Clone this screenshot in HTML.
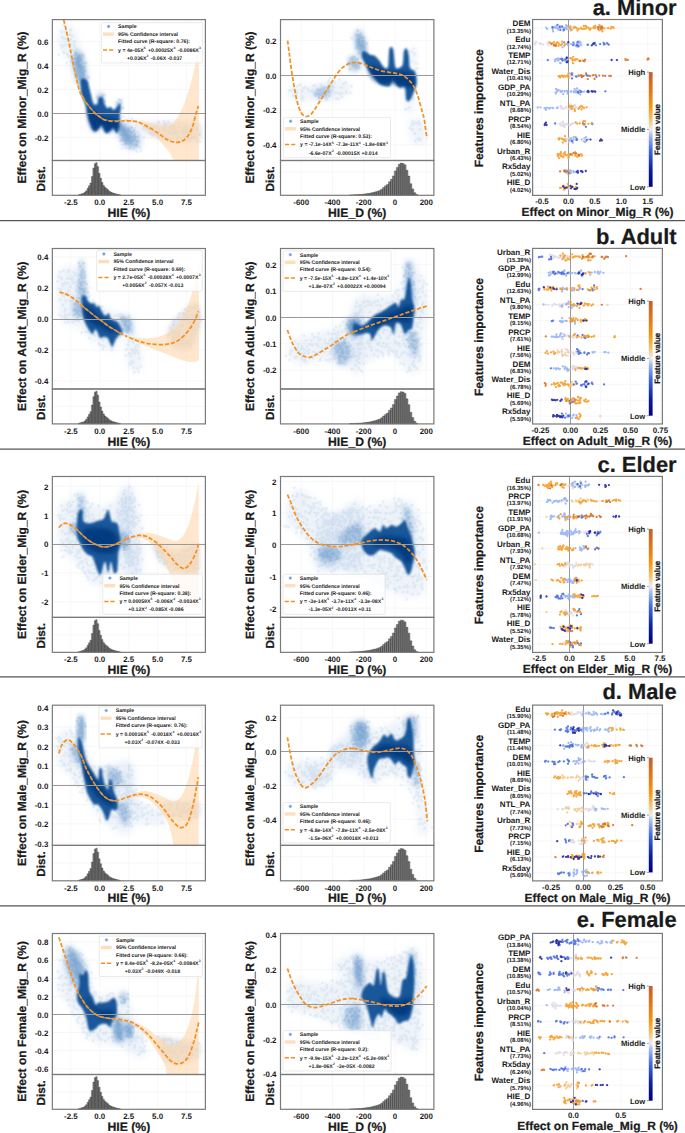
<!DOCTYPE html>
<html><head><meta charset="utf-8"><style>
html,body{margin:0;padding:0;background:#fff;}
svg{display:block;text-rendering:geometricPrecision;}
.k{stroke:#1a1a1a;stroke-width:0.22px;}
</style></head><body>
<svg width="685" height="1133" viewBox="0 0 685 1133" font-family="Liberation Sans, sans-serif" font-weight="bold">
<defs>
<filter id="b10" x="-30%" y="-30%" width="160%" height="160%"><feGaussianBlur stdDeviation="1.0"/></filter><filter id="b20" x="-30%" y="-30%" width="160%" height="160%"><feGaussianBlur stdDeviation="2.0"/></filter><filter id="b25" x="-30%" y="-30%" width="160%" height="160%"><feGaussianBlur stdDeviation="2.5"/></filter><filter id="b35" x="-30%" y="-30%" width="160%" height="160%"><feGaussianBlur stdDeviation="3.5"/></filter>
<linearGradient id="cbar" x1="0" y1="1" x2="0" y2="0">
<stop offset="0" stop-color="#00007a"/>
<stop offset="0.15" stop-color="#0a1fa0"/>
<stop offset="0.32" stop-color="#3f6ae0"/>
<stop offset="0.45" stop-color="#a9bdf0"/>
<stop offset="0.5" stop-color="#ecebf0"/>
<stop offset="0.58" stop-color="#f3c77a"/>
<stop offset="0.7" stop-color="#f7960c"/>
<stop offset="0.85" stop-color="#e0761a"/>
<stop offset="1" stop-color="#c0602a"/>
</linearGradient>
</defs>
<rect width="685" height="1133" fill="#fff"/>
<line x1="70.85" y1="19.6" x2="70.85" y2="195.3" stroke="#f3f3f3" stroke-width="0.7"/>
<line x1="99.75" y1="19.6" x2="99.75" y2="195.3" stroke="#f3f3f3" stroke-width="0.7"/>
<line x1="128.65" y1="19.6" x2="128.65" y2="195.3" stroke="#f3f3f3" stroke-width="0.7"/>
<line x1="157.55" y1="19.6" x2="157.55" y2="195.3" stroke="#f3f3f3" stroke-width="0.7"/>
<line x1="186.45" y1="19.6" x2="186.45" y2="195.3" stroke="#f3f3f3" stroke-width="0.7"/>
<line x1="52.35" y1="41.50" x2="205.4" y2="41.50" stroke="#f3f3f3" stroke-width="0.7"/>
<line x1="52.35" y1="65.50" x2="205.4" y2="65.50" stroke="#f3f3f3" stroke-width="0.7"/>
<line x1="52.35" y1="89.50" x2="205.4" y2="89.50" stroke="#f3f3f3" stroke-width="0.7"/>
<line x1="52.35" y1="113.50" x2="205.4" y2="113.50" stroke="#f3f3f3" stroke-width="0.7"/>
<line x1="52.35" y1="137.50" x2="205.4" y2="137.50" stroke="#f3f3f3" stroke-width="0.7"/>
<line x1="52.35" y1="177.90" x2="205.4" y2="177.90" stroke="#f3f3f3" stroke-width="0.7"/>
<clipPath id="clip_aL"><rect x="52.35" y="19.6" width="153.05" height="140.90"/></clipPath>
<g clip-path="url(#clip_aL)">
<path d="M140.00,124.00 C142.00,122.00 152.50,122.33 160.00,122.00 C167.50,121.67 178.33,121.67 185.00,122.00 C191.67,122.33 197.50,121.00 200.00,124.00 C202.50,127.00 202.50,137.00 200.00,140.00 C197.50,143.00 190.83,142.00 185.00,142.00 C179.17,142.00 171.17,141.33 165.00,140.00 C158.83,138.67 152.17,136.67 148.00,134.00 C143.83,131.33 138.00,126.00 140.00,124.00Z" fill="#d0d3da" fill-opacity="0.6" filter="url(#b25)"/>
<path d="M186.4 129.3h0M168.8 131.4h0M180.9 139.1h0M189.6 132.3h0M165.3 139.1h0M196.6 129.5h0M153.4 131.7h0M168.9 131.7h0M153.4 127.5h0M151.8 128.6h0M158.6 121.9h0M191.9 131.6h0M174.2 126.1h0M199.8 141.6h0M148.0 129.1h0M184.2 135.7h0M196.3 128.4h0M190.6 134.2h0M157.5 134.8h0M194.3 137.4h0M173.3 132.9h0M189.1 131.7h0M150.7 133.2h0M184.9 136.8h0M163.2 128.0h0M169.4 139.3h0M171.5 128.4h0M168.4 122.1h0M200.0 134.4h0M165.1 124.2h0M187.7 132.0h0M191.2 129.2h0M174.8 131.0h0M155.8 132.4h0M189.4 140.5h0M194.2 137.1h0M190.1 132.3h0M174.4 131.1h0M174.3 128.5h0M172.9 133.7h0M158.5 131.7h0M173.4 133.8h0M176.7 132.9h0M152.4 135.0h0M191.9 138.0h0M189.1 138.2h0M179.0 122.7h0M185.1 127.5h0M164.1 121.3h0M150.3 132.4h0M150.5 129.5h0M184.6 130.9h0M158.5 129.4h0M165.1 127.6h0M170.2 127.2h0M177.4 138.9h0M182.3 132.7h0M186.6 130.6h0M154.8 134.4h0M163.2 134.8h0M158.1 137.3h0M144.5 127.2h0M197.1 141.1h0M182.9 129.4h0M189.2 141.5h0M174.2 126.0h0M181.7 132.0h0M164.6 129.9h0" stroke="#9aa0ac" stroke-opacity="0.15" stroke-width="3.0" stroke-linecap="round" fill="none"/>
<path d="M58.00,38.00 C58.00,33.67 60.00,30.00 62.00,28.00 C64.00,26.00 67.67,25.00 70.00,26.00 C72.33,27.00 74.33,30.67 76.00,34.00 C77.67,37.33 78.67,41.67 80.00,46.00 C81.33,50.33 83.00,55.33 84.00,60.00 C85.00,64.67 86.33,70.67 86.00,74.00 C85.67,77.33 83.67,80.33 82.00,80.00 C80.33,79.67 78.00,75.00 76.00,72.00 C74.00,69.00 72.33,65.00 70.00,62.00 C67.67,59.00 64.00,58.00 62.00,54.00 C60.00,50.00 58.00,42.33 58.00,38.00Z" fill="#bcd2ea" fill-opacity="0.26" filter="url(#b35)"/>
<path d="M115.00,122.00 C115.67,119.00 119.17,118.33 122.00,118.00 C124.83,117.67 128.67,118.67 132.00,120.00 C135.33,121.33 140.00,123.33 142.00,126.00 C144.00,128.67 144.33,132.33 144.00,136.00 C143.67,139.67 142.00,145.33 140.00,148.00 C138.00,150.67 134.67,152.33 132.00,152.00 C129.33,151.67 126.33,148.67 124.00,146.00 C121.67,143.33 119.50,140.00 118.00,136.00 C116.50,132.00 114.33,125.00 115.00,122.00Z" fill="#bcd2ea" fill-opacity="0.26" filter="url(#b35)"/>
<path d="M62.1 47.2h0M80.1 76.1h0M79.7 64.6h0M70.0 34.7h0M76.4 63.4h0M61.8 31.7h0M82.2 68.0h0M76.0 53.2h0M65.8 44.4h0M63.4 25.1h0M74.7 47.0h0M66.0 31.4h0M64.7 38.6h0M71.2 56.3h0M73.9 50.5h0M75.3 50.9h0M76.2 61.6h0M63.6 52.4h0M72.6 36.2h0M68.9 56.4h0M80.1 75.3h0M75.7 72.7h0M78.4 57.8h0M77.1 74.2h0M62.2 37.6h0M76.1 62.2h0M68.1 55.1h0M81.8 58.9h0M83.1 73.2h0M74.6 63.5h0M77.2 49.1h0M64.0 46.1h0M74.0 44.5h0M61.0 44.7h0M70.6 29.7h0M77.2 61.8h0M67.2 54.0h0M66.5 62.7h0M79.1 66.0h0M83.7 57.6h0M67.5 40.1h0M58.7 54.4h0M74.3 41.5h0M71.2 44.4h0M72.5 49.9h0M69.3 45.9h0M78.7 61.9h0M70.7 60.8h0M70.6 39.4h0M79.1 56.1h0M122.0 145.0h0M135.0 130.0h0M119.1 126.6h0M128.5 120.9h0M119.2 118.1h0M135.5 148.0h0M122.9 116.5h0M131.3 144.8h0M143.8 137.4h0M126.0 148.1h0M116.9 131.5h0M127.9 133.0h0M123.4 126.9h0M137.8 132.3h0M131.3 127.0h0M134.2 132.2h0M129.8 148.9h0M140.8 150.7h0M123.5 132.6h0M136.9 151.6h0M122.2 148.5h0M141.8 120.9h0M120.6 129.6h0M126.1 120.3h0M135.1 145.1h0M129.4 143.9h0M134.9 128.2h0M133.3 149.1h0M136.3 125.2h0M130.3 131.2h0M135.0 136.7h0M130.7 121.1h0M124.3 129.7h0M128.4 139.8h0M133.0 145.0h0M136.8 143.9h0M138.3 146.5h0M139.8 134.9h0M126.2 120.6h0M127.1 142.4h0M131.9 118.8h0M138.1 132.2h0M140.3 147.4h0M125.6 129.9h0" stroke="#5b8fc8" stroke-opacity="0.1" stroke-width="3.0" stroke-linecap="round" fill="none"/>
<path d="M73.36,57.22 C74.29,54.22 78.42,53.10 80.10,54.97 C81.79,56.84 82.91,63.96 83.47,68.46 C84.04,72.96 84.41,79.33 83.47,81.95 C82.54,84.57 79.35,85.70 77.85,84.20 C76.36,82.70 75.23,77.45 74.48,72.96 C73.73,68.46 72.42,60.22 73.36,57.22Z" fill="#5a8fc6" fill-opacity="0.42" filter="url(#b25)"/>
<path d="M119.45,124.67 C120.57,123.17 125.44,125.04 128.44,126.91 C131.44,128.79 135.56,132.91 137.43,135.91 C139.31,138.90 140.80,143.03 139.68,144.90 C138.56,146.77 133.68,148.65 130.69,147.15 C127.69,145.65 123.57,139.65 121.69,135.91 C119.82,132.16 118.32,126.16 119.45,124.67Z" fill="#5a8fc6" fill-opacity="0.42" filter="url(#b25)"/>
<path d="M74.00,56.00 C74.33,53.00 76.50,50.00 78.00,50.00 C79.50,50.00 81.67,52.67 83.00,56.00 C84.33,59.33 85.17,66.00 86.00,70.00 C86.83,74.00 88.33,77.33 88.00,80.00 C87.67,82.67 85.33,86.00 84.00,86.00 C82.67,86.00 81.33,83.00 80.00,80.00 C78.67,77.00 77.00,72.00 76.00,68.00 C75.00,64.00 73.67,59.00 74.00,56.00Z" fill="#5a8fc6" fill-opacity="0.42" filter="url(#b25)"/>
<path d="M118.00,126.00 C118.83,124.33 122.33,123.33 124.00,124.00 C125.67,124.67 126.67,127.33 128.00,130.00 C129.33,132.67 132.00,137.33 132.00,140.00 C132.00,142.67 129.67,145.67 128.00,146.00 C126.33,146.33 123.50,144.00 122.00,142.00 C120.50,140.00 119.67,136.67 119.00,134.00 C118.33,131.33 117.17,127.67 118.00,126.00Z" fill="#5a8fc6" fill-opacity="0.42" filter="url(#b25)"/>
<path d="M97.00,96.00 C97.17,94.17 98.83,92.17 100.00,92.00 C101.17,91.83 103.33,93.33 104.00,95.00 C104.67,96.67 104.83,100.67 104.00,102.00 C103.17,103.33 100.17,104.00 99.00,103.00 C97.83,102.00 96.83,97.83 97.00,96.00Z" fill="#5a8fc6" fill-opacity="0.42" filter="url(#b25)"/>
<path d="M116.00,104.00 C116.33,102.17 118.00,99.17 119.00,99.00 C120.00,98.83 121.67,101.17 122.00,103.00 C122.33,104.83 121.83,108.83 121.00,110.00 C120.17,111.17 117.83,111.00 117.00,110.00 C116.17,109.00 115.67,105.83 116.00,104.00Z" fill="#5a8fc6" fill-opacity="0.42" filter="url(#b25)"/>
<path d="M79.0 78.6h0M84.7 67.0h0M80.9 71.3h0M84.0 78.1h0M81.8 79.0h0M77.5 70.5h0M76.3 68.2h0M82.6 77.7h0M75.5 52.9h0M80.2 67.8h0M73.2 66.7h0M75.3 63.7h0M80.9 76.3h0M82.8 70.2h0M79.0 72.3h0M76.0 71.2h0M79.1 71.3h0M76.2 63.2h0M76.8 73.5h0M78.4 85.2h0M75.6 73.2h0M83.9 75.9h0M76.6 67.9h0M78.0 84.1h0M79.7 76.1h0M83.7 81.9h0M78.7 66.3h0M77.1 77.9h0M77.2 75.5h0M78.0 64.8h0M80.2 58.2h0M80.5 65.3h0M79.1 65.2h0M76.2 77.5h0M80.9 66.7h0M80.9 71.5h0M131.5 127.8h0M125.3 136.2h0M130.2 147.6h0M131.5 137.2h0M122.8 132.0h0M121.8 131.1h0M125.2 136.4h0M127.9 138.8h0M135.8 137.2h0M133.8 139.2h0M136.5 145.2h0M124.4 135.7h0M125.6 131.8h0M124.1 129.2h0M134.6 134.7h0M123.6 140.2h0M125.7 140.4h0M120.6 130.4h0M126.9 134.9h0M124.9 130.6h0M120.3 133.6h0M122.7 127.7h0M131.4 132.4h0M134.8 140.0h0M137.2 136.8h0M132.5 136.6h0M129.6 137.3h0M128.8 130.7h0M138.6 140.8h0M128.4 128.7h0M122.8 130.5h0M133.7 130.7h0M122.8 138.5h0M130.1 135.9h0M122.6 133.9h0M134.8 136.5h0M130.8 142.0h0M132.4 140.4h0M136.8 141.4h0M127.7 136.1h0M123.0 139.1h0M138.2 137.0h0M76.8 64.2h0M75.2 55.1h0M82.7 74.3h0M82.6 78.6h0M85.1 70.9h0M75.8 58.6h0M87.4 83.2h0M81.1 69.0h0M82.3 80.2h0M88.4 77.5h0M83.4 75.0h0M83.8 72.0h0M76.1 69.3h0M83.5 66.9h0M78.2 59.6h0M78.4 72.2h0M80.4 68.7h0M80.9 69.7h0M78.9 55.9h0M77.6 66.4h0M81.6 55.2h0M84.9 81.7h0M82.2 73.1h0M84.6 62.9h0M77.0 58.5h0M80.6 60.5h0M83.4 55.2h0M72.1 62.0h0M82.4 54.4h0M81.2 68.7h0M80.9 56.1h0M86.2 63.0h0M85.0 70.4h0M73.2 59.6h0M79.0 61.1h0M76.4 67.7h0M76.4 69.6h0M82.9 69.6h0M78.1 61.6h0M77.4 66.4h0M85.4 80.8h0M124.5 132.5h0M126.0 139.2h0M124.7 134.8h0M125.2 144.0h0M124.6 135.9h0M119.7 130.0h0M121.5 125.7h0M122.1 135.2h0M130.6 137.5h0M125.3 140.5h0M127.2 136.2h0M121.4 124.5h0M123.4 140.7h0M120.9 126.0h0M124.6 133.7h0M122.4 131.3h0M120.7 140.5h0M125.4 136.8h0M120.6 125.6h0M118.9 128.8h0M120.7 134.5h0M100.9 99.6h0M102.6 95.0h0M96.9 97.2h0M98.0 96.3h0M103.9 94.9h0M102.3 99.5h0M105.1 101.3h0M103.4 95.7h0M100.5 102.9h0M99.2 99.7h0M123.2 108.2h0M119.3 99.9h0M120.1 103.6h0M118.5 105.7h0M117.0 109.0h0M118.3 107.2h0M121.0 100.4h0M117.5 103.2h0" stroke="#3a75b5" stroke-opacity="0.14" stroke-width="2.8" stroke-linecap="round" fill="none"/>
<path d="M81.20,79.00 C82.28,78.27 85.42,77.97 87.00,80.40 C88.58,82.83 89.60,89.70 90.70,93.60 C91.80,97.50 92.50,102.10 93.60,103.80 C94.70,105.50 96.45,104.77 97.30,103.80 C98.15,102.83 97.85,99.10 98.70,98.00 C99.55,96.90 101.42,96.23 102.40,97.20 C103.38,98.17 103.75,101.97 104.60,103.80 C105.45,105.63 106.53,107.72 107.50,108.20 C108.47,108.68 109.43,106.47 110.40,106.70 C111.37,106.93 112.33,109.35 113.30,109.60 C114.27,109.85 115.22,109.17 116.20,108.20 C117.18,107.23 118.47,104.05 119.20,103.80 C119.93,103.55 120.48,104.75 120.60,106.70 C120.72,108.65 120.27,111.60 119.90,115.50 C119.53,119.40 119.02,127.18 118.40,130.10 C117.78,133.02 117.05,133.48 116.20,133.00 C115.35,132.52 114.27,127.68 113.30,127.20 C112.33,126.72 111.37,129.13 110.40,130.10 C109.43,131.07 108.47,132.77 107.50,133.00 C106.53,133.23 105.58,132.97 104.60,131.50 C103.62,130.03 102.58,124.68 101.60,124.20 C100.62,123.72 99.67,127.38 98.70,128.60 C97.73,129.82 96.77,131.25 95.80,131.50 C94.83,131.75 93.75,131.32 92.90,130.10 C92.05,128.88 91.43,126.15 90.70,124.20 C89.97,122.25 89.23,121.07 88.50,118.40 C87.77,115.73 87.15,111.37 86.30,108.20 C85.45,105.03 84.25,101.83 83.40,99.40 C82.55,96.97 81.68,96.03 81.20,93.60 C80.72,91.17 80.50,87.23 80.50,84.80 C80.50,82.37 80.12,79.73 81.20,79.00Z" fill="#0c4f96" fill-opacity="0.95" filter="url(#b10)"/>
<path d="M87.77,108.18 C88.86,106.72 93.00,111.09 95.80,112.55 C98.59,114.01 101.15,115.96 104.55,116.93 C107.96,117.91 113.80,117.66 116.23,118.39 C118.67,119.12 118.79,119.37 119.15,121.31 C119.52,123.26 119.40,128.86 118.42,130.07 C117.45,131.29 115.14,128.25 113.31,128.61 C111.49,128.98 109.42,132.75 107.47,132.26 C105.53,131.78 103.58,125.94 101.64,125.69 C99.69,125.45 97.38,130.32 95.80,130.80 C94.21,131.29 93.24,130.19 92.15,128.61 C91.05,127.03 89.96,124.72 89.23,121.31 C88.50,117.91 86.67,109.64 87.77,108.18Z" fill="#05397d" fill-opacity="0.9" filter="url(#b20)"/>
<path d="M63.70,19.10 C64.42,22.13 66.55,30.60 68.00,37.30 C69.45,44.00 70.57,50.77 72.40,59.30 C74.23,67.83 77.23,82.25 79.00,88.50 C80.77,94.75 81.67,94.37 83.00,96.80 C84.33,99.23 85.67,101.22 87.00,103.10 C88.33,104.98 89.53,106.40 91.00,108.10 C92.47,109.80 94.30,111.93 95.80,113.30 C97.30,114.67 98.53,115.32 100.00,116.30 C101.47,117.28 102.10,118.50 104.60,119.20 C107.10,119.90 111.43,120.35 115.00,120.50 C118.57,120.65 122.22,120.02 126.00,120.10 C129.78,120.18 133.80,120.50 137.70,121.00 C141.60,121.50 145.90,122.37 149.40,123.10 C152.90,123.83 155.78,124.92 158.70,125.40 C161.62,125.88 164.37,126.58 166.90,126.00 C169.43,125.42 171.77,123.95 173.90,121.90 C176.03,119.85 177.95,116.82 179.70,113.70 C181.45,110.58 182.83,107.28 184.40,103.20 C185.97,99.12 187.55,94.45 189.10,89.20 C190.65,83.95 192.55,76.57 193.70,71.70 C194.85,66.83 195.28,64.28 196.00,60.00 C196.72,55.72 197.50,49.67 198.00,46.00 C198.50,42.33 198.83,39.33 199.00,38.00 L199.00,160.30 C195.08,160.30 180.27,161.43 175.50,160.30 C170.73,159.17 172.42,156.00 170.40,153.50 C168.38,151.00 165.73,148.03 163.40,145.30 C161.07,142.57 158.73,139.63 156.40,137.10 C154.07,134.57 152.52,132.33 149.40,130.10 C146.28,127.87 141.60,125.17 137.70,123.70 C133.80,122.23 129.78,121.75 126.00,121.30 C122.22,120.85 118.57,121.12 115.00,121.00 C111.43,120.88 107.10,121.15 104.60,120.60 C102.10,120.05 101.47,118.68 100.00,117.70 C98.53,116.72 97.30,116.07 95.80,114.70 C94.30,113.33 92.47,111.20 91.00,109.50 C89.53,107.80 88.33,106.38 87.00,104.50 C85.67,102.62 84.33,100.63 83.00,98.20 C81.67,95.77 80.77,96.15 79.00,89.90 C77.23,83.65 74.23,69.23 72.40,60.70 C70.57,52.17 69.45,45.40 68.00,38.70 C66.55,32.00 64.42,23.53 63.70,20.50Z" fill="#fdd7ac" fill-opacity="0.6"/>
<line x1="52.35" y1="113.50" x2="205.4" y2="113.50" stroke="#9a9a9a" stroke-width="1"/>
<path d="M63.70,19.80 C64.42,22.83 66.55,31.30 68.00,38.00 C69.45,44.70 70.57,51.47 72.40,60.00 C74.23,68.53 77.23,82.95 79.00,89.20 C80.77,95.45 81.67,95.07 83.00,97.50 C84.33,99.93 85.67,101.92 87.00,103.80 C88.33,105.68 89.53,107.10 91.00,108.80 C92.47,110.50 94.30,112.63 95.80,114.00 C97.30,115.37 98.53,116.02 100.00,117.00 C101.47,117.98 102.38,119.18 104.60,119.90 C106.82,120.62 110.40,121.12 113.30,121.30 C116.20,121.48 119.88,121.10 122.00,121.00 C124.12,120.90 123.38,120.55 126.00,120.70 C128.62,120.85 133.80,120.73 137.70,121.90 C141.60,123.07 145.90,125.75 149.40,127.70 C152.90,129.65 155.78,131.65 158.70,133.60 C161.62,135.55 164.18,137.95 166.90,139.40 C169.62,140.85 172.48,142.00 175.00,142.30 C177.52,142.60 179.85,142.27 182.00,141.20 C184.15,140.13 186.13,138.33 187.90,135.90 C189.67,133.47 191.25,130.30 192.60,126.60 C193.95,122.90 195.03,117.12 196.00,113.70 C196.97,110.28 198.00,107.37 198.40,106.10" fill="none" stroke="#f7901e" stroke-width="1.75" stroke-dasharray="4.2 1.9"/>
</g>
<rect x="101.40" y="22.70" width="101.00" height="40.30" rx="1" fill="#fff" fill-opacity="0.8" stroke="#dcdcdc" stroke-width="0.6"/>
<circle cx="108.60" cy="26.50" r="1.4" fill="#7593d2" stroke="#b5c5ea" stroke-width="0.5"/>
<rect x="103.00" y="32.40" width="10.8" height="3.4" fill="#fdd7ac" fill-opacity="0.8"/>
<line x1="103.00" y1="49.90" x2="113.80" y2="49.90" stroke="#f7901e" stroke-width="1.5" stroke-dasharray="4.2 1.9"/>
<text x="118.10" y="28.30" font-size="5.2" text-anchor="start" fill="#1a1a1a" >Sample</text>
<text x="118.10" y="35.90" font-size="5.2" text-anchor="start" fill="#1a1a1a" >95% Confidence interval</text>
<text x="118.10" y="43.20" font-size="5.2" text-anchor="start" fill="#1a1a1a" >Fitted curve (R-square: 0.76):</text>
<text x="118.10" y="51.70" font-size="5.2" text-anchor="start" fill="#1a1a1a" ><tspan dy="0" dx="0">y&#160;=&#160;4e-05X</tspan><tspan font-size="3.4" dy="-2.9" dx="0.2">5</tspan><tspan dy="2.9" dx="0.9">&#160;+0.00025X</tspan><tspan font-size="3.4" dy="-2.9" dx="0.2">4</tspan><tspan dy="2.9" dx="0.9">&#160;-0.0086X</tspan><tspan font-size="3.4" dy="-2.9" dx="0.2">3</tspan></text>
<text x="126.90" y="59.80" font-size="5.2" text-anchor="start" fill="#1a1a1a" ><tspan dy="0" dx="0">+0.036X</tspan><tspan font-size="3.4" dy="-2.9" dx="0.2">2</tspan><tspan dy="2.9" dx="0.9">&#160;-0.06X&#160;-0.037</tspan></text>
<path d="M78.35,195.30V194.66h1.45V195.30ZM79.80,195.30V194.21h1.45V195.30ZM81.25,195.30V193.76h1.45V195.30ZM82.70,195.30V193.32h1.45V195.30ZM84.15,195.30V192.28h1.45V195.30ZM85.60,195.30V190.76h1.45V195.30ZM87.05,195.30V188.28h1.45V195.30ZM88.50,195.30V185.75h1.45V195.30ZM89.95,195.30V183.11h1.45V195.30ZM91.40,195.30V176.47h1.45V195.30ZM92.85,195.30V168.12h1.45V195.30ZM94.30,195.30V163.63h1.45V195.30ZM95.75,195.30V162.63h1.45V195.30ZM97.20,195.30V166.60h1.45V195.30ZM98.65,195.30V173.37h1.45V195.30ZM100.10,195.30V178.28h1.45V195.30ZM101.55,195.30V182.57h1.45V195.30ZM103.00,195.30V185.42h1.45V195.30ZM104.45,195.30V187.36h1.45V195.30ZM105.90,195.30V188.62h1.45V195.30ZM107.35,195.30V189.81h1.45V195.30ZM108.80,195.30V191.20h1.45V195.30ZM110.25,195.30V192.11h1.45V195.30ZM111.70,195.30V192.79h1.45V195.30ZM113.15,195.30V193.29h1.45V195.30ZM114.60,195.30V193.67h1.45V195.30ZM116.05,195.30V194.04h1.45V195.30ZM117.50,195.30V194.38h1.45V195.30ZM118.95,195.30V194.71h1.45V195.30Z" fill="#808080" stroke="#2e2e2e" stroke-width="0.35"/>
<text x="48.35" y="44.90" font-size="7.9" text-anchor="end" fill="#1a1a1a" >0.6</text>
<text x="48.35" y="68.90" font-size="7.9" text-anchor="end" fill="#1a1a1a" >0.4</text>
<text x="48.35" y="92.90" font-size="7.9" text-anchor="end" fill="#1a1a1a" >0.2</text>
<text x="48.35" y="116.90" font-size="7.9" text-anchor="end" fill="#1a1a1a" >0.0</text>
<text x="48.35" y="140.90" font-size="7.9" text-anchor="end" fill="#1a1a1a" >-0.2</text>
<text x="70.85" y="205.30" font-size="7.9" text-anchor="middle" fill="#1a1a1a" >-2.5</text>
<text x="99.75" y="205.30" font-size="7.9" text-anchor="middle" fill="#1a1a1a" >0.0</text>
<text x="128.65" y="205.30" font-size="7.9" text-anchor="middle" fill="#1a1a1a" >2.5</text>
<text x="157.55" y="205.30" font-size="7.9" text-anchor="middle" fill="#1a1a1a" >5.0</text>
<text x="186.45" y="205.30" font-size="7.9" text-anchor="middle" fill="#1a1a1a" >7.5</text>
<text class="k" x="128.88" y="217.10" font-size="12.2" text-anchor="middle" fill="#1a1a1a" >HIE (%)</text>
<text class="k" transform="translate(25.75,107.45) rotate(-90)" font-size="12" text-anchor="middle" fill="#1a1a1a">Effect on Minor_Mig_R (%)</text>
<text class="k" transform="translate(45.45,178.80) rotate(-90)" font-size="11.7" text-anchor="middle" fill="#1a1a1a">Dist.</text>
<rect x="52.35" y="19.6" width="153.05" height="140.90" fill="none" stroke="#7a7a7a" stroke-width="1.2"/>
<rect x="52.35" y="160.5" width="153.05" height="34.80" fill="none" stroke="#7a7a7a" stroke-width="1.2"/>
<line x1="301.25" y1="19.6" x2="301.25" y2="195.3" stroke="#f3f3f3" stroke-width="0.7"/>
<line x1="332.50" y1="19.6" x2="332.50" y2="195.3" stroke="#f3f3f3" stroke-width="0.7"/>
<line x1="363.75" y1="19.6" x2="363.75" y2="195.3" stroke="#f3f3f3" stroke-width="0.7"/>
<line x1="395.00" y1="19.6" x2="395.00" y2="195.3" stroke="#f3f3f3" stroke-width="0.7"/>
<line x1="426.25" y1="19.6" x2="426.25" y2="195.3" stroke="#f3f3f3" stroke-width="0.7"/>
<line x1="280.5" y1="40.40" x2="433.9" y2="40.40" stroke="#f3f3f3" stroke-width="0.7"/>
<line x1="280.5" y1="75.20" x2="433.9" y2="75.20" stroke="#f3f3f3" stroke-width="0.7"/>
<line x1="280.5" y1="110.00" x2="433.9" y2="110.00" stroke="#f3f3f3" stroke-width="0.7"/>
<line x1="280.5" y1="144.80" x2="433.9" y2="144.80" stroke="#f3f3f3" stroke-width="0.7"/>
<line x1="280.5" y1="171.70" x2="433.9" y2="171.70" stroke="#f3f3f3" stroke-width="0.7"/>
<clipPath id="clip_aM"><rect x="280.5" y="19.6" width="153.40" height="140.90"/></clipPath>
<g clip-path="url(#clip_aM)">
<path d="M288.18,87.91 C289.73,86.35 293.04,86.15 297.52,85.57 C302.00,84.99 309.20,85.37 315.04,84.40 C320.88,83.43 327.49,80.31 332.55,79.73 C337.62,79.15 342.29,80.12 345.40,80.90 C348.52,81.68 350.46,82.65 351.24,84.40 C352.02,86.15 351.82,89.07 350.07,91.41 C348.32,93.74 344.62,96.86 340.73,98.42 C336.84,99.97 331.00,100.36 326.72,100.75 C322.43,101.14 319.90,100.95 315.04,100.75 C310.17,100.56 302.00,100.56 297.52,99.58 C293.04,98.61 289.73,96.86 288.18,94.91 C286.62,92.97 286.62,89.46 288.18,87.91Z" fill="#bcd2ea" fill-opacity="0.26" filter="url(#b35)"/>
<path d="M353.68,34.94 C354.50,32.08 356.95,29.63 358.58,30.04 C360.22,30.44 362.26,34.12 363.49,37.39 C364.71,40.66 365.94,46.59 365.94,49.66 C365.94,52.72 364.92,54.77 363.49,55.79 C362.06,56.81 358.99,57.22 357.36,55.79 C355.72,54.36 354.29,50.68 353.68,47.20 C353.07,43.73 352.86,37.80 353.68,34.94Z" fill="#bcd2ea" fill-opacity="0.26" filter="url(#b35)"/>
<path d="M411.31,48.43 C411.93,43.93 415.20,46.39 416.22,49.66 C417.24,52.93 417.44,63.35 417.44,68.05 C417.44,72.75 417.03,76.43 416.22,77.86 C415.40,79.29 413.36,81.54 412.54,76.63 C411.72,71.73 410.70,52.93 411.31,48.43Z" fill="#bcd2ea" fill-opacity="0.26" filter="url(#b35)"/>
<path d="M403.95,90.12 C404.98,88.08 409.68,90.12 411.31,92.57 C412.95,95.03 414.17,100.95 413.76,104.84 C413.36,108.72 410.29,115.87 408.86,115.87 C407.43,115.87 406.00,109.13 405.18,104.84 C404.36,100.55 402.93,92.17 403.95,90.12Z" fill="#bcd2ea" fill-opacity="0.26" filter="url(#b35)"/>
<path d="M410.00,121.00 C411.33,118.00 415.50,117.50 418.00,118.00 C420.50,118.50 423.83,120.00 425.00,124.00 C426.17,128.00 426.50,138.50 425.00,142.00 C423.50,145.50 418.50,146.00 416.00,145.00 C413.50,144.00 411.00,140.00 410.00,136.00 C409.00,132.00 408.67,124.00 410.00,121.00Z" fill="#bcd2ea" fill-opacity="0.26" filter="url(#b35)"/>
<path d="M350.00,59.47 C351.23,57.63 356.13,58.85 357.36,60.69 C358.58,62.53 358.58,68.66 357.36,70.50 C356.13,72.34 351.23,73.57 350.00,71.73 C348.77,69.89 348.77,61.31 350.00,59.47Z" fill="#bcd2ea" fill-opacity="0.26" filter="url(#b35)"/>
<path d="M321.3 87.6h0M320.8 84.4h0M291.8 89.9h0M319.1 98.3h0M336.3 98.7h0M351.5 86.3h0M295.6 92.2h0M293.9 95.7h0M339.6 79.2h0M289.3 90.4h0M300.0 84.9h0M321.5 87.2h0M345.7 82.2h0M323.6 89.2h0M308.2 90.4h0M329.2 95.9h0M343.6 83.7h0M338.8 98.8h0M296.0 100.2h0M300.0 84.2h0M322.0 86.5h0M336.2 92.7h0M334.6 82.6h0M304.7 86.9h0M304.3 88.3h0M311.0 90.9h0M341.9 97.1h0M327.0 99.6h0M307.7 89.1h0M302.8 99.9h0M328.4 82.8h0M294.0 95.9h0M342.2 93.2h0M333.4 86.5h0M314.6 85.2h0M312.3 91.3h0M296.8 93.1h0M339.4 93.0h0M295.9 90.7h0M330.4 77.9h0M293.3 95.8h0M303.1 96.6h0M301.3 98.3h0M304.9 87.4h0M325.9 96.6h0M329.2 80.3h0M302.5 91.2h0M297.2 86.0h0M350.2 92.7h0M340.5 93.9h0M331.1 85.0h0M325.8 97.3h0M341.4 87.4h0M313.7 85.4h0M333.3 81.7h0M313.9 94.1h0M303.0 88.3h0M346.1 93.1h0M346.6 91.2h0M360.5 43.6h0M351.5 38.0h0M362.5 38.3h0M362.6 40.7h0M355.9 47.1h0M356.0 44.7h0M362.3 36.6h0M358.7 44.4h0M362.9 45.3h0M360.4 50.4h0M360.4 49.8h0M355.1 48.0h0M357.0 40.8h0M415.8 63.4h0M414.4 53.6h0M412.5 61.2h0M416.7 68.5h0M412.7 52.0h0M415.1 53.8h0M414.1 54.9h0M411.7 74.9h0M410.2 51.1h0M413.8 48.5h0M406.1 109.3h0M413.7 97.7h0M410.5 98.3h0M408.8 101.0h0M407.7 94.5h0M405.9 93.7h0M406.5 97.9h0M413.1 99.7h0M408.9 107.5h0M409.8 94.8h0M406.8 94.8h0M405.5 109.1h0M408.5 92.3h0M412.6 121.3h0M417.5 122.8h0M412.0 125.0h0M420.2 138.8h0M415.0 122.4h0M415.4 123.1h0M412.5 129.5h0M415.4 141.2h0M414.8 133.6h0M418.6 121.6h0M412.2 123.2h0M420.0 129.4h0M410.0 128.1h0M420.8 140.0h0M420.3 123.2h0M419.4 124.0h0M419.3 139.6h0M413.8 123.9h0M417.9 138.5h0M351.2 62.2h0M349.4 60.5h0M349.2 64.5h0M352.9 59.3h0" stroke="#5b8fc8" stroke-opacity="0.1" stroke-width="3.0" stroke-linecap="round" fill="none"/>
<path d="M348.91,57.54 C350.07,55.98 354.06,55.79 355.91,56.37 C357.76,56.96 359.32,58.90 360.00,61.04 C360.68,63.18 361.27,67.66 360.00,69.22 C358.73,70.78 354.26,70.97 352.41,70.39 C350.56,69.80 349.49,67.86 348.91,65.72 C348.32,63.57 347.74,59.10 348.91,57.54Z" fill="#5a8fc6" fill-opacity="0.42" filter="url(#b25)"/>
<path d="M313.87,90.24 C314.84,88.68 321.46,88.49 324.38,87.91 C327.30,87.32 330.61,85.37 331.39,86.74 C332.17,88.10 331.19,94.33 329.05,96.08 C326.91,97.83 321.07,98.22 318.54,97.25 C316.01,96.27 312.90,91.80 313.87,90.24Z" fill="#5a8fc6" fill-opacity="0.42" filter="url(#b25)"/>
<path d="M357.36,39.85 C357.77,37.19 360.83,36.78 362.26,38.62 C363.69,40.46 365.53,47.61 365.94,50.88 C366.35,54.15 365.74,57.63 364.71,58.24 C363.69,58.85 361.04,57.63 359.81,54.56 C358.58,51.50 356.95,42.50 357.36,39.85Z" fill="#5a8fc6" fill-opacity="0.42" filter="url(#b25)"/>
<path d="M354.90,33.71 C355.52,31.06 358.17,29.01 359.81,30.04 C361.44,31.06 363.69,36.17 364.71,39.85 C365.74,43.52 366.55,49.86 365.94,52.11 C365.33,54.36 362.67,54.36 361.04,53.33 C359.40,52.31 357.15,49.25 356.13,45.98 C355.11,42.71 354.29,36.37 354.90,33.71Z" fill="#5a8fc6" fill-opacity="0.42" filter="url(#b25)"/>
<path d="M353.0 63.3h0M357.6 62.7h0M353.3 65.7h0M354.5 57.6h0M358.6 68.0h0M353.5 56.7h0M351.5 63.3h0M348.6 63.2h0M356.4 68.2h0M358.2 64.2h0M351.0 57.8h0M357.1 59.3h0M358.7 65.4h0M350.0 69.4h0M353.8 63.5h0M351.7 58.9h0M356.4 66.6h0M354.7 57.1h0M356.3 67.1h0M355.6 64.4h0M323.5 92.9h0M324.9 94.4h0M327.9 87.2h0M320.5 95.0h0M329.4 85.4h0M323.3 93.9h0M324.4 87.4h0M315.9 93.1h0M318.4 94.1h0M319.0 95.9h0M320.2 90.0h0M323.3 93.7h0M315.5 95.5h0M329.2 91.9h0M327.9 90.0h0M318.7 98.0h0M317.6 94.1h0M317.8 89.8h0M316.2 95.2h0M357.9 42.9h0M357.7 48.7h0M363.4 41.9h0M357.6 48.1h0M364.1 59.2h0M365.2 56.3h0M363.6 46.3h0M366.6 44.1h0M363.7 47.7h0M364.1 41.2h0M363.4 53.2h0M364.9 47.6h0M363.2 46.4h0M358.0 40.9h0M358.5 53.3h0M364.4 44.8h0M363.9 37.7h0M357.6 46.4h0M362.3 46.9h0M357.5 30.4h0M356.1 35.0h0M360.4 46.0h0M359.6 35.3h0M357.5 35.5h0M362.4 53.4h0M361.0 37.3h0M357.7 40.8h0M358.9 37.5h0M360.9 45.8h0M358.9 42.0h0M366.9 53.1h0M361.1 34.4h0M358.7 40.0h0M366.5 42.9h0M359.9 36.7h0M357.7 39.4h0" stroke="#3a75b5" stroke-opacity="0.14" stroke-width="2.8" stroke-linecap="round" fill="none"/>
<path d="M363.49,50.88 C364.82,50.68 367.78,53.74 369.62,54.56 C371.46,55.38 372.89,54.77 374.52,55.79 C376.16,56.81 377.79,58.65 379.43,60.69 C381.06,62.74 382.90,67.03 384.33,68.05 C385.77,69.07 387.20,69.89 388.01,66.82 C388.83,63.76 388.63,52.93 389.24,49.66 C389.85,46.39 390.98,47.00 391.69,47.20 C392.41,47.41 392.92,47.61 393.53,50.88 C394.14,54.15 394.45,63.96 395.37,66.82 C396.29,69.68 397.82,68.46 399.05,68.05 C400.28,67.64 401.91,67.23 402.73,64.37 C403.55,61.51 403.24,53.44 403.95,50.88 C404.67,48.33 406.20,48.23 407.02,49.04 C407.84,49.86 408.35,52.62 408.86,55.79 C409.37,58.96 409.06,65.39 410.09,68.05 C411.11,70.71 413.97,69.28 414.99,71.73 C416.01,74.18 416.42,79.29 416.22,82.76 C416.01,86.24 414.79,89.71 413.76,92.57 C412.74,95.44 411.31,98.71 410.09,99.93 C408.86,101.16 407.22,101.98 406.41,99.93 C405.59,97.89 405.79,89.92 405.18,87.67 C404.57,85.42 403.55,86.44 402.73,86.44 C401.91,86.44 401.30,87.87 400.28,87.67 C399.25,87.47 397.82,86.85 396.60,85.22 C395.37,83.58 393.94,77.86 392.92,77.86 C391.90,77.86 391.49,83.79 390.47,85.22 C389.44,86.65 388.22,86.44 386.79,86.44 C385.36,86.44 383.31,85.83 381.88,85.22 C380.45,84.60 379.43,84.20 378.20,82.76 C376.98,81.33 375.75,78.27 374.52,76.63 C373.30,75.00 372.07,74.39 370.85,72.95 C369.62,71.52 368.39,70.09 367.17,68.05 C365.94,66.01 364.41,62.74 363.49,60.69 C362.57,58.65 361.65,57.42 361.65,55.79 C361.65,54.15 362.16,51.09 363.49,50.88Z" fill="#0c4f96" fill-opacity="0.95" filter="url(#b10)"/>
<path d="M368.39,65.60 C369.82,63.96 376.98,67.03 380.66,68.05 C384.33,69.07 386.38,71.12 390.47,71.73 C394.55,72.34 401.30,71.12 405.18,71.73 C409.06,72.34 412.13,73.16 413.76,75.41 C415.40,77.66 415.81,83.17 414.99,85.22 C414.17,87.26 411.52,87.67 408.86,87.67 C406.20,87.67 402.12,86.03 399.05,85.22 C395.98,84.40 393.53,83.17 390.47,82.76 C387.40,82.36 383.72,83.58 380.66,82.76 C377.59,81.95 374.12,80.72 372.07,77.86 C370.03,75.00 366.96,67.23 368.39,65.60Z" fill="#05397d" fill-opacity="0.9" filter="url(#b20)"/>
<line x1="280.5" y1="75.50" x2="433.9" y2="75.50" stroke="#9a9a9a" stroke-width="1"/>
<path d="M287.59,40.61 C287.88,42.84 288.66,48.88 289.34,54.04 C290.02,59.19 290.80,65.72 291.68,71.55 C292.55,77.39 293.63,83.82 294.60,89.07 C295.57,94.33 296.45,99.19 297.52,103.09 C298.59,106.98 299.66,110.19 301.02,112.43 C302.38,114.67 304.14,116.13 305.69,116.52 C307.25,116.91 308.81,116.03 310.36,114.77 C311.92,113.50 313.28,111.46 315.04,108.93 C316.79,106.40 318.93,102.70 320.88,99.58 C322.82,96.47 324.77,93.36 326.72,90.24 C328.66,87.13 330.61,83.91 332.55,80.90 C334.50,77.88 336.45,74.57 338.39,72.14 C340.34,69.71 342.29,67.80 344.23,66.30 C346.18,64.80 348.13,63.79 350.07,63.15 C352.02,62.50 353.88,62.34 355.91,62.45 C357.94,62.55 360.18,63.13 362.26,63.76 C364.34,64.39 366.35,65.39 368.39,66.21 C370.44,67.03 372.28,67.85 374.52,68.66 C376.77,69.48 379.43,70.50 381.88,71.12 C384.33,71.73 386.79,71.93 389.24,72.34 C391.69,72.75 394.55,73.16 396.60,73.57 C398.64,73.98 399.87,74.08 401.50,74.79 C403.14,75.51 404.77,76.53 406.41,77.86 C408.04,79.19 409.88,80.93 411.31,82.76 C412.74,84.60 413.76,86.24 414.99,88.90 C416.22,91.55 417.44,94.82 418.67,98.71 C419.90,102.59 421.43,108.82 422.35,112.19 C423.27,115.57 423.70,116.47 424.19,118.94 C424.68,121.41 424.95,124.52 425.30,127.00 C425.65,129.48 426.00,131.93 426.30,133.80 C426.60,135.67 426.97,137.47 427.10,138.20" fill="none" stroke="#f7901e" stroke-width="1.75" stroke-dasharray="4.2 1.9"/>
</g>
<rect x="283.40" y="117.40" width="107.10" height="40.30" rx="1" fill="#fff" fill-opacity="0.8" stroke="#dcdcdc" stroke-width="0.6"/>
<circle cx="290.60" cy="121.20" r="1.4" fill="#7593d2" stroke="#b5c5ea" stroke-width="0.5"/>
<rect x="285.00" y="127.10" width="10.8" height="3.4" fill="#fdd7ac" fill-opacity="0.8"/>
<line x1="285.00" y1="144.60" x2="295.80" y2="144.60" stroke="#f7901e" stroke-width="1.5" stroke-dasharray="4.2 1.9"/>
<text x="300.10" y="123.00" font-size="5.2" text-anchor="start" fill="#1a1a1a" >Sample</text>
<text x="300.10" y="130.60" font-size="5.2" text-anchor="start" fill="#1a1a1a" >95% Confidence interval</text>
<text x="300.10" y="137.90" font-size="5.2" text-anchor="start" fill="#1a1a1a" >Fitted curve (R-square: 0.53):</text>
<text x="300.10" y="146.40" font-size="5.2" text-anchor="start" fill="#1a1a1a" ><tspan dy="0" dx="0">y&#160;=&#160;-7.1e-14X</tspan><tspan font-size="3.4" dy="-2.9" dx="0.2">5</tspan><tspan dy="2.9" dx="0.9">&#160;-7.3e-11X</tspan><tspan font-size="3.4" dy="-2.9" dx="0.2">4</tspan><tspan dy="2.9" dx="0.9">&#160;-1.8e-08X</tspan><tspan font-size="3.4" dy="-2.9" dx="0.2">3</tspan></text>
<text x="308.90" y="154.50" font-size="5.2" text-anchor="start" fill="#1a1a1a" ><tspan dy="0" dx="0">-6.6e-07X</tspan><tspan font-size="3.4" dy="-2.9" dx="0.2">2</tspan><tspan dy="2.9" dx="0.9">&#160;-0.00015X&#160;+0.014</tspan></text>
<path d="M349.50,195.30V194.96h1.95V195.30ZM351.45,195.30V194.88h1.95V195.30ZM353.40,195.30V194.79h1.95V195.30ZM355.35,195.30V194.70h1.95V195.30ZM357.30,195.30V194.61h1.95V195.30ZM359.25,195.30V194.52h1.95V195.30ZM361.20,195.30V194.31h1.95V195.30ZM363.15,195.30V194.05h1.95V195.30ZM365.10,195.30V193.80h1.95V195.30ZM367.05,195.30V193.54h1.95V195.30ZM369.00,195.30V193.28h1.95V195.30ZM370.95,195.30V192.80h1.95V195.30ZM372.90,195.30V192.32h1.95V195.30ZM374.85,195.30V191.84h1.95V195.30ZM376.80,195.30V191.18h1.95V195.30ZM378.75,195.30V190.50h1.95V195.30ZM380.70,195.30V189.21h1.95V195.30ZM382.65,195.30V187.41h1.95V195.30ZM384.60,195.30V185.78h1.95V195.30ZM386.55,195.30V184.51h1.95V195.30ZM388.50,195.30V181.69h1.95V195.30ZM390.45,195.30V179.34h1.95V195.30ZM392.40,195.30V175.98h1.95V195.30ZM394.35,195.30V170.99h1.95V195.30ZM396.30,195.30V167.45h1.95V195.30ZM398.25,195.30V164.30h1.95V195.30ZM400.20,195.30V163.10h1.95V195.30ZM402.15,195.30V163.39h1.95V195.30ZM404.10,195.30V164.86h1.95V195.30ZM406.05,195.30V170.25h1.95V195.30ZM408.00,195.30V176.10h1.95V195.30ZM409.95,195.30V183.76h1.95V195.30ZM411.90,195.30V188.95h1.95V195.30ZM413.85,195.30V192.66h1.95V195.30ZM415.80,195.30V194.56h1.95V195.30Z" fill="#808080" stroke="#2e2e2e" stroke-width="0.35"/>
<text x="276.50" y="43.80" font-size="7.9" text-anchor="end" fill="#1a1a1a" >0.2</text>
<text x="276.50" y="78.60" font-size="7.9" text-anchor="end" fill="#1a1a1a" >0.0</text>
<text x="276.50" y="113.40" font-size="7.9" text-anchor="end" fill="#1a1a1a" >-0.2</text>
<text x="276.50" y="148.20" font-size="7.9" text-anchor="end" fill="#1a1a1a" >-0.4</text>
<text x="301.25" y="205.30" font-size="7.9" text-anchor="middle" fill="#1a1a1a" >-600</text>
<text x="332.50" y="205.30" font-size="7.9" text-anchor="middle" fill="#1a1a1a" >-400</text>
<text x="363.75" y="205.30" font-size="7.9" text-anchor="middle" fill="#1a1a1a" >-200</text>
<text x="395.00" y="205.30" font-size="7.9" text-anchor="middle" fill="#1a1a1a" >0</text>
<text x="426.25" y="205.30" font-size="7.9" text-anchor="middle" fill="#1a1a1a" >200</text>
<text class="k" x="357.20" y="217.10" font-size="12.2" text-anchor="middle" fill="#1a1a1a" >HIE_D (%)</text>
<text class="k" transform="translate(253.90,107.45) rotate(-90)" font-size="12" text-anchor="middle" fill="#1a1a1a">Effect on Minor_Mig_R (%)</text>
<text class="k" transform="translate(273.60,178.80) rotate(-90)" font-size="11.7" text-anchor="middle" fill="#1a1a1a">Dist.</text>
<rect x="280.5" y="19.6" width="153.40" height="140.90" fill="none" stroke="#7a7a7a" stroke-width="1.2"/>
<rect x="280.5" y="160.5" width="153.40" height="34.80" fill="none" stroke="#7a7a7a" stroke-width="1.2"/>
<line x1="541.95" y1="19.5" x2="541.95" y2="195.4" stroke="#f3f3f3" stroke-width="0.7"/>
<line x1="568.40" y1="19.5" x2="568.40" y2="195.4" stroke="#f3f3f3" stroke-width="0.7"/>
<line x1="594.85" y1="19.5" x2="594.85" y2="195.4" stroke="#f3f3f3" stroke-width="0.7"/>
<line x1="621.30" y1="19.5" x2="621.30" y2="195.4" stroke="#f3f3f3" stroke-width="0.7"/>
<line x1="647.75" y1="19.5" x2="647.75" y2="195.4" stroke="#f3f3f3" stroke-width="0.7"/>
<line x1="532.6" y1="28.10" x2="662.4" y2="28.10" stroke="#f3f3f3" stroke-width="0.7"/>
<text x="530.40" y="26.30" font-size="8.0" text-anchor="end" fill="#1a1a1a" >DEM</text>
<text x="531.00" y="32.60" font-size="6.0" text-anchor="end" fill="#1a1a1a" >(13.35%)</text>
<line x1="532.6" y1="44.01" x2="662.4" y2="44.01" stroke="#f3f3f3" stroke-width="0.7"/>
<text x="530.40" y="42.21" font-size="8.0" text-anchor="end" fill="#1a1a1a" >Edu</text>
<text x="531.00" y="48.51" font-size="6.0" text-anchor="end" fill="#1a1a1a" >(12.74%)</text>
<line x1="532.6" y1="59.92" x2="662.4" y2="59.92" stroke="#f3f3f3" stroke-width="0.7"/>
<text x="530.40" y="58.12" font-size="8.0" text-anchor="end" fill="#1a1a1a" >TEMP</text>
<text x="531.00" y="64.42" font-size="6.0" text-anchor="end" fill="#1a1a1a" >(12.71%)</text>
<line x1="532.6" y1="75.83" x2="662.4" y2="75.83" stroke="#f3f3f3" stroke-width="0.7"/>
<text x="530.40" y="74.03" font-size="8.0" text-anchor="end" fill="#1a1a1a" >Water_Dis</text>
<text x="531.00" y="80.33" font-size="6.0" text-anchor="end" fill="#1a1a1a" >(10.41%)</text>
<line x1="532.6" y1="91.74" x2="662.4" y2="91.74" stroke="#f3f3f3" stroke-width="0.7"/>
<text x="530.40" y="89.94" font-size="8.0" text-anchor="end" fill="#1a1a1a" >GDP_PA</text>
<text x="531.00" y="96.24" font-size="6.0" text-anchor="end" fill="#1a1a1a" >(10.29%)</text>
<line x1="532.6" y1="107.65" x2="662.4" y2="107.65" stroke="#f3f3f3" stroke-width="0.7"/>
<text x="530.40" y="105.85" font-size="8.0" text-anchor="end" fill="#1a1a1a" >NTL_PA</text>
<text x="531.00" y="112.15" font-size="6.0" text-anchor="end" fill="#1a1a1a" >(9.68%)</text>
<line x1="532.6" y1="123.56" x2="662.4" y2="123.56" stroke="#f3f3f3" stroke-width="0.7"/>
<text x="530.40" y="121.76" font-size="8.0" text-anchor="end" fill="#1a1a1a" >PRCP</text>
<text x="531.00" y="128.06" font-size="6.0" text-anchor="end" fill="#1a1a1a" >(8.54%)</text>
<line x1="532.6" y1="139.47" x2="662.4" y2="139.47" stroke="#f3f3f3" stroke-width="0.7"/>
<text x="530.40" y="137.67" font-size="8.0" text-anchor="end" fill="#1a1a1a" >HIE</text>
<text x="531.00" y="143.97" font-size="6.0" text-anchor="end" fill="#1a1a1a" >(6.80%)</text>
<line x1="532.6" y1="155.38" x2="662.4" y2="155.38" stroke="#f3f3f3" stroke-width="0.7"/>
<text x="530.40" y="153.58" font-size="8.0" text-anchor="end" fill="#1a1a1a" >Urban_R</text>
<text x="531.00" y="159.88" font-size="6.0" text-anchor="end" fill="#1a1a1a" >(6.43%)</text>
<line x1="532.6" y1="171.29" x2="662.4" y2="171.29" stroke="#f3f3f3" stroke-width="0.7"/>
<text x="530.40" y="169.49" font-size="8.0" text-anchor="end" fill="#1a1a1a" >Rx5day</text>
<text x="531.00" y="175.79" font-size="6.0" text-anchor="end" fill="#1a1a1a" >(5.02%)</text>
<line x1="532.6" y1="187.20" x2="662.4" y2="187.20" stroke="#f3f3f3" stroke-width="0.7"/>
<text x="530.40" y="185.40" font-size="8.0" text-anchor="end" fill="#1a1a1a" >HIE_D</text>
<text x="531.00" y="191.70" font-size="6.0" text-anchor="end" fill="#1a1a1a" >(4.02%)</text>
<line x1="568.50" y1="19.5" x2="568.50" y2="195.4" stroke="#9a9a9a" stroke-width="1"/>
<path d="M574.7 28.1h0M568.9 28.4h0M569.6 27.4h0M574.0 27.0h0M571.5 28.8h0M566.8 27.4h0M570.5 31.2h0M572.6 28.0h0M573.5 28.1h0M565.0 28.4h0M565.5 28.5h0M571.6 27.4h0M572.0 29.1h0M572.1 29.5h0M569.3 28.5h0M568.0 28.8h0M535.1 42.9h0M539.7 43.5h0M536.4 42.2h0M548.3 42.0h0M540.9 44.0h0M543.2 44.4h0M540.7 44.1h0M547.5 43.0h0M548.5 45.4h0M548.1 43.4h0M535.2 44.3h0M572.9 73.1h0M567.8 75.0h0M570.4 75.0h0M575.2 76.0h0M569.9 74.5h0M573.8 76.0h0M570.4 76.2h0M568.8 72.6h0M572.1 107.7h0M561.7 108.6h0M575.1 104.8h0M560.5 106.0h0M570.3 104.4h0M561.6 106.7h0M563.6 108.9h0M571.8 107.5h0M566.4 107.0h0M571.7 106.9h0M563.5 108.7h0M561.3 108.2h0M565.7 108.1h0M568.5 109.1h0M573.9 105.7h0M574.9 108.4h0M566.3 106.8h0M576.3 106.9h0M569.6 109.4h0M562.8 124.6h0M569.2 124.9h0M564.0 126.8h0M572.7 123.9h0M561.0 125.7h0M563.1 126.0h0M566.3 123.9h0M562.9 124.4h0M572.8 123.6h0M567.3 124.4h0M560.5 123.2h0M562.8 121.7h0M570.6 125.2h0M564.4 125.3h0M564.3 124.4h0M562.9 122.2h0M559.8 124.3h0M571.5 123.8h0M564.7 126.9h0M566.0 139.0h0M569.2 142.0h0M569.1 138.2h0M566.9 139.5h0M569.3 138.9h0M566.2 141.1h0M567.1 139.5h0M568.1 188.5h0M565.6 186.2h0M569.0 188.5h0M564.6 186.5h0" stroke="#dcd6e2" stroke-width="2.3" stroke-linecap="round" stroke-opacity="0.85" fill="none"/>
<path d="M563.2 29.9h0M566.0 27.8h0M566.8 29.3h0M559.8 26.1h0M564.6 27.7h0M546.2 27.6h0M552.4 26.9h0M555.5 28.0h0M556.4 26.1h0M553.1 31.4h0M563.3 30.9h0M558.0 29.6h0M564.0 28.1h0M554.8 27.2h0M566.1 25.2h0M552.8 29.5h0M567.3 26.1h0M557.6 28.0h0M553.3 27.1h0M558.8 28.1h0M547.2 28.9h0M560.3 27.9h0M558.4 27.8h0M563.0 29.6h0M566.8 44.0h0M577.3 44.2h0M568.3 45.4h0M576.4 45.7h0M562.1 44.1h0M576.9 43.2h0M575.4 45.8h0M567.8 43.5h0M578.2 44.1h0M580.3 43.6h0M581.2 45.2h0M576.6 45.5h0M571.1 44.1h0M574.2 44.2h0M578.1 43.7h0M568.4 43.7h0M580.7 42.4h0M578.6 45.6h0M576.6 46.5h0M578.0 46.2h0M562.6 47.3h0M579.2 41.5h0M557.5 60.6h0M557.9 58.3h0M566.5 60.2h0M566.7 59.0h0M564.5 59.5h0M560.0 62.8h0M555.3 59.3h0M566.9 62.4h0M556.7 59.1h0M562.5 59.5h0M564.4 60.6h0M560.7 63.2h0M565.9 61.8h0M566.6 58.6h0M558.7 60.2h0M563.4 60.0h0M555.0 61.2h0M559.6 58.9h0M562.9 59.5h0M573.9 92.3h0M578.0 91.6h0M576.1 90.7h0M564.7 91.2h0M564.4 91.6h0M557.2 89.8h0M560.8 92.1h0M563.1 94.2h0M561.8 91.5h0M556.9 91.7h0M567.4 91.9h0M555.9 92.8h0M570.5 91.6h0M555.7 92.7h0M566.9 90.9h0M558.5 90.1h0M560.4 91.0h0M576.2 92.6h0M557.8 90.7h0M578.7 90.5h0M575.7 92.1h0M574.6 88.8h0M571.3 91.5h0M577.0 88.4h0M562.1 91.0h0M567.6 93.6h0M556.1 89.0h0M555.7 93.6h0M567.9 91.1h0M573.9 91.2h0M584.2 91.6h0M580.4 94.6h0M557.2 90.8h0M582.7 91.8h0M557.4 107.5h0M545.9 109.9h0M544.6 108.2h0M550.3 107.8h0M547.4 107.8h0M540.5 107.3h0M546.1 107.9h0M545.2 108.6h0M556.9 107.9h0M537.8 107.5h0M553.1 108.2h0M552.6 107.9h0M557.5 108.0h0M549.4 108.7h0M586.0 141.3h0M571.1 138.2h0M577.2 139.9h0M569.6 140.3h0M573.6 139.5h0M576.4 139.9h0M585.9 137.2h0M581.7 139.6h0M571.3 139.0h0M585.1 142.3h0M584.4 138.3h0M575.5 137.0h0M572.8 142.8h0M583.9 141.4h0M587.9 139.3h0M573.7 137.1h0M565.3 170.5h0M577.2 172.2h0M570.5 170.4h0M569.4 170.9h0M564.4 171.0h0M573.5 172.3h0M575.2 172.0h0M570.8 173.0h0M566.1 171.9h0M573.2 171.1h0M566.1 172.6h0M568.3 174.2h0M566.8 170.4h0M570.8 170.9h0" stroke="#93aef0" stroke-width="2.3" stroke-linecap="round" stroke-opacity="0.85" fill="none"/>
<path d="M561.8 156.3h0M568.0 157.9h0M565.6 154.7h0M561.4 154.7h0M561.7 154.9h0M560.5 155.1h0M568.5 154.7h0M562.8 154.2h0" stroke="#f5c887" stroke-width="2.3" stroke-linecap="round" stroke-opacity="0.85" fill="none"/>
<path d="M552.7 27.3h0M557.5 24.8h0M559.8 26.8h0M552.5 27.7h0M562.2 26.8h0M564.1 29.8h0M560.3 30.1h0M562.2 26.4h0M573.4 42.6h0M577.7 41.9h0M577.0 45.2h0M573.0 45.1h0M578.5 46.4h0M608.7 44.7h0M587.5 44.8h0M607.0 43.3h0M604.0 44.5h0M600.1 44.1h0M603.7 42.9h0M594.7 42.9h0M595.9 45.3h0M588.0 44.8h0M607.3 43.4h0M604.7 44.1h0M547.8 60.2h0M561.7 58.7h0M562.5 60.5h0M565.5 59.6h0M561.2 58.9h0M566.8 57.5h0M572.0 78.5h0M571.9 74.8h0M571.6 73.5h0M571.9 74.5h0M576.7 76.6h0M576.2 76.7h0M588.0 75.7h0M596.4 76.8h0M582.2 76.6h0M586.7 75.4h0M580.4 91.0h0M580.6 91.4h0M578.6 93.0h0M578.0 92.2h0M580.9 91.9h0M605.4 91.3h0M555.2 123.5h0M591.8 123.8h0M585.9 126.8h0M583.1 123.7h0M592.4 124.1h0M584.5 124.2h0M576.6 138.6h0M576.6 139.8h0M586.6 140.0h0M572.2 141.2h0M571.7 141.2h0" stroke="#3f65e2" stroke-width="2.3" stroke-linecap="round" stroke-opacity="0.85" fill="none"/>
<path d="M594.0 26.4h0M575.9 27.4h0M576.8 28.2h0M570.1 27.5h0M571.6 29.9h0M585.4 28.7h0M586.4 28.0h0M575.0 26.9h0M588.4 27.6h0M573.8 27.6h0M578.9 28.9h0M585.7 26.0h0M589.3 29.0h0M581.0 27.9h0M590.1 29.7h0M581.5 28.8h0M586.4 26.8h0M590.8 28.4h0M583.8 26.0h0M583.8 29.1h0M593.3 28.0h0M570.3 26.3h0M569.9 28.0h0M570.3 29.1h0M577.4 30.5h0M583.2 28.9h0M585.2 28.7h0M607.8 28.1h0M595.4 25.9h0M611.4 27.0h0M599.5 24.8h0M613.2 27.2h0M601.5 29.8h0M610.9 28.7h0M608.4 28.2h0M595.5 27.7h0M604.6 28.3h0M602.4 31.4h0M613.6 28.2h0M599.4 30.4h0M602.4 30.4h0M598.3 26.9h0M595.1 28.3h0M559.3 44.5h0M562.0 41.7h0M564.2 45.8h0M558.5 45.9h0M557.1 42.4h0M552.5 43.2h0M549.8 42.5h0M550.1 42.7h0M554.1 42.2h0M561.1 45.2h0M556.1 43.7h0M558.3 42.8h0M554.0 45.5h0M565.1 44.6h0M573.0 63.2h0M582.7 60.8h0M575.1 59.5h0M571.4 58.5h0M580.0 61.1h0M576.2 59.2h0M579.3 61.0h0M571.2 58.6h0M570.3 58.2h0M574.1 60.0h0M577.5 59.3h0M572.6 59.5h0M572.7 60.5h0M582.6 60.6h0M573.2 56.8h0M574.9 60.2h0M558.4 76.3h0M559.4 75.9h0M564.5 75.9h0M567.6 75.9h0M563.2 77.0h0M568.6 73.4h0M563.4 76.6h0M562.4 75.6h0M566.9 75.8h0M568.5 77.7h0M568.2 76.0h0M565.4 76.7h0M560.1 77.4h0M561.2 75.8h0M572.7 106.7h0M578.4 108.8h0M581.5 109.4h0M583.0 107.6h0M571.5 106.0h0M586.7 107.3h0M579.3 108.0h0M569.5 106.2h0M574.5 109.2h0M584.2 107.8h0M570.4 107.6h0M574.9 111.0h0M581.5 105.8h0M571.7 108.9h0M582.2 106.8h0M579.9 106.9h0M579.7 123.4h0M577.2 123.7h0M584.3 124.5h0M588.4 123.8h0M592.1 123.4h0M591.9 122.8h0M575.6 122.5h0M584.1 125.0h0M583.9 120.8h0M585.1 121.5h0M582.9 121.8h0M565.1 136.2h0M563.7 140.1h0M558.5 138.6h0M562.8 142.5h0M559.4 138.2h0M562.9 139.2h0M561.6 138.7h0M559.0 139.6h0M563.0 139.3h0M565.4 141.2h0M564.6 139.3h0M579.2 155.9h0M560.7 153.4h0M558.4 156.0h0M564.4 152.8h0M564.3 153.9h0M557.8 156.0h0M561.2 156.2h0M578.2 154.7h0M559.2 158.1h0M568.8 157.4h0M575.2 153.9h0M575.2 152.1h0M565.2 152.1h0M560.9 152.1h0M568.1 154.8h0M566.5 155.6h0M568.6 154.7h0M564.8 154.3h0M569.3 154.1h0M581.6 155.8h0M557.8 154.5h0M563.3 157.2h0M578.5 154.9h0M569.9 155.0h0M576.9 156.6h0M559.5 154.4h0M582.0 155.3h0M557.7 154.0h0M577.0 156.5h0M563.6 156.4h0M575.1 155.6h0M577.4 156.8h0M575.7 154.1h0M581.1 154.1h0M563.9 189.5h0M575.8 187.0h0M576.3 189.2h0M576.7 188.7h0M563.4 186.6h0M564.8 189.3h0M574.9 188.9h0M567.8 186.8h0M569.5 186.4h0M572.2 186.8h0M563.3 185.6h0M567.8 184.1h0M561.0 187.8h0M560.1 187.9h0" stroke="#f6981c" stroke-width="2.3" stroke-linecap="round" stroke-opacity="0.85" fill="none"/>
<path d="M600.2 26.7h0M600.7 28.6h0M598.0 27.5h0M602.0 26.5h0M598.3 29.1h0M602.6 28.0h0M601.0 27.7h0M564.2 42.5h0M553.9 45.0h0M555.8 46.0h0M551.4 43.9h0M555.9 45.2h0M584.4 61.3h0M585.2 59.6h0M583.8 60.8h0M580.1 60.9h0M627.8 59.9h0M625.7 59.9h0M625.5 59.1h0M648.1 58.5h0M647.5 59.6h0M648.6 59.0h0M587.8 79.1h0M586.1 73.3h0M581.1 75.2h0M581.6 77.0h0M592.7 75.3h0M582.6 75.9h0M578.6 75.5h0M583.7 75.8h0M589.9 76.0h0M595.7 75.1h0M593.4 75.1h0M586.1 74.0h0M579.0 75.9h0M594.5 78.9h0M603.0 75.7h0M605.2 75.9h0M599.2 75.6h0M609.2 75.8h0M610.8 76.0h0M573.5 152.9h0M570.9 154.1h0M578.9 154.9h0M576.0 153.3h0M571.8 154.7h0M564.2 170.7h0M560.1 171.4h0M564.4 170.7h0M569.1 173.4h0M564.5 171.6h0M566.9 171.5h0M568.5 172.6h0M565.1 171.2h0" stroke="#d2691e" stroke-width="2.3" stroke-linecap="round" stroke-opacity="0.85" fill="none"/>
<path d="M568.3 42.2h0M593.1 44.1h0M593.5 43.5h0M594.3 43.7h0M591.8 45.3h0M566.7 57.8h0M566.9 62.2h0M567.7 61.5h0M611.6 60.0h0M616.9 60.1h0M591.6 91.2h0M595.3 91.8h0M593.0 91.5h0M587.5 91.7h0M592.2 91.8h0M594.9 91.3h0M588.1 90.8h0M588.6 92.0h0M546.0 122.6h0M544.7 125.0h0M545.0 123.6h0M546.6 125.0h0M590.5 139.6h0M600.9 139.3h0M601.9 140.5h0M600.0 140.7h0M582.4 172.2h0M581.4 171.2h0M577.1 171.9h0M577.9 172.7h0M577.7 170.9h0M580.9 171.1h0M585.8 171.0h0M582.4 171.7h0M576.7 183.9h0M572.4 186.9h0M570.6 185.8h0M563.2 186.5h0M564.8 187.9h0M575.9 189.1h0M577.2 188.0h0M571.0 188.3h0M575.9 189.1h0M566.6 187.7h0M574.5 188.9h0" stroke="#1c1c9c" stroke-width="2.3" stroke-linecap="round" stroke-opacity="0.85" fill="none"/>
<text x="541.95" y="204.40" font-size="7.9" text-anchor="middle" fill="#1a1a1a" >-0.5</text>
<text x="568.40" y="204.40" font-size="7.9" text-anchor="middle" fill="#1a1a1a" >0.0</text>
<text x="594.85" y="204.40" font-size="7.9" text-anchor="middle" fill="#1a1a1a" >0.5</text>
<text x="621.30" y="204.40" font-size="7.9" text-anchor="middle" fill="#1a1a1a" >1.0</text>
<text x="647.75" y="204.40" font-size="7.9" text-anchor="middle" fill="#1a1a1a" >1.5</text>
<text class="k" x="597.50" y="216.20" font-size="12.0" text-anchor="middle" fill="#1a1a1a" >Effect on Minor_Mig_R (%)</text>
<text class="k" transform="translate(483.10,108.25) rotate(-90)" font-size="12" text-anchor="middle" fill="#1a1a1a">Features importance</text>
<rect x="648.8" y="72.10" width="3.8" height="114.70" fill="url(#cbar)"/>
<line x1="647" y1="72.10" x2="648.8" y2="72.10" stroke="#555" stroke-width="0.6"/>
<text x="645.30" y="74.90" font-size="7.7" text-anchor="end" fill="#1a1a1a" >High</text>
<line x1="647" y1="129.45" x2="648.8" y2="129.45" stroke="#555" stroke-width="0.6"/>
<text x="645.30" y="132.25" font-size="7.7" text-anchor="end" fill="#1a1a1a" >Middle</text>
<line x1="647" y1="186.80" x2="648.8" y2="186.80" stroke="#555" stroke-width="0.6"/>
<text x="645.30" y="189.60" font-size="7.7" text-anchor="end" fill="#1a1a1a" >Low</text>
<text class="k" transform="translate(660.0,129.45) rotate(-90)" font-size="7.9" text-anchor="middle" fill="#1a1a1a">Feature value</text>
<rect x="532.6" y="19.5" width="129.80" height="175.90" fill="none" stroke="#7a7a7a" stroke-width="1.2"/>
<text class="k" x="676.60" y="15.00" font-size="21.9" text-anchor="end" fill="#1a1a1a" >a. Minor</text>
<line x1="70.85" y1="248.5" x2="70.85" y2="423.9" stroke="#f3f3f3" stroke-width="0.7"/>
<line x1="99.75" y1="248.5" x2="99.75" y2="423.9" stroke="#f3f3f3" stroke-width="0.7"/>
<line x1="128.65" y1="248.5" x2="128.65" y2="423.9" stroke="#f3f3f3" stroke-width="0.7"/>
<line x1="157.55" y1="248.5" x2="157.55" y2="423.9" stroke="#f3f3f3" stroke-width="0.7"/>
<line x1="186.45" y1="248.5" x2="186.45" y2="423.9" stroke="#f3f3f3" stroke-width="0.7"/>
<line x1="52.35" y1="257.00" x2="205.4" y2="257.00" stroke="#f3f3f3" stroke-width="0.7"/>
<line x1="52.35" y1="288.00" x2="205.4" y2="288.00" stroke="#f3f3f3" stroke-width="0.7"/>
<line x1="52.35" y1="319.00" x2="205.4" y2="319.00" stroke="#f3f3f3" stroke-width="0.7"/>
<line x1="52.35" y1="350.00" x2="205.4" y2="350.00" stroke="#f3f3f3" stroke-width="0.7"/>
<line x1="52.35" y1="381.00" x2="205.4" y2="381.00" stroke="#f3f3f3" stroke-width="0.7"/>
<line x1="52.35" y1="406.45" x2="205.4" y2="406.45" stroke="#f3f3f3" stroke-width="0.7"/>
<clipPath id="clip_bL"><rect x="52.35" y="248.5" width="153.05" height="140.50"/></clipPath>
<g clip-path="url(#clip_bL)">
<path d="M169.26,325.64 C170.91,322.34 174.83,318.84 177.92,315.75 C181.01,312.66 184.30,308.95 187.80,307.10 C191.31,305.24 196.87,301.53 198.93,304.62 C200.99,307.71 200.78,319.25 200.17,325.64 C199.55,332.02 197.69,338.82 195.22,342.94 C192.75,347.06 189.04,349.54 185.33,350.36 C181.62,351.18 175.86,350.36 172.97,347.89 C170.09,345.42 168.65,339.23 168.03,335.53 C167.41,331.82 167.62,328.93 169.26,325.64Z" fill="#d0d3da" fill-opacity="0.6" filter="url(#b25)"/>
<path d="M174.1 336.1h0M178.6 335.2h0M188.8 326.9h0M179.0 313.7h0M183.0 344.5h0M186.7 316.7h0M198.7 309.8h0M198.8 326.4h0M189.2 344.6h0M185.8 342.9h0M193.0 329.8h0M194.1 315.0h0M174.9 339.2h0M198.8 323.1h0M173.1 332.8h0M180.4 339.5h0M174.7 331.7h0M178.1 317.3h0M173.0 338.5h0M176.6 336.9h0M189.5 330.7h0M191.2 335.6h0M172.8 339.3h0M185.2 339.8h0M190.3 320.4h0M199.6 316.2h0M182.1 320.4h0M187.9 310.9h0M199.3 317.3h0M176.7 343.0h0M194.2 307.1h0M200.7 320.8h0M177.3 339.9h0M187.8 331.4h0M182.5 341.8h0M195.1 304.1h0M187.7 341.3h0M182.5 325.5h0M173.6 333.9h0M196.1 324.6h0M186.8 317.4h0M176.5 332.1h0M170.4 327.9h0M183.8 339.2h0M176.8 344.1h0M196.5 305.9h0M178.6 331.0h0M179.4 332.6h0M197.0 313.0h0M180.4 343.6h0M192.0 315.2h0M183.4 342.6h0M185.4 318.8h0M192.3 328.3h0M183.3 313.6h0M190.8 343.7h0M185.1 309.1h0M198.9 312.6h0M173.3 324.8h0M173.1 344.8h0M183.6 320.1h0M186.0 341.8h0M185.7 334.0h0M190.8 323.4h0M189.8 321.8h0M199.7 315.7h0M192.9 326.5h0M173.8 321.1h0M185.2 336.3h0M179.8 314.1h0M171.5 331.6h0M190.2 346.8h0M184.5 320.3h0M192.7 334.2h0M191.2 306.9h0M194.7 326.4h0M188.7 307.6h0M195.8 329.5h0M181.6 336.6h0M187.9 321.8h0M182.7 319.9h0M184.7 340.4h0M169.0 335.1h0M173.3 338.5h0M185.2 314.8h0M167.5 336.6h0M185.7 319.8h0M194.9 333.3h0M189.6 340.7h0M175.3 334.3h0" stroke="#9aa0ac" stroke-opacity="0.15" stroke-width="3.0" stroke-linecap="round" fill="none"/>
<path d="M58.18,273.72 C59.21,266.51 61.27,268.57 64.36,267.54 C67.45,266.51 73.63,264.45 76.72,267.54 C79.81,270.63 80.84,280.52 82.90,286.08 C84.96,291.65 85.58,297.21 89.08,300.92 C92.59,304.62 98.56,306.27 103.92,308.33 C109.27,310.39 116.54,312.04 121.22,313.28 C125.90,314.51 130.18,313.28 131.98,315.75 C133.77,318.22 133.77,324.81 131.98,328.11 C130.18,331.41 124.25,331.82 121.22,335.53 C118.19,339.23 116.69,348.30 113.80,350.36 C110.92,352.42 108.04,349.95 103.92,347.89 C99.80,345.83 93.62,341.71 89.08,338.00 C84.55,334.29 80.84,328.11 76.72,325.64 C72.60,323.17 67.45,325.64 64.36,323.17 C61.27,320.69 59.21,319.05 58.18,310.80 C57.15,302.56 57.15,280.93 58.18,273.72Z" fill="#bcd2ea" fill-opacity="0.26" filter="url(#b35)"/>
<path d="M126.00,316.99 C127.24,313.89 130.94,324.20 133.42,329.35 C135.89,334.50 139.39,341.71 140.83,347.89 C142.28,354.07 142.89,362.31 142.07,366.43 C141.25,370.55 138.15,372.61 135.89,372.61 C133.62,372.61 130.12,370.55 128.47,366.43 C126.82,362.31 126.41,356.13 126.00,347.89 C125.59,339.65 124.76,320.08 126.00,316.99Z" fill="#bcd2ea" fill-opacity="0.26" filter="url(#b35)"/>
<path d="M98.8 343.4h0M80.5 292.2h0M68.6 321.5h0M103.2 339.9h0M82.9 313.7h0M63.3 295.2h0M111.6 331.3h0M106.8 326.4h0M84.6 291.5h0M87.0 305.2h0M65.4 309.1h0M108.6 325.8h0M90.6 312.5h0M67.3 278.6h0M107.9 315.0h0M87.0 301.5h0M73.5 322.0h0M60.7 291.3h0M61.0 289.7h0M71.9 300.4h0M81.0 306.3h0M93.2 300.8h0M85.6 331.2h0M63.4 270.4h0M80.4 287.2h0M76.7 285.4h0M80.9 276.4h0M60.2 299.4h0M123.3 321.3h0M72.4 277.2h0M81.1 285.0h0M115.0 320.9h0M103.5 332.2h0M94.1 303.4h0M65.6 300.5h0M59.9 289.8h0M97.9 327.1h0M100.5 335.4h0M85.3 305.5h0M69.2 314.3h0M102.7 349.1h0M65.4 322.2h0M66.6 318.1h0M88.1 299.0h0M120.3 336.3h0M91.8 330.4h0M92.9 304.9h0M103.2 319.6h0M91.5 307.5h0M88.4 319.5h0M61.9 316.5h0M82.6 294.2h0M66.7 314.9h0M70.9 278.8h0M70.2 286.5h0M102.4 345.2h0M115.1 337.5h0M66.5 314.9h0M116.7 331.4h0M64.9 315.4h0M102.4 330.3h0M121.8 329.6h0M112.0 350.1h0M63.1 295.8h0M92.9 300.4h0M62.7 305.0h0M82.1 289.0h0M58.5 275.8h0M74.9 308.8h0M79.9 304.6h0M104.9 330.8h0M68.1 271.8h0M103.8 310.7h0M125.5 317.0h0M73.7 272.6h0M114.8 332.2h0M125.3 324.8h0M85.9 298.1h0M104.2 346.6h0M80.4 289.6h0M61.2 277.6h0M77.7 317.8h0M105.3 337.8h0M78.5 312.5h0M58.9 276.9h0M74.5 282.6h0M57.4 281.2h0M91.9 307.9h0M115.0 315.6h0M77.7 306.3h0M94.4 311.2h0M126.8 320.8h0M59.1 289.4h0M114.8 341.2h0M98.7 317.4h0M73.7 297.9h0M110.6 333.0h0M67.9 283.3h0M95.6 304.2h0M99.4 335.8h0M79.1 275.4h0M62.1 294.5h0M76.6 290.5h0M122.7 317.5h0M69.7 300.6h0M75.1 274.8h0M62.4 283.7h0M78.7 292.0h0M101.9 306.5h0M72.8 296.6h0M68.9 290.2h0M100.2 345.3h0M68.0 278.2h0M94.9 335.2h0M117.4 337.9h0M77.1 282.1h0M67.2 292.2h0M69.9 300.5h0M89.5 296.6h0M86.1 316.6h0M97.4 316.7h0M90.9 330.4h0M81.0 316.2h0M97.3 328.3h0M132.0 331.4h0M73.9 297.5h0M60.0 272.0h0M100.5 320.0h0M108.2 325.5h0M91.0 327.6h0M72.8 280.0h0M83.6 307.8h0M111.8 347.0h0M86.1 331.7h0M92.1 326.9h0M77.1 297.9h0M119.2 328.2h0M79.8 284.2h0M88.3 297.8h0M105.5 335.8h0M98.3 305.4h0M59.6 314.8h0M111.7 345.0h0M73.3 315.6h0M80.6 301.6h0M109.5 336.0h0M75.7 319.6h0M92.3 331.6h0M64.7 311.9h0M78.6 321.0h0M129.1 321.5h0M68.8 270.0h0M68.0 322.0h0M98.8 335.5h0M108.2 322.1h0M118.4 315.1h0M64.8 317.3h0M105.7 316.2h0M69.5 294.8h0M89.6 337.9h0M129.5 315.3h0M128.6 317.3h0M64.0 285.0h0M76.5 320.3h0M82.4 303.3h0M62.5 285.3h0M96.3 309.4h0M104.2 324.7h0M89.1 328.2h0M72.2 321.3h0M120.2 314.1h0M61.5 279.4h0M86.1 300.7h0M127.4 332.2h0M96.5 324.0h0M110.3 323.9h0M72.6 282.8h0M127.9 331.4h0M81.7 332.6h0M74.0 309.4h0M78.1 311.6h0M91.0 314.0h0M112.0 340.2h0M97.0 314.6h0M65.4 282.8h0M88.0 312.0h0M73.2 310.6h0M113.7 326.2h0M122.7 314.8h0M112.0 320.3h0M64.8 318.0h0M88.2 332.1h0M77.8 285.2h0M108.1 327.7h0M138.5 353.6h0M123.6 321.6h0M138.7 371.7h0M135.0 349.5h0M132.4 349.5h0M128.8 328.1h0M137.8 351.3h0M130.6 354.2h0M129.9 364.5h0M133.5 367.4h0M135.2 347.0h0M132.5 350.0h0M133.2 342.2h0M138.0 344.7h0M139.2 344.1h0M131.3 364.0h0M136.8 344.9h0M140.7 366.5h0M139.3 357.9h0M134.4 372.0h0M138.3 339.9h0M128.2 344.8h0M125.9 355.4h0M129.2 353.2h0M134.2 339.9h0M126.5 349.2h0M131.5 349.3h0M139.0 346.9h0M129.0 340.9h0M129.9 363.7h0M132.9 361.9h0M137.6 368.2h0M134.6 353.3h0M130.0 329.3h0M131.1 361.2h0M133.1 352.2h0M136.3 350.2h0M130.6 355.9h0M134.3 350.0h0" stroke="#5b8fc8" stroke-opacity="0.1" stroke-width="3.0" stroke-linecap="round" fill="none"/>
<path d="M79.81,261.36 C80.64,258.06 82.59,258.27 83.52,261.36 C84.45,264.45 84.76,274.13 85.37,279.90 C85.99,285.67 87.64,292.47 87.23,295.97 C86.82,299.47 84.45,300.92 82.90,300.92 C81.36,300.92 78.68,299.27 77.96,295.97 C77.24,292.68 78.27,286.91 78.58,281.14 C78.89,275.37 78.99,264.66 79.81,261.36Z" fill="#5a8fc6" fill-opacity="0.42" filter="url(#b25)"/>
<path d="M73.01,302.15 C74.25,299.89 79.81,300.30 81.67,302.15 C83.52,304.01 84.34,310.60 84.14,313.28 C83.93,315.96 82.08,317.81 80.43,318.22 C78.78,318.63 75.49,318.43 74.25,315.75 C73.01,313.07 71.78,304.42 73.01,302.15Z" fill="#5a8fc6" fill-opacity="0.42" filter="url(#b25)"/>
<path d="M118.75,318.22 C119.57,316.16 126.43,317.40 128.64,318.22 C130.84,319.05 131.42,320.69 131.98,323.17 C132.53,325.64 133.36,331.82 131.98,333.05 C130.59,334.29 125.90,333.05 123.69,330.58 C121.49,328.11 117.93,320.28 118.75,318.22Z" fill="#5a8fc6" fill-opacity="0.42" filter="url(#b25)"/>
<path d="M83.7 263.3h0M81.6 274.3h0M81.2 299.4h0M83.4 291.0h0M84.7 278.2h0M85.4 282.9h0M87.7 292.2h0M85.0 274.7h0M81.7 272.0h0M86.0 297.3h0M81.3 284.5h0M81.4 282.8h0M80.1 281.9h0M84.4 296.8h0M82.3 278.0h0M84.0 275.0h0M84.8 295.8h0M86.8 284.3h0M79.1 280.0h0M79.4 282.9h0M83.0 273.1h0M85.5 281.8h0M86.6 297.4h0M84.6 271.7h0M78.8 298.2h0M79.8 288.7h0M82.7 269.6h0M81.9 295.8h0M81.2 275.0h0M80.2 281.9h0M85.5 288.8h0M83.9 292.3h0M80.0 266.3h0M83.0 282.1h0M84.7 290.6h0M85.4 276.5h0M81.0 299.5h0M79.9 289.2h0M79.0 287.3h0M82.5 289.5h0M78.9 263.2h0M80.4 307.9h0M74.8 304.2h0M77.3 310.8h0M80.9 311.4h0M79.3 315.2h0M76.3 311.9h0M74.5 314.4h0M77.8 314.1h0M79.8 315.3h0M79.6 306.6h0M83.3 309.8h0M74.5 310.2h0M82.3 309.3h0M78.2 309.7h0M76.5 302.3h0M75.7 311.1h0M81.3 308.5h0M77.7 303.5h0M82.4 306.1h0M83.0 306.6h0M82.8 311.4h0M121.2 318.1h0M125.0 325.0h0M128.4 320.9h0M130.2 320.2h0M126.9 329.5h0M128.0 326.7h0M122.7 318.2h0M125.4 331.2h0M130.8 323.5h0M126.9 326.8h0M122.7 319.9h0M128.8 325.9h0M121.7 317.4h0M123.8 318.4h0M128.8 328.9h0M128.8 326.6h0M123.5 329.3h0M127.2 331.5h0M130.2 325.2h0M126.2 331.3h0M125.6 321.4h0M125.5 322.4h0" stroke="#3a75b5" stroke-opacity="0.14" stroke-width="2.8" stroke-linecap="round" fill="none"/>
<path d="M81.67,297.21 C82.18,295.35 84.34,295.35 85.37,295.97 C86.40,296.59 86.82,299.68 87.85,300.92 C88.88,302.15 90.42,302.98 91.56,303.39 C92.69,303.80 93.82,302.77 94.65,303.39 C95.47,304.01 95.78,306.68 96.50,307.10 C97.22,307.51 98.15,305.24 98.97,305.86 C99.80,306.48 100.41,309.16 101.44,310.80 C102.47,312.45 103.92,315.34 105.15,315.75 C106.39,316.16 107.93,312.86 108.86,313.28 C109.79,313.69 109.68,316.99 110.71,318.22 C111.74,319.46 113.91,320.08 115.04,320.69 C116.17,321.31 116.48,320.69 117.51,321.93 C118.54,323.17 120.40,326.26 121.22,328.11 C122.05,329.96 122.87,331.82 122.46,333.05 C122.05,334.29 119.99,334.29 118.75,335.53 C117.51,336.76 116.07,338.62 115.04,340.47 C114.01,342.33 113.39,346.24 112.57,346.65 C111.74,347.06 110.92,344.39 110.10,342.94 C109.27,341.50 108.65,339.03 107.62,338.00 C106.59,336.97 105.15,336.76 103.92,336.76 C102.68,336.76 101.24,338.62 100.21,338.00 C99.18,337.38 98.56,334.50 97.74,333.05 C96.91,331.61 96.09,329.14 95.26,329.35 C94.44,329.55 93.62,333.88 92.79,334.29 C91.97,334.70 91.14,332.85 90.32,331.82 C89.49,330.79 88.77,329.76 87.85,328.11 C86.92,326.46 85.58,323.99 84.76,321.93 C83.93,319.87 83.31,318.22 82.90,315.75 C82.49,313.28 82.49,310.19 82.28,307.10 C82.08,304.01 81.15,299.06 81.67,297.21Z" fill="#0c4f96" fill-opacity="0.95" filter="url(#b10)"/>
<path d="M84.14,304.62 C84.76,303.18 87.02,305.65 89.08,307.10 C91.14,308.54 94.03,311.22 96.50,313.28 C98.97,315.34 101.44,317.60 103.92,319.46 C106.39,321.31 109.27,322.96 111.33,324.40 C113.39,325.84 115.86,326.67 116.28,328.11 C116.69,329.55 115.45,332.64 113.80,333.05 C112.16,333.47 108.86,331.61 106.39,330.58 C103.92,329.55 101.44,328.11 98.97,326.87 C96.50,325.64 93.82,325.02 91.56,323.17 C89.29,321.31 86.61,318.84 85.37,315.75 C84.14,312.66 83.52,306.07 84.14,304.62Z" fill="#05397d" fill-opacity="0.9" filter="url(#b20)"/>
<path d="M59.42,291.56 C60.24,291.77 62.51,292.08 64.36,292.80 C66.22,293.52 68.48,294.65 70.54,295.89 C72.60,297.13 74.66,298.57 76.72,300.22 C78.78,301.86 80.84,304.03 82.90,305.78 C84.96,307.53 87.02,309.07 89.08,310.72 C91.14,312.37 93.20,314.12 95.26,315.67 C97.32,317.21 99.38,318.45 101.44,319.99 C103.50,321.54 105.56,323.50 107.62,324.94 C109.68,326.38 111.74,327.41 113.80,328.65 C115.86,329.88 117.95,331.21 119.99,332.35 C122.02,333.50 122.94,334.59 126.00,335.53 C129.06,336.47 134.24,337.59 138.36,338.00 C142.48,338.41 147.01,338.31 150.72,338.00 C154.43,337.69 157.52,337.17 160.61,336.14 C163.70,335.11 166.59,333.57 169.26,331.82 C171.94,330.07 174.62,327.90 176.68,325.64 C178.74,323.37 179.98,321.11 181.62,318.22 C183.27,315.34 185.13,311.63 186.57,308.33 C188.01,305.04 189.04,302.15 190.28,298.44 C191.51,294.74 192.85,290.20 193.99,286.08 C195.12,281.96 196.25,277.84 197.08,273.72 C197.90,269.60 198.62,263.42 198.93,261.36 L198.93,360.87 C197.69,361.07 193.99,362.10 191.51,362.10 C189.04,362.10 186.77,361.59 184.10,360.87 C181.42,360.15 178.95,359.12 175.44,357.78 C171.94,356.44 167.20,354.48 163.08,352.83 C158.96,351.18 154.84,349.54 150.72,347.89 C146.60,346.24 142.48,344.80 138.36,342.94 C134.24,341.09 129.06,338.29 126.00,336.76 C122.94,335.23 122.02,334.87 119.99,333.75 C117.95,332.63 115.86,331.28 113.80,330.05 C111.74,328.81 109.68,327.78 107.62,326.34 C105.56,324.90 103.50,322.94 101.44,321.39 C99.38,319.85 97.32,318.61 95.26,317.07 C93.20,315.52 91.14,313.77 89.08,312.12 C87.02,310.47 84.96,308.93 82.90,307.18 C80.84,305.43 78.78,303.26 76.72,301.62 C74.66,299.97 72.60,298.53 70.54,297.29 C68.48,296.05 66.22,294.92 64.36,294.20 C62.51,293.48 60.24,293.17 59.42,292.96Z" fill="#fdd7ac" fill-opacity="0.6"/>
<line x1="52.35" y1="319.50" x2="205.4" y2="319.50" stroke="#9a9a9a" stroke-width="1"/>
<path d="M59.42,292.26 C60.24,292.47 62.51,292.78 64.36,293.50 C66.22,294.22 68.48,295.35 70.54,296.59 C72.60,297.83 74.66,299.27 76.72,300.92 C78.78,302.56 80.84,304.73 82.90,306.48 C84.96,308.23 87.02,309.77 89.08,311.42 C91.14,313.07 93.20,314.82 95.26,316.37 C97.32,317.91 99.38,319.15 101.44,320.69 C103.50,322.24 105.56,324.20 107.62,325.64 C109.68,327.08 111.74,328.11 113.80,329.35 C115.86,330.58 117.93,331.92 119.99,333.05 C122.05,334.19 125.16,335.63 126.17,336.14 C127.17,336.66 124.79,335.63 126.00,336.14 C127.21,336.66 130.94,338.27 133.42,339.23 C135.89,340.20 138.36,341.23 140.83,341.95 C143.31,342.68 145.57,343.15 148.25,343.56 C150.93,343.97 154.02,344.28 156.90,344.43 C159.79,344.57 162.88,344.67 165.56,344.43 C168.23,344.18 170.71,343.71 172.97,342.94 C175.24,342.18 177.09,341.30 179.15,339.85 C181.21,338.41 183.48,336.25 185.33,334.29 C187.19,332.33 188.63,330.58 190.28,328.11 C191.93,325.64 193.88,322.24 195.22,319.46 C196.56,316.68 197.80,312.76 198.31,311.42" fill="none" stroke="#f7901e" stroke-width="1.75" stroke-dasharray="4.2 1.9"/>
</g>
<rect x="96.70" y="250.20" width="105.50" height="41.00" rx="1" fill="#fff" fill-opacity="0.8" stroke="#dcdcdc" stroke-width="0.6"/>
<circle cx="103.90" cy="254.00" r="1.4" fill="#7593d2" stroke="#b5c5ea" stroke-width="0.5"/>
<rect x="98.30" y="259.90" width="10.8" height="3.4" fill="#fdd7ac" fill-opacity="0.8"/>
<line x1="98.30" y1="277.40" x2="109.10" y2="277.40" stroke="#f7901e" stroke-width="1.5" stroke-dasharray="4.2 1.9"/>
<text x="113.40" y="255.80" font-size="5.2" text-anchor="start" fill="#1a1a1a" >Sample</text>
<text x="113.40" y="263.40" font-size="5.2" text-anchor="start" fill="#1a1a1a" >95% Confidence interval</text>
<text x="113.40" y="270.70" font-size="5.2" text-anchor="start" fill="#1a1a1a" >Fitted curve (R-square: 0.69):</text>
<text x="113.40" y="279.20" font-size="5.2" text-anchor="start" fill="#1a1a1a" ><tspan dy="0" dx="0">y&#160;=&#160;2.7e-05X</tspan><tspan font-size="3.4" dy="-2.9" dx="0.2">5</tspan><tspan dy="2.9" dx="0.9">&#160;-0.00028X</tspan><tspan font-size="3.4" dy="-2.9" dx="0.2">4</tspan><tspan dy="2.9" dx="0.9">&#160;+0.0007X</tspan><tspan font-size="3.4" dy="-2.9" dx="0.2">3</tspan></text>
<text x="122.20" y="287.30" font-size="5.2" text-anchor="start" fill="#1a1a1a" ><tspan dy="0" dx="0">+0.0056X</tspan><tspan font-size="3.4" dy="-2.9" dx="0.2">2</tspan><tspan dy="2.9" dx="0.9">&#160;-0.057X&#160;-0.013</tspan></text>
<path d="M78.35,423.90V423.26h1.45V423.90ZM79.80,423.90V422.81h1.45V423.90ZM81.25,423.90V422.36h1.45V423.90ZM82.70,423.90V421.92h1.45V423.90ZM84.15,423.90V420.88h1.45V423.90ZM85.60,423.90V419.36h1.45V423.90ZM87.05,423.90V416.88h1.45V423.90ZM88.50,423.90V414.35h1.45V423.90ZM89.95,423.90V411.71h1.45V423.90ZM91.40,423.90V405.07h1.45V423.90ZM92.85,423.90V396.72h1.45V423.90ZM94.30,423.90V392.23h1.45V423.90ZM95.75,423.90V391.23h1.45V423.90ZM97.20,423.90V395.20h1.45V423.90ZM98.65,423.90V401.97h1.45V423.90ZM100.10,423.90V406.88h1.45V423.90ZM101.55,423.90V411.17h1.45V423.90ZM103.00,423.90V414.02h1.45V423.90ZM104.45,423.90V415.96h1.45V423.90ZM105.90,423.90V417.22h1.45V423.90ZM107.35,423.90V418.41h1.45V423.90ZM108.80,423.90V419.80h1.45V423.90ZM110.25,423.90V420.71h1.45V423.90ZM111.70,423.90V421.39h1.45V423.90ZM113.15,423.90V421.89h1.45V423.90ZM114.60,423.90V422.27h1.45V423.90ZM116.05,423.90V422.64h1.45V423.90ZM117.50,423.90V422.98h1.45V423.90ZM118.95,423.90V423.31h1.45V423.90Z" fill="#808080" stroke="#2e2e2e" stroke-width="0.35"/>
<text x="48.35" y="260.40" font-size="7.9" text-anchor="end" fill="#1a1a1a" >0.4</text>
<text x="48.35" y="291.40" font-size="7.9" text-anchor="end" fill="#1a1a1a" >0.2</text>
<text x="48.35" y="322.40" font-size="7.9" text-anchor="end" fill="#1a1a1a" >0.0</text>
<text x="48.35" y="353.40" font-size="7.9" text-anchor="end" fill="#1a1a1a" >-0.2</text>
<text x="48.35" y="384.40" font-size="7.9" text-anchor="end" fill="#1a1a1a" >-0.4</text>
<text x="70.85" y="433.90" font-size="7.9" text-anchor="middle" fill="#1a1a1a" >-2.5</text>
<text x="99.75" y="433.90" font-size="7.9" text-anchor="middle" fill="#1a1a1a" >0.0</text>
<text x="128.65" y="433.90" font-size="7.9" text-anchor="middle" fill="#1a1a1a" >2.5</text>
<text x="157.55" y="433.90" font-size="7.9" text-anchor="middle" fill="#1a1a1a" >5.0</text>
<text x="186.45" y="433.90" font-size="7.9" text-anchor="middle" fill="#1a1a1a" >7.5</text>
<text class="k" x="128.88" y="445.60" font-size="12.2" text-anchor="middle" fill="#1a1a1a" >HIE (%)</text>
<text class="k" transform="translate(25.75,336.20) rotate(-90)" font-size="12" text-anchor="middle" fill="#1a1a1a">Effect on Adult_Mig_R (%)</text>
<text class="k" transform="translate(45.45,407.35) rotate(-90)" font-size="11.7" text-anchor="middle" fill="#1a1a1a">Dist.</text>
<rect x="52.35" y="248.5" width="153.05" height="140.50" fill="none" stroke="#7a7a7a" stroke-width="1.2"/>
<rect x="52.35" y="389.0" width="153.05" height="34.90" fill="none" stroke="#7a7a7a" stroke-width="1.2"/>
<line x1="301.25" y1="248.5" x2="301.25" y2="423.9" stroke="#f3f3f3" stroke-width="0.7"/>
<line x1="332.50" y1="248.5" x2="332.50" y2="423.9" stroke="#f3f3f3" stroke-width="0.7"/>
<line x1="363.75" y1="248.5" x2="363.75" y2="423.9" stroke="#f3f3f3" stroke-width="0.7"/>
<line x1="395.00" y1="248.5" x2="395.00" y2="423.9" stroke="#f3f3f3" stroke-width="0.7"/>
<line x1="426.25" y1="248.5" x2="426.25" y2="423.9" stroke="#f3f3f3" stroke-width="0.7"/>
<line x1="280.5" y1="264.60" x2="433.9" y2="264.60" stroke="#f3f3f3" stroke-width="0.7"/>
<line x1="280.5" y1="290.95" x2="433.9" y2="290.95" stroke="#f3f3f3" stroke-width="0.7"/>
<line x1="280.5" y1="317.30" x2="433.9" y2="317.30" stroke="#f3f3f3" stroke-width="0.7"/>
<line x1="280.5" y1="343.65" x2="433.9" y2="343.65" stroke="#f3f3f3" stroke-width="0.7"/>
<line x1="280.5" y1="370.00" x2="433.9" y2="370.00" stroke="#f3f3f3" stroke-width="0.7"/>
<line x1="280.5" y1="400.20" x2="433.9" y2="400.20" stroke="#f3f3f3" stroke-width="0.7"/>
<clipPath id="clip_bM"><rect x="280.5" y="248.5" width="153.40" height="140.50"/></clipPath>
<g clip-path="url(#clip_bM)">
<path d="M287.42,350.36 C288.45,346.65 293.60,340.88 298.54,338.00 C303.49,335.11 310.90,334.70 317.08,333.05 C323.26,331.41 330.47,330.58 335.62,328.11 C340.77,325.64 343.93,321.52 347.99,318.22 C352.04,314.93 357.98,299.27 359.98,308.33 C361.97,317.40 361.97,362.72 359.98,372.61 C357.98,382.50 352.04,369.11 347.99,367.67 C343.93,366.22 340.77,365.19 335.62,363.96 C330.47,362.72 322.23,360.04 317.08,360.25 C311.93,360.45 308.84,365.19 304.72,365.19 C300.60,365.19 295.25,362.72 292.36,360.25 C289.48,357.78 286.39,354.07 287.42,350.36Z" fill="#bcd2ea" fill-opacity="0.26" filter="url(#b35)"/>
<path d="M354.00,300.92 C358.12,290.20 371.51,297.41 378.72,295.97 C385.93,294.53 392.73,298.03 397.26,292.26 C401.80,286.49 403.24,266.51 405.92,261.36 C408.59,256.21 410.45,258.27 413.33,261.36 C416.22,264.45 420.75,271.66 423.22,279.90 C425.69,288.14 428.17,301.53 428.17,310.80 C428.17,320.08 424.46,326.26 423.22,335.53 C421.99,344.80 423.02,360.25 420.75,366.43 C418.48,372.61 414.57,374.67 409.62,372.61 C404.68,370.55 397.26,356.13 391.08,354.07 C384.90,352.01 378.72,359.22 372.54,360.25 C366.36,361.28 357.09,370.14 354.00,360.25 C350.91,350.36 349.88,311.63 354.00,300.92Z" fill="#bcd2ea" fill-opacity="0.26" filter="url(#b35)"/>
<path d="M291.0 351.1h0M312.5 345.1h0M304.5 360.6h0M331.4 338.5h0M316.6 344.6h0M291.2 350.6h0M289.9 353.5h0M341.8 350.5h0M350.0 329.5h0M309.8 344.6h0M357.9 355.9h0M334.6 347.8h0M326.2 347.1h0M338.4 346.4h0M320.2 360.0h0M357.9 314.2h0M319.1 340.2h0M324.8 339.9h0M342.7 353.2h0M346.0 345.9h0M337.6 363.5h0M302.0 346.3h0M330.2 351.9h0M345.3 340.0h0M339.9 338.7h0M301.8 358.2h0M318.5 333.3h0M348.2 327.7h0M326.0 347.8h0M305.6 361.3h0M297.8 347.7h0M354.7 331.7h0M340.9 356.4h0M304.7 349.4h0M338.0 334.8h0M340.0 346.7h0M343.8 338.5h0M347.3 349.8h0M331.2 358.9h0M361.7 344.2h0M306.3 340.6h0M308.4 352.9h0M320.5 358.7h0M317.8 337.1h0M320.1 339.2h0M312.5 356.5h0M359.8 363.2h0M350.6 325.0h0M360.7 309.2h0M336.1 334.1h0M342.6 321.8h0M357.3 361.6h0M347.4 333.0h0M333.5 358.3h0M304.8 358.9h0M303.8 352.3h0M362.4 372.0h0M348.4 319.2h0M315.1 353.1h0M298.4 350.7h0M359.0 358.3h0M356.9 317.1h0M358.1 329.6h0M332.3 349.4h0M352.3 339.9h0M311.3 340.7h0M307.6 350.4h0M356.6 326.5h0M323.9 351.9h0M294.9 357.8h0M334.8 354.1h0M344.7 342.4h0M361.2 341.4h0M290.4 354.6h0M304.9 353.4h0M328.9 333.4h0M329.9 353.4h0M297.1 352.3h0M334.9 333.5h0M285.7 355.7h0M347.1 332.9h0M334.7 358.3h0M300.7 349.6h0M332.2 339.0h0M345.4 328.7h0M348.6 342.3h0M347.3 349.8h0M312.3 333.9h0M312.9 357.7h0M354.3 355.0h0M329.1 360.5h0M329.8 340.4h0M354.0 354.1h0M328.5 343.7h0M318.0 354.4h0M346.8 323.9h0M338.0 344.5h0M360.6 321.2h0M342.1 331.8h0M345.3 363.2h0M353.7 356.9h0M331.2 353.4h0M314.2 337.3h0M336.5 337.7h0M349.9 350.3h0M333.7 356.1h0M303.9 360.6h0M355.4 365.5h0M338.2 331.8h0M354.3 352.1h0M325.9 343.1h0M359.8 334.0h0M313.5 351.7h0M347.0 338.1h0M338.7 355.8h0M296.9 356.8h0M345.1 364.2h0M317.2 352.8h0M356.7 360.2h0M304.1 335.7h0M298.3 343.9h0M354.2 333.2h0M331.7 350.0h0M332.1 334.0h0M328.1 332.7h0M360.4 370.2h0M302.3 353.9h0M318.2 346.1h0M334.1 329.7h0M340.2 325.6h0M356.0 324.1h0M334.6 341.0h0M322.0 347.8h0M308.9 350.0h0M358.5 367.7h0M308.9 352.8h0M335.8 326.9h0M338.8 343.4h0M355.6 365.0h0M302.6 348.6h0M295.3 340.7h0M289.6 360.1h0M307.0 346.6h0M338.8 364.3h0M352.0 368.7h0M352.6 327.9h0M326.5 360.1h0M397.0 289.7h0M392.3 301.2h0M406.7 339.6h0M401.2 311.5h0M418.7 318.6h0M387.7 338.1h0M359.9 342.6h0M420.7 307.9h0M388.8 309.6h0M384.0 329.7h0M396.9 343.1h0M408.8 323.2h0M368.9 344.0h0M379.2 342.1h0M394.2 334.2h0M355.7 334.6h0M363.3 316.4h0M366.3 355.7h0M377.7 300.9h0M365.1 328.1h0M367.6 330.9h0M354.5 337.9h0M391.8 331.1h0M396.0 355.2h0M403.7 364.3h0M403.7 343.8h0M386.9 330.3h0M414.4 357.3h0M407.1 277.6h0M383.1 355.8h0M417.0 333.1h0M418.9 361.1h0M414.7 366.3h0M365.4 326.8h0M401.2 318.2h0M376.3 334.1h0M390.9 325.3h0M409.0 316.4h0M391.0 349.8h0M416.4 345.0h0M414.5 340.5h0M406.7 271.9h0M391.6 314.3h0M353.8 320.6h0M376.3 341.0h0M378.9 333.7h0M417.0 368.3h0M407.7 295.3h0M414.6 272.5h0M410.6 277.0h0M407.5 371.7h0M382.2 299.3h0M400.0 345.9h0M407.8 312.5h0M405.6 300.4h0M410.5 263.1h0M356.5 356.2h0M371.4 347.1h0M377.1 344.3h0M409.0 354.4h0M375.3 301.4h0M378.0 356.3h0M369.0 340.4h0M378.0 294.4h0M370.1 311.9h0M409.5 367.5h0M423.1 302.5h0M414.9 357.9h0M380.1 310.0h0M403.3 339.7h0M404.8 315.2h0M402.5 267.6h0M367.3 326.9h0M355.1 332.7h0M408.7 291.5h0M421.9 305.6h0M392.2 315.6h0M405.1 291.9h0M371.7 303.7h0M419.5 356.9h0M415.1 288.9h0M383.9 313.0h0M409.3 305.0h0M357.6 313.7h0M368.4 331.6h0M378.3 334.8h0M413.5 361.4h0M393.0 323.7h0M409.9 348.2h0M365.2 306.6h0M398.8 357.2h0M414.1 366.5h0M414.1 285.1h0M359.4 344.1h0M382.7 354.8h0M398.3 326.4h0M396.9 353.3h0M404.8 281.3h0M414.0 365.1h0M413.1 321.8h0M368.3 317.2h0M381.9 326.7h0M409.3 370.8h0M376.6 313.8h0M380.7 338.3h0M381.0 306.0h0M418.2 292.5h0M406.4 277.7h0M396.0 327.9h0M392.2 306.7h0M408.5 266.6h0M398.4 295.5h0M360.5 311.8h0M366.9 342.1h0M382.1 322.2h0M405.4 346.0h0M407.5 303.6h0M392.5 325.1h0M360.3 317.5h0M392.8 324.5h0M424.4 282.7h0M411.2 304.3h0M411.5 328.2h0M421.1 319.3h0M402.2 321.3h0M421.7 310.5h0M427.0 284.3h0M370.5 304.4h0M379.9 318.9h0M419.9 360.0h0M363.2 318.4h0M406.4 314.0h0M356.3 302.0h0M368.0 305.0h0M412.1 281.1h0M385.6 346.9h0M375.8 340.7h0M367.6 341.5h0M380.1 337.4h0M380.5 312.9h0M397.7 299.5h0M395.7 326.3h0M422.8 292.2h0M397.1 310.8h0M422.6 303.8h0M419.0 281.2h0M369.0 301.6h0M405.3 314.8h0M402.8 338.3h0M416.1 344.3h0M389.4 306.3h0M412.2 364.3h0M374.8 328.1h0M402.8 288.7h0M409.4 332.1h0M408.8 278.4h0M376.4 350.1h0M412.4 267.3h0M378.3 310.8h0M368.3 327.8h0M396.7 330.2h0M423.5 280.3h0M394.0 330.1h0M373.8 302.8h0M410.0 268.9h0M417.6 339.1h0M359.2 305.7h0M357.0 328.8h0M367.0 301.6h0M419.4 288.9h0M390.4 332.1h0M393.9 308.9h0M389.4 324.0h0M378.9 333.6h0M391.8 350.8h0M421.0 276.1h0M391.1 322.4h0M392.8 322.2h0M419.1 322.6h0M403.2 340.6h0M415.6 315.5h0M369.2 320.8h0M416.4 302.8h0M407.9 353.9h0M355.6 315.9h0M417.8 326.3h0M416.6 300.3h0M417.8 341.4h0M401.6 282.7h0M355.7 306.5h0M420.6 356.3h0M399.3 336.4h0M412.3 353.5h0M413.5 305.7h0M401.1 355.1h0M386.2 303.2h0M396.3 356.1h0M410.5 356.2h0M399.1 343.3h0M420.2 338.6h0M365.2 348.0h0M406.3 347.1h0M405.7 297.2h0M354.0 355.7h0M422.8 288.0h0M382.6 353.6h0M416.6 326.1h0M416.9 303.7h0M406.6 284.9h0M359.6 325.7h0M382.9 332.4h0M359.1 352.5h0M400.6 331.9h0M421.2 328.3h0M425.6 295.6h0M402.7 298.4h0M382.3 322.6h0M384.8 320.3h0M388.8 354.8h0M377.0 318.7h0M360.1 324.7h0M404.7 276.7h0M405.3 303.9h0M397.7 343.9h0M378.3 314.6h0M418.8 298.4h0M393.7 350.9h0M356.5 302.6h0M403.6 308.9h0M414.3 311.9h0M417.2 310.6h0M370.1 340.1h0M408.8 346.5h0M369.1 304.5h0M406.4 299.2h0M403.3 364.2h0M413.0 289.9h0M371.6 349.9h0M383.2 343.0h0M420.1 297.3h0M422.5 312.6h0M381.0 352.1h0M413.5 281.3h0M389.2 347.7h0M410.1 370.0h0M423.5 283.7h0M353.5 348.9h0M415.4 314.8h0M390.0 335.3h0M389.4 302.6h0M416.7 334.0h0M417.8 345.4h0M379.4 304.5h0M402.3 352.8h0M408.7 262.6h0M416.2 313.6h0M407.6 333.0h0M397.1 351.5h0M371.2 341.0h0M360.6 349.0h0M422.8 309.1h0M416.2 323.4h0M361.5 308.8h0M396.8 342.3h0M364.5 321.8h0M378.9 345.0h0M406.3 263.6h0M422.6 302.9h0M355.2 313.5h0M410.1 313.4h0M390.9 323.5h0M386.7 346.1h0M379.8 336.1h0M357.7 329.8h0M370.0 302.9h0M376.5 305.2h0M393.2 323.6h0M411.1 263.2h0M387.0 344.5h0M368.0 301.1h0M404.6 352.6h0M395.4 332.5h0M410.5 303.9h0M362.1 337.8h0M361.5 335.8h0M364.0 302.0h0M376.3 316.8h0M410.6 293.1h0M361.6 338.0h0M374.2 354.8h0M419.9 316.1h0M393.1 329.3h0M369.3 341.0h0M370.0 322.2h0M360.4 353.0h0M422.7 286.8h0M382.0 346.4h0M381.4 325.3h0M362.4 344.3h0M363.6 334.4h0M367.9 324.9h0M357.7 344.5h0M361.2 316.6h0M361.3 305.2h0M382.0 346.2h0M392.4 295.8h0M395.1 341.4h0M407.7 328.7h0M358.4 349.0h0M400.6 363.0h0M369.5 346.2h0M420.9 311.3h0M414.4 347.9h0M359.1 334.0h0M393.9 351.9h0M395.7 292.7h0M363.1 302.1h0M405.9 335.5h0M374.8 325.3h0M371.9 305.2h0M358.1 312.7h0M364.0 363.4h0M388.3 351.0h0M403.9 325.6h0M402.9 336.1h0M388.5 353.1h0M421.1 344.8h0M381.9 313.3h0M359.7 353.9h0M419.6 280.5h0M398.4 290.2h0M407.3 273.6h0M359.0 326.2h0M380.0 314.1h0M404.0 336.0h0M378.7 315.3h0M416.1 299.7h0M376.4 325.1h0M383.3 322.2h0M398.1 324.9h0M377.8 350.3h0" stroke="#5b8fc8" stroke-opacity="0.1" stroke-width="3.0" stroke-linecap="round" fill="none"/>
<path d="M349.22,323.17 C350.05,320.90 352.37,319.46 354.17,319.46 C355.96,319.46 359.01,320.69 359.98,323.17 C360.94,325.64 360.94,332.23 359.98,334.29 C359.01,336.35 355.96,335.73 354.17,335.53 C352.37,335.32 350.05,335.11 349.22,333.05 C348.40,330.99 348.40,325.43 349.22,323.17Z" fill="#5a8fc6" fill-opacity="0.42" filter="url(#b25)"/>
<path d="M349.22,323.17 C350.05,320.90 352.37,319.46 354.17,319.46 C355.96,319.46 359.01,320.69 359.98,323.17 C360.94,325.64 360.94,332.23 359.98,334.29 C359.01,336.35 355.96,335.73 354.17,335.53 C352.37,335.32 350.05,335.11 349.22,333.05 C348.40,330.99 348.40,325.43 349.22,323.17Z" fill="#5a8fc6" fill-opacity="0.42" filter="url(#b25)"/>
<path d="M346.75,320.69 C346.96,317.81 351.96,318.22 354.17,318.22 C356.37,318.22 359.01,318.22 359.98,320.69 C360.94,323.17 361.15,330.58 359.98,333.05 C358.80,335.53 355.13,337.59 352.93,335.53 C350.73,333.47 346.54,323.58 346.75,320.69Z" fill="#5a8fc6" fill-opacity="0.42" filter="url(#b25)"/>
<path d="M333.15,345.42 C333.98,341.50 341.39,340.06 344.28,340.47 C347.16,340.88 349.63,344.59 350.46,347.89 C351.28,351.18 351.08,357.57 349.22,360.25 C347.37,362.93 342.01,366.43 339.33,363.96 C336.65,361.48 332.33,349.33 333.15,345.42Z" fill="#5a8fc6" fill-opacity="0.42" filter="url(#b25)"/>
<path d="M405.92,263.83 C406.74,259.92 409.62,259.71 410.86,262.60 C412.10,265.48 412.71,274.75 413.33,281.14 C413.95,287.52 415.39,297.41 414.57,300.92 C413.74,304.42 409.83,304.62 408.39,302.15 C406.95,299.68 406.33,292.47 405.92,286.08 C405.50,279.70 405.09,267.75 405.92,263.83Z" fill="#5a8fc6" fill-opacity="0.42" filter="url(#b25)"/>
<path d="M408.39,333.05 C409.42,330.99 414.16,329.55 415.80,333.05 C417.45,336.56 418.69,350.36 418.28,354.07 C417.86,357.78 414.77,356.75 413.33,355.30 C411.89,353.86 410.45,349.12 409.62,345.42 C408.80,341.71 407.36,335.11 408.39,333.05Z" fill="#5a8fc6" fill-opacity="0.42" filter="url(#b25)"/>
<path d="M353.9 328.1h0M354.7 333.3h0M356.0 323.5h0M353.7 332.3h0M355.2 335.3h0M353.0 322.3h0M355.5 329.6h0M353.8 327.7h0M355.7 333.7h0M353.2 324.9h0M354.0 329.4h0M358.1 331.3h0M359.3 326.0h0M355.6 322.5h0M351.3 329.5h0M354.5 324.1h0M349.8 328.0h0M353.9 320.5h0M354.7 325.4h0M354.8 332.5h0M350.1 326.5h0M349.8 325.3h0M350.3 325.5h0M358.0 319.1h0M355.1 329.3h0M355.4 332.5h0M352.5 322.9h0M360.0 328.7h0M354.7 334.9h0M351.8 331.1h0M352.1 330.1h0M353.4 334.2h0M355.1 324.4h0M359.2 321.6h0M352.7 332.8h0M354.1 320.3h0M354.7 331.1h0M356.3 333.5h0M353.5 323.8h0M356.0 324.7h0M347.5 325.0h0M356.8 328.5h0M351.1 325.0h0M358.0 324.1h0M354.9 329.5h0M350.7 329.8h0M355.9 328.7h0M360.5 331.9h0M347.5 326.0h0M356.6 324.3h0M357.4 331.7h0M354.5 329.3h0M356.1 324.6h0M356.5 322.2h0M354.7 330.3h0M350.7 329.7h0M356.5 330.2h0M356.2 328.5h0M350.8 332.9h0M356.0 332.9h0M349.8 320.9h0M357.9 332.3h0M350.4 345.9h0M344.5 356.9h0M348.7 352.2h0M343.2 343.7h0M339.3 362.6h0M343.4 343.9h0M344.2 341.4h0M348.2 357.1h0M339.0 345.0h0M346.9 357.9h0M339.8 348.6h0M336.1 351.8h0M345.0 359.3h0M348.9 346.9h0M343.6 356.9h0M351.1 356.7h0M337.9 350.7h0M342.9 351.9h0M339.0 358.6h0M336.4 346.1h0M346.4 347.6h0M342.3 363.6h0M342.1 348.9h0M347.2 353.2h0M339.1 349.1h0M342.2 343.2h0M335.9 349.1h0M341.3 353.2h0M342.3 350.9h0M339.8 360.4h0M338.0 352.2h0M343.0 353.0h0M344.6 339.3h0M341.3 345.8h0M344.9 343.1h0M340.2 356.1h0M341.4 363.1h0M348.8 353.5h0M342.2 352.0h0M347.1 347.1h0M346.6 352.0h0M410.1 286.1h0M411.5 275.6h0M408.0 296.2h0M409.5 265.3h0M414.4 297.1h0M412.5 273.2h0M408.1 277.8h0M412.9 292.9h0M407.2 264.8h0M405.6 270.3h0M413.4 284.1h0M407.6 291.1h0M411.7 293.9h0M410.2 296.9h0M409.1 274.4h0M409.5 292.7h0M410.0 298.6h0M410.7 279.3h0M408.8 294.8h0M410.1 291.7h0M410.5 291.2h0M408.8 265.9h0M412.0 295.2h0M412.0 284.9h0M407.3 299.1h0M403.9 275.7h0M406.7 266.7h0M413.8 282.5h0M407.9 290.4h0M404.9 288.5h0M409.8 268.7h0M407.2 291.8h0M409.6 279.5h0M413.2 294.4h0M409.3 272.7h0M405.5 274.0h0M409.2 283.0h0M410.0 332.7h0M413.2 333.6h0M413.0 335.8h0M416.2 347.6h0M414.9 332.9h0M409.4 346.5h0M414.4 352.8h0M412.7 346.4h0M411.0 345.8h0M408.4 341.5h0M412.0 333.2h0M410.9 336.0h0M416.5 342.1h0M410.3 344.1h0M412.5 344.8h0M412.3 340.4h0M409.1 337.8h0M414.2 334.7h0M412.6 347.0h0M417.4 340.7h0M411.3 339.2h0M408.3 339.4h0M415.0 340.9h0M415.3 348.5h0M406.5 339.6h0M411.6 344.5h0" stroke="#3a75b5" stroke-opacity="0.14" stroke-width="2.8" stroke-linecap="round" fill="none"/>
<path d="M354.00,323.17 C355.24,321.93 358.94,326.05 361.42,325.64 C363.89,325.23 366.77,322.34 368.83,320.69 C370.89,319.05 371.72,317.19 373.78,315.75 C375.84,314.31 378.72,313.48 381.19,312.04 C383.67,310.60 386.55,308.54 388.61,307.10 C390.67,305.65 392.22,304.01 393.56,303.39 C394.89,302.77 395.82,302.77 396.65,303.39 C397.47,304.01 397.78,307.71 398.50,307.10 C399.22,306.48 399.94,301.12 400.97,299.68 C402.00,298.24 403.65,301.12 404.68,298.44 C405.71,295.77 406.43,287.11 407.15,283.61 C407.87,280.11 408.39,277.43 409.01,277.43 C409.62,277.43 410.35,280.11 410.86,283.61 C411.38,287.11 411.48,294.32 412.10,298.44 C412.71,302.56 414.36,305.04 414.57,308.33 C414.77,311.63 413.74,314.93 413.33,318.22 C412.92,321.52 412.92,326.05 412.10,328.11 C411.27,330.17 409.62,329.55 408.39,330.58 C407.15,331.61 405.71,334.70 404.68,334.29 C403.65,333.88 403.03,329.96 402.21,328.11 C401.38,326.26 400.77,323.99 399.74,323.17 C398.71,322.34 397.06,321.31 396.03,323.17 C395.00,325.02 394.38,333.47 393.56,334.29 C392.73,335.11 392.11,329.55 391.08,328.11 C390.05,326.67 388.82,326.05 387.37,325.64 C385.93,325.23 383.87,325.02 382.43,325.64 C380.99,326.26 379.96,327.70 378.72,329.35 C377.49,330.99 376.15,333.67 375.01,335.53 C373.88,337.38 372.75,340.68 371.92,340.47 C371.10,340.26 371.00,335.53 370.07,334.29 C369.14,333.05 367.80,333.05 366.36,333.05 C364.92,333.05 363.48,334.29 361.42,334.29 C359.36,334.29 355.24,334.91 354.00,333.05 C352.76,331.20 352.76,324.40 354.00,323.17Z" fill="#0c4f96" fill-opacity="0.95" filter="url(#b10)"/>
<path d="M372.54,320.69 C374.19,318.43 380.78,316.16 384.90,314.51 C389.02,312.86 393.14,312.45 397.26,310.80 C401.38,309.16 407.15,304.21 409.62,304.62 C412.10,305.04 412.30,310.19 412.10,313.28 C411.89,316.37 410.86,321.93 408.39,323.17 C405.92,324.40 401.18,320.69 397.26,320.69 C393.35,320.69 388.61,321.93 384.90,323.17 C381.19,324.40 377.07,328.52 375.01,328.11 C372.95,327.70 370.89,322.96 372.54,320.69Z" fill="#05397d" fill-opacity="0.9" filter="url(#b20)"/>
<line x1="280.5" y1="317.50" x2="433.9" y2="317.50" stroke="#9a9a9a" stroke-width="1"/>
<path d="M287.42,329.96 C288.24,332.13 290.51,339.13 292.36,342.94 C294.22,346.75 296.48,350.57 298.54,352.83 C300.60,355.10 302.66,355.82 304.72,356.54 C306.78,357.26 308.84,357.57 310.90,357.16 C312.96,356.75 315.02,355.20 317.08,354.07 C319.14,352.93 321.20,351.60 323.26,350.36 C325.32,349.12 327.38,347.99 329.44,346.65 C331.50,345.31 333.56,343.77 335.62,342.33 C337.68,340.88 339.74,339.34 341.80,338.00 C343.86,336.66 345.93,335.42 347.99,334.29 C350.05,333.16 353.16,331.61 354.17,331.20 C355.17,330.79 351.97,332.54 354.00,331.82 C356.03,331.10 362.24,328.42 366.36,326.87 C370.48,325.33 374.60,323.99 378.72,322.55 C382.84,321.11 386.96,319.66 391.08,318.22 C395.20,316.78 399.32,315.34 403.44,313.89 C407.56,312.45 411.89,310.87 415.80,309.57 C419.72,308.27 425.08,306.68 426.93,306.11" fill="none" stroke="#f7901e" stroke-width="1.75" stroke-dasharray="4.2 1.9"/>
</g>
<rect x="283.10" y="250.90" width="108.00" height="40.50" rx="1" fill="#fff" fill-opacity="0.8" stroke="#dcdcdc" stroke-width="0.6"/>
<circle cx="290.30" cy="254.70" r="1.4" fill="#7593d2" stroke="#b5c5ea" stroke-width="0.5"/>
<rect x="284.70" y="260.60" width="10.8" height="3.4" fill="#fdd7ac" fill-opacity="0.8"/>
<line x1="284.70" y1="278.10" x2="295.50" y2="278.10" stroke="#f7901e" stroke-width="1.5" stroke-dasharray="4.2 1.9"/>
<text x="299.80" y="256.50" font-size="5.2" text-anchor="start" fill="#1a1a1a" >Sample</text>
<text x="299.80" y="264.10" font-size="5.2" text-anchor="start" fill="#1a1a1a" >95% Confidence interval</text>
<text x="299.80" y="271.40" font-size="5.2" text-anchor="start" fill="#1a1a1a" >Fitted curve (R-square: 0.54):</text>
<text x="299.80" y="279.90" font-size="5.2" text-anchor="start" fill="#1a1a1a" ><tspan dy="0" dx="0">y&#160;=&#160;-7.5e-15X</tspan><tspan font-size="3.4" dy="-2.9" dx="0.2">5</tspan><tspan dy="2.9" dx="0.9">&#160;-4.8e-12X</tspan><tspan font-size="3.4" dy="-2.9" dx="0.2">4</tspan><tspan dy="2.9" dx="0.9">&#160;+1.4e-10X</tspan><tspan font-size="3.4" dy="-2.9" dx="0.2">3</tspan></text>
<text x="308.60" y="288.00" font-size="5.2" text-anchor="start" fill="#1a1a1a" ><tspan dy="0" dx="0">+1.8e-07X</tspan><tspan font-size="3.4" dy="-2.9" dx="0.2">2</tspan><tspan dy="2.9" dx="0.9">&#160;+0.00022X&#160;+0.00094</tspan></text>
<path d="M349.50,423.90V423.56h1.95V423.90ZM351.45,423.90V423.48h1.95V423.90ZM353.40,423.90V423.39h1.95V423.90ZM355.35,423.90V423.30h1.95V423.90ZM357.30,423.90V423.21h1.95V423.90ZM359.25,423.90V423.12h1.95V423.90ZM361.20,423.90V422.91h1.95V423.90ZM363.15,423.90V422.65h1.95V423.90ZM365.10,423.90V422.40h1.95V423.90ZM367.05,423.90V422.14h1.95V423.90ZM369.00,423.90V421.88h1.95V423.90ZM370.95,423.90V421.40h1.95V423.90ZM372.90,423.90V420.92h1.95V423.90ZM374.85,423.90V420.44h1.95V423.90ZM376.80,423.90V419.78h1.95V423.90ZM378.75,423.90V419.10h1.95V423.90ZM380.70,423.90V417.81h1.95V423.90ZM382.65,423.90V416.01h1.95V423.90ZM384.60,423.90V414.38h1.95V423.90ZM386.55,423.90V413.11h1.95V423.90ZM388.50,423.90V410.29h1.95V423.90ZM390.45,423.90V407.94h1.95V423.90ZM392.40,423.90V404.58h1.95V423.90ZM394.35,423.90V399.59h1.95V423.90ZM396.30,423.90V396.05h1.95V423.90ZM398.25,423.90V392.90h1.95V423.90ZM400.20,423.90V391.70h1.95V423.90ZM402.15,423.90V391.99h1.95V423.90ZM404.10,423.90V393.46h1.95V423.90ZM406.05,423.90V398.85h1.95V423.90ZM408.00,423.90V404.70h1.95V423.90ZM409.95,423.90V412.36h1.95V423.90ZM411.90,423.90V417.55h1.95V423.90ZM413.85,423.90V421.26h1.95V423.90ZM415.80,423.90V423.16h1.95V423.90Z" fill="#808080" stroke="#2e2e2e" stroke-width="0.35"/>
<text x="276.50" y="268.00" font-size="7.9" text-anchor="end" fill="#1a1a1a" >0.2</text>
<text x="276.50" y="294.35" font-size="7.9" text-anchor="end" fill="#1a1a1a" >0.1</text>
<text x="276.50" y="320.70" font-size="7.9" text-anchor="end" fill="#1a1a1a" >0.0</text>
<text x="276.50" y="347.05" font-size="7.9" text-anchor="end" fill="#1a1a1a" >-0.1</text>
<text x="276.50" y="373.40" font-size="7.9" text-anchor="end" fill="#1a1a1a" >-0.2</text>
<text x="301.25" y="433.90" font-size="7.9" text-anchor="middle" fill="#1a1a1a" >-600</text>
<text x="332.50" y="433.90" font-size="7.9" text-anchor="middle" fill="#1a1a1a" >-400</text>
<text x="363.75" y="433.90" font-size="7.9" text-anchor="middle" fill="#1a1a1a" >-200</text>
<text x="395.00" y="433.90" font-size="7.9" text-anchor="middle" fill="#1a1a1a" >0</text>
<text x="426.25" y="433.90" font-size="7.9" text-anchor="middle" fill="#1a1a1a" >200</text>
<text class="k" x="357.20" y="445.60" font-size="12.2" text-anchor="middle" fill="#1a1a1a" >HIE_D (%)</text>
<text class="k" transform="translate(253.90,336.20) rotate(-90)" font-size="12" text-anchor="middle" fill="#1a1a1a">Effect on Adult_Mig_R (%)</text>
<text class="k" transform="translate(273.60,407.35) rotate(-90)" font-size="11.7" text-anchor="middle" fill="#1a1a1a">Dist.</text>
<rect x="280.5" y="248.5" width="153.40" height="140.50" fill="none" stroke="#7a7a7a" stroke-width="1.2"/>
<rect x="280.5" y="389.0" width="153.40" height="34.90" fill="none" stroke="#7a7a7a" stroke-width="1.2"/>
<line x1="540.38" y1="248.4" x2="540.38" y2="424.0" stroke="#f3f3f3" stroke-width="0.7"/>
<line x1="570.40" y1="248.4" x2="570.40" y2="424.0" stroke="#f3f3f3" stroke-width="0.7"/>
<line x1="600.42" y1="248.4" x2="600.42" y2="424.0" stroke="#f3f3f3" stroke-width="0.7"/>
<line x1="630.45" y1="248.4" x2="630.45" y2="424.0" stroke="#f3f3f3" stroke-width="0.7"/>
<line x1="660.47" y1="248.4" x2="660.47" y2="424.0" stroke="#f3f3f3" stroke-width="0.7"/>
<line x1="532.6" y1="257.00" x2="662.4" y2="257.00" stroke="#f3f3f3" stroke-width="0.7"/>
<text x="530.40" y="255.20" font-size="8.0" text-anchor="end" fill="#1a1a1a" >Urban_R</text>
<text x="531.00" y="261.50" font-size="6.0" text-anchor="end" fill="#1a1a1a" >(15.39%)</text>
<line x1="532.6" y1="272.91" x2="662.4" y2="272.91" stroke="#f3f3f3" stroke-width="0.7"/>
<text x="530.40" y="271.11" font-size="8.0" text-anchor="end" fill="#1a1a1a" >GDP_PA</text>
<text x="531.00" y="277.41" font-size="6.0" text-anchor="end" fill="#1a1a1a" >(12.99%)</text>
<line x1="532.6" y1="288.82" x2="662.4" y2="288.82" stroke="#f3f3f3" stroke-width="0.7"/>
<text x="530.40" y="287.02" font-size="8.0" text-anchor="end" fill="#1a1a1a" >Edu</text>
<text x="531.00" y="293.32" font-size="6.0" text-anchor="end" fill="#1a1a1a" >(12.63%)</text>
<line x1="532.6" y1="304.73" x2="662.4" y2="304.73" stroke="#f3f3f3" stroke-width="0.7"/>
<text x="530.40" y="302.93" font-size="8.0" text-anchor="end" fill="#1a1a1a" >NTL_PA</text>
<text x="531.00" y="309.23" font-size="6.0" text-anchor="end" fill="#1a1a1a" >(9.80%)</text>
<line x1="532.6" y1="320.64" x2="662.4" y2="320.64" stroke="#f3f3f3" stroke-width="0.7"/>
<text x="530.40" y="318.84" font-size="8.0" text-anchor="end" fill="#1a1a1a" >TEMP</text>
<text x="531.00" y="325.14" font-size="6.0" text-anchor="end" fill="#1a1a1a" >(9.15%)</text>
<line x1="532.6" y1="336.55" x2="662.4" y2="336.55" stroke="#f3f3f3" stroke-width="0.7"/>
<text x="530.40" y="334.75" font-size="8.0" text-anchor="end" fill="#1a1a1a" >PRCP</text>
<text x="531.00" y="341.05" font-size="6.0" text-anchor="end" fill="#1a1a1a" >(7.61%)</text>
<line x1="532.6" y1="352.46" x2="662.4" y2="352.46" stroke="#f3f3f3" stroke-width="0.7"/>
<text x="530.40" y="350.66" font-size="8.0" text-anchor="end" fill="#1a1a1a" >HIE</text>
<text x="531.00" y="356.96" font-size="6.0" text-anchor="end" fill="#1a1a1a" >(7.56%)</text>
<line x1="532.6" y1="368.37" x2="662.4" y2="368.37" stroke="#f3f3f3" stroke-width="0.7"/>
<text x="530.40" y="366.57" font-size="8.0" text-anchor="end" fill="#1a1a1a" >DEM</text>
<text x="531.00" y="372.87" font-size="6.0" text-anchor="end" fill="#1a1a1a" >(6.83%)</text>
<line x1="532.6" y1="384.28" x2="662.4" y2="384.28" stroke="#f3f3f3" stroke-width="0.7"/>
<text x="530.40" y="382.48" font-size="8.0" text-anchor="end" fill="#1a1a1a" >Water_Dis</text>
<text x="531.00" y="388.78" font-size="6.0" text-anchor="end" fill="#1a1a1a" >(6.78%)</text>
<line x1="532.6" y1="400.19" x2="662.4" y2="400.19" stroke="#f3f3f3" stroke-width="0.7"/>
<text x="530.40" y="398.39" font-size="8.0" text-anchor="end" fill="#1a1a1a" >HIE_D</text>
<text x="531.00" y="404.69" font-size="6.0" text-anchor="end" fill="#1a1a1a" >(5.69%)</text>
<line x1="532.6" y1="416.10" x2="662.4" y2="416.10" stroke="#f3f3f3" stroke-width="0.7"/>
<text x="530.40" y="414.30" font-size="8.0" text-anchor="end" fill="#1a1a1a" >Rx5day</text>
<text x="531.00" y="420.60" font-size="6.0" text-anchor="end" fill="#1a1a1a" >(5.59%)</text>
<line x1="570.50" y1="248.4" x2="570.50" y2="424.0" stroke="#9a9a9a" stroke-width="1"/>
<path d="M552.6 255.6h0M567.3 255.9h0M549.7 254.6h0M553.7 258.0h0M564.2 257.6h0M550.9 258.7h0M565.7 257.6h0M551.6 255.5h0M556.3 256.8h0M555.2 256.6h0M562.3 259.5h0M564.9 257.7h0M568.0 257.8h0M560.4 256.0h0M553.5 255.9h0M558.7 257.9h0M560.5 257.2h0M564.5 257.6h0M562.8 255.6h0M548.4 304.8h0M567.5 303.1h0M561.8 304.8h0M562.7 305.4h0M566.2 304.6h0M559.8 306.7h0M554.7 304.3h0M560.0 304.4h0M568.9 302.9h0M566.6 304.6h0M559.6 304.3h0M559.6 305.5h0M563.0 306.0h0M560.0 305.7h0M563.1 303.7h0M563.1 304.7h0M556.8 304.8h0M554.0 303.9h0M562.5 306.9h0M552.3 305.5h0M545.6 304.9h0M554.3 304.0h0M563.0 339.0h0M572.7 335.6h0M575.2 335.3h0M562.0 333.5h0M562.1 339.0h0M561.8 337.7h0M576.1 336.1h0M561.4 337.7h0M572.2 337.0h0M568.0 335.5h0M563.6 333.8h0M573.8 337.7h0M567.6 335.6h0M569.3 336.6h0M562.1 355.8h0M572.5 352.7h0M562.5 355.8h0M573.6 353.1h0M574.0 354.9h0M571.2 352.2h0M575.9 351.6h0M568.5 351.5h0M561.9 349.6h0M580.3 350.8h0M562.1 351.4h0M576.6 353.4h0M573.1 352.7h0M565.6 349.2h0M565.5 352.4h0M561.7 353.4h0M567.8 355.8h0M579.4 350.4h0M578.5 352.6h0M575.6 370.6h0M567.3 370.5h0M569.5 369.2h0M568.1 369.0h0M576.6 367.8h0M564.4 369.8h0M572.4 366.7h0M567.8 369.3h0M573.7 368.3h0M576.3 367.0h0M572.7 369.2h0M573.5 366.0h0M578.1 368.6h0M572.9 367.4h0M575.0 367.2h0M567.8 371.5h0" stroke="#dcd6e2" stroke-width="2.3" stroke-linecap="round" stroke-opacity="0.85" fill="none"/>
<path d="M563.0 274.5h0M572.4 273.0h0M580.1 273.8h0M549.8 275.3h0M553.0 273.1h0M564.2 270.3h0M564.5 271.3h0M569.2 273.3h0M569.7 273.1h0M566.6 273.8h0M549.9 275.1h0M563.4 274.1h0M555.1 272.4h0M581.0 270.9h0M562.7 272.0h0M575.7 273.5h0M548.9 275.4h0M550.6 272.1h0M557.5 273.5h0M550.9 274.1h0M548.8 272.8h0M553.1 271.6h0M575.1 272.9h0M581.0 270.3h0M579.2 272.0h0M555.2 273.3h0M564.4 271.3h0M575.5 273.3h0M570.3 273.3h0M569.0 272.4h0M580.2 271.6h0M566.1 275.7h0M554.0 271.6h0M561.5 273.2h0M597.9 271.7h0M598.1 273.4h0M581.8 276.2h0M591.6 272.6h0M594.9 271.9h0M598.0 272.2h0M585.6 273.5h0M590.3 274.8h0M600.4 272.0h0M594.9 272.2h0M582.4 276.2h0M603.4 272.8h0M599.0 273.7h0M581.9 274.4h0M582.9 274.0h0M597.8 272.9h0M567.2 289.8h0M579.6 289.1h0M560.2 288.4h0M562.4 289.6h0M562.0 291.4h0M566.6 289.2h0M574.1 290.2h0M564.8 288.9h0M572.4 290.4h0M578.0 290.2h0M562.6 287.6h0M572.6 287.8h0M578.5 289.8h0M580.0 288.4h0M543.5 304.5h0M571.7 308.0h0M568.6 301.6h0M566.3 303.8h0M571.6 305.5h0M562.0 305.6h0M574.9 305.3h0M568.0 303.8h0M561.7 306.6h0M568.7 307.1h0M566.0 304.4h0M577.7 304.1h0M572.2 321.4h0M560.5 321.5h0M561.4 322.0h0M562.6 321.9h0M561.9 321.6h0M566.7 321.0h0M562.5 322.4h0M575.1 321.8h0M562.9 321.4h0M562.1 318.2h0M571.1 318.6h0M565.3 320.8h0M571.5 321.0h0M559.9 321.2h0M560.3 320.8h0M575.0 323.7h0M561.8 321.4h0M572.1 319.4h0M572.5 321.4h0M558.4 336.9h0M560.8 333.3h0M560.1 335.8h0M562.4 336.8h0M556.7 337.0h0M564.6 335.1h0M551.7 336.7h0M564.6 335.9h0M569.2 336.1h0M556.1 336.3h0M560.3 334.9h0M555.2 337.0h0M553.2 336.7h0M556.5 334.4h0M592.5 352.1h0M592.8 352.7h0M594.6 351.9h0M604.4 352.2h0M605.6 352.1h0M608.3 352.7h0M556.0 368.3h0M559.9 369.1h0M556.0 369.3h0M564.8 368.3h0M567.0 368.3h0M562.8 366.4h0M556.9 368.6h0M567.3 370.1h0M559.6 369.3h0M553.7 368.3h0M568.5 370.2h0M566.8 369.0h0M558.2 368.3h0M565.3 366.9h0M565.9 413.6h0M567.7 416.7h0M572.8 415.7h0M567.6 415.4h0M572.1 418.1h0M567.4 416.3h0M567.3 416.9h0M575.5 417.9h0M573.7 414.7h0M567.2 416.3h0M576.5 415.2h0" stroke="#93aef0" stroke-width="2.3" stroke-linecap="round" stroke-opacity="0.85" fill="none"/>
<path d="M607.6 304.8h0M557.9 352.5h0M561.5 351.3h0M562.9 354.8h0M565.9 355.3h0M565.0 354.4h0M567.4 349.8h0M558.8 352.3h0M559.2 352.2h0M557.6 353.1h0M565.5 354.7h0M568.6 352.7h0M562.8 355.8h0M557.6 350.5h0M568.2 352.3h0M571.3 386.4h0M575.0 384.6h0M572.2 382.0h0M571.4 384.2h0M569.9 384.4h0M564.2 385.4h0M573.9 384.9h0M573.0 385.1h0M576.0 384.0h0M565.9 384.1h0M569.6 387.6h0M600.2 416.2h0" stroke="#f5c887" stroke-width="2.3" stroke-linecap="round" stroke-opacity="0.85" fill="none"/>
<path d="M539.1 256.9h0M549.1 259.4h0M541.2 256.8h0M551.2 259.3h0M542.2 256.7h0M539.0 257.3h0M551.2 258.5h0M551.0 257.0h0M561.3 272.6h0M555.6 273.6h0M561.5 274.1h0M562.7 272.6h0M567.7 273.0h0M554.7 274.2h0M558.3 271.9h0M553.3 271.8h0M553.2 272.6h0M559.5 272.8h0M564.4 273.9h0M539.2 289.1h0M539.4 288.9h0M538.8 290.2h0M538.7 288.8h0M592.7 290.4h0M594.1 285.5h0M592.5 289.2h0M582.6 289.2h0M589.3 290.3h0M551.8 321.2h0M553.1 320.6h0M552.5 321.1h0M585.3 338.2h0M582.5 334.9h0M588.5 336.7h0M584.3 337.3h0M577.6 335.4h0M577.1 349.2h0M580.7 353.1h0M584.5 352.4h0M588.9 353.2h0M587.9 353.3h0M578.9 353.9h0M587.1 354.5h0M584.3 353.0h0M579.2 352.1h0M578.4 350.6h0M577.6 351.6h0M550.9 368.3h0M581.2 385.5h0M581.1 385.1h0M573.8 384.3h0M585.5 386.0h0M582.6 384.6h0M585.7 386.5h0M575.7 381.7h0M585.7 381.7h0M587.7 384.4h0M585.1 382.0h0M584.3 384.1h0M591.9 382.6h0M592.6 384.1h0M581.8 385.6h0M591.8 383.3h0M576.9 383.7h0M604.1 384.4h0M574.8 399.4h0M569.9 403.4h0M569.5 400.9h0M574.8 400.8h0M566.5 400.6h0M570.8 400.3h0M571.8 402.3h0M573.1 401.7h0M561.1 416.7h0M561.9 413.6h0M569.3 415.4h0M565.0 417.7h0M556.6 415.8h0M557.4 416.1h0M568.3 416.0h0M569.0 416.3h0" stroke="#3f65e2" stroke-width="2.3" stroke-linecap="round" stroke-opacity="0.85" fill="none"/>
<path d="M573.0 257.3h0M579.1 256.7h0M562.9 253.7h0M582.4 255.1h0M563.8 258.1h0M594.6 256.3h0M591.0 253.7h0M564.9 255.5h0M593.1 256.1h0M579.5 256.6h0M584.9 257.5h0M574.0 257.1h0M584.0 257.3h0M567.9 258.7h0M566.6 260.3h0M575.7 256.4h0M588.5 260.3h0M588.8 256.7h0M574.6 256.7h0M570.2 256.7h0M560.4 255.6h0M562.6 258.8h0M588.0 260.3h0M579.9 257.2h0M590.6 260.3h0M589.7 257.1h0M570.3 256.3h0M583.2 257.4h0M588.2 255.7h0M572.6 257.6h0M565.3 260.3h0M569.0 259.3h0M564.1 256.2h0M583.2 257.5h0M589.0 254.9h0M572.3 254.3h0M577.7 256.3h0M582.8 256.9h0M588.5 258.1h0M563.5 257.2h0M589.7 272.9h0M585.2 273.1h0M589.4 272.5h0M588.6 272.1h0M589.9 272.6h0M548.0 286.7h0M552.8 288.8h0M551.4 290.5h0M544.3 287.9h0M548.0 289.7h0M562.4 289.2h0M544.4 289.5h0M549.5 288.4h0M557.0 288.9h0M546.9 289.5h0M560.8 289.2h0M550.7 288.7h0M552.2 288.2h0M556.9 288.5h0M552.9 286.8h0M566.8 288.2h0M574.4 288.4h0M576.8 289.9h0M597.0 288.6h0M596.9 288.6h0M594.8 289.6h0M596.8 287.2h0M590.5 290.3h0M571.2 290.3h0M587.8 289.4h0M578.3 285.8h0M579.4 285.5h0M594.3 287.2h0M579.6 287.4h0M591.5 287.7h0M591.3 289.9h0M570.7 288.4h0M583.7 305.7h0M591.3 305.6h0M571.8 304.6h0M592.7 304.6h0M593.0 304.4h0M587.2 304.1h0M582.0 303.6h0M579.2 304.8h0M576.9 306.2h0M584.4 305.3h0M574.0 304.3h0M586.9 304.2h0M588.1 305.3h0M570.6 301.9h0M579.7 303.9h0M573.5 306.1h0M584.9 303.4h0M570.4 304.5h0M580.2 304.2h0M579.6 308.0h0M573.9 304.2h0M589.1 304.1h0M573.6 317.8h0M584.7 320.1h0M572.0 321.1h0M580.9 321.7h0M570.3 318.3h0M587.0 320.5h0M576.1 318.5h0M574.8 320.4h0M573.2 320.9h0M577.8 320.0h0M570.9 319.0h0M570.2 321.4h0M571.0 321.5h0M573.2 319.3h0M580.6 320.6h0M569.7 318.1h0M585.2 318.9h0M580.8 319.8h0M583.1 320.1h0M591.4 336.8h0M587.1 336.9h0M581.6 337.5h0M584.2 336.0h0M588.0 335.4h0M574.8 333.9h0M578.8 336.5h0M576.8 337.4h0M570.1 337.1h0M585.3 335.8h0M594.1 336.0h0M593.6 336.5h0M588.5 337.0h0M573.8 335.1h0M589.0 336.2h0M584.0 336.0h0M586.5 336.2h0M587.2 336.6h0M593.8 336.5h0M614.2 337.3h0M614.8 336.2h0M614.8 337.0h0M545.6 352.9h0M551.0 352.3h0M554.3 354.0h0M553.4 351.6h0M554.7 352.9h0M548.0 353.7h0M555.1 353.1h0M546.9 351.1h0M584.3 368.3h0M583.0 368.3h0M581.1 368.2h0M587.6 367.8h0M575.4 369.5h0M585.3 367.2h0M586.1 369.1h0M581.3 368.7h0M588.2 369.0h0M578.2 367.8h0M579.3 368.0h0M557.7 383.0h0M565.7 384.7h0M558.3 385.7h0M564.6 383.1h0M568.6 385.5h0M555.7 383.9h0M559.0 386.3h0M559.9 385.8h0M555.9 387.1h0M568.0 384.6h0M567.9 384.3h0M554.3 384.6h0M554.4 384.3h0M562.0 382.7h0M553.9 383.1h0M559.0 385.0h0M562.8 383.7h0M560.0 385.9h0M563.4 384.7h0M551.7 384.6h0M565.3 381.1h0M560.5 382.6h0M571.6 399.7h0M578.4 400.6h0M567.8 400.5h0M578.9 397.6h0M574.5 402.4h0M581.0 397.9h0M571.1 400.7h0M575.4 403.4h0M579.3 403.3h0M580.2 399.3h0M571.2 401.6h0M568.0 398.9h0M574.4 401.6h0M568.9 401.7h0M579.9 400.9h0M577.7 403.1h0M576.3 399.9h0M573.8 398.5h0M565.4 398.1h0M580.3 402.8h0M565.3 399.3h0M566.2 401.2h0M578.0 397.0h0M575.3 400.3h0M572.8 398.3h0M576.2 403.5h0M566.7 399.4h0M586.7 401.8h0M584.8 401.4h0M584.2 400.3h0M585.9 399.4h0M588.5 400.9h0M577.2 417.3h0M577.6 418.6h0M580.6 415.6h0M580.1 416.9h0M576.7 417.4h0M578.8 419.1h0M580.5 415.2h0M579.4 413.8h0" stroke="#f6981c" stroke-width="2.3" stroke-linecap="round" stroke-opacity="0.85" fill="none"/>
<path d="M589.7 253.7h0M592.6 257.0h0M583.1 256.7h0M587.9 256.4h0M592.1 257.4h0M582.2 258.6h0M590.5 253.9h0M586.4 256.8h0M601.7 257.0h0M604.2 258.7h0M605.8 256.9h0M605.3 257.6h0M606.2 256.6h0M602.3 256.9h0M607.9 257.0h0M626.1 256.2h0M640.6 288.9h0M601.8 304.8h0M545.8 336.4h0M545.6 385.8h0M544.8 383.1h0M545.7 384.0h0" stroke="#d2691e" stroke-width="2.3" stroke-linecap="round" stroke-opacity="0.85" fill="none"/>
<path d="M578.3 273.5h0M581.9 274.9h0M578.9 272.7h0M583.2 273.5h0M583.1 274.1h0M553.4 288.1h0M543.8 287.2h0M556.5 289.3h0M554.1 289.0h0M550.3 287.4h0M577.5 303.6h0M581.2 302.8h0M580.5 304.0h0M586.2 320.6h0M583.7 320.7h0M583.3 320.8h0M586.7 368.9h0M586.3 369.2h0M585.3 368.9h0M586.2 387.0h0M586.5 381.5h0M588.6 383.7h0M554.2 399.9h0M561.4 399.6h0M555.5 400.3h0M552.8 400.2h0M551.9 399.7h0M560.4 400.9h0M561.7 399.7h0M557.2 399.8h0M561.2 416.3h0M557.1 414.8h0M554.4 415.8h0M562.4 417.4h0M560.1 417.2h0M556.6 416.7h0M553.1 416.5h0M560.1 416.4h0M558.8 416.0h0M553.3 415.2h0M563.3 415.7h0" stroke="#1c1c9c" stroke-width="2.3" stroke-linecap="round" stroke-opacity="0.85" fill="none"/>
<text x="540.38" y="433.00" font-size="7.9" text-anchor="middle" fill="#1a1a1a" >-0.25</text>
<text x="570.40" y="433.00" font-size="7.9" text-anchor="middle" fill="#1a1a1a" >0.00</text>
<text x="600.42" y="433.00" font-size="7.9" text-anchor="middle" fill="#1a1a1a" >0.25</text>
<text x="630.45" y="433.00" font-size="7.9" text-anchor="middle" fill="#1a1a1a" >0.50</text>
<text x="660.47" y="433.00" font-size="7.9" text-anchor="middle" fill="#1a1a1a" >0.75</text>
<text class="k" x="597.50" y="444.80" font-size="12.0" text-anchor="middle" fill="#1a1a1a" >Effect on Adult_Mig_R (%)</text>
<text class="k" transform="translate(483.10,337.00) rotate(-90)" font-size="12" text-anchor="middle" fill="#1a1a1a">Features importance</text>
<rect x="648.8" y="301.00" width="3.8" height="114.70" fill="url(#cbar)"/>
<line x1="647" y1="301.00" x2="648.8" y2="301.00" stroke="#555" stroke-width="0.6"/>
<text x="645.30" y="303.80" font-size="7.7" text-anchor="end" fill="#1a1a1a" >High</text>
<line x1="647" y1="358.35" x2="648.8" y2="358.35" stroke="#555" stroke-width="0.6"/>
<text x="645.30" y="361.15" font-size="7.7" text-anchor="end" fill="#1a1a1a" >Middle</text>
<line x1="647" y1="415.70" x2="648.8" y2="415.70" stroke="#555" stroke-width="0.6"/>
<text x="645.30" y="418.50" font-size="7.7" text-anchor="end" fill="#1a1a1a" >Low</text>
<text class="k" transform="translate(660.0,358.35) rotate(-90)" font-size="7.9" text-anchor="middle" fill="#1a1a1a">Feature value</text>
<rect x="532.6" y="248.4" width="129.80" height="175.60" fill="none" stroke="#7a7a7a" stroke-width="1.2"/>
<text class="k" x="676.60" y="243.60" font-size="21.9" text-anchor="end" fill="#1a1a1a" >b. Adult</text>
<line x1="70.85" y1="476.5" x2="70.85" y2="652.35" stroke="#f3f3f3" stroke-width="0.7"/>
<line x1="99.75" y1="476.5" x2="99.75" y2="652.35" stroke="#f3f3f3" stroke-width="0.7"/>
<line x1="128.65" y1="476.5" x2="128.65" y2="652.35" stroke="#f3f3f3" stroke-width="0.7"/>
<line x1="157.55" y1="476.5" x2="157.55" y2="652.35" stroke="#f3f3f3" stroke-width="0.7"/>
<line x1="186.45" y1="476.5" x2="186.45" y2="652.35" stroke="#f3f3f3" stroke-width="0.7"/>
<line x1="52.35" y1="486.30" x2="205.4" y2="486.30" stroke="#f3f3f3" stroke-width="0.7"/>
<line x1="52.35" y1="515.15" x2="205.4" y2="515.15" stroke="#f3f3f3" stroke-width="0.7"/>
<line x1="52.35" y1="544.00" x2="205.4" y2="544.00" stroke="#f3f3f3" stroke-width="0.7"/>
<line x1="52.35" y1="572.85" x2="205.4" y2="572.85" stroke="#f3f3f3" stroke-width="0.7"/>
<line x1="52.35" y1="601.70" x2="205.4" y2="601.70" stroke="#f3f3f3" stroke-width="0.7"/>
<line x1="52.35" y1="634.88" x2="205.4" y2="634.88" stroke="#f3f3f3" stroke-width="0.7"/>
<clipPath id="clip_cL"><rect x="52.35" y="476.5" width="153.05" height="140.90"/></clipPath>
<g clip-path="url(#clip_cL)">
<path d="M150.88,543.16 C151.29,540.26 159.17,544.41 163.31,545.65 C167.46,546.90 171.61,550.63 175.75,550.63 C179.90,550.63 184.35,546.48 188.19,545.65 C192.02,544.82 197.00,541.51 198.76,545.65 C200.52,549.80 200.94,565.97 198.76,570.53 C196.58,575.09 189.95,573.01 185.70,573.01 C181.45,573.01 177.41,572.19 173.26,570.53 C169.12,568.87 164.56,567.63 160.83,563.06 C157.09,558.50 150.46,546.07 150.88,543.16Z" fill="#d0d3da" fill-opacity="0.6" filter="url(#b25)"/>
<path d="M162.7 554.9h0M172.0 554.0h0M174.2 569.9h0M183.5 557.4h0M170.7 571.4h0M197.2 561.7h0M178.3 568.3h0M198.1 568.1h0M197.6 553.5h0M180.2 555.2h0M197.6 546.0h0M175.0 568.8h0M185.3 561.1h0M163.6 553.7h0M196.9 560.4h0M185.3 551.6h0M181.1 563.0h0M159.6 560.9h0M191.7 547.6h0M173.3 556.5h0M188.9 557.7h0M178.8 554.6h0M194.9 546.7h0M175.5 556.1h0M161.1 551.0h0M159.5 551.7h0M189.2 566.7h0M196.2 561.0h0M188.3 566.5h0M174.9 563.4h0M157.6 552.4h0M191.2 566.7h0M160.6 544.5h0M195.6 563.8h0M164.8 560.2h0M194.2 553.3h0M173.7 558.0h0M188.3 550.4h0M197.4 554.9h0M196.1 556.8h0M188.2 565.6h0M157.3 554.4h0M191.0 563.8h0M156.7 550.9h0M196.9 563.2h0M193.4 566.3h0M196.0 569.3h0M158.0 557.3h0M190.7 555.0h0M189.1 569.8h0M190.1 566.6h0M166.4 549.8h0M162.7 554.0h0M183.0 549.9h0M160.3 557.1h0M184.2 555.8h0M172.5 564.3h0M161.5 547.5h0M175.4 561.3h0M179.4 558.9h0M187.2 551.0h0M162.3 553.1h0M183.5 568.7h0M190.5 548.2h0M158.8 546.7h0M166.7 547.3h0M193.7 569.5h0M186.9 571.9h0M192.8 552.2h0M165.8 561.0h0M193.2 550.9h0M168.5 567.7h0M168.7 555.2h0M198.6 549.5h0M163.7 559.3h0M166.0 563.1h0M164.1 563.6h0" stroke="#9aa0ac" stroke-opacity="0.15" stroke-width="3.0" stroke-linecap="round" fill="none"/>
<path d="M119.45,493.99 C120.76,486.12 126.57,489.86 128.44,496.23 C130.31,502.60 131.06,523.21 130.69,532.21 C130.31,541.20 127.88,548.32 126.19,550.19 C124.50,552.06 121.69,552.81 120.57,543.45 C119.45,534.08 118.13,501.85 119.45,493.99Z" fill="#bcd2ea" fill-opacity="0.26" filter="url(#b35)"/>
<path d="M129.56,547.94 C130.69,544.20 135.93,544.20 137.43,547.94 C138.93,551.69 139.68,566.68 138.56,570.42 C137.43,574.17 132.19,574.17 130.69,570.42 C129.19,566.68 128.44,551.69 129.56,547.94Z" fill="#bcd2ea" fill-opacity="0.26" filter="url(#b35)"/>
<path d="M58.22,507.09 C60.29,500.05 66.93,501.08 70.66,498.39 C74.39,495.69 76.46,489.47 80.61,490.93 C84.75,492.38 89.94,505.44 95.53,507.09 C101.13,508.75 108.12,503.99 114.19,500.88 C120.26,497.77 129.01,478.07 131.98,488.44 C134.94,498.80 133.70,549.38 131.98,563.06 C130.25,576.75 124.62,568.04 121.65,570.53 C118.69,573.01 117.51,575.50 114.19,577.99 C110.87,580.48 105.90,584.83 101.75,585.45 C97.61,586.07 93.46,585.45 89.31,581.72 C85.17,577.99 81.02,567.83 76.88,563.06 C72.73,558.30 67.55,556.85 64.44,553.11 C61.33,549.38 59.26,548.35 58.22,540.68 C57.18,533.01 56.15,514.14 58.22,507.09Z" fill="#bcd2ea" fill-opacity="0.26" filter="url(#b35)"/>
<path d="M126.00,488.44 C127.24,474.96 130.77,488.44 133.46,494.66 C136.16,500.88 140.72,512.28 142.17,525.75 C143.62,539.23 143.62,566.80 142.17,575.50 C140.72,584.21 136.16,577.99 133.46,577.99 C130.77,577.99 127.24,590.43 126.00,575.50 C124.76,560.58 124.76,501.91 126.00,488.44Z" fill="#bcd2ea" fill-opacity="0.26" filter="url(#b35)"/>
<path d="M123.6 534.0h0M118.6 526.7h0M125.9 502.3h0M117.6 512.2h0M117.6 509.7h0M122.2 514.1h0M121.8 534.6h0M123.1 510.4h0M122.9 537.4h0M130.8 521.9h0M129.4 508.8h0M129.6 509.4h0M122.9 529.1h0M125.5 538.0h0M123.1 535.6h0M128.9 532.4h0M119.2 520.2h0M121.2 530.2h0M127.8 536.7h0M120.9 540.8h0M125.5 499.6h0M124.7 546.9h0M125.4 543.6h0M129.6 531.0h0M127.1 510.4h0M120.4 519.9h0M123.7 522.0h0M132.3 524.9h0M124.3 503.0h0M124.0 520.2h0M128.1 526.6h0M124.6 542.6h0M136.3 569.0h0M138.3 559.8h0M138.1 560.5h0M137.0 556.9h0M136.5 556.9h0M131.2 560.0h0M133.6 552.4h0M133.6 563.1h0M133.4 564.3h0M138.3 553.9h0M78.1 528.7h0M121.2 539.6h0M118.7 544.5h0M97.9 525.4h0M90.1 507.2h0M87.3 576.2h0M106.4 533.7h0M109.6 519.2h0M109.1 525.9h0M131.4 499.6h0M126.7 559.4h0M130.1 561.2h0M117.9 550.2h0M103.3 531.2h0M84.4 517.5h0M112.5 534.8h0M77.4 531.0h0M63.0 510.4h0M77.5 553.2h0M125.5 502.7h0M123.2 568.4h0M69.8 550.6h0M117.5 569.2h0M70.6 529.3h0M100.1 531.3h0M98.0 560.5h0M119.0 515.3h0M90.9 572.9h0M108.0 577.1h0M113.7 564.6h0M62.5 544.3h0M88.4 529.2h0M102.4 549.2h0M97.9 551.3h0M77.4 494.1h0M82.8 512.7h0M79.2 510.4h0M71.0 531.2h0M88.6 528.5h0M103.1 540.9h0M103.6 525.1h0M93.4 580.5h0M91.9 521.5h0M114.4 520.1h0M117.4 558.3h0M98.2 505.6h0M131.0 556.1h0M66.2 539.8h0M125.8 506.9h0M92.1 564.7h0M83.7 537.0h0M82.3 540.6h0M107.5 516.8h0M80.8 518.6h0M75.2 495.5h0M62.2 531.2h0M86.5 516.1h0M58.9 515.6h0M89.1 517.3h0M98.5 535.5h0M67.9 511.4h0M61.3 540.4h0M116.7 512.8h0M121.8 498.8h0M79.0 549.4h0M109.1 562.9h0M94.2 573.5h0M117.0 525.4h0M128.6 521.9h0M110.0 505.8h0M83.3 519.1h0M109.4 525.5h0M107.7 532.8h0M95.7 522.9h0M127.5 551.8h0M117.4 562.8h0M95.4 543.7h0M71.8 511.0h0M61.5 505.7h0M82.2 502.3h0M79.7 549.5h0M121.8 501.4h0M127.3 554.5h0M76.5 544.7h0M65.6 550.6h0M127.0 557.9h0M73.2 501.7h0M116.6 561.4h0M103.9 530.5h0M103.2 550.2h0M72.9 546.3h0M77.2 537.9h0M83.3 538.6h0M92.5 504.0h0M100.0 525.5h0M121.4 525.2h0M96.0 578.4h0M114.9 546.0h0M72.2 540.9h0M92.5 518.9h0M59.6 517.5h0M87.9 511.1h0M74.1 519.0h0M69.9 543.1h0M103.0 573.3h0M93.9 534.6h0M106.5 528.1h0M96.9 577.6h0M83.1 567.1h0M109.4 529.5h0M100.2 536.4h0M76.3 540.1h0M128.6 541.6h0M114.5 548.1h0M105.1 537.4h0M116.7 562.6h0M97.0 563.6h0M106.6 518.1h0M106.4 541.0h0M127.3 549.3h0M121.9 506.2h0M103.2 555.6h0M88.0 546.3h0M85.5 518.4h0M67.4 505.1h0M85.1 573.7h0M87.8 515.4h0M85.2 512.4h0M125.1 512.5h0M69.7 506.9h0M104.7 533.9h0M116.6 538.1h0M88.3 570.7h0M61.6 557.2h0M103.6 526.6h0M87.8 502.6h0M100.2 546.2h0M68.5 547.7h0M71.4 510.7h0M97.6 528.7h0M88.2 553.8h0M89.2 543.7h0M130.1 553.7h0M130.9 503.3h0M124.9 549.1h0M128.0 525.7h0M114.2 563.0h0M75.7 509.9h0M109.8 534.5h0M123.1 507.4h0M72.8 546.3h0M76.7 534.8h0M79.1 567.7h0M63.5 545.0h0M104.6 571.2h0M127.5 516.5h0M117.7 518.1h0M111.5 536.1h0M84.3 529.5h0M72.6 516.2h0M69.5 526.9h0M95.1 560.7h0M128.8 555.3h0M96.7 532.0h0M129.4 554.1h0M73.0 547.4h0M117.8 560.3h0M80.3 497.8h0M120.7 564.8h0M91.2 551.1h0M109.9 531.9h0M86.2 559.2h0M125.7 512.2h0M119.5 554.4h0M89.1 520.0h0M78.0 505.9h0M69.8 531.4h0M84.0 539.8h0M88.4 565.6h0M129.4 499.8h0M78.3 524.8h0M124.2 518.4h0M113.0 543.6h0M65.7 509.1h0M120.7 535.9h0M65.5 533.7h0M101.5 563.0h0M105.9 558.2h0M127.8 556.8h0M100.8 571.8h0M87.6 508.5h0M96.8 569.9h0M96.9 526.3h0M112.9 550.9h0M111.9 579.1h0M78.7 565.0h0M86.4 545.0h0M96.7 563.5h0M82.2 569.0h0M61.3 550.2h0M105.7 528.9h0M79.0 563.6h0M100.1 556.3h0M84.5 571.7h0M118.7 502.9h0M68.1 539.9h0M63.6 518.8h0M120.3 556.2h0M88.2 542.8h0M93.9 519.1h0M103.6 509.9h0M92.9 524.1h0M105.8 514.3h0M96.4 544.5h0M88.7 512.8h0M81.8 562.9h0M68.4 551.8h0M101.6 582.9h0M118.3 559.5h0M98.9 548.6h0M81.2 536.7h0M108.3 568.6h0M91.1 528.7h0M80.6 561.9h0M126.1 519.2h0M96.5 555.0h0M122.3 535.8h0M91.7 521.7h0M68.9 533.5h0M124.3 556.2h0M101.4 548.0h0M63.1 542.4h0M73.7 511.5h0M113.9 551.2h0M105.0 522.7h0M67.8 512.6h0M87.2 533.4h0M60.4 516.8h0M71.2 504.9h0M111.4 545.2h0M66.1 546.5h0M88.5 526.3h0M119.5 558.0h0M120.6 526.3h0M125.5 512.3h0M122.3 544.7h0M68.9 553.0h0M110.1 533.1h0M69.4 512.1h0M90.3 506.8h0M125.6 502.4h0M103.2 576.8h0M74.4 494.8h0M80.7 544.2h0M103.2 573.0h0M98.7 576.0h0M119.7 527.1h0M115.2 543.3h0M97.5 545.2h0M88.8 533.6h0M69.5 542.5h0M121.8 523.2h0M104.9 560.1h0M82.2 561.2h0M89.3 572.3h0M118.2 540.4h0M93.2 559.1h0M119.1 512.9h0M74.3 531.5h0M76.7 566.0h0M129.1 557.7h0M107.9 547.0h0M98.7 506.1h0M92.3 514.4h0M79.4 552.3h0M111.9 524.1h0M77.9 558.1h0M74.8 513.0h0M78.4 564.5h0M106.4 509.9h0M129.2 565.6h0M80.2 535.6h0M127.2 528.4h0M76.4 541.7h0M74.5 542.0h0M71.8 552.0h0M120.9 511.0h0M67.2 509.8h0M75.2 556.0h0M61.7 525.1h0M97.4 539.6h0M124.4 567.1h0M77.2 550.5h0M69.0 502.6h0M111.0 529.8h0M63.3 518.8h0M60.2 519.4h0M112.0 542.6h0M122.7 504.6h0M84.8 508.0h0M86.3 501.3h0M97.6 534.4h0M105.4 559.2h0M86.6 562.7h0M120.2 515.6h0M86.8 521.9h0M109.1 560.2h0M88.0 546.6h0M70.0 553.1h0M66.7 540.8h0M63.5 556.5h0M115.1 571.6h0M124.5 553.5h0M67.9 538.5h0M88.6 579.6h0M111.3 575.4h0M85.6 501.3h0M94.1 542.3h0M104.2 538.6h0M114.2 520.9h0M103.3 525.9h0M96.1 568.9h0M111.1 542.6h0M116.4 541.6h0M126.6 520.9h0M82.6 525.3h0M103.7 570.0h0M104.0 526.2h0M80.3 557.6h0M100.5 530.9h0M124.2 532.4h0M81.0 540.6h0M77.7 539.2h0M75.7 532.9h0M89.4 529.7h0M79.8 497.7h0M76.3 518.2h0M87.6 521.1h0M91.5 539.0h0M104.1 561.9h0M80.2 549.9h0M81.6 497.6h0M83.9 497.4h0M126.5 544.6h0M103.5 581.5h0M106.6 580.7h0M102.2 568.3h0M142.2 528.2h0M135.0 523.1h0M136.0 539.7h0M132.9 502.3h0M131.7 509.9h0M126.7 513.5h0M139.0 520.9h0M142.3 559.2h0M126.2 535.5h0M135.3 553.2h0M139.2 533.8h0M140.6 569.9h0M138.2 517.9h0M136.0 516.8h0M134.9 542.4h0M127.0 562.5h0M136.0 523.8h0M130.9 508.5h0M138.0 544.2h0M128.8 562.3h0M133.9 557.8h0M132.4 562.8h0M133.1 518.1h0M124.6 490.4h0M132.0 522.9h0M137.6 564.1h0M126.7 555.2h0M131.9 573.5h0M129.7 556.4h0M125.8 562.0h0M134.1 516.9h0M136.5 537.4h0M134.2 512.8h0M139.3 504.4h0M137.3 547.0h0M140.2 549.3h0M126.0 497.8h0M129.2 557.2h0M133.1 510.5h0M126.1 500.9h0M134.5 506.7h0M141.0 515.4h0M128.7 538.9h0M131.3 508.8h0M132.1 493.8h0M130.2 549.3h0M130.2 497.3h0M129.4 540.4h0M132.6 551.6h0M134.3 499.5h0M138.0 548.7h0M130.3 551.0h0M136.4 551.0h0M131.4 564.3h0M134.3 526.3h0M136.2 568.8h0M123.7 494.1h0M135.1 501.1h0M139.5 552.3h0M128.5 548.0h0M139.9 570.2h0M135.4 543.6h0M134.4 518.4h0M131.4 532.8h0M136.2 571.3h0M139.1 541.3h0M131.2 499.4h0M124.9 575.6h0M133.4 520.9h0M122.8 532.4h0M139.1 542.0h0M129.2 507.1h0M132.7 563.2h0M126.0 534.3h0M131.7 515.9h0M129.6 486.9h0M136.3 538.6h0M134.5 497.8h0M133.1 557.3h0M128.1 526.6h0M133.1 573.9h0M140.5 548.1h0M132.4 559.2h0" stroke="#5b8fc8" stroke-opacity="0.1" stroke-width="3.0" stroke-linecap="round" fill="none"/>
<path d="M79.36,495.90 C79.99,492.38 81.64,492.58 82.47,495.90 C83.30,499.22 84.96,512.28 84.34,515.80 C83.72,519.33 79.57,520.36 78.74,517.04 C77.91,513.73 78.74,499.42 79.36,495.90Z" fill="#5a8fc6" fill-opacity="0.42" filter="url(#b25)"/>
<path d="M70.66,524.51 C71.90,523.06 77.29,521.61 79.36,523.26 C81.44,524.92 83.51,532.38 83.09,534.46 C82.68,536.53 78.74,536.12 76.88,535.70 C75.01,535.29 72.94,533.84 71.90,531.97 C70.86,530.10 69.41,525.96 70.66,524.51Z" fill="#5a8fc6" fill-opacity="0.42" filter="url(#b25)"/>
<path d="M119.16,534.46 C119.99,531.35 124.97,530.10 126.63,531.97 C128.29,533.84 129.94,542.54 129.11,545.65 C128.29,548.76 123.31,552.49 121.65,550.63 C119.99,548.76 118.33,537.57 119.16,534.46Z" fill="#5a8fc6" fill-opacity="0.42" filter="url(#b25)"/>
<path d="M81.8 512.3h0M76.8 513.5h0M80.3 512.2h0M79.6 514.9h0M80.3 501.1h0M82.1 508.1h0M79.7 505.5h0M82.3 500.4h0M81.3 513.9h0M81.6 510.3h0M80.7 510.9h0M78.1 498.5h0M77.1 532.1h0M73.9 532.4h0M71.6 524.9h0M72.9 531.6h0M77.2 524.6h0M73.5 524.0h0M73.7 527.0h0M74.9 534.4h0M72.4 524.6h0M76.3 527.1h0M74.9 523.8h0M71.4 528.7h0M76.0 527.8h0M124.2 543.5h0M126.8 538.3h0M119.3 543.5h0M123.7 545.0h0M127.7 536.1h0M129.6 539.0h0M122.0 542.5h0M129.1 541.2h0M123.5 543.1h0M126.8 545.5h0M125.3 537.5h0M124.0 546.8h0M125.1 539.6h0M120.9 537.6h0M118.1 536.6h0M125.9 545.1h0M124.3 549.7h0M122.0 534.4h0" stroke="#3a75b5" stroke-opacity="0.14" stroke-width="2.8" stroke-linecap="round" fill="none"/>
<path d="M77.85,514.22 C78.79,510.10 81.41,508.60 82.35,509.72 C83.29,510.85 82.16,518.72 83.47,520.96 C84.79,523.21 87.97,523.21 90.22,523.21 C92.47,523.21 94.72,521.71 96.96,520.96 C99.21,520.21 101.84,520.59 103.71,518.72 C105.58,516.84 106.89,509.35 108.21,509.72 C109.52,510.10 110.08,518.72 111.58,520.96 C113.08,523.21 115.89,521.34 117.20,523.21 C118.51,525.09 118.88,528.83 119.45,532.21 C120.01,535.58 120.76,540.07 120.57,543.45 C120.38,546.82 118.88,547.94 118.32,552.44 C117.76,556.94 117.95,567.05 117.20,570.42 C116.45,573.80 114.87,574.17 113.83,572.67 C112.78,571.17 111.84,561.43 110.90,561.43 C109.97,561.43 109.22,572.67 108.21,572.67 C107.19,572.67 106.14,561.06 104.83,561.43 C103.52,561.81 101.84,574.17 100.34,574.92 C98.84,575.67 97.15,568.93 95.84,565.93 C94.53,562.93 93.78,558.81 92.47,556.94 C91.16,555.06 89.47,555.81 87.97,554.69 C86.47,553.56 84.79,552.06 83.47,550.19 C82.16,548.32 81.23,546.07 80.10,543.45 C78.98,540.82 77.10,539.32 76.73,534.45 C76.36,529.58 76.92,518.34 77.85,514.22Z" fill="#0c4f96" fill-opacity="0.95" filter="url(#b10)"/>
<path d="M83.47,529.96 C85.72,527.71 92.47,527.71 96.96,527.71 C101.46,527.71 107.08,528.46 110.45,529.96 C113.83,531.46 116.26,533.33 117.20,536.70 C118.13,540.07 117.57,547.38 116.07,550.19 C114.57,553.00 111.39,553.19 108.21,553.56 C105.02,553.94 100.34,553.38 96.96,552.44 C93.59,551.50 90.22,549.82 87.97,547.94 C85.72,546.07 84.22,544.20 83.47,541.20 C82.73,538.20 81.23,532.21 83.47,529.96Z" fill="#05397d" fill-opacity="0.9" filter="url(#b20)"/>
<path d="M58.84,526.92 C59.36,526.40 60.81,524.53 61.95,523.81 C63.09,523.08 64.23,522.46 65.68,522.56 C67.13,522.67 68.79,523.39 70.66,524.43 C72.52,525.47 74.80,527.02 76.88,528.78 C78.95,530.54 81.02,533.14 83.09,535.00 C85.17,536.87 87.24,538.53 89.31,539.98 C91.39,541.43 93.46,542.71 95.53,543.71 C97.61,544.70 99.68,545.57 101.75,545.95 C103.82,546.32 105.90,546.28 107.97,545.95 C110.04,545.62 112.12,544.74 114.19,543.96 C116.26,543.17 118.44,542.08 120.41,541.22 C122.38,540.36 123.00,539.94 126.00,538.81 C129.00,537.68 134.29,535.39 138.44,534.46 C142.58,533.52 146.73,532.80 150.88,533.21 C155.02,533.63 159.58,535.70 163.31,536.95 C167.04,538.19 170.78,540.16 173.26,540.68 C175.75,541.19 176.58,540.88 178.24,540.05 C179.90,539.23 181.56,538.09 183.21,535.70 C184.87,533.32 186.74,529.48 188.19,525.75 C189.64,522.02 190.78,517.46 191.92,513.31 C193.06,509.17 194.10,505.02 195.03,500.88 C195.96,496.73 196.90,491.44 197.52,488.44 C198.14,485.43 198.55,483.77 198.76,482.84 L198.76,607.84 C198.24,607.84 197.21,608.26 195.65,607.84 C194.10,607.43 191.51,607.01 189.43,605.35 C187.36,603.69 185.49,601.21 183.21,597.89 C180.93,594.57 178.24,590.01 175.75,585.45 C173.26,580.89 170.78,575.50 168.29,570.53 C165.80,565.55 163.73,560.16 160.83,555.60 C157.92,551.04 154.61,546.17 150.88,543.16 C147.14,540.16 142.58,538.09 138.44,537.57 C134.29,537.05 129.00,539.21 126.00,540.05 C123.00,540.90 122.38,541.74 120.41,542.62 C118.44,543.50 116.26,544.57 114.19,545.36 C112.12,546.14 110.04,547.02 107.97,547.35 C105.90,547.68 103.82,547.72 101.75,547.35 C99.68,546.97 97.61,546.10 95.53,545.11 C93.46,544.11 91.39,542.83 89.31,541.38 C87.24,539.93 85.17,538.27 83.09,536.40 C81.02,534.54 78.95,531.94 76.88,530.18 C74.80,528.42 72.52,526.87 70.66,525.83 C68.79,524.79 67.13,524.07 65.68,523.96 C64.23,523.86 63.09,524.48 61.95,525.21 C60.81,525.93 59.36,527.80 58.84,528.32Z" fill="#fdd7ac" fill-opacity="0.6"/>
<line x1="52.35" y1="544.50" x2="205.4" y2="544.50" stroke="#9a9a9a" stroke-width="1"/>
<path d="M58.84,527.62 C59.36,527.10 60.81,525.23 61.95,524.51 C63.09,523.78 64.23,523.16 65.68,523.26 C67.13,523.37 68.79,524.09 70.66,525.13 C72.52,526.17 74.80,527.72 76.88,529.48 C78.95,531.24 81.02,533.84 83.09,535.70 C85.17,537.57 87.24,539.23 89.31,540.68 C91.39,542.13 93.46,543.41 95.53,544.41 C97.61,545.40 99.68,546.27 101.75,546.65 C103.82,547.02 105.90,546.98 107.97,546.65 C110.04,546.32 112.12,545.44 114.19,544.66 C116.26,543.87 118.33,542.89 120.41,541.92 C122.48,540.95 125.69,539.23 126.63,538.81 C127.56,538.40 125.07,539.74 126.00,539.43 C126.93,539.12 130.15,537.61 132.22,536.95 C134.29,536.28 136.36,535.62 138.44,535.45 C140.51,535.29 142.58,535.39 144.66,535.95 C146.73,536.51 148.80,537.61 150.88,538.81 C152.95,540.01 155.02,541.40 157.09,543.16 C159.17,544.93 161.24,547.31 163.31,549.38 C165.39,551.46 167.46,553.32 169.53,555.60 C171.61,557.88 173.68,560.99 175.75,563.06 C177.82,565.14 180.31,567.21 181.97,568.04 C183.63,568.87 184.25,568.87 185.70,568.04 C187.15,567.21 189.02,565.55 190.68,563.06 C192.33,560.58 194.30,556.33 195.65,553.11 C197.00,549.90 198.24,545.34 198.76,543.79" fill="none" stroke="#f7901e" stroke-width="1.75" stroke-dasharray="4.2 1.9"/>
</g>
<rect x="102.70" y="574.30" width="99.80" height="40.00" rx="1" fill="#fff" fill-opacity="0.8" stroke="#dcdcdc" stroke-width="0.6"/>
<circle cx="109.90" cy="578.10" r="1.4" fill="#7593d2" stroke="#b5c5ea" stroke-width="0.5"/>
<rect x="104.30" y="584.00" width="10.8" height="3.4" fill="#fdd7ac" fill-opacity="0.8"/>
<line x1="104.30" y1="601.50" x2="115.10" y2="601.50" stroke="#f7901e" stroke-width="1.5" stroke-dasharray="4.2 1.9"/>
<text x="119.40" y="579.90" font-size="5.2" text-anchor="start" fill="#1a1a1a" >Sample</text>
<text x="119.40" y="587.50" font-size="5.2" text-anchor="start" fill="#1a1a1a" >95% Confidence interval</text>
<text x="119.40" y="594.80" font-size="5.2" text-anchor="start" fill="#1a1a1a" >Fitted curve (R-square: 0.38):</text>
<text x="119.40" y="603.30" font-size="5.2" text-anchor="start" fill="#1a1a1a" ><tspan dy="0" dx="0">y&#160;=&#160;0.00059X</tspan><tspan font-size="3.4" dy="-2.9" dx="0.2">5</tspan><tspan dy="2.9" dx="0.9">&#160;-0.006X</tspan><tspan font-size="3.4" dy="-2.9" dx="0.2">4</tspan><tspan dy="2.9" dx="0.9">&#160;-0.0034X</tspan><tspan font-size="3.4" dy="-2.9" dx="0.2">3</tspan></text>
<text x="128.20" y="611.40" font-size="5.2" text-anchor="start" fill="#1a1a1a" ><tspan dy="0" dx="0">+0.12X</tspan><tspan font-size="3.4" dy="-2.9" dx="0.2">2</tspan><tspan dy="2.9" dx="0.9">&#160;-0.085X&#160;-0.086</tspan></text>
<path d="M78.35,652.35V651.71h1.45V652.35ZM79.80,652.35V651.26h1.45V652.35ZM81.25,652.35V650.81h1.45V652.35ZM82.70,652.35V650.37h1.45V652.35ZM84.15,652.35V649.33h1.45V652.35ZM85.60,652.35V647.81h1.45V652.35ZM87.05,652.35V645.33h1.45V652.35ZM88.50,652.35V642.80h1.45V652.35ZM89.95,652.35V640.16h1.45V652.35ZM91.40,652.35V633.52h1.45V652.35ZM92.85,652.35V625.17h1.45V652.35ZM94.30,652.35V620.68h1.45V652.35ZM95.75,652.35V619.68h1.45V652.35ZM97.20,652.35V623.65h1.45V652.35ZM98.65,652.35V630.42h1.45V652.35ZM100.10,652.35V635.33h1.45V652.35ZM101.55,652.35V639.62h1.45V652.35ZM103.00,652.35V642.47h1.45V652.35ZM104.45,652.35V644.41h1.45V652.35ZM105.90,652.35V645.67h1.45V652.35ZM107.35,652.35V646.86h1.45V652.35ZM108.80,652.35V648.25h1.45V652.35ZM110.25,652.35V649.16h1.45V652.35ZM111.70,652.35V649.84h1.45V652.35ZM113.15,652.35V650.34h1.45V652.35ZM114.60,652.35V650.72h1.45V652.35ZM116.05,652.35V651.09h1.45V652.35ZM117.50,652.35V651.43h1.45V652.35ZM118.95,652.35V651.76h1.45V652.35Z" fill="#808080" stroke="#2e2e2e" stroke-width="0.35"/>
<text x="48.35" y="489.70" font-size="7.9" text-anchor="end" fill="#1a1a1a" >2</text>
<text x="48.35" y="518.55" font-size="7.9" text-anchor="end" fill="#1a1a1a" >1</text>
<text x="48.35" y="547.40" font-size="7.9" text-anchor="end" fill="#1a1a1a" >0</text>
<text x="48.35" y="576.25" font-size="7.9" text-anchor="end" fill="#1a1a1a" >-1</text>
<text x="48.35" y="605.10" font-size="7.9" text-anchor="end" fill="#1a1a1a" >-2</text>
<text x="70.85" y="662.35" font-size="7.9" text-anchor="middle" fill="#1a1a1a" >-2.5</text>
<text x="99.75" y="662.35" font-size="7.9" text-anchor="middle" fill="#1a1a1a" >0.0</text>
<text x="128.65" y="662.35" font-size="7.9" text-anchor="middle" fill="#1a1a1a" >2.5</text>
<text x="157.55" y="662.35" font-size="7.9" text-anchor="middle" fill="#1a1a1a" >5.0</text>
<text x="186.45" y="662.35" font-size="7.9" text-anchor="middle" fill="#1a1a1a" >7.5</text>
<text class="k" x="128.88" y="673.90" font-size="12.2" text-anchor="middle" fill="#1a1a1a" >HIE (%)</text>
<text class="k" transform="translate(25.75,564.42) rotate(-90)" font-size="12" text-anchor="middle" fill="#1a1a1a">Effect on Elder_Mig_R (%)</text>
<text class="k" transform="translate(45.45,635.77) rotate(-90)" font-size="11.7" text-anchor="middle" fill="#1a1a1a">Dist.</text>
<rect x="52.35" y="476.5" width="153.05" height="140.90" fill="none" stroke="#7a7a7a" stroke-width="1.2"/>
<rect x="52.35" y="617.4" width="153.05" height="34.95" fill="none" stroke="#7a7a7a" stroke-width="1.2"/>
<line x1="301.25" y1="476.5" x2="301.25" y2="652.35" stroke="#f3f3f3" stroke-width="0.7"/>
<line x1="332.50" y1="476.5" x2="332.50" y2="652.35" stroke="#f3f3f3" stroke-width="0.7"/>
<line x1="363.75" y1="476.5" x2="363.75" y2="652.35" stroke="#f3f3f3" stroke-width="0.7"/>
<line x1="395.00" y1="476.5" x2="395.00" y2="652.35" stroke="#f3f3f3" stroke-width="0.7"/>
<line x1="426.25" y1="476.5" x2="426.25" y2="652.35" stroke="#f3f3f3" stroke-width="0.7"/>
<line x1="280.5" y1="481.30" x2="433.9" y2="481.30" stroke="#f3f3f3" stroke-width="0.7"/>
<line x1="280.5" y1="513.00" x2="433.9" y2="513.00" stroke="#f3f3f3" stroke-width="0.7"/>
<line x1="280.5" y1="544.70" x2="433.9" y2="544.70" stroke="#f3f3f3" stroke-width="0.7"/>
<line x1="280.5" y1="576.40" x2="433.9" y2="576.40" stroke="#f3f3f3" stroke-width="0.7"/>
<line x1="280.5" y1="608.10" x2="433.9" y2="608.10" stroke="#f3f3f3" stroke-width="0.7"/>
<line x1="280.5" y1="628.60" x2="433.9" y2="628.60" stroke="#f3f3f3" stroke-width="0.7"/>
<clipPath id="clip_cM"><rect x="280.5" y="476.5" width="153.40" height="140.90"/></clipPath>
<g clip-path="url(#clip_cM)">
<path d="M312.34,550.63 C313.79,548.14 325.19,547.93 329.75,548.14 C334.31,548.35 338.67,549.38 339.70,551.87 C340.74,554.36 339.08,561.20 335.97,563.06 C332.86,564.93 324.98,565.14 321.04,563.06 C317.11,560.99 310.89,553.11 312.34,550.63Z" fill="#bcd2ea" fill-opacity="0.26" filter="url(#b35)"/>
<path d="M287.46,500.88 C289.33,494.66 293.68,488.44 298.66,488.44 C303.63,488.44 311.09,496.73 317.31,500.88 C323.53,505.02 328.86,513.31 335.97,513.31 C343.08,513.31 355.97,490.93 359.98,500.88 C363.98,510.83 362.94,561.41 359.98,573.01 C357.01,584.62 349.30,570.94 342.19,570.53 C335.08,570.11 322.50,573.84 317.31,570.53 C312.13,567.21 314.20,557.05 311.09,550.63 C307.99,544.20 302.60,536.12 298.66,531.97 C294.72,527.82 289.33,530.93 287.46,525.75 C285.60,520.57 285.60,507.09 287.46,500.88Z" fill="#bcd2ea" fill-opacity="0.26" filter="url(#b35)"/>
<path d="M320.00,523.28 C324.16,513.85 336.64,512.74 344.96,509.97 C353.28,507.20 361.60,508.31 369.93,506.64 C378.25,504.98 387.68,500.54 394.89,499.99 C402.10,499.43 408.48,498.04 413.19,503.31 C417.91,508.58 420.96,521.34 423.18,531.60 C425.40,541.87 426.51,554.63 426.51,564.89 C426.51,575.15 427.06,587.91 423.18,593.18 C419.30,598.45 410.70,598.17 403.21,596.51 C395.72,594.84 386.57,587.63 378.25,583.19 C369.93,578.76 362.99,572.65 353.28,569.88 C343.58,567.11 325.55,574.32 320.00,566.55 C314.45,558.79 315.84,532.71 320.00,523.28Z" fill="#bcd2ea" fill-opacity="0.26" filter="url(#b35)"/>
<path d="M334.6 560.4h0M327.9 552.5h0M327.5 556.3h0M332.9 551.8h0M323.9 556.2h0M326.9 552.9h0M320.8 554.4h0M327.5 556.0h0M336.1 553.1h0M329.3 556.7h0M330.5 561.4h0M334.1 559.8h0M329.9 551.8h0M322.5 552.4h0M331.4 550.9h0M327.3 556.4h0M322.1 565.1h0M327.8 547.7h0M319.6 549.9h0M313.0 507.5h0M334.8 564.0h0M316.8 502.8h0M351.7 554.7h0M314.7 512.8h0M318.3 508.8h0M310.4 507.1h0M347.7 567.1h0M318.2 571.3h0M321.2 517.1h0M331.2 528.2h0M336.0 515.7h0M324.2 561.4h0M341.6 551.5h0M334.9 536.5h0M348.4 564.2h0M301.3 522.6h0M354.2 524.7h0M345.8 512.9h0M354.1 561.1h0M314.5 508.1h0M301.8 529.2h0M350.8 544.9h0M300.3 515.7h0M360.0 532.0h0M314.4 506.4h0M310.8 554.9h0M325.4 541.6h0M297.3 494.2h0M336.4 530.4h0M320.9 540.4h0M330.8 520.7h0M336.8 517.2h0M325.0 545.3h0M351.5 511.3h0M323.1 542.4h0M347.8 513.8h0M316.8 559.5h0M356.6 554.3h0M322.6 516.4h0M304.1 503.4h0M302.2 522.1h0M338.3 554.3h0M334.7 568.5h0M307.2 528.9h0M316.0 521.5h0M317.7 527.4h0M295.0 508.1h0M325.9 522.3h0M334.3 555.9h0M353.5 526.0h0M350.4 556.7h0M324.9 509.0h0M313.5 507.3h0M329.1 522.0h0M303.7 504.1h0M345.7 513.5h0M352.4 508.3h0M301.7 533.2h0M309.3 528.9h0M354.5 565.6h0M336.5 549.7h0M330.2 544.5h0M320.9 533.4h0M308.5 497.6h0M354.5 503.8h0M310.6 497.4h0M334.4 537.8h0M332.7 563.3h0M319.0 528.4h0M319.5 552.2h0M325.6 541.4h0M317.9 512.9h0M308.2 538.9h0M361.2 564.8h0M332.6 524.5h0M306.7 524.6h0M328.4 531.0h0M361.3 552.3h0M323.5 522.5h0M325.9 513.6h0M343.6 512.3h0M351.0 545.7h0M357.6 543.1h0M326.0 510.9h0M328.3 514.9h0M307.6 520.0h0M362.9 518.5h0M288.9 516.4h0M327.5 566.2h0M307.9 505.4h0M294.3 487.5h0M322.1 509.1h0M338.8 542.7h0M294.0 499.9h0M291.9 515.9h0M347.3 568.5h0M296.7 528.0h0M315.0 498.2h0M325.2 564.4h0M316.8 538.5h0M347.7 566.6h0M318.7 566.3h0M298.1 516.3h0M324.9 563.9h0M307.1 519.5h0M359.4 562.2h0M343.2 510.8h0M339.1 559.2h0M330.0 533.8h0M332.9 532.5h0M345.0 528.5h0M358.9 530.9h0M342.0 543.3h0M306.3 538.0h0M314.5 551.3h0M329.9 523.4h0M312.5 531.1h0M326.3 533.5h0M330.5 536.3h0M336.9 558.6h0M324.0 531.2h0M344.7 564.7h0M325.7 508.4h0M324.0 519.5h0M328.1 530.0h0M291.8 507.8h0M351.0 509.2h0M354.1 558.0h0M326.0 521.2h0M312.3 547.6h0M355.1 521.5h0M357.3 530.2h0M332.5 522.9h0M334.0 524.1h0M353.7 509.7h0M298.8 526.8h0M301.9 532.4h0M331.8 545.6h0M344.2 564.0h0M317.0 524.6h0M329.7 533.0h0M339.5 520.6h0M336.9 515.3h0M342.5 565.4h0M332.7 521.6h0M339.2 541.9h0M295.1 520.2h0M358.7 539.8h0M303.6 495.4h0M303.1 528.9h0M296.7 496.6h0M301.3 515.9h0M356.4 545.6h0M324.0 514.4h0M325.1 551.9h0M320.4 565.4h0M333.3 513.3h0M293.6 500.3h0M324.3 562.6h0M347.6 528.8h0M329.6 532.1h0M303.6 522.4h0M355.5 557.3h0M313.2 503.4h0M336.9 535.7h0M316.3 515.6h0M355.3 555.9h0M326.7 508.2h0M348.8 534.3h0M284.4 526.6h0M305.1 496.8h0M343.8 531.3h0M349.7 511.4h0M336.4 533.8h0M341.8 557.8h0M322.4 526.9h0M326.1 523.2h0M348.1 558.7h0M356.1 569.9h0M286.1 526.2h0M290.4 504.9h0M348.3 550.5h0M348.4 547.5h0M320.3 504.4h0M337.2 535.7h0M322.4 539.9h0M322.7 532.1h0M340.5 532.3h0M329.1 564.4h0M336.8 528.8h0M330.7 520.2h0M325.8 540.3h0M351.1 518.2h0M348.6 556.7h0M356.8 530.8h0M331.1 571.5h0M310.7 544.2h0M339.5 542.5h0M306.9 519.2h0M351.4 534.3h0M351.3 534.9h0M331.3 537.4h0M323.0 546.5h0M333.9 524.1h0M353.8 509.9h0M345.5 519.6h0M339.5 524.3h0M350.8 563.6h0M299.1 514.2h0M317.2 535.2h0M312.3 541.4h0M334.8 552.6h0M324.1 524.3h0M324.1 514.3h0M305.6 511.2h0M336.4 553.3h0M352.1 512.1h0M330.0 522.1h0M296.4 532.7h0M329.2 551.1h0M311.2 508.0h0M340.8 553.1h0M320.3 501.8h0M348.3 510.1h0M346.8 553.1h0M344.2 568.8h0M300.5 526.5h0M302.0 494.4h0M314.4 558.8h0M310.8 510.8h0M344.6 557.8h0M327.5 559.7h0M328.3 535.0h0M345.6 520.1h0M324.6 522.8h0M338.1 567.7h0M334.4 544.8h0M288.3 526.9h0M314.0 540.0h0M317.8 532.4h0M328.1 522.2h0M335.0 552.7h0M319.7 539.2h0M347.0 549.2h0M315.8 540.8h0M309.6 513.2h0M350.1 521.0h0M330.4 541.2h0M334.8 555.3h0M303.7 501.1h0M333.7 516.9h0M308.1 535.0h0M344.3 529.7h0M348.2 563.6h0M317.8 519.7h0M360.4 555.5h0M296.5 509.2h0M353.5 534.6h0M325.8 510.4h0M335.0 519.8h0M334.8 569.4h0M321.6 510.5h0M311.2 510.8h0M350.6 542.9h0M334.1 569.9h0M332.8 519.7h0M293.1 495.8h0M329.0 523.2h0M328.8 565.4h0M302.2 495.0h0M325.3 541.4h0M291.6 516.3h0M306.9 496.7h0M350.2 514.2h0M297.7 513.2h0M319.4 502.0h0M316.2 502.6h0M309.3 512.9h0M346.7 539.0h0M355.7 537.8h0M327.1 514.5h0M303.8 516.9h0M356.6 555.4h0M349.3 532.6h0M346.9 530.9h0M331.2 523.5h0M411.4 561.9h0M403.6 564.8h0M369.0 565.6h0M344.9 565.1h0M369.7 523.2h0M410.1 543.4h0M379.2 566.4h0M417.9 580.1h0M359.2 544.8h0M320.1 544.9h0M385.1 539.1h0M330.8 536.8h0M385.7 530.4h0M405.5 552.0h0M400.4 524.5h0M369.3 529.1h0M393.2 555.4h0M373.4 518.0h0M399.7 537.6h0M349.0 558.7h0M409.0 507.8h0M379.0 535.0h0M351.8 542.0h0M413.3 583.0h0M402.4 503.8h0M361.9 518.9h0M389.3 522.0h0M402.8 519.3h0M398.8 498.5h0M377.8 511.8h0M405.5 558.9h0M359.8 555.7h0M350.7 548.6h0M402.7 552.7h0M415.7 540.0h0M418.4 564.1h0M329.7 548.3h0M348.1 514.2h0M331.7 562.3h0M384.2 531.8h0M327.3 530.2h0M420.7 537.5h0M348.3 516.4h0M416.5 546.4h0M413.8 538.8h0M395.1 556.2h0M389.7 561.0h0M358.7 558.1h0M354.6 555.4h0M400.7 526.0h0M384.4 546.0h0M378.3 559.1h0M387.0 585.9h0M412.9 561.6h0M407.2 570.7h0M322.9 538.7h0M354.4 567.3h0M385.9 539.7h0M340.1 531.4h0M342.6 517.5h0M358.4 515.9h0M336.0 543.1h0M350.2 544.2h0M346.3 536.4h0M359.3 560.5h0M397.1 566.5h0M353.6 547.5h0M386.8 572.5h0M344.5 522.5h0M332.6 549.8h0M362.4 527.8h0M375.1 517.0h0M397.6 571.1h0M328.0 539.2h0M379.7 564.8h0M344.9 534.9h0M392.9 534.4h0M365.6 528.2h0M349.6 525.4h0M400.4 530.3h0M333.5 539.3h0M414.1 587.1h0M405.7 527.7h0M422.9 539.6h0M415.3 531.2h0M333.7 550.2h0M386.0 513.6h0M379.3 517.2h0M347.7 569.3h0M397.5 580.2h0M402.4 525.0h0M400.1 560.0h0M412.0 533.8h0M328.0 547.5h0M360.4 552.8h0M413.4 549.5h0M374.5 557.2h0M364.0 554.5h0M411.2 530.9h0M363.4 515.7h0M370.9 550.8h0M319.3 556.2h0M334.9 521.9h0M410.0 548.5h0M357.2 510.8h0M336.5 550.3h0M381.8 526.2h0M420.7 578.9h0M421.5 586.2h0M398.5 500.2h0M338.9 522.1h0M418.7 574.8h0M389.2 559.5h0M413.4 546.4h0M329.3 561.8h0M411.3 510.8h0M322.4 548.1h0M341.1 549.1h0M417.0 559.6h0M365.6 573.3h0M408.9 550.8h0M331.3 523.1h0M411.8 539.7h0M372.8 565.3h0M332.9 518.5h0M394.0 531.8h0M355.9 566.0h0M407.6 592.0h0M410.4 523.9h0M336.2 515.3h0M341.5 516.0h0M351.6 561.2h0M393.6 555.4h0M396.0 556.5h0M352.1 534.2h0M407.3 557.7h0M385.8 527.3h0M398.8 570.9h0M398.0 568.1h0M384.8 540.0h0M412.5 555.2h0M340.8 551.0h0M411.7 553.6h0M394.0 554.9h0M344.1 556.4h0M358.8 553.5h0M420.1 568.7h0M372.0 567.2h0M402.8 566.4h0M357.7 532.5h0M321.6 555.6h0M399.9 588.1h0M422.6 588.8h0M390.1 514.1h0M350.6 509.3h0M361.6 531.3h0M340.9 557.2h0M380.0 505.0h0M399.1 534.6h0M396.7 574.0h0M401.0 529.4h0M349.5 545.2h0M407.5 587.2h0M379.2 575.3h0M417.9 530.7h0M404.1 546.5h0M399.5 518.0h0M407.2 536.3h0M419.8 521.6h0M391.9 564.1h0M404.1 586.7h0M415.2 559.6h0M382.2 568.4h0M405.5 532.5h0M391.0 565.6h0M391.7 521.3h0M377.2 510.5h0M380.4 505.5h0M375.3 510.2h0M353.5 542.4h0M351.8 510.2h0M422.0 584.0h0M418.4 594.0h0M378.3 519.9h0M375.5 580.5h0M386.3 541.3h0M370.2 512.2h0M374.2 545.6h0M373.5 555.5h0M389.2 531.2h0M333.5 545.3h0M398.8 586.9h0M324.7 548.2h0M367.6 524.1h0M363.1 525.8h0M389.8 582.3h0M375.1 578.8h0M331.1 565.0h0M369.7 546.1h0M345.4 535.7h0M360.2 563.4h0M411.3 552.4h0M386.4 507.0h0M377.1 542.8h0M350.3 523.1h0M360.9 568.4h0M406.7 585.0h0M345.5 545.8h0M409.9 556.9h0M396.4 505.6h0M368.5 566.2h0M371.1 521.8h0M408.5 541.9h0M401.0 500.5h0M332.7 545.1h0M322.8 543.2h0M371.6 565.6h0M340.4 555.1h0M414.0 560.9h0M375.6 553.4h0M365.1 550.8h0M341.5 526.2h0M402.7 591.9h0M392.1 562.3h0M368.1 560.4h0M407.3 540.6h0M336.9 519.9h0M339.6 531.2h0M342.0 539.8h0M406.2 571.4h0M401.4 541.2h0M406.3 520.6h0M407.3 507.8h0M374.8 564.5h0M352.0 516.4h0M408.5 539.8h0M401.3 524.7h0M389.0 522.3h0M401.2 578.6h0M391.3 536.7h0M357.6 523.6h0M349.6 538.8h0M423.0 562.4h0M371.7 544.2h0M365.5 543.1h0M402.9 505.8h0M373.7 517.0h0M391.7 566.6h0M410.5 531.3h0M398.0 541.0h0M344.4 522.5h0M400.9 513.4h0M359.2 542.5h0M321.3 560.4h0M414.8 542.9h0M323.7 537.7h0M346.7 568.4h0M379.2 571.0h0M387.2 578.9h0M411.7 516.3h0M422.2 531.2h0M385.0 574.3h0M371.0 551.5h0M328.5 523.0h0M338.4 552.0h0M381.2 542.0h0M340.6 521.9h0M376.6 517.8h0M348.3 567.4h0M392.1 542.4h0M322.1 536.8h0M414.7 523.1h0M377.8 580.4h0M407.3 517.3h0M414.8 575.2h0M358.7 520.8h0M383.2 579.6h0M417.3 580.7h0M348.8 510.5h0M422.7 549.2h0M330.8 559.8h0M380.2 561.7h0M358.9 554.4h0M417.1 551.9h0M327.9 524.6h0M375.2 538.8h0M375.8 517.3h0M387.3 529.8h0M395.9 589.5h0M396.4 509.9h0M374.5 511.3h0M369.4 517.4h0M321.8 539.0h0M414.9 563.3h0M389.3 567.0h0M370.8 549.3h0M329.2 521.9h0M413.0 594.0h0M388.7 520.9h0M330.2 548.0h0M397.5 567.8h0M384.2 557.8h0M355.4 549.2h0M343.8 569.0h0M357.0 512.7h0M329.8 540.8h0M328.2 567.0h0M345.6 542.9h0M417.9 578.0h0M398.1 579.8h0M414.3 548.4h0M395.9 502.7h0M408.1 586.7h0M372.2 530.4h0M418.4 509.8h0M383.0 536.8h0M420.4 524.1h0M381.4 522.2h0M407.5 567.9h0M402.5 563.3h0M375.1 528.3h0M375.5 524.5h0M369.0 527.5h0M406.7 599.2h0M407.1 558.0h0M346.1 553.1h0M343.2 549.6h0M391.7 524.9h0M342.8 550.2h0M392.9 542.2h0M394.1 538.7h0M381.1 583.1h0M349.1 565.6h0M343.7 520.0h0M387.8 588.0h0M423.1 545.9h0M364.1 537.0h0M415.7 544.0h0M409.5 562.6h0M335.4 554.9h0M409.5 571.6h0M359.5 518.0h0M396.7 506.6h0M354.4 559.3h0M419.3 538.0h0M426.7 567.5h0M375.7 535.8h0M414.5 519.6h0M362.6 507.5h0M375.7 550.5h0M412.0 505.3h0M340.0 516.1h0M400.2 566.5h0M346.0 568.6h0M340.9 563.4h0M379.8 538.9h0M383.4 501.8h0M336.7 543.8h0M409.2 543.4h0M383.0 571.7h0M394.4 576.1h0M335.2 540.5h0M377.2 555.9h0M344.7 548.1h0M348.0 537.6h0M398.4 506.7h0M334.6 539.7h0M424.3 561.7h0M370.0 506.3h0M401.8 504.5h0M396.2 556.9h0M413.3 516.9h0M361.5 568.1h0M371.6 533.7h0M380.2 557.2h0M416.7 526.3h0M359.6 554.8h0M366.3 532.9h0M379.2 517.0h0M397.6 536.9h0M418.0 521.2h0M418.7 552.6h0M395.2 557.0h0M345.0 521.1h0M360.2 510.1h0M423.9 559.7h0M371.2 579.7h0M396.7 542.9h0M334.4 524.2h0M411.9 576.6h0M342.0 536.1h0M358.9 556.8h0M360.1 553.6h0M349.5 539.7h0M374.5 552.9h0M383.3 525.1h0M384.5 557.0h0M399.5 552.8h0M418.3 516.1h0M328.0 522.2h0M384.9 549.3h0M401.2 520.0h0M394.7 541.0h0M413.6 555.1h0M326.2 544.6h0M375.9 512.7h0M389.1 537.8h0M399.9 506.9h0M382.7 519.4h0M351.8 564.9h0M371.7 575.2h0M386.1 586.3h0M404.0 573.0h0M394.0 498.5h0M385.5 574.8h0M321.9 541.0h0M410.9 556.1h0M389.3 558.8h0M379.7 528.9h0M384.9 582.2h0M388.7 568.6h0M390.7 527.1h0M373.8 568.0h0M378.5 532.3h0M399.9 500.2h0M422.2 570.0h0M329.9 544.8h0M378.1 570.5h0M410.5 535.2h0M382.2 573.6h0M370.7 529.5h0M409.7 573.8h0M423.4 528.8h0M397.1 575.1h0M360.3 522.2h0M389.0 527.3h0M327.1 521.1h0M398.7 518.0h0M406.0 503.9h0M343.3 542.3h0M365.1 571.2h0M390.1 533.3h0M364.6 533.3h0M363.3 537.6h0M331.8 565.4h0M336.7 531.8h0M410.0 522.9h0M343.2 548.4h0M359.8 540.9h0M407.8 518.7h0M367.2 576.1h0M412.9 577.3h0M321.9 548.4h0M344.5 520.4h0M394.4 588.7h0M396.8 591.3h0M381.9 559.2h0M412.2 527.7h0M352.9 527.4h0M421.9 578.7h0M415.1 559.2h0M366.9 509.6h0M395.7 510.8h0M418.2 555.2h0M327.7 556.8h0M399.2 506.7h0M382.4 584.5h0M389.9 563.5h0M332.1 550.8h0M385.0 518.7h0M332.6 534.5h0M362.7 553.1h0M363.0 526.0h0M399.3 506.4h0M366.3 509.4h0M334.3 561.8h0M323.3 549.6h0M342.6 546.6h0M380.3 512.4h0M384.5 561.7h0M329.7 546.6h0M392.9 549.8h0M416.6 566.3h0M391.3 570.0h0M326.9 535.9h0M401.8 539.4h0M393.1 512.3h0M415.1 585.6h0M421.0 524.3h0M419.6 551.9h0M375.8 575.3h0M383.3 538.4h0M407.5 562.2h0M348.6 566.3h0M336.2 537.9h0M338.1 525.2h0M396.7 591.4h0M337.3 519.7h0M342.0 532.8h0M352.3 532.3h0M382.9 550.8h0M419.6 567.1h0M388.3 527.1h0M387.6 584.9h0M385.2 534.0h0M332.2 554.5h0M325.0 524.0h0M391.4 548.7h0M405.6 531.1h0M385.1 573.5h0M402.6 526.7h0M416.4 519.5h0M393.5 559.8h0M367.2 551.7h0" stroke="#5b8fc8" stroke-opacity="0.1" stroke-width="3.0" stroke-linecap="round" fill="none"/>
<path d="M338.31,536.60 C339.14,534.38 343.58,532.16 346.63,529.94 C349.68,527.72 354.12,523.84 356.61,523.28 C359.11,522.73 360.49,523.84 361.60,526.61 C362.71,529.39 364.66,537.15 363.27,539.93 C361.88,542.70 356.89,542.70 353.28,543.25 C349.68,543.81 344.13,544.36 341.63,543.25 C339.14,542.14 337.47,538.82 338.31,536.60Z" fill="#5a8fc6" fill-opacity="0.42" filter="url(#b25)"/>
<path d="M320.00,548.25 C321.66,546.03 326.66,546.03 329.99,546.58 C333.31,547.14 338.58,549.36 339.97,551.57 C341.36,553.79 340.52,558.23 338.31,559.90 C336.09,561.56 329.71,561.56 326.66,561.56 C323.61,561.56 321.11,562.11 320.00,559.90 C318.89,557.68 318.34,550.46 320.00,548.25Z" fill="#5a8fc6" fill-opacity="0.42" filter="url(#b25)"/>
<path d="M403.21,508.31 C403.49,504.42 408.06,507.47 409.87,511.63 C411.67,515.79 414.30,529.39 414.03,533.27 C413.75,537.15 410.00,539.09 408.20,534.93 C406.40,530.77 402.93,512.19 403.21,508.31Z" fill="#5a8fc6" fill-opacity="0.42" filter="url(#b25)"/>
<path d="M354.9 541.9h0M346.6 532.1h0M345.0 542.7h0M351.3 531.2h0M357.4 525.7h0M345.7 541.2h0M353.1 527.8h0M359.3 537.5h0M357.1 531.9h0M347.7 532.4h0M339.2 540.6h0M343.5 541.9h0M344.7 541.8h0M348.2 533.3h0M339.4 537.7h0M348.0 527.7h0M346.2 536.3h0M351.1 541.4h0M350.4 539.7h0M360.2 536.2h0M349.7 529.3h0M356.2 529.3h0M349.2 531.9h0M345.4 540.3h0M354.9 538.4h0M359.6 535.3h0M360.3 529.0h0M358.8 540.4h0M353.2 536.3h0M358.5 532.8h0M352.3 526.8h0M347.0 539.3h0M356.0 531.4h0M345.2 540.7h0M357.4 529.4h0M347.4 530.6h0M359.7 533.3h0M359.2 541.4h0M353.5 528.5h0M353.2 530.0h0M358.1 525.6h0M358.0 531.3h0M349.6 529.3h0M354.7 531.3h0M352.3 527.6h0M352.0 528.0h0M355.7 540.0h0M359.8 535.2h0M326.9 552.4h0M320.1 554.9h0M323.4 553.8h0M319.6 550.4h0M318.5 549.5h0M330.9 560.6h0M329.7 558.9h0M338.9 557.8h0M337.4 558.6h0M338.4 551.6h0M323.3 555.6h0M324.6 554.4h0M325.2 551.3h0M331.1 549.7h0M325.7 562.3h0M326.0 555.3h0M328.6 556.1h0M331.6 549.0h0M331.1 553.9h0M323.1 558.0h0M328.5 550.3h0M337.1 556.6h0M328.2 555.2h0M321.3 555.0h0M329.9 546.8h0M339.5 553.1h0M326.1 549.3h0M323.5 555.6h0M333.3 553.6h0M330.3 560.6h0M320.6 553.9h0M326.8 557.1h0M327.2 551.3h0M331.0 557.4h0M330.4 546.6h0M336.6 549.0h0M334.6 548.8h0M328.9 550.8h0M408.1 529.6h0M404.5 528.9h0M408.7 517.4h0M410.4 524.0h0M406.1 513.8h0M412.7 536.7h0M405.2 523.5h0M408.9 512.7h0M406.3 512.7h0M410.1 532.2h0M412.0 532.0h0M411.1 526.5h0M408.2 511.1h0M410.0 523.3h0M409.7 526.9h0M402.1 518.1h0M409.9 524.1h0M405.8 514.9h0M404.8 509.0h0" stroke="#3a75b5" stroke-opacity="0.14" stroke-width="2.8" stroke-linecap="round" fill="none"/>
<path d="M361.60,539.93 C362.99,537.71 367.71,533.55 369.93,531.60 C372.14,529.66 373.25,528.28 374.92,528.28 C376.58,528.28 378.52,532.16 379.91,531.60 C381.30,531.05 382.13,525.50 383.24,524.95 C384.35,524.39 385.18,528.28 386.57,528.28 C387.95,528.28 389.90,525.22 391.56,524.95 C393.22,524.67 394.89,526.89 396.55,526.61 C398.22,526.33 400.16,524.39 401.54,523.28 C402.93,522.17 403.76,519.12 404.87,519.96 C405.98,520.79 407.09,525.50 408.20,528.28 C409.31,531.05 410.70,533.82 411.53,536.60 C412.36,539.37 412.64,542.14 413.19,544.92 C413.75,547.69 414.86,550.46 414.86,553.24 C414.86,556.01 413.75,558.79 413.19,561.56 C412.64,564.33 412.36,567.66 411.53,569.88 C410.70,572.10 409.31,575.15 408.20,574.87 C407.09,574.60 405.98,570.43 404.87,568.22 C403.76,566.00 402.93,563.22 401.54,561.56 C400.16,559.90 398.22,559.62 396.55,558.23 C394.89,556.84 393.22,554.35 391.56,553.24 C389.90,552.13 388.51,552.13 386.57,551.57 C384.63,551.02 382.13,549.36 379.91,549.91 C377.69,550.46 375.19,554.07 373.25,554.90 C371.31,555.73 369.93,555.73 368.26,554.90 C366.60,554.07 364.38,551.57 363.27,549.91 C362.16,548.25 361.88,546.58 361.60,544.92 C361.33,543.25 360.22,542.14 361.60,539.93Z" fill="#0c4f96" fill-opacity="0.95" filter="url(#b10)"/>
<path d="M373.25,539.93 C374.64,538.26 379.63,537.15 383.24,536.60 C386.84,536.04 391.00,536.32 394.89,536.60 C398.77,536.87 403.76,536.60 406.54,538.26 C409.31,539.93 410.70,542.98 411.53,546.58 C412.36,550.19 412.36,557.12 411.53,559.90 C410.70,562.67 408.48,564.33 406.54,563.22 C404.60,562.11 403.21,556.01 399.88,553.24 C396.55,550.46 390.73,547.69 386.57,546.58 C382.41,545.47 377.14,547.69 374.92,546.58 C372.70,545.47 371.87,541.59 373.25,539.93Z" fill="#05397d" fill-opacity="0.9" filter="url(#b20)"/>
<line x1="280.5" y1="544.50" x2="433.9" y2="544.50" stroke="#9a9a9a" stroke-width="1"/>
<path d="M287.46,494.66 C288.08,496.11 289.95,500.25 291.19,503.36 C292.44,506.47 293.47,510.00 294.93,513.31 C296.38,516.63 298.24,520.36 299.90,523.26 C301.56,526.17 303.01,528.24 304.88,530.73 C306.74,533.21 309.02,536.22 311.09,538.19 C313.17,540.16 315.24,541.40 317.31,542.54 C319.39,543.68 321.46,544.41 323.53,545.03 C325.61,545.65 327.68,546.00 329.75,546.27 C331.82,546.54 333.90,546.65 335.97,546.65 C338.04,546.65 340.12,546.48 342.19,546.27 C344.26,546.07 346.33,545.71 348.41,545.40 C350.48,545.09 353.69,544.62 354.63,544.41 C355.56,544.20 353.07,544.37 354.00,544.16 C354.93,543.95 358.15,543.58 360.22,543.16 C362.29,542.75 364.36,542.09 366.44,541.67 C368.51,541.26 370.58,540.95 372.66,540.68 C374.73,540.41 376.80,540.16 378.88,540.05 C380.95,539.95 383.02,539.95 385.09,540.05 C387.17,540.16 389.24,540.26 391.31,540.68 C393.39,541.09 395.46,541.71 397.53,542.54 C399.61,543.37 401.89,544.41 403.75,545.65 C405.62,546.90 407.07,548.35 408.73,550.00 C410.38,551.66 412.04,553.43 413.70,555.60 C415.36,557.78 417.02,560.16 418.68,563.06 C420.33,565.97 422.30,570.22 423.65,573.01 C425.00,575.81 426.24,578.72 426.76,579.86" fill="none" stroke="#f7901e" stroke-width="1.75" stroke-dasharray="4.2 1.9"/>
</g>
<rect x="283.10" y="574.30" width="102.00" height="40.00" rx="1" fill="#fff" fill-opacity="0.8" stroke="#dcdcdc" stroke-width="0.6"/>
<circle cx="290.30" cy="578.10" r="1.4" fill="#7593d2" stroke="#b5c5ea" stroke-width="0.5"/>
<rect x="284.70" y="584.00" width="10.8" height="3.4" fill="#fdd7ac" fill-opacity="0.8"/>
<line x1="284.70" y1="601.50" x2="295.50" y2="601.50" stroke="#f7901e" stroke-width="1.5" stroke-dasharray="4.2 1.9"/>
<text x="299.80" y="579.90" font-size="5.2" text-anchor="start" fill="#1a1a1a" >Sample</text>
<text x="299.80" y="587.50" font-size="5.2" text-anchor="start" fill="#1a1a1a" >95% Confidence interval</text>
<text x="299.80" y="594.80" font-size="5.2" text-anchor="start" fill="#1a1a1a" >Fitted curve (R-square: 0.46):</text>
<text x="299.80" y="603.30" font-size="5.2" text-anchor="start" fill="#1a1a1a" ><tspan dy="0" dx="0">y&#160;=&#160;-3e-14X</tspan><tspan font-size="3.4" dy="-2.9" dx="0.2">5</tspan><tspan dy="2.9" dx="0.9">&#160;-3.7e-11X</tspan><tspan font-size="3.4" dy="-2.9" dx="0.2">4</tspan><tspan dy="2.9" dx="0.9">&#160;-3.3e-08X</tspan><tspan font-size="3.4" dy="-2.9" dx="0.2">3</tspan></text>
<text x="308.60" y="611.40" font-size="5.2" text-anchor="start" fill="#1a1a1a" ><tspan dy="0" dx="0">-1.3e-05X</tspan><tspan font-size="3.4" dy="-2.9" dx="0.2">2</tspan><tspan dy="2.9" dx="0.9">&#160;-0.0013X&#160;+0.11</tspan></text>
<path d="M349.50,652.35V652.01h1.95V652.35ZM351.45,652.35V651.93h1.95V652.35ZM353.40,652.35V651.84h1.95V652.35ZM355.35,652.35V651.75h1.95V652.35ZM357.30,652.35V651.66h1.95V652.35ZM359.25,652.35V651.57h1.95V652.35ZM361.20,652.35V651.36h1.95V652.35ZM363.15,652.35V651.10h1.95V652.35ZM365.10,652.35V650.85h1.95V652.35ZM367.05,652.35V650.59h1.95V652.35ZM369.00,652.35V650.33h1.95V652.35ZM370.95,652.35V649.85h1.95V652.35ZM372.90,652.35V649.37h1.95V652.35ZM374.85,652.35V648.89h1.95V652.35ZM376.80,652.35V648.23h1.95V652.35ZM378.75,652.35V647.55h1.95V652.35ZM380.70,652.35V646.26h1.95V652.35ZM382.65,652.35V644.46h1.95V652.35ZM384.60,652.35V642.83h1.95V652.35ZM386.55,652.35V641.56h1.95V652.35ZM388.50,652.35V638.74h1.95V652.35ZM390.45,652.35V636.39h1.95V652.35ZM392.40,652.35V633.03h1.95V652.35ZM394.35,652.35V628.04h1.95V652.35ZM396.30,652.35V624.50h1.95V652.35ZM398.25,652.35V621.35h1.95V652.35ZM400.20,652.35V620.15h1.95V652.35ZM402.15,652.35V620.44h1.95V652.35ZM404.10,652.35V621.91h1.95V652.35ZM406.05,652.35V627.30h1.95V652.35ZM408.00,652.35V633.15h1.95V652.35ZM409.95,652.35V640.81h1.95V652.35ZM411.90,652.35V646.00h1.95V652.35ZM413.85,652.35V649.71h1.95V652.35ZM415.80,652.35V651.61h1.95V652.35Z" fill="#808080" stroke="#2e2e2e" stroke-width="0.35"/>
<text x="276.50" y="484.70" font-size="7.9" text-anchor="end" fill="#1a1a1a" >2</text>
<text x="276.50" y="516.40" font-size="7.9" text-anchor="end" fill="#1a1a1a" >1</text>
<text x="276.50" y="548.10" font-size="7.9" text-anchor="end" fill="#1a1a1a" >0</text>
<text x="276.50" y="579.80" font-size="7.9" text-anchor="end" fill="#1a1a1a" >-1</text>
<text x="276.50" y="611.50" font-size="7.9" text-anchor="end" fill="#1a1a1a" >-2</text>
<text x="301.25" y="662.35" font-size="7.9" text-anchor="middle" fill="#1a1a1a" >-600</text>
<text x="332.50" y="662.35" font-size="7.9" text-anchor="middle" fill="#1a1a1a" >-400</text>
<text x="363.75" y="662.35" font-size="7.9" text-anchor="middle" fill="#1a1a1a" >-200</text>
<text x="395.00" y="662.35" font-size="7.9" text-anchor="middle" fill="#1a1a1a" >0</text>
<text x="426.25" y="662.35" font-size="7.9" text-anchor="middle" fill="#1a1a1a" >200</text>
<text class="k" x="357.20" y="673.90" font-size="12.2" text-anchor="middle" fill="#1a1a1a" >HIE_D (%)</text>
<text class="k" transform="translate(253.90,564.42) rotate(-90)" font-size="12" text-anchor="middle" fill="#1a1a1a">Effect on Elder_Mig_R (%)</text>
<text class="k" transform="translate(273.60,635.77) rotate(-90)" font-size="11.7" text-anchor="middle" fill="#1a1a1a">Dist.</text>
<rect x="280.5" y="476.5" width="153.40" height="140.90" fill="none" stroke="#7a7a7a" stroke-width="1.2"/>
<rect x="280.5" y="617.4" width="153.40" height="34.95" fill="none" stroke="#7a7a7a" stroke-width="1.2"/>
<line x1="539.33" y1="476.4" x2="539.33" y2="652.45" stroke="#f3f3f3" stroke-width="0.7"/>
<line x1="569.50" y1="476.4" x2="569.50" y2="652.45" stroke="#f3f3f3" stroke-width="0.7"/>
<line x1="599.67" y1="476.4" x2="599.67" y2="652.45" stroke="#f3f3f3" stroke-width="0.7"/>
<line x1="629.85" y1="476.4" x2="629.85" y2="652.45" stroke="#f3f3f3" stroke-width="0.7"/>
<line x1="660.02" y1="476.4" x2="660.02" y2="652.45" stroke="#f3f3f3" stroke-width="0.7"/>
<line x1="532.6" y1="485.00" x2="662.4" y2="485.00" stroke="#f3f3f3" stroke-width="0.7"/>
<text x="530.40" y="483.20" font-size="8.0" text-anchor="end" fill="#1a1a1a" >Edu</text>
<text x="531.00" y="489.50" font-size="6.0" text-anchor="end" fill="#1a1a1a" >(16.35%)</text>
<line x1="532.6" y1="500.91" x2="662.4" y2="500.91" stroke="#f3f3f3" stroke-width="0.7"/>
<text x="530.40" y="499.11" font-size="8.0" text-anchor="end" fill="#1a1a1a" >PRCP</text>
<text x="531.00" y="505.41" font-size="6.0" text-anchor="end" fill="#1a1a1a" >(13.97%)</text>
<line x1="532.6" y1="516.82" x2="662.4" y2="516.82" stroke="#f3f3f3" stroke-width="0.7"/>
<text x="530.40" y="515.02" font-size="8.0" text-anchor="end" fill="#1a1a1a" >TEMP</text>
<text x="531.00" y="521.32" font-size="6.0" text-anchor="end" fill="#1a1a1a" >(11.91%)</text>
<line x1="532.6" y1="532.73" x2="662.4" y2="532.73" stroke="#f3f3f3" stroke-width="0.7"/>
<text x="530.40" y="530.93" font-size="8.0" text-anchor="end" fill="#1a1a1a" >GDP_PA</text>
<text x="531.00" y="537.23" font-size="6.0" text-anchor="end" fill="#1a1a1a" >(10.68%)</text>
<line x1="532.6" y1="548.64" x2="662.4" y2="548.64" stroke="#f3f3f3" stroke-width="0.7"/>
<text x="530.40" y="546.84" font-size="8.0" text-anchor="end" fill="#1a1a1a" >Urban_R</text>
<text x="531.00" y="553.14" font-size="6.0" text-anchor="end" fill="#1a1a1a" >(7.93%)</text>
<line x1="532.6" y1="564.55" x2="662.4" y2="564.55" stroke="#f3f3f3" stroke-width="0.7"/>
<text x="530.40" y="562.75" font-size="8.0" text-anchor="end" fill="#1a1a1a" >NTL_PA</text>
<text x="531.00" y="569.05" font-size="6.0" text-anchor="end" fill="#1a1a1a" >(7.92%)</text>
<line x1="532.6" y1="580.46" x2="662.4" y2="580.46" stroke="#f3f3f3" stroke-width="0.7"/>
<text x="530.40" y="578.66" font-size="8.0" text-anchor="end" fill="#1a1a1a" >DEM</text>
<text x="531.00" y="584.96" font-size="6.0" text-anchor="end" fill="#1a1a1a" >(7.47%)</text>
<line x1="532.6" y1="596.37" x2="662.4" y2="596.37" stroke="#f3f3f3" stroke-width="0.7"/>
<text x="530.40" y="594.57" font-size="8.0" text-anchor="end" fill="#1a1a1a" >Rx5day</text>
<text x="531.00" y="600.87" font-size="6.0" text-anchor="end" fill="#1a1a1a" >(7.12%)</text>
<line x1="532.6" y1="612.28" x2="662.4" y2="612.28" stroke="#f3f3f3" stroke-width="0.7"/>
<text x="530.40" y="610.48" font-size="8.0" text-anchor="end" fill="#1a1a1a" >HIE</text>
<text x="531.00" y="616.78" font-size="6.0" text-anchor="end" fill="#1a1a1a" >(5.78%)</text>
<line x1="532.6" y1="628.19" x2="662.4" y2="628.19" stroke="#f3f3f3" stroke-width="0.7"/>
<text x="530.40" y="626.39" font-size="8.0" text-anchor="end" fill="#1a1a1a" >HIE_D</text>
<text x="531.00" y="632.69" font-size="6.0" text-anchor="end" fill="#1a1a1a" >(5.52%)</text>
<line x1="532.6" y1="644.10" x2="662.4" y2="644.10" stroke="#f3f3f3" stroke-width="0.7"/>
<text x="530.40" y="642.30" font-size="8.0" text-anchor="end" fill="#1a1a1a" >Water_Dis</text>
<text x="531.00" y="648.60" font-size="6.0" text-anchor="end" fill="#1a1a1a" >(5.35%)</text>
<line x1="569.50" y1="476.4" x2="569.50" y2="652.45" stroke="#9a9a9a" stroke-width="1"/>
<path d="M573.5 484.2h0M568.5 486.0h0M575.2 484.2h0M573.0 488.3h0M570.5 485.4h0M570.5 484.8h0M570.8 484.1h0M573.1 486.7h0M574.8 486.9h0M573.6 484.7h0M572.0 484.6h0M565.3 498.6h0M567.5 500.4h0M561.5 501.5h0M564.2 499.5h0M565.9 501.1h0M564.0 499.5h0M563.7 500.4h0M563.8 500.2h0M584.2 532.4h0M579.3 531.5h0M586.3 532.0h0M588.7 533.5h0M580.4 531.3h0M587.7 532.0h0M588.9 531.8h0M581.0 532.2h0M569.7 564.5h0M571.6 565.2h0M567.1 565.2h0M561.7 564.1h0M566.6 563.2h0M574.9 566.4h0M576.3 562.8h0M567.7 563.4h0M568.6 562.8h0M573.0 567.8h0M566.5 562.3h0M576.2 564.8h0M567.2 562.8h0M564.7 566.7h0M574.7 565.7h0M569.3 566.1h0M564.5 565.2h0M572.1 565.0h0M573.3 566.7h0M586.1 565.3h0M589.8 564.5h0M588.0 564.1h0M580.5 565.7h0M592.7 564.6h0M570.8 613.8h0M569.6 613.2h0M570.8 612.8h0M571.5 613.0h0M565.8 611.6h0M571.2 611.9h0M575.2 610.8h0M567.3 612.5h0M573.0 615.6h0M568.5 614.9h0M572.5 609.0h0M574.9 612.3h0M565.9 610.5h0M568.2 614.2h0M571.6 644.8h0M569.2 642.0h0M565.3 643.1h0M575.3 644.2h0M566.8 643.1h0M570.3 643.1h0M575.2 642.8h0M563.8 642.6h0" stroke="#dcd6e2" stroke-width="2.3" stroke-linecap="round" stroke-opacity="0.85" fill="none"/>
<path d="M577.1 484.9h0M572.2 483.6h0M585.6 486.2h0M578.6 487.1h0M584.9 486.1h0M585.6 485.2h0M585.3 487.0h0M589.0 484.4h0M577.1 484.0h0M573.0 482.7h0M580.8 482.8h0M580.5 481.7h0M582.2 484.8h0M575.0 481.7h0M574.9 486.9h0M580.8 488.3h0M572.5 485.7h0M579.4 485.8h0M585.6 481.7h0M589.0 484.6h0M587.5 485.4h0M587.9 485.4h0M552.6 502.7h0M547.9 499.9h0M561.8 500.3h0M565.8 499.2h0M554.3 501.0h0M549.5 500.0h0M547.9 501.4h0M558.4 502.1h0M564.0 498.8h0M564.9 497.8h0M565.6 503.7h0M550.4 500.7h0M567.0 501.0h0M546.9 501.9h0M558.5 501.8h0M550.3 500.3h0M559.3 500.9h0M547.0 501.8h0M561.6 500.4h0M556.4 500.7h0M557.2 501.3h0M554.5 501.5h0M550.6 519.2h0M565.3 518.5h0M564.3 513.5h0M564.4 514.5h0M554.1 516.3h0M558.8 515.7h0M564.9 517.7h0M567.8 519.1h0M551.0 515.7h0M550.6 516.6h0M566.1 517.5h0M552.2 516.5h0M551.4 517.7h0M558.5 517.5h0M565.0 514.7h0M563.3 515.9h0M562.2 516.7h0M569.4 515.4h0M565.1 517.4h0M538.8 532.7h0M579.2 533.3h0M574.5 531.4h0M566.4 532.0h0M570.8 531.5h0M573.1 534.3h0M561.7 534.0h0M563.9 534.4h0M565.7 534.5h0M561.8 532.1h0M566.0 534.5h0M561.2 532.5h0M562.3 530.0h0M567.2 531.5h0M570.2 530.8h0M567.0 535.2h0M575.6 529.4h0M574.8 531.0h0M567.3 533.8h0M575.6 532.5h0M569.7 533.8h0M561.9 532.4h0M567.5 536.0h0M567.0 531.2h0M563.8 532.8h0M562.2 533.6h0M564.0 533.4h0M574.1 532.6h0M579.1 531.3h0M567.2 531.2h0M564.0 532.9h0M560.8 533.8h0M568.7 533.4h0M572.2 532.7h0M571.9 534.3h0M577.0 531.8h0M572.5 533.9h0M570.5 534.6h0M569.5 531.3h0M565.0 533.3h0M569.1 533.7h0M584.3 546.5h0M581.5 550.5h0M584.1 548.4h0M580.1 549.9h0M583.5 546.1h0M575.5 548.2h0M588.4 548.2h0M585.4 547.1h0M582.2 549.3h0M580.0 547.5h0M581.3 548.4h0M570.7 581.7h0M573.5 583.1h0M570.9 580.3h0M576.7 577.8h0M567.7 582.2h0M564.6 579.4h0M565.4 579.4h0M574.2 579.4h0M569.5 578.7h0M573.8 580.8h0M572.9 581.8h0M575.4 579.5h0M571.7 582.5h0M574.9 579.2h0M566.7 580.2h0M568.2 579.8h0M569.1 599.5h0M568.2 595.6h0M573.3 597.5h0M568.1 598.3h0M571.2 596.3h0M565.6 597.2h0M564.2 595.5h0M569.4 598.0h0M574.9 597.3h0M568.5 598.2h0M567.4 596.0h0M572.0 596.3h0M566.1 595.9h0M569.0 594.6h0M569.5 596.1h0M569.0 598.2h0" stroke="#93aef0" stroke-width="2.3" stroke-linecap="round" stroke-opacity="0.85" fill="none"/>
<path d="M582.4 502.3h0M577.2 501.1h0M587.6 499.7h0M571.6 500.6h0M586.3 500.8h0M588.2 500.5h0M579.0 502.1h0M583.4 500.2h0M579.1 500.4h0M582.3 500.5h0M576.2 501.5h0M572.8 501.6h0M576.0 500.4h0M580.6 498.3h0M546.5 516.8h0M542.4 548.5h0M534.9 564.3h0M585.2 565.4h0M586.5 563.7h0M589.6 567.5h0M589.4 566.2h0M583.7 564.9h0M589.2 565.3h0M577.7 565.6h0M579.0 564.7h0M590.4 563.9h0M581.2 564.6h0M584.1 564.3h0M535.8 580.2h0M546.5 612.1h0" stroke="#f5c887" stroke-width="2.3" stroke-linecap="round" stroke-opacity="0.85" fill="none"/>
<path d="M580.8 483.3h0M577.7 484.2h0M580.2 486.6h0M579.9 486.2h0M581.6 517.5h0M582.7 516.7h0M578.3 516.9h0M582.6 517.3h0M579.3 516.3h0M599.4 533.3h0M590.2 531.9h0M594.8 532.5h0M586.8 533.8h0M596.7 535.4h0M598.4 532.9h0M594.7 532.9h0M600.4 531.8h0M587.8 536.0h0M589.2 531.3h0M598.0 531.9h0M598.7 548.6h0M597.1 547.8h0M596.5 547.8h0M595.0 549.4h0M556.5 597.3h0M557.1 595.6h0M557.9 597.5h0M562.4 598.3h0M563.3 593.9h0M558.5 598.0h0M558.7 598.6h0M557.7 596.0h0M555.5 597.1h0M561.3 596.2h0M562.3 593.9h0M556.6 596.3h0M560.3 598.6h0M560.8 598.3h0M576.9 615.4h0M578.4 610.9h0M579.4 609.1h0M581.0 614.2h0M551.8 627.9h0M553.9 628.1h0M549.9 627.7h0M550.5 627.5h0M565.5 631.0h0M570.2 627.4h0M572.0 627.5h0M570.3 630.8h0M572.1 631.2h0M574.2 642.6h0M569.5 642.3h0M572.9 647.4h0M579.2 644.8h0M572.8 645.9h0M570.5 645.0h0M572.2 645.3h0M581.0 643.4h0M569.8 641.9h0M570.9 643.1h0M577.8 643.0h0" stroke="#3f65e2" stroke-width="2.3" stroke-linecap="round" stroke-opacity="0.85" fill="none"/>
<path d="M555.9 484.4h0M548.1 488.2h0M556.1 483.5h0M546.0 485.5h0M564.5 485.0h0M550.7 485.2h0M546.1 485.7h0M550.8 485.4h0M548.8 485.4h0M548.2 486.2h0M562.8 484.3h0M547.0 486.8h0M563.8 484.9h0M555.5 485.3h0M549.0 486.0h0M552.8 485.8h0M557.4 483.4h0M556.8 484.1h0M552.2 487.2h0M555.2 485.2h0M563.7 487.8h0M551.0 481.7h0M551.1 481.9h0M544.7 485.9h0M551.0 483.9h0M562.4 487.0h0M549.1 483.3h0M560.8 485.1h0M547.5 485.0h0M565.4 484.5h0M543.1 484.8h0M550.2 483.9h0M586.1 501.6h0M581.0 502.1h0M585.0 500.6h0M579.4 501.9h0M583.0 500.7h0M591.5 500.7h0M580.5 503.5h0M596.6 501.4h0M594.5 501.3h0M590.9 499.8h0M592.8 500.6h0M614.2 500.1h0M603.0 500.8h0M605.9 502.1h0M616.2 501.1h0M606.3 500.5h0M618.6 500.0h0M602.2 501.1h0M620.2 500.8h0M606.7 501.3h0M612.6 500.6h0M616.0 499.6h0M557.6 517.1h0M559.4 518.6h0M560.7 514.2h0M573.5 518.6h0M565.5 516.8h0M567.9 516.6h0M576.6 516.3h0M574.7 517.5h0M570.4 517.0h0M576.5 518.1h0M576.5 517.3h0M575.2 516.9h0M567.7 517.3h0M565.5 520.1h0M573.6 548.6h0M567.6 549.4h0M560.5 548.6h0M566.8 546.9h0M567.0 549.0h0M563.5 545.4h0M560.1 546.1h0M562.4 548.3h0M560.2 549.3h0M573.2 550.0h0M561.7 548.7h0M558.5 549.5h0M562.4 546.8h0M559.4 548.7h0M565.4 548.9h0M568.8 548.0h0M563.1 546.5h0M563.0 546.2h0M572.3 550.3h0M561.8 549.9h0M561.6 547.5h0M558.5 546.8h0M570.3 548.3h0M558.2 548.6h0M566.5 547.9h0M568.2 550.5h0M572.0 550.0h0M557.6 564.4h0M564.9 563.5h0M559.9 565.8h0M559.4 564.0h0M562.0 564.5h0M565.2 564.3h0M562.2 565.0h0M563.0 565.5h0M558.1 580.1h0M556.8 580.6h0M560.6 582.0h0M564.6 578.9h0M563.5 579.1h0M553.0 580.6h0M563.8 582.6h0M551.5 579.6h0M564.5 582.2h0M561.2 577.9h0M557.6 580.2h0M552.1 580.0h0M559.8 581.5h0M563.1 580.4h0M578.8 581.6h0M578.7 579.7h0M575.7 577.8h0M576.8 582.8h0M581.6 580.6h0M575.1 578.6h0M574.9 580.9h0M576.1 580.0h0M573.4 594.4h0M580.5 597.1h0M574.7 594.4h0M577.6 596.9h0M582.7 597.7h0M580.2 595.4h0M583.5 596.5h0M576.0 596.1h0M573.8 595.7h0M577.5 596.0h0M580.3 596.9h0M580.5 594.5h0M579.7 597.6h0M578.3 595.4h0M594.3 596.0h0M597.7 595.9h0M592.2 596.3h0M596.2 596.4h0M561.6 611.3h0M566.2 612.8h0M565.2 613.4h0M565.2 614.9h0M563.8 613.5h0M564.4 612.5h0M563.9 613.4h0M566.8 613.8h0M566.1 613.5h0M559.9 614.6h0M560.5 612.1h0M580.6 612.7h0M574.0 610.4h0M579.6 611.4h0M573.8 609.0h0M574.9 610.0h0M580.0 612.2h0M577.2 612.0h0M580.1 611.7h0M569.3 630.5h0M572.3 627.7h0M572.1 625.7h0M569.0 630.4h0M569.8 624.9h0M560.6 626.8h0M580.6 630.5h0M563.1 625.9h0M577.4 629.1h0M574.9 628.4h0M568.9 628.6h0M563.0 627.7h0M564.7 629.7h0M572.0 627.5h0M561.9 629.9h0M572.2 631.1h0M566.1 627.3h0M580.7 629.1h0M580.1 628.9h0M567.3 628.8h0M565.9 628.2h0M563.0 626.0h0M567.7 628.1h0M567.8 631.3h0M567.4 628.2h0M579.6 628.3h0M580.9 627.2h0M552.5 644.2h0M572.2 643.0h0M577.0 641.0h0M579.4 644.2h0M568.1 640.8h0M560.1 643.9h0M570.4 646.7h0M568.6 642.7h0M576.0 642.3h0M574.3 642.6h0M565.6 644.3h0M566.3 641.2h0M571.3 644.4h0M562.4 644.2h0M580.8 645.4h0M567.1 642.7h0M575.7 643.8h0" stroke="#f6981c" stroke-width="2.3" stroke-linecap="round" stroke-opacity="0.85" fill="none"/>
<path d="M538.5 485.0h0M551.6 485.5h0M561.1 484.6h0M550.1 488.3h0M561.5 484.1h0M560.4 485.3h0M607.0 501.7h0M608.6 500.7h0M608.9 500.3h0M610.1 502.1h0M584.8 516.1h0M573.4 516.9h0M585.8 515.6h0M573.7 514.8h0M581.8 515.5h0M585.7 518.3h0M590.5 515.7h0M586.4 515.4h0M589.2 516.7h0M578.0 516.7h0M587.2 516.6h0M593.3 516.2h0M592.3 515.3h0M600.8 517.0h0M596.6 516.9h0M592.5 516.1h0M599.4 515.8h0M591.0 514.0h0M600.3 516.8h0M587.7 549.1h0M586.0 547.5h0M586.0 546.5h0M598.1 548.6h0" stroke="#d2691e" stroke-width="2.3" stroke-linecap="round" stroke-opacity="0.85" fill="none"/>
<path d="M599.1 484.8h0M605.4 486.9h0M608.9 485.1h0M605.9 486.4h0M605.2 485.1h0M605.5 485.5h0M619.1 516.5h0M615.7 517.1h0M616.1 516.0h0M613.5 516.6h0M597.7 533.7h0M590.2 531.1h0M589.4 532.1h0M595.2 532.7h0M589.3 533.2h0M577.1 580.3h0M576.8 580.1h0M576.9 580.8h0M540.8 595.7h0M540.7 597.8h0M540.7 596.5h0M546.5 596.5h0M582.2 597.9h0M583.2 595.2h0M581.5 594.6h0M561.6 628.9h0M562.8 629.9h0M568.2 627.6h0M570.1 628.8h0M564.5 630.7h0M571.1 626.1h0M577.3 627.9h0M563.8 626.7h0" stroke="#1c1c9c" stroke-width="2.3" stroke-linecap="round" stroke-opacity="0.85" fill="none"/>
<text x="539.33" y="661.45" font-size="7.9" text-anchor="middle" fill="#1a1a1a" >-2.5</text>
<text x="569.50" y="661.45" font-size="7.9" text-anchor="middle" fill="#1a1a1a" >0.0</text>
<text x="599.67" y="661.45" font-size="7.9" text-anchor="middle" fill="#1a1a1a" >2.5</text>
<text x="629.85" y="661.45" font-size="7.9" text-anchor="middle" fill="#1a1a1a" >5.0</text>
<text x="660.02" y="661.45" font-size="7.9" text-anchor="middle" fill="#1a1a1a" >7.5</text>
<text class="k" x="597.50" y="673.25" font-size="12.0" text-anchor="middle" fill="#1a1a1a" >Effect on Elder_Mig_R (%)</text>
<text class="k" transform="translate(483.10,565.22) rotate(-90)" font-size="12" text-anchor="middle" fill="#1a1a1a">Features importance</text>
<rect x="648.8" y="529.00" width="3.8" height="114.70" fill="url(#cbar)"/>
<line x1="647" y1="529.00" x2="648.8" y2="529.00" stroke="#555" stroke-width="0.6"/>
<text x="645.30" y="531.80" font-size="7.7" text-anchor="end" fill="#1a1a1a" >High</text>
<line x1="647" y1="586.35" x2="648.8" y2="586.35" stroke="#555" stroke-width="0.6"/>
<text x="645.30" y="589.15" font-size="7.7" text-anchor="end" fill="#1a1a1a" >Middle</text>
<line x1="647" y1="643.70" x2="648.8" y2="643.70" stroke="#555" stroke-width="0.6"/>
<text x="645.30" y="646.50" font-size="7.7" text-anchor="end" fill="#1a1a1a" >Low</text>
<text class="k" transform="translate(660.0,586.35) rotate(-90)" font-size="7.9" text-anchor="middle" fill="#1a1a1a">Feature value</text>
<rect x="532.6" y="476.4" width="129.80" height="176.05" fill="none" stroke="#7a7a7a" stroke-width="1.2"/>
<text class="k" x="676.60" y="471.50" font-size="21.9" text-anchor="end" fill="#1a1a1a" >c. Elder</text>
<line x1="70.85" y1="705.2" x2="70.85" y2="880.8" stroke="#f3f3f3" stroke-width="0.7"/>
<line x1="99.75" y1="705.2" x2="99.75" y2="880.8" stroke="#f3f3f3" stroke-width="0.7"/>
<line x1="128.65" y1="705.2" x2="128.65" y2="880.8" stroke="#f3f3f3" stroke-width="0.7"/>
<line x1="157.55" y1="705.2" x2="157.55" y2="880.8" stroke="#f3f3f3" stroke-width="0.7"/>
<line x1="186.45" y1="705.2" x2="186.45" y2="880.8" stroke="#f3f3f3" stroke-width="0.7"/>
<line x1="52.35" y1="707.42" x2="205.4" y2="707.42" stroke="#f3f3f3" stroke-width="0.7"/>
<line x1="52.35" y1="726.84" x2="205.4" y2="726.84" stroke="#f3f3f3" stroke-width="0.7"/>
<line x1="52.35" y1="746.26" x2="205.4" y2="746.26" stroke="#f3f3f3" stroke-width="0.7"/>
<line x1="52.35" y1="765.68" x2="205.4" y2="765.68" stroke="#f3f3f3" stroke-width="0.7"/>
<line x1="52.35" y1="785.10" x2="205.4" y2="785.10" stroke="#f3f3f3" stroke-width="0.7"/>
<line x1="52.35" y1="804.52" x2="205.4" y2="804.52" stroke="#f3f3f3" stroke-width="0.7"/>
<line x1="52.35" y1="823.94" x2="205.4" y2="823.94" stroke="#f3f3f3" stroke-width="0.7"/>
<line x1="52.35" y1="843.36" x2="205.4" y2="843.36" stroke="#f3f3f3" stroke-width="0.7"/>
<line x1="52.35" y1="863.10" x2="205.4" y2="863.10" stroke="#f3f3f3" stroke-width="0.7"/>
<clipPath id="clip_dL"><rect x="52.35" y="705.2" width="153.05" height="140.20"/></clipPath>
<g clip-path="url(#clip_dL)">
<path d="M163.31,802.01 C166.01,799.94 176.06,802.01 181.97,802.01 C187.88,802.01 195.96,799.53 198.76,802.01 C201.56,804.50 201.56,814.04 198.76,816.94 C195.96,819.84 187.46,819.84 181.97,819.43 C176.48,819.01 168.91,817.35 165.80,814.45 C162.69,811.55 160.62,804.09 163.31,802.01Z" fill="#d0d3da" fill-opacity="0.6" filter="url(#b25)"/>
<path d="M177.2 806.8h0M179.9 815.5h0M184.1 807.9h0M183.5 807.1h0M177.3 808.4h0M183.5 803.3h0M168.0 813.8h0M190.6 812.9h0M188.5 811.1h0M194.4 808.5h0M174.0 814.9h0M186.5 803.6h0M190.4 809.0h0M167.3 811.6h0M164.5 808.9h0M195.2 813.0h0M194.8 811.8h0M188.0 804.2h0M196.5 817.3h0M194.0 810.8h0M169.2 809.4h0M181.5 809.5h0M182.9 812.6h0M185.8 811.7h0M190.7 813.9h0M178.6 801.8h0M181.5 816.9h0M190.7 814.4h0M170.8 804.6h0M177.4 803.9h0M194.7 807.1h0M192.8 804.1h0M193.7 813.2h0M188.6 809.3h0M184.0 807.3h0M165.1 812.7h0M171.9 814.9h0M178.6 820.3h0M185.2 819.5h0M191.2 817.0h0M179.3 811.9h0M175.2 814.3h0M164.9 806.2h0M187.3 811.1h0" stroke="#9aa0ac" stroke-opacity="0.15" stroke-width="3.0" stroke-linecap="round" fill="none"/>
<path d="M58.22,736.09 C60.29,730.29 66.51,728.84 70.66,729.88 C74.80,730.91 79.99,737.13 83.09,742.31 C86.20,747.50 87.24,756.82 89.31,760.97 C91.39,765.12 92.42,766.57 95.53,767.19 C98.64,767.81 101.90,765.12 107.97,764.70 C114.04,764.29 127.97,753.92 131.98,764.70 C135.98,775.48 134.94,818.60 131.98,829.38 C129.01,840.16 120.26,832.28 114.19,829.38 C108.12,826.48 100.71,818.18 95.53,811.97 C90.35,805.75 87.24,798.28 83.09,792.06 C78.95,785.85 74.80,779.21 70.66,774.65 C66.51,770.09 60.29,771.13 58.22,764.70 C56.15,758.28 56.15,741.90 58.22,736.09Z" fill="#bcd2ea" fill-opacity="0.26" filter="url(#b35)"/>
<path d="M126.00,767.19 C127.24,759.31 132.22,766.57 133.46,769.68 C134.71,772.79 132.22,780.46 133.46,785.85 C134.71,791.24 135.95,797.87 140.93,802.01 C145.90,806.16 159.58,807.20 163.31,810.72 C167.04,814.25 167.46,821.09 163.31,823.16 C159.17,825.23 144.66,824.20 138.44,823.16 C132.22,822.12 128.07,826.27 126.00,816.94 C123.93,807.61 124.76,775.07 126.00,767.19Z" fill="#bcd2ea" fill-opacity="0.26" filter="url(#b35)"/>
<path d="M121.4 796.3h0M115.3 791.2h0M58.6 739.9h0M104.4 791.5h0M117.5 767.2h0M104.2 771.5h0M107.4 807.1h0M132.0 826.4h0M65.9 742.6h0M121.0 772.2h0M123.7 782.6h0M127.5 796.8h0M121.7 799.5h0M58.4 749.4h0M112.4 768.2h0M64.0 755.7h0M81.7 752.2h0M68.0 769.7h0M82.7 792.7h0M122.0 796.5h0M82.4 781.6h0M77.5 740.7h0M125.3 786.7h0M125.1 826.6h0M106.0 802.9h0M83.9 764.7h0M104.2 778.4h0M82.0 773.9h0M112.6 817.3h0M68.1 763.8h0M118.1 792.1h0M73.7 736.7h0M119.6 806.2h0M118.8 772.2h0M57.4 746.5h0M94.5 793.9h0M94.6 779.4h0M98.8 795.6h0M129.4 767.6h0M87.3 799.8h0M108.7 785.7h0M126.3 825.4h0M98.7 786.4h0M74.5 761.7h0M86.1 751.1h0M117.6 812.3h0M70.5 771.0h0M73.8 773.6h0M123.4 819.4h0M100.3 821.2h0M86.1 776.0h0M99.7 770.1h0M109.0 795.1h0M97.7 785.0h0M61.3 744.9h0M110.6 783.7h0M94.4 766.9h0M131.3 796.3h0M122.0 817.1h0M82.1 773.0h0M126.9 787.4h0M86.6 785.2h0M118.4 782.8h0M100.9 771.8h0M119.6 771.6h0M107.5 767.1h0M100.9 781.0h0M91.2 799.7h0M123.6 785.9h0M112.1 781.7h0M105.7 804.3h0M125.9 800.5h0M87.9 787.3h0M105.3 812.8h0M101.9 779.1h0M122.2 794.9h0M80.0 772.4h0M91.3 785.9h0M112.3 815.1h0M108.5 764.8h0M95.5 787.9h0M70.8 749.0h0M129.3 777.5h0M127.3 792.1h0M77.6 767.8h0M99.8 784.6h0M79.1 777.6h0M66.3 733.9h0M87.1 783.8h0M113.0 785.9h0M88.9 791.8h0M103.2 787.4h0M77.9 767.9h0M124.4 783.4h0M93.3 805.8h0M100.6 778.4h0M120.7 798.8h0M119.3 794.4h0M78.1 766.7h0M77.2 782.2h0M112.2 807.5h0M113.0 808.6h0M128.5 775.9h0M56.7 738.4h0M129.3 774.9h0M97.9 809.9h0M118.2 809.2h0M75.5 741.4h0M131.0 813.4h0M93.5 807.1h0M105.7 811.6h0M77.1 741.8h0M93.2 800.5h0M128.2 811.2h0M65.9 752.7h0M89.4 788.3h0M108.7 800.7h0M125.6 796.6h0M89.5 774.9h0M97.5 810.4h0M129.6 825.5h0M87.5 785.2h0M81.1 746.1h0M108.5 768.5h0M111.2 789.5h0M105.3 818.4h0M111.9 809.7h0M130.8 790.7h0M78.2 785.7h0M105.9 789.4h0M79.4 750.8h0M115.3 817.1h0M92.7 778.1h0M60.6 739.0h0M85.4 786.8h0M66.8 770.2h0M72.2 733.2h0M98.1 783.1h0M97.7 785.4h0M80.1 758.9h0M69.5 749.8h0M90.0 775.9h0M64.6 765.1h0M107.2 818.7h0M74.8 784.1h0M84.2 786.8h0M116.2 775.0h0M124.4 782.7h0M99.3 819.7h0M92.5 780.2h0M98.3 789.5h0M120.5 805.9h0M129.9 786.7h0M78.1 755.5h0M81.3 755.6h0M82.9 788.9h0M61.6 749.0h0M112.9 828.6h0M76.1 755.0h0M87.0 756.5h0M117.6 798.9h0M115.2 787.4h0M91.5 784.6h0M76.6 783.1h0M118.1 795.4h0M82.6 741.7h0M85.2 751.3h0M129.6 774.8h0M61.2 760.7h0M75.7 780.8h0M75.3 775.1h0M117.5 805.2h0M103.7 797.0h0M130.4 823.6h0M94.8 794.6h0M68.7 755.7h0M117.9 803.3h0M81.0 766.4h0M105.3 766.3h0M100.7 800.7h0M106.9 797.3h0M59.3 741.7h0M102.3 803.8h0M109.3 784.8h0M71.3 748.7h0M90.0 785.9h0M125.0 824.4h0M110.0 802.8h0M119.7 802.5h0M129.9 795.7h0M97.8 794.8h0M127.3 791.3h0M101.9 787.9h0M79.8 737.5h0M90.5 771.4h0M70.6 768.8h0M107.8 779.3h0M106.9 808.5h0M68.1 743.0h0M72.1 744.0h0M63.9 763.6h0M128.9 799.3h0M107.3 786.9h0M62.0 741.7h0M109.9 766.3h0M126.4 788.8h0M64.2 745.7h0M122.4 799.0h0M78.2 762.2h0M77.3 742.7h0M79.8 743.1h0M86.1 770.2h0M125.7 781.3h0M111.3 775.6h0M99.3 766.8h0M70.7 761.0h0M114.2 775.3h0M99.8 786.3h0M108.8 790.5h0M127.2 774.7h0M95.4 799.2h0M126.6 823.7h0M85.0 761.4h0M70.3 730.5h0M93.2 772.5h0M106.5 819.0h0M111.1 802.9h0M95.4 796.9h0M126.2 813.1h0M119.0 791.0h0M59.3 737.0h0M73.7 778.0h0M126.1 794.6h0M104.3 816.6h0M105.4 805.5h0M88.6 791.7h0M85.8 770.3h0M98.6 777.2h0M79.9 792.1h0M100.5 800.3h0M72.1 749.5h0M115.9 827.4h0M115.2 789.6h0M123.6 817.4h0M107.4 784.7h0M69.9 744.7h0M129.5 769.8h0M69.8 755.8h0M93.6 803.2h0M128.0 777.0h0M84.5 766.1h0M80.7 776.6h0M142.8 814.7h0M125.8 784.7h0M142.3 808.3h0M146.8 819.5h0M158.1 814.3h0M130.6 784.9h0M152.1 811.1h0M161.4 822.5h0M141.5 802.2h0M145.6 807.8h0M132.2 770.4h0M132.3 785.1h0M128.1 816.4h0M129.6 811.9h0M131.5 801.2h0M133.7 795.1h0M163.3 822.0h0M126.4 786.9h0M139.3 804.7h0M135.4 794.1h0M129.1 776.8h0M135.5 812.5h0M141.7 811.6h0M134.9 817.8h0M148.3 805.5h0M137.5 816.3h0M138.1 808.0h0M127.3 798.5h0M131.8 785.1h0M160.7 814.8h0M137.6 819.7h0M136.4 804.4h0M134.2 803.8h0M136.4 789.4h0M124.2 793.5h0M146.5 824.7h0M128.2 792.0h0M128.2 777.0h0M126.1 787.0h0M126.3 795.7h0M131.8 774.8h0M129.4 765.1h0M127.3 802.6h0M137.4 795.7h0M131.6 791.0h0M148.1 813.1h0M138.2 815.9h0M142.4 816.4h0M130.3 802.9h0M132.3 811.1h0M127.5 804.1h0M161.7 822.9h0M134.1 792.1h0M147.7 823.8h0M144.6 814.2h0M152.6 815.1h0M138.7 816.4h0M133.7 818.9h0M158.7 813.6h0M133.7 813.1h0M127.9 784.9h0M131.0 803.7h0" stroke="#5b8fc8" stroke-opacity="0.1" stroke-width="3.0" stroke-linecap="round" fill="none"/>
<path d="M78.74,717.44 C79.67,714.33 82.12,714.12 83.09,717.44 C84.07,720.75 85.00,733.19 84.59,737.34 C84.17,741.48 81.79,742.52 80.61,742.31 C79.43,742.11 77.81,740.24 77.50,736.09 C77.19,731.95 77.81,720.55 78.74,717.44Z" fill="#5a8fc6" fill-opacity="0.42" filter="url(#b25)"/>
<path d="M78.74,717.44 C79.67,714.33 82.12,714.12 83.09,717.44 C84.07,720.75 85.00,733.19 84.59,737.34 C84.17,741.48 81.79,742.52 80.61,742.31 C79.43,742.11 77.81,740.24 77.50,736.09 C77.19,731.95 77.81,720.55 78.74,717.44Z" fill="#5a8fc6" fill-opacity="0.42" filter="url(#b25)"/>
<path d="M71.90,744.80 C73.35,743.35 78.74,743.14 80.61,746.04 C82.47,748.95 83.72,759.31 83.09,762.21 C82.47,765.12 78.74,764.70 76.88,763.46 C75.01,762.21 72.73,757.86 71.90,754.75 C71.07,751.64 70.45,746.25 71.90,744.80Z" fill="#5a8fc6" fill-opacity="0.42" filter="url(#b25)"/>
<path d="M106.73,769.68 C107.14,766.77 111.70,767.60 114.19,768.43 C116.68,769.26 120.41,771.96 121.65,774.65 C122.90,777.35 123.31,782.74 121.65,784.60 C119.99,786.47 114.19,788.33 111.70,785.85 C109.21,783.36 106.31,772.58 106.73,769.68Z" fill="#5a8fc6" fill-opacity="0.42" filter="url(#b25)"/>
<path d="M117.92,804.50 C118.75,801.39 124.76,802.01 126.63,804.50 C128.49,806.99 129.94,816.32 129.11,819.43 C128.29,822.54 123.52,825.65 121.65,823.16 C119.79,820.67 117.09,807.61 117.92,804.50Z" fill="#5a8fc6" fill-opacity="0.42" filter="url(#b25)"/>
<path d="M82.4 728.7h0M84.4 724.5h0M80.2 732.7h0M82.5 720.0h0M80.4 724.4h0M81.3 724.0h0M77.9 733.9h0M79.2 733.6h0M81.1 726.3h0M79.3 724.0h0M85.7 726.4h0M80.4 729.2h0M82.4 734.2h0M82.8 726.2h0M82.2 737.5h0M82.0 730.3h0M80.7 725.2h0M82.3 727.6h0M81.7 725.2h0M83.8 722.9h0M81.6 728.2h0M82.2 733.0h0M77.8 731.0h0M80.5 726.3h0M78.9 731.5h0M82.9 733.1h0M77.0 721.1h0M79.3 732.8h0M82.4 725.3h0M81.3 721.4h0M78.5 724.7h0M81.5 727.4h0M79.6 732.6h0M81.6 719.4h0M80.3 725.3h0M78.3 718.2h0M79.0 717.7h0M81.7 717.6h0M78.0 761.7h0M76.1 751.9h0M75.2 751.3h0M74.3 751.2h0M73.7 754.0h0M79.4 748.3h0M79.1 760.1h0M81.2 755.1h0M74.1 751.9h0M77.7 747.5h0M71.7 749.5h0M79.4 760.1h0M75.8 746.7h0M80.0 758.2h0M73.1 747.9h0M78.8 751.3h0M77.1 746.9h0M75.3 753.5h0M78.9 757.1h0M81.9 759.5h0M75.3 750.1h0M77.5 752.3h0M72.8 753.0h0M82.7 759.2h0M76.6 759.4h0M117.6 778.7h0M116.3 770.2h0M115.7 777.4h0M112.9 777.0h0M118.7 773.8h0M113.8 775.7h0M118.2 782.9h0M113.4 780.1h0M109.5 773.8h0M113.8 769.3h0M112.2 783.2h0M117.0 773.5h0M122.0 781.5h0M121.0 779.8h0M120.4 772.5h0M111.4 772.7h0M108.2 776.2h0M115.1 779.7h0M112.6 777.5h0M116.5 785.0h0M120.2 776.4h0M116.1 784.3h0M118.6 774.9h0M114.4 786.1h0M121.9 809.9h0M127.6 806.7h0M122.6 803.9h0M120.1 810.2h0M120.9 805.1h0M125.4 818.2h0M123.8 812.6h0M121.6 814.2h0M125.7 812.1h0M124.3 804.2h0M122.4 805.4h0M125.3 811.4h0M125.8 809.1h0M123.6 804.5h0M125.6 818.5h0M130.2 816.7h0M124.9 820.8h0M119.6 814.3h0M124.6 807.8h0M119.7 807.4h0M122.4 813.1h0" stroke="#3a75b5" stroke-opacity="0.14" stroke-width="2.8" stroke-linecap="round" fill="none"/>
<path d="M78.12,737.34 C78.74,736.09 80.81,739.62 81.85,742.31 C82.89,745.01 83.51,750.19 84.34,753.51 C85.17,756.82 85.79,759.73 86.83,762.21 C87.86,764.70 89.31,766.36 90.56,768.43 C91.80,770.51 93.04,772.79 94.29,774.65 C95.53,776.52 97.19,780.46 98.02,779.63 C98.85,778.80 98.64,771.54 99.26,769.68 C99.89,767.81 101.13,767.19 101.75,768.43 C102.37,769.68 102.37,774.24 103.00,777.14 C103.62,780.04 104.65,783.77 105.48,785.85 C106.31,787.92 107.35,790.61 107.97,789.58 C108.59,788.54 108.59,781.08 109.21,779.63 C109.84,778.18 110.87,778.80 111.70,780.87 C112.53,782.94 113.36,789.16 114.19,792.06 C115.02,794.97 116.05,795.80 116.68,798.28 C117.30,800.77 118.13,804.92 117.92,806.99 C117.71,809.06 116.47,810.31 115.43,810.72 C114.40,811.14 112.74,808.44 111.70,809.48 C110.67,810.51 110.04,815.07 109.21,816.94 C108.38,818.81 107.56,821.09 106.73,820.67 C105.90,820.26 105.07,816.32 104.24,814.45 C103.41,812.59 102.79,811.14 101.75,809.48 C100.71,807.82 99.26,805.33 98.02,804.50 C96.78,803.67 95.53,805.33 94.29,804.50 C93.04,803.67 91.80,801.60 90.56,799.53 C89.31,797.45 87.76,794.97 86.83,792.06 C85.89,789.16 85.58,785.43 84.96,782.11 C84.34,778.80 83.82,775.90 83.09,772.16 C82.37,768.43 81.44,763.46 80.61,759.73 C79.78,756.00 78.53,753.51 78.12,749.78 C77.70,746.04 77.50,738.58 78.12,737.34Z" fill="#0c4f96" fill-opacity="0.95" filter="url(#b10)"/>
<path d="M83.09,759.73 C83.51,758.07 86.20,764.29 88.07,767.19 C89.94,770.09 92.01,773.82 94.29,777.14 C96.57,780.46 99.47,784.19 101.75,787.09 C104.03,789.99 105.90,792.48 107.97,794.55 C110.04,796.63 113.36,797.66 114.19,799.53 C115.02,801.39 114.40,805.12 112.95,805.75 C111.49,806.37 107.97,804.71 105.48,803.26 C103.00,801.81 100.30,799.32 98.02,797.04 C95.74,794.76 93.87,792.89 91.80,789.58 C89.73,786.26 87.03,782.11 85.58,777.14 C84.13,772.16 82.68,761.38 83.09,759.73Z" fill="#05397d" fill-opacity="0.9" filter="url(#b20)"/>
<path d="M58.84,752.81 C59.36,751.36 60.60,746.38 61.95,744.10 C63.30,741.82 65.27,739.54 66.93,739.13 C68.58,738.71 70.24,740.16 71.90,741.61 C73.56,743.06 75.22,745.34 76.88,747.83 C78.53,750.32 80.40,753.43 81.85,756.54 C83.30,759.65 84.34,763.59 85.58,766.49 C86.83,769.39 87.86,771.26 89.31,773.95 C90.76,776.65 92.63,779.96 94.29,782.66 C95.95,785.35 97.61,787.94 99.26,790.12 C100.92,792.30 102.58,794.23 104.24,795.72 C105.90,797.21 107.56,798.35 109.21,799.08 C110.87,799.80 112.53,800.01 114.19,800.07 C115.85,800.13 117.20,799.95 119.16,799.45 C121.13,798.94 122.79,798.27 126.00,797.04 C129.21,795.81 135.33,793.06 138.44,792.06 C141.55,791.07 142.58,791.07 144.66,791.07 C146.73,791.07 148.18,791.28 150.88,792.06 C153.57,792.85 157.72,794.45 160.83,795.80 C163.94,797.14 167.04,799.32 169.53,800.15 C172.02,800.98 173.89,801.29 175.75,800.77 C177.62,800.25 179.07,799.32 180.73,797.04 C182.38,794.76 184.25,790.82 185.70,787.09 C187.15,783.36 188.19,779.42 189.43,774.65 C190.68,769.88 192.13,763.87 193.16,758.48 C194.20,753.09 194.93,748.12 195.65,742.31 C196.38,736.51 197.00,729.05 197.52,723.66 C198.04,718.27 198.55,712.26 198.76,709.98 L198.76,845.92 C194.76,845.92 179.01,846.40 174.76,845.92 C170.51,845.44 173.93,845.40 173.26,843.06 C172.60,840.72 171.81,835.60 170.78,831.87 C169.74,828.13 168.70,823.99 167.04,820.67 C165.39,817.35 162.90,814.66 160.83,811.97 C158.75,809.27 156.89,806.68 154.61,804.50 C152.33,802.33 149.84,800.19 147.14,798.91 C144.45,797.62 141.96,796.89 138.44,796.79 C134.91,796.69 129.21,797.61 126.00,798.28 C122.79,798.96 121.13,800.32 119.16,800.85 C117.20,801.38 115.85,801.53 114.19,801.47 C112.53,801.41 110.87,801.20 109.21,800.48 C107.56,799.75 105.90,798.61 104.24,797.12 C102.58,795.63 100.92,793.70 99.26,791.52 C97.61,789.34 95.95,786.75 94.29,784.06 C92.63,781.36 90.76,778.05 89.31,775.35 C87.86,772.66 86.83,770.79 85.58,767.89 C84.34,764.99 83.30,761.05 81.85,757.94 C80.40,754.83 78.53,751.72 76.88,749.23 C75.22,746.74 73.56,744.46 71.90,743.01 C70.24,741.56 68.58,740.11 66.93,740.53 C65.27,740.94 63.30,743.22 61.95,745.50 C60.60,747.78 59.36,752.76 58.84,754.21Z" fill="#fdd7ac" fill-opacity="0.6"/>
<line x1="52.35" y1="785.50" x2="205.4" y2="785.50" stroke="#9a9a9a" stroke-width="1"/>
<path d="M58.84,753.51 C59.36,752.06 60.60,747.08 61.95,744.80 C63.30,742.52 65.27,740.24 66.93,739.83 C68.58,739.41 70.24,740.86 71.90,742.31 C73.56,743.76 75.22,746.04 76.88,748.53 C78.53,751.02 80.40,754.13 81.85,757.24 C83.30,760.35 84.34,764.29 85.58,767.19 C86.83,770.09 87.86,771.96 89.31,774.65 C90.76,777.35 92.63,780.66 94.29,783.36 C95.95,786.05 97.61,788.64 99.26,790.82 C100.92,793.00 102.58,794.93 104.24,796.42 C105.90,797.91 107.56,799.05 109.21,799.78 C110.87,800.50 112.53,800.71 114.19,800.77 C115.85,800.83 117.51,800.56 119.16,800.15 C120.82,799.73 123.00,798.70 124.14,798.28 C125.28,797.87 124.65,798.12 126.00,797.66 C127.35,797.21 130.15,796.11 132.22,795.55 C134.29,794.99 136.36,794.47 138.44,794.30 C140.51,794.14 142.58,794.10 144.66,794.55 C146.73,795.01 148.80,795.80 150.88,797.04 C152.95,798.28 155.02,800.15 157.09,802.01 C159.17,803.88 161.24,805.75 163.31,808.23 C165.39,810.72 167.46,814.25 169.53,816.94 C171.61,819.64 173.89,822.64 175.75,824.40 C177.62,826.17 179.07,827.31 180.73,827.51 C182.38,827.72 184.25,827.20 185.70,825.65 C187.15,824.09 188.19,821.71 189.43,818.18 C190.68,814.66 192.13,808.86 193.16,804.50 C194.20,800.15 194.93,795.80 195.65,792.06 C196.38,788.33 197.10,784.60 197.52,782.11 C197.93,779.63 198.04,777.97 198.14,777.14" fill="none" stroke="#f7901e" stroke-width="1.75" stroke-dasharray="4.2 1.9"/>
</g>
<rect x="99.00" y="706.80" width="103.10" height="41.10" rx="1" fill="#fff" fill-opacity="0.8" stroke="#dcdcdc" stroke-width="0.6"/>
<circle cx="106.20" cy="710.60" r="1.4" fill="#7593d2" stroke="#b5c5ea" stroke-width="0.5"/>
<rect x="100.60" y="716.50" width="10.8" height="3.4" fill="#fdd7ac" fill-opacity="0.8"/>
<line x1="100.60" y1="734.00" x2="111.40" y2="734.00" stroke="#f7901e" stroke-width="1.5" stroke-dasharray="4.2 1.9"/>
<text x="115.70" y="712.40" font-size="5.2" text-anchor="start" fill="#1a1a1a" >Sample</text>
<text x="115.70" y="720.00" font-size="5.2" text-anchor="start" fill="#1a1a1a" >95% Confidence interval</text>
<text x="115.70" y="727.30" font-size="5.2" text-anchor="start" fill="#1a1a1a" >Fitted curve (R-square: 0.76):</text>
<text x="115.70" y="735.80" font-size="5.2" text-anchor="start" fill="#1a1a1a" ><tspan dy="0" dx="0">y&#160;=&#160;0.00016X</tspan><tspan font-size="3.4" dy="-2.9" dx="0.2">5</tspan><tspan dy="2.9" dx="0.9">&#160;-0.0018X</tspan><tspan font-size="3.4" dy="-2.9" dx="0.2">4</tspan><tspan dy="2.9" dx="0.9">&#160;+0.0016X</tspan><tspan font-size="3.4" dy="-2.9" dx="0.2">3</tspan></text>
<text x="124.50" y="743.90" font-size="5.2" text-anchor="start" fill="#1a1a1a" ><tspan dy="0" dx="0">+0.03X</tspan><tspan font-size="3.4" dy="-2.9" dx="0.2">2</tspan><tspan dy="2.9" dx="0.9">&#160;-0.074X&#160;-0.033</tspan></text>
<path d="M78.35,880.80V880.16h1.45V880.80ZM79.80,880.80V879.71h1.45V880.80ZM81.25,880.80V879.26h1.45V880.80ZM82.70,880.80V878.82h1.45V880.80ZM84.15,880.80V877.78h1.45V880.80ZM85.60,880.80V876.26h1.45V880.80ZM87.05,880.80V873.78h1.45V880.80ZM88.50,880.80V871.25h1.45V880.80ZM89.95,880.80V868.61h1.45V880.80ZM91.40,880.80V861.97h1.45V880.80ZM92.85,880.80V853.62h1.45V880.80ZM94.30,880.80V849.13h1.45V880.80ZM95.75,880.80V848.13h1.45V880.80ZM97.20,880.80V852.10h1.45V880.80ZM98.65,880.80V858.87h1.45V880.80ZM100.10,880.80V863.78h1.45V880.80ZM101.55,880.80V868.07h1.45V880.80ZM103.00,880.80V870.92h1.45V880.80ZM104.45,880.80V872.86h1.45V880.80ZM105.90,880.80V874.12h1.45V880.80ZM107.35,880.80V875.31h1.45V880.80ZM108.80,880.80V876.70h1.45V880.80ZM110.25,880.80V877.61h1.45V880.80ZM111.70,880.80V878.29h1.45V880.80ZM113.15,880.80V878.79h1.45V880.80ZM114.60,880.80V879.17h1.45V880.80ZM116.05,880.80V879.54h1.45V880.80ZM117.50,880.80V879.88h1.45V880.80ZM118.95,880.80V880.21h1.45V880.80Z" fill="#808080" stroke="#2e2e2e" stroke-width="0.35"/>
<text x="48.35" y="710.82" font-size="7.9" text-anchor="end" fill="#1a1a1a" >0.4</text>
<text x="48.35" y="730.24" font-size="7.9" text-anchor="end" fill="#1a1a1a" >0.3</text>
<text x="48.35" y="749.66" font-size="7.9" text-anchor="end" fill="#1a1a1a" >0.2</text>
<text x="48.35" y="769.08" font-size="7.9" text-anchor="end" fill="#1a1a1a" >0.1</text>
<text x="48.35" y="788.50" font-size="7.9" text-anchor="end" fill="#1a1a1a" >0.0</text>
<text x="48.35" y="807.92" font-size="7.9" text-anchor="end" fill="#1a1a1a" >-0.1</text>
<text x="48.35" y="827.34" font-size="7.9" text-anchor="end" fill="#1a1a1a" >-0.2</text>
<text x="48.35" y="846.76" font-size="7.9" text-anchor="end" fill="#1a1a1a" >-0.3</text>
<text x="70.85" y="890.80" font-size="7.9" text-anchor="middle" fill="#1a1a1a" >-2.5</text>
<text x="99.75" y="890.80" font-size="7.9" text-anchor="middle" fill="#1a1a1a" >0.0</text>
<text x="128.65" y="890.80" font-size="7.9" text-anchor="middle" fill="#1a1a1a" >2.5</text>
<text x="157.55" y="890.80" font-size="7.9" text-anchor="middle" fill="#1a1a1a" >5.0</text>
<text x="186.45" y="890.80" font-size="7.9" text-anchor="middle" fill="#1a1a1a" >7.5</text>
<text class="k" x="128.88" y="902.10" font-size="12.2" text-anchor="middle" fill="#1a1a1a" >HIE (%)</text>
<text class="k" transform="translate(25.75,793.00) rotate(-90)" font-size="12" text-anchor="middle" fill="#1a1a1a">Effect on Male_Mig_R (%)</text>
<text class="k" transform="translate(45.45,864.00) rotate(-90)" font-size="11.7" text-anchor="middle" fill="#1a1a1a">Dist.</text>
<rect x="52.35" y="705.2" width="153.05" height="140.20" fill="none" stroke="#7a7a7a" stroke-width="1.2"/>
<rect x="52.35" y="845.4" width="153.05" height="35.40" fill="none" stroke="#7a7a7a" stroke-width="1.2"/>
<line x1="301.25" y1="705.2" x2="301.25" y2="880.8" stroke="#f3f3f3" stroke-width="0.7"/>
<line x1="332.50" y1="705.2" x2="332.50" y2="880.8" stroke="#f3f3f3" stroke-width="0.7"/>
<line x1="363.75" y1="705.2" x2="363.75" y2="880.8" stroke="#f3f3f3" stroke-width="0.7"/>
<line x1="395.00" y1="705.2" x2="395.00" y2="880.8" stroke="#f3f3f3" stroke-width="0.7"/>
<line x1="426.25" y1="705.2" x2="426.25" y2="880.8" stroke="#f3f3f3" stroke-width="0.7"/>
<line x1="280.5" y1="717.60" x2="433.9" y2="717.60" stroke="#f3f3f3" stroke-width="0.7"/>
<line x1="280.5" y1="751.50" x2="433.9" y2="751.50" stroke="#f3f3f3" stroke-width="0.7"/>
<line x1="280.5" y1="785.40" x2="433.9" y2="785.40" stroke="#f3f3f3" stroke-width="0.7"/>
<line x1="280.5" y1="819.30" x2="433.9" y2="819.30" stroke="#f3f3f3" stroke-width="0.7"/>
<line x1="280.5" y1="856.60" x2="433.9" y2="856.60" stroke="#f3f3f3" stroke-width="0.7"/>
<clipPath id="clip_dM"><rect x="280.5" y="705.2" width="153.40" height="140.20"/></clipPath>
<g clip-path="url(#clip_dM)">
<path d="M304.88,769.68 C306.95,767.60 318.97,768.85 323.53,769.68 C328.09,770.51 331.62,772.58 332.24,774.65 C332.86,776.72 330.79,780.87 327.26,782.11 C323.74,783.36 314.83,784.19 311.09,782.11 C307.36,780.04 302.80,771.75 304.88,769.68Z" fill="#bcd2ea" fill-opacity="0.26" filter="url(#b35)"/>
<path d="M330.74,745.44 C333.54,742.37 346.41,740.97 350.89,742.09 C355.36,743.20 357.60,748.52 357.60,752.16 C357.60,755.80 354.80,762.51 350.89,763.91 C346.97,765.31 337.45,763.63 334.10,760.55 C330.74,757.48 327.94,748.52 330.74,745.44Z" fill="#bcd2ea" fill-opacity="0.26" filter="url(#b35)"/>
<path d="M287.46,764.70 C290.36,761.38 298.24,760.97 304.88,759.73 C311.51,758.48 322.08,760.14 327.26,757.24 C332.45,754.34 330.52,747.91 335.97,742.31 C341.42,736.72 355.97,719.51 359.98,723.66 C363.98,727.80 363.98,759.52 359.98,767.19 C355.97,774.86 341.01,767.19 335.97,769.68 C330.93,772.16 332.86,779.21 329.75,782.11 C326.64,785.02 322.50,786.26 317.31,787.09 C312.13,787.92 303.63,788.33 298.66,787.09 C293.68,785.85 289.33,783.36 287.46,779.63 C285.60,775.90 284.56,768.02 287.46,764.70Z" fill="#bcd2ea" fill-opacity="0.26" filter="url(#b35)"/>
<path d="M354.00,723.66 C356.07,716.82 362.29,722.62 366.44,723.66 C370.58,724.69 372.66,730.91 378.88,729.88 C385.09,728.84 397.53,719.51 403.75,717.44 C409.97,715.36 413.29,711.22 416.19,717.44 C419.09,723.66 419.92,742.31 421.16,754.75 C422.41,767.19 422.62,779.63 423.65,792.06 C424.69,804.50 428.21,822.74 427.38,829.38 C426.55,836.01 420.96,838.08 418.68,831.87 C416.40,825.65 418.26,801.60 413.70,792.06 C409.14,782.53 398.15,775.90 391.31,774.65 C384.47,773.41 378.88,786.26 372.66,784.60 C366.44,782.94 357.11,774.86 354.00,764.70 C350.89,754.54 351.93,730.50 354.00,723.66Z" fill="#bcd2ea" fill-opacity="0.26" filter="url(#b35)"/>
<path d="M319.6 779.3h0M327.9 776.3h0M306.7 776.4h0M322.0 777.7h0M312.9 767.7h0M317.4 781.9h0M313.6 775.3h0M304.4 772.3h0M327.1 776.5h0M311.8 772.2h0M329.6 775.1h0M314.6 779.5h0M326.4 782.3h0M319.5 771.0h0M313.9 774.7h0M316.2 775.4h0M339.6 756.4h0M339.0 758.9h0M337.9 754.1h0M357.2 753.7h0M357.0 752.1h0M332.5 755.0h0M337.3 759.2h0M343.5 761.6h0M335.1 751.7h0M347.9 744.0h0M333.0 748.5h0M334.1 757.2h0M339.8 755.5h0M351.3 749.8h0M333.8 753.3h0M353.5 756.8h0M352.0 761.0h0M341.3 752.3h0M351.3 754.3h0M352.3 763.4h0M332.2 761.5h0M341.9 754.7h0M339.8 743.9h0M341.4 756.2h0M347.0 746.2h0M329.9 750.2h0M340.9 760.9h0M349.5 747.4h0M352.9 751.4h0M355.0 754.5h0M324.0 786.1h0M311.7 783.5h0M353.2 745.1h0M309.0 770.3h0M327.4 760.3h0M315.3 788.6h0M292.2 776.0h0M299.6 783.4h0M310.8 768.9h0M311.0 773.9h0M351.8 755.6h0M315.1 762.1h0M351.4 733.1h0M323.2 763.1h0M320.4 779.6h0M314.2 778.3h0M342.4 745.0h0M334.3 751.7h0M335.3 753.1h0M347.8 766.5h0M329.8 761.3h0M332.1 748.2h0M343.7 759.4h0M295.9 775.3h0M330.7 778.2h0M360.8 727.7h0M302.3 772.1h0M317.7 765.2h0M316.3 769.7h0M330.3 757.5h0M315.8 787.0h0M327.4 776.8h0M356.4 748.2h0M331.1 763.2h0M340.8 757.4h0M315.5 764.4h0M320.2 785.4h0M361.7 752.9h0M358.0 757.4h0M359.0 743.2h0M327.9 767.1h0M354.4 729.4h0M295.0 769.8h0M295.1 781.9h0M343.3 746.2h0M363.0 743.4h0M330.2 766.4h0M313.2 776.4h0M299.0 766.1h0M357.4 731.1h0M305.0 774.1h0M352.3 733.1h0M350.9 741.9h0M298.2 768.4h0M315.7 765.8h0M308.0 767.5h0M348.3 760.6h0M331.3 771.2h0M305.8 766.1h0M322.1 783.9h0M312.6 776.8h0M306.4 762.8h0M358.7 740.3h0M341.7 746.0h0M350.6 755.6h0M345.3 762.7h0M353.1 755.3h0M316.3 784.9h0M351.4 767.1h0M342.1 764.3h0M353.7 750.2h0M303.5 782.2h0M314.5 766.8h0M343.4 760.8h0M338.8 746.0h0M291.7 777.1h0M314.4 773.2h0M299.5 766.6h0M331.6 762.3h0M351.7 760.4h0M328.1 768.4h0M311.6 770.1h0M345.9 750.6h0M285.3 772.2h0M351.1 740.8h0M348.1 764.6h0M336.1 750.1h0M307.6 758.4h0M340.5 767.5h0M332.1 751.4h0M310.7 768.0h0M312.2 767.3h0M335.0 746.1h0M313.3 771.3h0M354.8 752.0h0M345.3 753.4h0M292.6 776.5h0M315.2 782.9h0M313.1 787.3h0M355.1 726.5h0M358.9 736.7h0M301.0 785.9h0M341.9 753.1h0M302.1 782.5h0M310.2 780.0h0M321.8 763.9h0M318.8 774.6h0M350.4 765.4h0M345.1 757.3h0M361.6 727.0h0M292.7 763.7h0M289.1 775.4h0M336.9 752.0h0M327.7 774.2h0M331.1 779.0h0M311.8 771.1h0M339.4 746.9h0M327.5 762.7h0M303.2 775.0h0M316.5 780.4h0M310.4 765.2h0M308.7 768.4h0M333.5 766.7h0M298.5 777.7h0M327.9 780.4h0M336.8 747.5h0M332.1 766.8h0M325.8 777.1h0M347.3 748.4h0M329.9 774.2h0M321.6 757.7h0M353.3 760.6h0M313.1 786.2h0M349.3 759.3h0M414.1 773.7h0M419.4 741.1h0M416.7 792.6h0M422.4 800.9h0M365.0 727.5h0M397.1 775.4h0M368.0 735.2h0M382.2 761.1h0M368.2 752.6h0M415.4 782.6h0M355.3 754.7h0M419.3 807.2h0M419.7 749.3h0M415.1 737.9h0M420.6 752.8h0M384.8 736.2h0M393.9 755.8h0M373.6 743.9h0M377.6 757.0h0M396.6 743.6h0M408.9 722.2h0M421.3 776.0h0M358.4 740.0h0M416.5 719.7h0M368.5 777.2h0M365.4 724.5h0M418.6 796.0h0M418.0 762.8h0M378.4 743.8h0M388.0 745.7h0M419.0 823.7h0M417.8 776.5h0M357.5 732.8h0M404.0 720.7h0M404.0 738.5h0M363.1 765.7h0M418.0 750.6h0M371.3 734.3h0M375.3 779.3h0M385.7 762.8h0M408.5 775.4h0M357.4 743.2h0M388.7 744.5h0M378.0 737.9h0M410.6 783.6h0M361.2 765.4h0M406.5 739.1h0M389.3 750.9h0M385.6 774.2h0M397.6 760.5h0M417.1 788.4h0M361.2 750.9h0M417.1 800.7h0M362.9 731.8h0M358.6 724.3h0M424.9 806.2h0M408.1 727.8h0M402.1 721.5h0M427.8 813.4h0M359.6 773.2h0M362.2 738.3h0M410.3 719.0h0M402.5 748.7h0M413.2 785.5h0M365.6 748.0h0M409.8 775.4h0M382.2 729.0h0M369.0 756.8h0M383.2 750.9h0M405.3 770.4h0M365.0 776.7h0M415.2 771.3h0M382.8 774.5h0M406.7 758.9h0M410.6 773.4h0M431.7 826.9h0M382.1 766.2h0M395.5 767.6h0M366.0 774.5h0M373.5 749.7h0M412.7 803.1h0M373.9 763.9h0M376.1 737.5h0M386.4 756.4h0M420.2 768.3h0M419.5 768.8h0M366.4 727.5h0M382.9 755.6h0M379.0 779.0h0M376.9 731.9h0M425.8 816.6h0M368.5 756.1h0M395.9 753.0h0M417.7 772.8h0M370.6 740.1h0M396.0 739.7h0M418.7 740.4h0M407.9 781.6h0M403.4 728.5h0M366.8 736.9h0M354.7 761.1h0M396.1 773.2h0M375.3 766.8h0M424.5 828.2h0M372.5 765.8h0M369.8 721.5h0M362.9 770.8h0M392.8 771.1h0M375.3 782.0h0M401.7 745.7h0M378.7 767.8h0M420.0 783.3h0M421.6 779.9h0M410.3 732.3h0M380.5 749.1h0M393.6 735.7h0M386.5 734.4h0M402.4 738.5h0M417.0 737.7h0M406.4 754.2h0M388.0 753.2h0M404.8 743.7h0M365.7 769.6h0M414.6 740.1h0M402.7 743.4h0M362.5 771.8h0M415.6 729.5h0M399.2 728.9h0M397.7 754.5h0M378.2 743.4h0M371.1 739.1h0M398.4 768.9h0M415.6 778.6h0M388.2 775.1h0M370.8 752.7h0M386.9 747.0h0M365.4 738.8h0M384.8 738.2h0M385.3 736.9h0M392.1 768.8h0M422.2 782.8h0M384.6 773.3h0M397.9 757.3h0M417.1 718.2h0M379.2 741.4h0M406.9 765.7h0M401.9 733.6h0M420.1 819.6h0M410.6 754.0h0M396.6 750.2h0M413.9 725.8h0M373.3 737.4h0M361.6 745.2h0M361.5 754.1h0M387.5 760.5h0M424.3 789.3h0M391.6 739.9h0M363.6 772.3h0M357.8 742.7h0M385.5 740.6h0M356.6 740.3h0M403.4 770.2h0M414.9 796.1h0M381.0 727.9h0M398.8 737.9h0M360.9 758.7h0M376.1 770.7h0M366.6 737.3h0M376.0 733.1h0M383.8 751.7h0M424.7 822.5h0M422.0 823.7h0M389.7 770.9h0M421.8 745.9h0M382.1 730.9h0M400.3 763.3h0M397.2 735.0h0M397.1 746.2h0M375.3 764.0h0M394.2 747.6h0M409.2 788.8h0M417.4 794.5h0M401.1 752.4h0M381.9 738.7h0M416.0 750.6h0M371.3 751.0h0M421.8 796.2h0M397.0 760.6h0M361.6 727.3h0M400.5 741.5h0M420.6 800.0h0M406.6 741.0h0M403.0 760.6h0M414.0 718.7h0M411.0 767.9h0M390.2 770.9h0M402.8 754.3h0M418.3 753.6h0M359.3 747.5h0M404.0 743.3h0M399.0 755.1h0M384.6 751.9h0M419.1 797.6h0M382.3 738.6h0M370.5 743.7h0M408.1 731.0h0M360.5 761.4h0M411.5 778.5h0M422.8 792.9h0M374.7 778.1h0M416.6 769.6h0M417.6 775.8h0M385.8 751.5h0M381.6 731.2h0M401.2 767.0h0M369.8 729.5h0M389.1 732.2h0M395.1 749.2h0M373.0 770.5h0M376.1 770.7h0M375.0 758.8h0M367.9 769.2h0M390.1 731.3h0M414.9 770.5h0M380.7 754.4h0M400.9 784.7h0M410.9 792.6h0M419.4 786.7h0M358.9 774.2h0M393.9 773.3h0M425.2 807.3h0M396.1 766.3h0M373.4 781.2h0M366.5 762.4h0M402.2 777.1h0M370.1 741.4h0M366.4 772.2h0M376.0 760.8h0M382.6 752.9h0M385.7 727.4h0M399.6 736.1h0M358.5 723.3h0M418.5 767.3h0M415.4 778.6h0M385.2 757.1h0M385.8 766.4h0M421.3 770.2h0M391.3 767.6h0M418.1 805.8h0M419.8 770.3h0M403.7 731.8h0M407.4 774.3h0M419.2 806.9h0M387.9 730.8h0M359.2 724.7h0M388.6 753.9h0M357.4 753.6h0M389.1 752.7h0M360.2 769.1h0M402.1 723.2h0M359.4 751.2h0M405.4 745.1h0M406.7 740.1h0M369.1 754.7h0M417.5 742.0h0M418.3 793.1h0M414.5 784.9h0M398.6 718.3h0M413.0 784.3h0M383.7 735.8h0M418.5 736.3h0M413.9 798.2h0M381.4 740.5h0M364.4 774.3h0M381.6 741.3h0" stroke="#5b8fc8" stroke-opacity="0.1" stroke-width="3.0" stroke-linecap="round" fill="none"/>
<path d="M352.57,725.30 C354.36,721.10 361.69,718.02 364.32,720.26 C366.95,722.50 368.35,733.97 368.35,738.73 C368.35,743.48 366.78,747.68 364.32,748.80 C361.86,749.92 355.53,749.36 353.57,745.44 C351.61,741.53 350.77,729.49 352.57,725.30Z" fill="#5a8fc6" fill-opacity="0.42" filter="url(#b25)"/>
<path d="M357.73,726.14 C358.77,723.86 363.74,724.28 365.19,726.14 C366.65,728.01 367.47,735.06 366.44,737.34 C365.40,739.62 360.43,741.69 358.98,739.83 C357.52,737.96 356.69,728.42 357.73,726.14Z" fill="#5a8fc6" fill-opacity="0.42" filter="url(#b25)"/>
<path d="M413.70,764.70 C414.32,761.38 417.85,761.38 418.68,764.70 C419.51,768.02 419.30,781.29 418.68,784.60 C418.05,787.92 415.77,787.92 414.95,784.60 C414.12,781.29 413.08,768.02 413.70,764.70Z" fill="#5a8fc6" fill-opacity="0.42" filter="url(#b25)"/>
<path d="M406.24,718.68 C407.69,715.36 414.53,714.54 416.19,717.44 C417.85,720.34 417.64,732.78 416.19,736.09 C414.74,739.41 409.14,740.24 407.48,737.34 C405.82,734.44 404.79,722.00 406.24,718.68Z" fill="#5a8fc6" fill-opacity="0.42" filter="url(#b25)"/>
<path d="M356.4 729.6h0M363.7 731.2h0M365.4 725.4h0M358.3 735.1h0M355.9 743.7h0M360.8 723.7h0M353.2 737.3h0M361.9 742.8h0M360.5 729.0h0M356.7 744.4h0M355.2 738.2h0M360.7 741.4h0M368.6 742.2h0M366.7 733.4h0M364.2 737.1h0M353.0 739.8h0M357.6 723.1h0M368.1 736.4h0M365.1 740.2h0M359.2 739.1h0M356.1 738.2h0M355.6 740.3h0M365.9 738.5h0M357.3 745.5h0M353.9 735.5h0M363.7 731.3h0M363.3 744.5h0M365.4 727.9h0M363.4 742.8h0M362.3 736.3h0M366.0 742.5h0M360.5 737.5h0M350.6 726.4h0M361.2 738.7h0M360.6 724.8h0M361.7 728.5h0M361.1 744.8h0M365.9 727.1h0M356.5 739.8h0M360.9 746.7h0M357.4 732.9h0M369.3 740.4h0M364.8 745.0h0M358.8 728.7h0M360.0 727.3h0M367.2 721.9h0M353.6 744.2h0M351.1 730.5h0M358.7 745.2h0M363.8 736.5h0M357.7 726.3h0M365.0 732.8h0M365.3 728.6h0M365.3 735.5h0M361.5 729.4h0M366.0 732.2h0M368.3 733.1h0M363.3 723.7h0M368.7 727.1h0M366.2 727.3h0M360.4 737.0h0M360.2 735.0h0M361.9 727.6h0M416.1 773.1h0M417.2 775.5h0M412.6 772.5h0M415.5 782.1h0M417.8 782.6h0M418.0 774.6h0M414.4 778.8h0M418.5 765.1h0M416.0 783.6h0M415.7 770.2h0M419.1 782.6h0M417.2 780.5h0M414.9 768.7h0M413.6 729.9h0M413.3 732.0h0M410.6 731.9h0M406.9 731.9h0M414.9 722.5h0M408.6 730.3h0M412.8 732.9h0M413.5 717.7h0M411.0 733.4h0M410.1 734.7h0M409.6 723.1h0M414.9 735.1h0M403.7 725.7h0M410.9 734.6h0M406.5 734.5h0M409.5 726.5h0M413.4 721.1h0M408.7 735.3h0M410.4 733.4h0M409.6 727.2h0M415.2 733.4h0M414.7 733.2h0M406.7 724.3h0M404.1 723.5h0M418.3 716.0h0M412.1 733.6h0" stroke="#3a75b5" stroke-opacity="0.14" stroke-width="2.8" stroke-linecap="round" fill="none"/>
<path d="M367.68,756.00 C368.51,753.09 370.79,749.57 372.66,747.29 C374.52,745.01 377.01,744.39 378.88,742.31 C380.74,740.24 382.40,735.68 383.85,734.85 C385.30,734.02 386.34,737.55 387.58,737.34 C388.83,737.13 390.07,733.19 391.31,733.61 C392.56,734.02 393.80,738.79 395.04,739.83 C396.29,740.86 397.33,740.45 398.78,739.83 C400.23,739.20 402.51,737.75 403.75,736.09 C405.00,734.44 405.62,732.57 406.24,729.88 C406.86,727.18 406.86,721.79 407.48,719.93 C408.10,718.06 409.14,717.02 409.97,718.68 C410.80,720.34 411.84,725.94 412.46,729.88 C413.08,733.81 413.49,738.17 413.70,742.31 C413.91,746.46 413.49,751.43 413.70,754.75 C413.91,758.07 415.15,759.31 414.95,762.21 C414.74,765.12 413.29,769.47 412.46,772.16 C411.63,774.86 410.80,777.97 409.97,778.38 C409.14,778.80 408.10,776.52 407.48,774.65 C406.86,772.79 407.07,768.85 406.24,767.19 C405.41,765.53 403.75,765.74 402.51,764.70 C401.26,763.67 400.02,760.97 398.78,760.97 C397.53,760.97 396.29,764.91 395.04,764.70 C393.80,764.49 392.56,760.97 391.31,759.73 C390.07,758.48 388.83,757.45 387.58,757.24 C386.34,757.03 385.30,758.07 383.85,758.48 C382.40,758.90 380.53,757.86 378.88,759.73 C377.22,761.59 374.94,766.57 373.90,769.68 C372.86,772.79 373.28,777.55 372.66,778.38 C372.03,779.21 371.00,776.93 370.17,774.65 C369.34,772.37 368.10,767.81 367.68,764.70 C367.27,761.59 366.85,758.90 367.68,756.00Z" fill="#0c4f96" fill-opacity="0.95" filter="url(#b10)"/>
<path d="M373.90,752.26 C374.32,750.61 378.88,746.04 381.36,744.80 C383.85,743.56 386.34,744.59 388.83,744.80 C391.31,745.01 393.80,746.04 396.29,746.04 C398.78,746.04 401.26,744.18 403.75,744.80 C406.24,745.42 409.76,747.29 411.21,749.78 C412.67,752.26 412.87,757.24 412.46,759.73 C412.04,762.21 410.38,764.91 408.73,764.70 C407.07,764.49 404.79,759.73 402.51,758.48 C400.23,757.24 397.53,758.07 395.04,757.24 C392.56,756.41 390.28,753.92 387.58,753.51 C384.89,753.09 381.16,754.96 378.88,754.75 C376.60,754.54 373.49,753.92 373.90,752.26Z" fill="#05397d" fill-opacity="0.9" filter="url(#b20)"/>
<line x1="280.5" y1="751.50" x2="433.9" y2="751.50" stroke="#9a9a9a" stroke-width="1"/>
<path d="M287.46,737.34 C287.77,739.20 288.60,744.59 289.33,748.53 C290.05,752.47 290.88,757.03 291.82,760.97 C292.75,764.91 293.79,768.85 294.93,772.16 C296.07,775.48 297.41,778.49 298.66,780.87 C299.90,783.25 301.14,785.33 302.39,786.47 C303.63,787.61 304.67,788.02 306.12,787.71 C307.57,787.40 309.23,786.16 311.09,784.60 C312.96,783.05 315.24,780.87 317.31,778.38 C319.39,775.90 321.46,772.58 323.53,769.68 C325.61,766.77 327.68,763.56 329.75,760.97 C331.82,758.38 333.90,755.89 335.97,754.13 C338.04,752.37 340.12,751.33 342.19,750.40 C344.26,749.47 346.33,748.88 348.41,748.53 C350.48,748.18 353.69,748.33 354.63,748.28 C355.56,748.24 353.07,748.03 354.00,748.28 C354.93,748.53 358.15,749.32 360.22,749.78 C362.29,750.23 364.36,750.65 366.44,751.02 C368.51,751.39 370.58,751.85 372.66,752.01 C374.73,752.18 376.80,752.18 378.88,752.01 C380.95,751.85 383.02,751.43 385.09,751.02 C387.17,750.61 389.24,749.98 391.31,749.53 C393.39,749.07 395.46,748.41 397.53,748.28 C399.61,748.16 401.89,748.12 403.75,748.78 C405.62,749.44 407.28,750.85 408.73,752.26 C410.18,753.67 411.21,754.96 412.46,757.24 C413.70,759.52 414.95,762.63 416.19,765.95 C417.43,769.26 418.88,773.62 419.92,777.14 C420.96,780.66 421.58,783.36 422.41,787.09 C423.24,790.82 424.07,793.83 424.90,799.53 C425.72,805.23 426.97,817.67 427.38,821.29" fill="none" stroke="#f7901e" stroke-width="1.75" stroke-dasharray="4.2 1.9"/>
</g>
<rect x="283.10" y="802.60" width="107.20" height="40.40" rx="1" fill="#fff" fill-opacity="0.8" stroke="#dcdcdc" stroke-width="0.6"/>
<circle cx="290.30" cy="806.40" r="1.4" fill="#7593d2" stroke="#b5c5ea" stroke-width="0.5"/>
<rect x="284.70" y="812.30" width="10.8" height="3.4" fill="#fdd7ac" fill-opacity="0.8"/>
<line x1="284.70" y1="829.80" x2="295.50" y2="829.80" stroke="#f7901e" stroke-width="1.5" stroke-dasharray="4.2 1.9"/>
<text x="299.80" y="808.20" font-size="5.2" text-anchor="start" fill="#1a1a1a" >Sample</text>
<text x="299.80" y="815.80" font-size="5.2" text-anchor="start" fill="#1a1a1a" >95% Confidence interval</text>
<text x="299.80" y="823.10" font-size="5.2" text-anchor="start" fill="#1a1a1a" >Fitted curve (R-square: 0.46):</text>
<text x="299.80" y="831.60" font-size="5.2" text-anchor="start" fill="#1a1a1a" ><tspan dy="0" dx="0">y&#160;=&#160;-6.8e-14X</tspan><tspan font-size="3.4" dy="-2.9" dx="0.2">5</tspan><tspan dy="2.9" dx="0.9">&#160;-7.8e-11X</tspan><tspan font-size="3.4" dy="-2.9" dx="0.2">4</tspan><tspan dy="2.9" dx="0.9">&#160;-2.5e-08X</tspan><tspan font-size="3.4" dy="-2.9" dx="0.2">3</tspan></text>
<text x="308.60" y="839.70" font-size="5.2" text-anchor="start" fill="#1a1a1a" ><tspan dy="0" dx="0">-1.5e-06X</tspan><tspan font-size="3.4" dy="-2.9" dx="0.2">2</tspan><tspan dy="2.9" dx="0.9">&#160;+0.00018X&#160;+0.013</tspan></text>
<path d="M349.50,880.80V880.46h1.95V880.80ZM351.45,880.80V880.38h1.95V880.80ZM353.40,880.80V880.29h1.95V880.80ZM355.35,880.80V880.20h1.95V880.80ZM357.30,880.80V880.11h1.95V880.80ZM359.25,880.80V880.02h1.95V880.80ZM361.20,880.80V879.81h1.95V880.80ZM363.15,880.80V879.55h1.95V880.80ZM365.10,880.80V879.30h1.95V880.80ZM367.05,880.80V879.04h1.95V880.80ZM369.00,880.80V878.78h1.95V880.80ZM370.95,880.80V878.30h1.95V880.80ZM372.90,880.80V877.82h1.95V880.80ZM374.85,880.80V877.34h1.95V880.80ZM376.80,880.80V876.68h1.95V880.80ZM378.75,880.80V876.00h1.95V880.80ZM380.70,880.80V874.71h1.95V880.80ZM382.65,880.80V872.91h1.95V880.80ZM384.60,880.80V871.28h1.95V880.80ZM386.55,880.80V870.01h1.95V880.80ZM388.50,880.80V867.19h1.95V880.80ZM390.45,880.80V864.84h1.95V880.80ZM392.40,880.80V861.48h1.95V880.80ZM394.35,880.80V856.49h1.95V880.80ZM396.30,880.80V852.95h1.95V880.80ZM398.25,880.80V849.80h1.95V880.80ZM400.20,880.80V848.60h1.95V880.80ZM402.15,880.80V848.89h1.95V880.80ZM404.10,880.80V850.36h1.95V880.80ZM406.05,880.80V855.75h1.95V880.80ZM408.00,880.80V861.60h1.95V880.80ZM409.95,880.80V869.26h1.95V880.80ZM411.90,880.80V874.45h1.95V880.80ZM413.85,880.80V878.16h1.95V880.80ZM415.80,880.80V880.06h1.95V880.80Z" fill="#808080" stroke="#2e2e2e" stroke-width="0.35"/>
<text x="276.50" y="721.00" font-size="7.9" text-anchor="end" fill="#1a1a1a" >0.2</text>
<text x="276.50" y="754.90" font-size="7.9" text-anchor="end" fill="#1a1a1a" >0.0</text>
<text x="276.50" y="788.80" font-size="7.9" text-anchor="end" fill="#1a1a1a" >-0.2</text>
<text x="276.50" y="822.70" font-size="7.9" text-anchor="end" fill="#1a1a1a" >-0.4</text>
<text x="301.25" y="890.80" font-size="7.9" text-anchor="middle" fill="#1a1a1a" >-600</text>
<text x="332.50" y="890.80" font-size="7.9" text-anchor="middle" fill="#1a1a1a" >-400</text>
<text x="363.75" y="890.80" font-size="7.9" text-anchor="middle" fill="#1a1a1a" >-200</text>
<text x="395.00" y="890.80" font-size="7.9" text-anchor="middle" fill="#1a1a1a" >0</text>
<text x="426.25" y="890.80" font-size="7.9" text-anchor="middle" fill="#1a1a1a" >200</text>
<text class="k" x="357.20" y="902.10" font-size="12.2" text-anchor="middle" fill="#1a1a1a" >HIE_D (%)</text>
<text class="k" transform="translate(253.90,793.00) rotate(-90)" font-size="12" text-anchor="middle" fill="#1a1a1a">Effect on Male_Mig_R (%)</text>
<text class="k" transform="translate(273.60,864.00) rotate(-90)" font-size="11.7" text-anchor="middle" fill="#1a1a1a">Dist.</text>
<rect x="280.5" y="705.2" width="153.40" height="140.20" fill="none" stroke="#7a7a7a" stroke-width="1.2"/>
<rect x="280.5" y="845.4" width="153.40" height="35.40" fill="none" stroke="#7a7a7a" stroke-width="1.2"/>
<line x1="551.10" y1="705.1" x2="551.10" y2="880.9" stroke="#f3f3f3" stroke-width="0.7"/>
<line x1="583.30" y1="705.1" x2="583.30" y2="880.9" stroke="#f3f3f3" stroke-width="0.7"/>
<line x1="615.50" y1="705.1" x2="615.50" y2="880.9" stroke="#f3f3f3" stroke-width="0.7"/>
<line x1="647.70" y1="705.1" x2="647.70" y2="880.9" stroke="#f3f3f3" stroke-width="0.7"/>
<line x1="532.6" y1="713.70" x2="662.4" y2="713.70" stroke="#f3f3f3" stroke-width="0.7"/>
<text x="530.40" y="711.90" font-size="8.0" text-anchor="end" fill="#1a1a1a" >Edu</text>
<text x="531.00" y="718.20" font-size="6.0" text-anchor="end" fill="#1a1a1a" >(15.90%)</text>
<line x1="532.6" y1="729.61" x2="662.4" y2="729.61" stroke="#f3f3f3" stroke-width="0.7"/>
<text x="530.40" y="727.81" font-size="8.0" text-anchor="end" fill="#1a1a1a" >GDP_PA</text>
<text x="531.00" y="734.11" font-size="6.0" text-anchor="end" fill="#1a1a1a" >(11.48%)</text>
<line x1="532.6" y1="745.52" x2="662.4" y2="745.52" stroke="#f3f3f3" stroke-width="0.7"/>
<text x="530.40" y="743.72" font-size="8.0" text-anchor="end" fill="#1a1a1a" >TEMP</text>
<text x="531.00" y="750.02" font-size="6.0" text-anchor="end" fill="#1a1a1a" >(11.44%)</text>
<line x1="532.6" y1="761.43" x2="662.4" y2="761.43" stroke="#f3f3f3" stroke-width="0.7"/>
<text x="530.40" y="759.63" font-size="8.0" text-anchor="end" fill="#1a1a1a" >DEM</text>
<text x="531.00" y="765.93" font-size="6.0" text-anchor="end" fill="#1a1a1a" >(10.01%)</text>
<line x1="532.6" y1="777.34" x2="662.4" y2="777.34" stroke="#f3f3f3" stroke-width="0.7"/>
<text x="530.40" y="775.54" font-size="8.0" text-anchor="end" fill="#1a1a1a" >HIE</text>
<text x="531.00" y="781.84" font-size="6.0" text-anchor="end" fill="#1a1a1a" >(8.69%)</text>
<line x1="532.6" y1="793.25" x2="662.4" y2="793.25" stroke="#f3f3f3" stroke-width="0.7"/>
<text x="530.40" y="791.45" font-size="8.0" text-anchor="end" fill="#1a1a1a" >Water_Dis</text>
<text x="531.00" y="797.75" font-size="6.0" text-anchor="end" fill="#1a1a1a" >(8.05%)</text>
<line x1="532.6" y1="809.16" x2="662.4" y2="809.16" stroke="#f3f3f3" stroke-width="0.7"/>
<text x="530.40" y="807.36" font-size="8.0" text-anchor="end" fill="#1a1a1a" >NTL_PA</text>
<text x="531.00" y="813.66" font-size="6.0" text-anchor="end" fill="#1a1a1a" >(7.74%)</text>
<line x1="532.6" y1="825.07" x2="662.4" y2="825.07" stroke="#f3f3f3" stroke-width="0.7"/>
<text x="530.40" y="823.27" font-size="8.0" text-anchor="end" fill="#1a1a1a" >Urban_R</text>
<text x="531.00" y="829.57" font-size="6.0" text-anchor="end" fill="#1a1a1a" >(7.73%)</text>
<line x1="532.6" y1="840.98" x2="662.4" y2="840.98" stroke="#f3f3f3" stroke-width="0.7"/>
<text x="530.40" y="839.18" font-size="8.0" text-anchor="end" fill="#1a1a1a" >PRCP</text>
<text x="531.00" y="845.48" font-size="6.0" text-anchor="end" fill="#1a1a1a" >(7.15%)</text>
<line x1="532.6" y1="856.89" x2="662.4" y2="856.89" stroke="#f3f3f3" stroke-width="0.7"/>
<text x="530.40" y="855.09" font-size="8.0" text-anchor="end" fill="#1a1a1a" >HIE_D</text>
<text x="531.00" y="861.39" font-size="6.0" text-anchor="end" fill="#1a1a1a" >(6.13%)</text>
<line x1="532.6" y1="872.80" x2="662.4" y2="872.80" stroke="#f3f3f3" stroke-width="0.7"/>
<text x="530.40" y="871.00" font-size="8.0" text-anchor="end" fill="#1a1a1a" >Rx5day</text>
<text x="531.00" y="877.30" font-size="6.0" text-anchor="end" fill="#1a1a1a" >(5.69%)</text>
<line x1="583.50" y1="705.1" x2="583.50" y2="880.9" stroke="#9a9a9a" stroke-width="1"/>
<path d="M580.0 712.7h0M573.5 714.5h0M582.8 712.5h0M579.0 712.3h0M578.1 712.3h0M571.3 714.7h0M577.7 712.2h0M581.7 713.8h0M582.4 716.3h0M575.8 713.8h0M582.5 713.7h0M577.4 713.5h0M571.7 712.3h0M574.5 714.2h0M584.0 744.9h0M585.7 743.4h0M585.3 745.0h0M587.7 743.0h0M588.1 748.2h0M585.2 746.3h0M583.9 745.0h0M583.2 744.6h0M588.3 745.3h0M581.4 746.9h0M586.7 747.5h0M577.6 761.3h0M578.3 761.5h0M593.4 761.6h0M594.5 761.1h0M589.1 760.9h0M575.9 760.8h0M581.3 763.4h0M588.7 760.4h0M588.6 760.4h0M591.2 761.5h0M578.7 760.0h0M587.7 780.3h0M576.9 775.5h0M584.1 778.7h0M594.7 777.2h0M587.0 776.9h0M587.9 778.6h0M592.3 776.3h0M579.9 777.9h0M592.2 776.8h0M582.2 777.1h0M586.6 775.3h0M580.0 779.0h0M582.8 778.7h0M592.9 774.3h0M566.2 808.1h0M567.7 807.1h0M563.1 808.9h0M568.7 808.6h0M567.6 808.4h0M562.1 809.3h0M568.9 806.8h0M557.7 809.2h0M590.1 809.6h0M586.2 809.1h0M581.2 811.4h0M593.5 805.9h0M582.3 807.6h0M585.8 809.0h0M582.6 810.9h0M595.7 810.8h0M592.5 807.9h0M589.2 809.9h0M593.9 810.0h0M586.7 808.9h0M589.1 809.0h0M590.7 809.7h0M592.9 807.0h0M588.7 810.9h0M573.4 842.4h0M573.0 840.2h0M581.7 840.9h0M570.6 841.2h0M587.0 840.7h0M580.1 844.0h0M571.5 841.9h0M585.5 840.9h0M583.4 842.7h0M578.7 840.6h0M570.9 839.9h0M582.1 838.5h0M583.7 840.0h0M581.9 844.0h0M574.2 842.2h0M582.3 843.0h0" stroke="#dcd6e2" stroke-width="2.3" stroke-linecap="round" stroke-opacity="0.85" fill="none"/>
<path d="M582.6 714.7h0M583.3 711.6h0M605.2 713.7h0M588.8 714.2h0M594.3 713.9h0M596.0 713.4h0M589.6 713.1h0M593.3 714.7h0M583.3 713.8h0M594.3 714.1h0M608.4 713.4h0M597.2 714.5h0M588.5 712.3h0M596.0 713.0h0M608.2 713.1h0M608.2 713.6h0M583.2 714.5h0M593.6 711.8h0M586.1 713.4h0M601.0 714.0h0M593.4 714.9h0M602.9 714.3h0M604.5 714.1h0M591.5 714.7h0M593.9 729.9h0M607.7 730.4h0M608.4 729.0h0M597.4 727.6h0M583.2 730.7h0M585.6 729.4h0M591.6 729.9h0M583.3 731.8h0M587.5 730.5h0M605.7 729.5h0M585.1 728.1h0M582.0 729.0h0M596.9 729.7h0M599.4 730.4h0M605.0 729.7h0M594.8 730.1h0M590.8 731.2h0M590.6 727.1h0M589.8 728.4h0M583.3 727.7h0M608.8 731.5h0M587.0 727.9h0M600.2 729.2h0M594.6 729.6h0M594.1 730.9h0M581.8 731.0h0M596.0 729.7h0M564.9 746.0h0M582.1 745.0h0M570.0 745.2h0M577.4 745.4h0M571.2 742.2h0M563.1 746.0h0M564.2 748.8h0M577.8 744.8h0M563.3 745.2h0M568.5 743.0h0M573.0 743.8h0M562.6 745.7h0M575.6 744.6h0M573.0 746.2h0M578.8 745.2h0M572.4 744.4h0M581.4 746.4h0M581.6 747.7h0M568.5 746.5h0M573.4 761.4h0M579.4 760.4h0M584.7 761.5h0M580.6 759.1h0M568.0 760.3h0M568.7 760.9h0M575.4 764.0h0M582.7 761.8h0M573.9 761.1h0M579.3 760.0h0M576.5 762.0h0M578.5 763.6h0M568.8 762.1h0M576.5 761.1h0M578.9 760.0h0M578.5 758.1h0M605.0 809.1h0M596.1 809.7h0M594.8 808.3h0M601.7 808.5h0M607.7 808.8h0M595.8 810.0h0M596.5 809.2h0M603.1 809.0h0M577.1 869.8h0M577.1 873.1h0M574.0 874.1h0M573.5 872.4h0M582.7 871.9h0M585.9 872.5h0M586.6 869.8h0M586.0 871.4h0M570.0 874.0h0M576.1 874.4h0M574.2 869.7h0M577.3 870.8h0M587.5 872.3h0M587.8 872.3h0M589.1 873.2h0M569.6 872.6h0M569.5 873.5h0M574.0 872.6h0M573.6 876.1h0M576.9 871.3h0M586.9 875.7h0M582.3 871.8h0M584.1 871.1h0M583.1 874.6h0M584.8 876.1h0M582.2 872.0h0M576.6 871.3h0" stroke="#93aef0" stroke-width="2.3" stroke-linecap="round" stroke-opacity="0.85" fill="none"/>
<path d="M578.6 776.7h0M572.6 777.2h0M563.4 777.0h0M576.6 777.1h0M570.9 777.3h0M578.4 780.6h0M562.9 778.4h0M572.6 777.5h0M567.5 778.0h0M567.9 777.7h0M570.5 777.3h0M562.4 775.2h0M576.0 777.7h0M564.8 777.4h0M578.9 809.9h0M579.2 809.2h0M574.4 809.3h0M576.9 811.4h0M583.4 809.7h0M575.7 808.8h0M568.8 808.9h0M565.8 808.3h0M581.9 807.8h0M578.0 809.0h0M566.1 807.1h0M567.3 812.5h0M579.8 808.6h0M575.0 810.2h0M579.0 827.4h0M580.5 824.3h0M580.9 825.5h0M581.8 823.0h0M572.8 826.9h0M581.0 823.8h0M579.6 824.1h0M573.4 824.6h0M571.3 822.7h0M579.4 824.2h0M576.7 823.9h0M570.3 826.3h0M577.2 823.8h0M579.6 826.4h0M570.9 825.7h0M569.6 821.8h0" stroke="#f5c887" stroke-width="2.3" stroke-linecap="round" stroke-opacity="0.85" fill="none"/>
<path d="M615.6 713.0h0M614.6 711.9h0M617.9 713.9h0M619.4 714.0h0M605.3 713.8h0M617.3 714.5h0M620.0 715.7h0M612.0 714.5h0M619.3 712.7h0M612.5 713.1h0M620.0 713.4h0M618.1 711.2h0M607.9 712.6h0M607.7 712.8h0M620.3 714.2h0M621.1 714.0h0M554.9 729.7h0M571.1 727.6h0M565.8 731.0h0M567.6 732.2h0M568.3 731.2h0M570.5 729.3h0M567.4 729.4h0M579.4 728.1h0M561.0 729.5h0M574.1 731.9h0M577.5 729.8h0M578.7 729.9h0M566.5 728.0h0M574.6 730.1h0M576.1 731.0h0M573.2 729.5h0M572.8 730.4h0M559.7 729.9h0M576.8 729.4h0M572.6 731.4h0M567.0 731.1h0M568.0 726.5h0M580.7 729.9h0M578.7 729.3h0M560.4 730.2h0M566.1 746.8h0M572.5 746.5h0M569.6 746.0h0M567.4 746.4h0M569.6 747.6h0M570.8 745.9h0M571.4 745.0h0M572.4 745.1h0M545.4 760.9h0M545.9 760.8h0M545.1 761.7h0M548.3 761.6h0M558.3 762.2h0M554.5 761.8h0M568.9 761.1h0M554.4 763.0h0M559.6 761.2h0M568.0 763.8h0M563.8 761.4h0M552.5 761.7h0M555.2 764.1h0M554.0 764.2h0M567.6 759.6h0M605.7 775.9h0M595.3 777.8h0M592.0 774.7h0M587.1 777.0h0M586.1 777.8h0M609.6 777.4h0M604.2 776.2h0M604.0 776.8h0M597.2 777.9h0M605.9 778.6h0M586.0 779.7h0M587.9 776.9h0M606.2 778.1h0M585.6 776.5h0M592.5 776.8h0M594.2 776.8h0M623.9 777.2h0M591.8 792.8h0M597.8 796.1h0M590.1 794.0h0M595.9 793.9h0M590.9 793.2h0M588.9 793.9h0M596.8 793.0h0M600.7 794.0h0M584.6 793.3h0M591.2 791.4h0M595.8 792.3h0M598.6 793.5h0M586.6 793.3h0M583.8 793.2h0M565.7 825.3h0M567.8 824.0h0M571.9 827.2h0M572.8 823.4h0M572.9 825.0h0M565.2 839.4h0M566.0 842.4h0M565.8 840.6h0M569.4 840.2h0M569.0 841.0h0M558.9 874.2h0M560.1 873.1h0M559.0 874.1h0M568.4 873.4h0M557.9 873.5h0M563.9 872.6h0M561.5 872.5h0M569.3 875.5h0" stroke="#3f65e2" stroke-width="2.3" stroke-linecap="round" stroke-opacity="0.85" fill="none"/>
<path d="M562.2 710.4h0M557.8 716.9h0M558.7 712.8h0M565.8 712.1h0M547.8 713.3h0M551.6 715.5h0M548.4 713.9h0M547.0 714.5h0M545.9 713.3h0M566.3 714.1h0M563.9 713.2h0M555.8 713.8h0M557.1 712.2h0M562.6 713.2h0M565.0 713.6h0M560.0 713.4h0M552.5 714.8h0M557.3 712.4h0M564.1 713.9h0M560.0 715.3h0M569.4 713.7h0M554.8 713.5h0M561.5 714.9h0M564.4 713.6h0M557.6 713.9h0M552.2 713.9h0M568.6 712.7h0M556.3 712.4h0M552.4 714.3h0M561.1 712.6h0M611.7 730.6h0M620.6 729.3h0M609.7 727.8h0M623.2 729.7h0M620.5 730.1h0M620.3 728.4h0M611.6 728.1h0M623.9 729.9h0M612.8 729.5h0M616.7 729.6h0M612.6 728.2h0M587.4 747.3h0M598.9 745.8h0M605.1 743.8h0M594.7 745.0h0M588.6 746.0h0M595.9 746.2h0M593.9 746.0h0M591.6 745.4h0M610.5 745.9h0M619.6 745.0h0M605.1 746.1h0M603.1 746.7h0M613.4 745.7h0M615.7 744.9h0M603.9 743.4h0M602.1 744.8h0M611.0 745.1h0M618.2 744.9h0M588.6 747.2h0M610.7 745.2h0M615.9 745.9h0M596.7 746.0h0M617.3 762.9h0M612.6 761.1h0M615.6 763.3h0M604.9 761.9h0M607.3 760.9h0M612.7 761.2h0M607.5 762.3h0M616.8 760.7h0M609.2 761.3h0M615.2 759.9h0M605.0 761.4h0M609.0 761.4h0M621.4 761.1h0M615.2 762.1h0M619.2 761.2h0M608.5 761.1h0M554.4 777.4h0M558.0 777.8h0M558.3 778.6h0M554.9 776.3h0M559.5 778.2h0M560.4 777.4h0M558.3 776.8h0M556.8 777.9h0M580.1 792.9h0M575.1 792.3h0M571.7 793.6h0M580.4 794.6h0M576.3 796.5h0M568.8 791.6h0M571.2 792.6h0M580.9 795.3h0M579.3 795.0h0M570.2 791.9h0M580.5 792.3h0M569.3 793.1h0M579.8 792.3h0M570.6 791.1h0M576.0 792.7h0M574.1 795.2h0M577.9 794.5h0M567.5 794.0h0M575.1 792.0h0M576.8 793.8h0M579.0 793.0h0M574.7 792.8h0M573.6 796.3h0M575.2 791.9h0M578.0 794.3h0M575.6 793.5h0M576.4 791.2h0M614.1 793.1h0M614.2 794.0h0M610.0 793.0h0M612.6 793.8h0M589.3 825.8h0M608.3 823.5h0M581.8 823.5h0M590.3 825.2h0M604.6 822.9h0M598.9 824.3h0M581.5 824.1h0M604.2 823.8h0M588.5 826.0h0M582.2 823.6h0M590.9 825.9h0M608.3 824.5h0M598.9 825.0h0M602.0 827.3h0M603.9 826.5h0M607.7 822.9h0M605.3 824.8h0M598.0 824.4h0M581.1 821.8h0M592.6 827.8h0M599.6 827.5h0M607.8 825.8h0M599.2 826.0h0M580.1 826.8h0M592.8 824.2h0M594.2 826.0h0M594.3 824.5h0M585.5 837.7h0M581.8 840.4h0M602.2 840.2h0M598.4 840.4h0M601.9 838.8h0M597.1 839.9h0M602.4 842.4h0M603.8 841.4h0M584.5 842.7h0M601.3 839.4h0M603.5 838.2h0M598.4 839.9h0M584.2 840.5h0M598.5 841.1h0M593.9 840.9h0M604.6 842.3h0M616.1 842.0h0M615.6 841.8h0M615.2 842.9h0M621.3 840.7h0M617.2 840.4h0M609.1 841.5h0M612.0 840.9h0M613.7 841.1h0M571.8 854.9h0M579.5 855.6h0M584.6 854.3h0M584.5 856.5h0M583.9 856.5h0M584.4 858.5h0M571.3 858.1h0M582.6 854.1h0M582.2 856.2h0M578.7 856.0h0M581.9 856.8h0M576.7 856.6h0M574.2 857.5h0M579.5 857.6h0M572.7 856.4h0M577.5 855.7h0M572.7 855.6h0M572.3 857.8h0M583.6 853.8h0M592.2 873.0h0M588.0 872.4h0M592.6 872.6h0M600.8 872.6h0M587.1 872.2h0M598.2 873.5h0M597.3 872.7h0M598.3 872.2h0" stroke="#f6981c" stroke-width="2.3" stroke-linecap="round" stroke-opacity="0.85" fill="none"/>
<path d="M554.7 713.3h0M562.9 715.9h0M553.0 717.0h0M564.6 713.6h0M554.4 716.0h0M636.4 744.9h0M630.7 745.9h0M636.9 746.2h0M642.3 746.2h0M629.7 745.4h0M631.0 745.5h0M641.2 745.4h0M605.4 823.9h0M603.1 824.2h0M602.9 826.7h0M613.1 825.1h0M601.3 826.2h0M608.0 825.4h0M608.9 826.3h0M632.2 825.2h0M555.4 857.2h0M603.9 855.6h0M603.7 856.8h0M602.8 856.8h0" stroke="#d2691e" stroke-width="2.3" stroke-linecap="round" stroke-opacity="0.85" fill="none"/>
<path d="M620.2 715.1h0M616.2 713.8h0M617.0 712.2h0M613.1 710.5h0M621.2 715.3h0M578.1 728.4h0M572.5 729.0h0M573.1 732.9h0M575.0 732.9h0M573.0 728.8h0M577.9 728.6h0M578.9 730.8h0M573.6 727.2h0M560.2 745.3h0M604.6 746.7h0M606.8 745.8h0M605.8 744.9h0M604.4 745.0h0M609.1 745.9h0M593.8 793.4h0M588.8 794.1h0M600.8 794.1h0M596.4 794.3h0M557.2 841.2h0M578.1 858.8h0M568.1 857.0h0M576.1 856.5h0M566.1 856.9h0M579.4 857.7h0M577.5 857.0h0M563.3 856.3h0M581.2 856.9h0M568.1 856.2h0M573.7 859.0h0M574.9 856.9h0M562.8 856.8h0M570.8 857.2h0M579.1 858.7h0M598.2 857.1h0M600.1 856.6h0M591.0 858.1h0M594.9 856.5h0M598.2 856.2h0M587.9 856.9h0M588.9 857.7h0M591.4 856.1h0" stroke="#1c1c9c" stroke-width="2.3" stroke-linecap="round" stroke-opacity="0.85" fill="none"/>
<text x="551.10" y="889.90" font-size="7.9" text-anchor="middle" fill="#1a1a1a" >-0.25</text>
<text x="583.30" y="889.90" font-size="7.9" text-anchor="middle" fill="#1a1a1a" >0.00</text>
<text x="615.50" y="889.90" font-size="7.9" text-anchor="middle" fill="#1a1a1a" >0.25</text>
<text x="647.70" y="889.90" font-size="7.9" text-anchor="middle" fill="#1a1a1a" >0.50</text>
<text class="k" x="597.50" y="901.70" font-size="12.0" text-anchor="middle" fill="#1a1a1a" >Effect on Male_Mig_R (%)</text>
<text class="k" transform="translate(483.10,793.80) rotate(-90)" font-size="12" text-anchor="middle" fill="#1a1a1a">Features importance</text>
<rect x="648.8" y="757.70" width="3.8" height="114.70" fill="url(#cbar)"/>
<line x1="647" y1="757.70" x2="648.8" y2="757.70" stroke="#555" stroke-width="0.6"/>
<text x="645.30" y="760.50" font-size="7.7" text-anchor="end" fill="#1a1a1a" >High</text>
<line x1="647" y1="815.05" x2="648.8" y2="815.05" stroke="#555" stroke-width="0.6"/>
<text x="645.30" y="817.85" font-size="7.7" text-anchor="end" fill="#1a1a1a" >Middle</text>
<line x1="647" y1="872.40" x2="648.8" y2="872.40" stroke="#555" stroke-width="0.6"/>
<text x="645.30" y="875.20" font-size="7.7" text-anchor="end" fill="#1a1a1a" >Low</text>
<text class="k" transform="translate(660.0,815.05) rotate(-90)" font-size="7.9" text-anchor="middle" fill="#1a1a1a">Feature value</text>
<rect x="532.6" y="705.1" width="129.80" height="175.80" fill="none" stroke="#7a7a7a" stroke-width="1.2"/>
<text class="k" x="676.60" y="698.90" font-size="21.9" text-anchor="end" fill="#1a1a1a" >d. Male</text>
<line x1="70.85" y1="933.5" x2="70.85" y2="1109.3" stroke="#f3f3f3" stroke-width="0.7"/>
<line x1="99.75" y1="933.5" x2="99.75" y2="1109.3" stroke="#f3f3f3" stroke-width="0.7"/>
<line x1="128.65" y1="933.5" x2="128.65" y2="1109.3" stroke="#f3f3f3" stroke-width="0.7"/>
<line x1="157.55" y1="933.5" x2="157.55" y2="1109.3" stroke="#f3f3f3" stroke-width="0.7"/>
<line x1="186.45" y1="933.5" x2="186.45" y2="1109.3" stroke="#f3f3f3" stroke-width="0.7"/>
<line x1="52.35" y1="941.92" x2="205.4" y2="941.92" stroke="#f3f3f3" stroke-width="0.7"/>
<line x1="52.35" y1="960.04" x2="205.4" y2="960.04" stroke="#f3f3f3" stroke-width="0.7"/>
<line x1="52.35" y1="978.16" x2="205.4" y2="978.16" stroke="#f3f3f3" stroke-width="0.7"/>
<line x1="52.35" y1="996.28" x2="205.4" y2="996.28" stroke="#f3f3f3" stroke-width="0.7"/>
<line x1="52.35" y1="1014.40" x2="205.4" y2="1014.40" stroke="#f3f3f3" stroke-width="0.7"/>
<line x1="52.35" y1="1032.52" x2="205.4" y2="1032.52" stroke="#f3f3f3" stroke-width="0.7"/>
<line x1="52.35" y1="1050.64" x2="205.4" y2="1050.64" stroke="#f3f3f3" stroke-width="0.7"/>
<line x1="52.35" y1="1068.76" x2="205.4" y2="1068.76" stroke="#f3f3f3" stroke-width="0.7"/>
<line x1="52.35" y1="1091.90" x2="205.4" y2="1091.90" stroke="#f3f3f3" stroke-width="0.7"/>
<clipPath id="clip_eL"><rect x="52.35" y="933.5" width="153.05" height="141.00"/></clipPath>
<g clip-path="url(#clip_eL)">
<path d="M157.09,1037.48 C158.75,1035.20 165.39,1037.06 169.53,1037.48 C173.68,1037.89 177.10,1039.14 181.97,1039.97 C186.84,1040.79 195.96,1039.55 198.76,1042.45 C201.56,1045.35 201.56,1053.85 198.76,1057.38 C195.96,1060.90 187.26,1062.98 181.97,1063.60 C176.68,1064.22 170.78,1063.18 167.04,1061.11 C163.31,1059.04 161.24,1055.10 159.58,1051.16 C157.92,1047.22 155.44,1039.76 157.09,1037.48Z" fill="#d0d3da" fill-opacity="0.6" filter="url(#b25)"/>
<path d="M186.4 1050.6h0M180.8 1041.3h0M171.1 1039.9h0M168.4 1051.0h0M163.8 1043.5h0M176.8 1045.8h0M180.2 1053.4h0M164.2 1040.4h0M186.4 1059.0h0M172.0 1053.2h0M190.6 1048.0h0M192.0 1050.5h0M192.4 1054.7h0M168.8 1048.6h0M197.6 1056.8h0M187.6 1047.2h0M163.6 1039.2h0M181.9 1043.1h0M171.7 1048.6h0M164.3 1047.5h0M178.3 1060.8h0M188.3 1057.9h0M164.4 1058.7h0M167.7 1050.9h0M191.6 1054.2h0M190.8 1047.8h0M180.1 1045.2h0M170.5 1060.5h0M182.5 1051.9h0M170.0 1038.9h0M164.3 1039.2h0M184.7 1046.4h0M158.6 1043.5h0M166.5 1046.7h0M177.0 1042.0h0M158.4 1036.4h0M172.4 1050.2h0M169.2 1056.6h0M168.2 1047.6h0M177.0 1057.2h0M184.3 1056.9h0M166.6 1053.0h0M175.2 1052.0h0M171.4 1045.7h0M183.6 1050.7h0M190.1 1047.2h0M167.2 1039.5h0M167.4 1060.4h0M180.7 1046.4h0M172.0 1057.8h0M196.2 1050.0h0M193.1 1042.7h0M180.5 1050.5h0M172.5 1061.6h0M198.5 1043.2h0M179.7 1066.4h0M190.9 1053.6h0M172.4 1044.0h0M175.4 1054.2h0M170.5 1059.8h0M166.5 1062.0h0M182.4 1048.3h0M176.4 1048.3h0" stroke="#9aa0ac" stroke-opacity="0.15" stroke-width="3.0" stroke-linecap="round" fill="none"/>
<path d="M59.46,967.83 C60.71,960.99 63.61,954.35 66.93,951.66 C70.24,948.96 75.63,948.55 79.36,951.66 C83.09,954.77 86.62,963.06 89.31,970.31 C92.01,977.57 91.39,991.46 95.53,995.19 C99.68,998.92 108.12,990.63 114.19,992.70 C120.26,994.77 129.01,998.92 131.98,1007.63 C134.94,1016.33 134.94,1038.72 131.98,1044.94 C129.01,1051.16 120.26,1045.35 114.19,1044.94 C108.12,1044.53 100.71,1044.53 95.53,1042.45 C90.35,1040.38 86.62,1037.48 83.09,1032.50 C79.57,1027.53 78.33,1019.24 74.39,1012.60 C70.45,1005.97 61.95,1000.16 59.46,992.70 C56.98,985.24 58.22,974.67 59.46,967.83Z" fill="#bcd2ea" fill-opacity="0.26" filter="url(#b35)"/>
<path d="M126.00,1020.06 C128.07,1017.16 135.12,1023.38 138.44,1027.53 C141.75,1031.67 144.86,1039.97 145.90,1044.94 C146.94,1049.92 146.94,1055.72 144.66,1057.38 C142.38,1059.04 135.33,1056.96 132.22,1054.89 C129.11,1052.82 127.04,1050.74 126.00,1044.94 C124.96,1039.14 123.93,1022.97 126.00,1020.06Z" fill="#bcd2ea" fill-opacity="0.26" filter="url(#b35)"/>
<path d="M95.7 992.0h0M118.8 1033.7h0M67.1 993.8h0M129.2 1036.8h0M121.8 1031.5h0M77.2 1009.1h0M121.7 1039.1h0M124.5 1000.3h0M100.5 1001.8h0M99.4 997.6h0M58.0 971.6h0M79.1 964.8h0M69.2 973.0h0M87.4 1008.9h0M115.6 1035.6h0M107.5 1021.0h0M123.3 1002.0h0M93.6 1018.6h0M106.0 1032.5h0M127.8 1034.7h0M107.2 1010.4h0M123.1 1037.9h0M80.7 984.7h0M128.4 1006.8h0M84.5 994.2h0M89.5 1034.4h0M121.5 1034.5h0M80.8 968.4h0M107.7 1025.4h0M117.4 1019.7h0M123.8 1040.0h0M86.2 989.5h0M127.8 1019.4h0M97.3 1015.8h0M108.9 1003.7h0M131.4 1041.5h0M113.3 1041.1h0M93.0 1040.7h0M104.3 1014.5h0M87.0 1004.8h0M84.9 1027.2h0M85.3 995.8h0M87.5 1014.6h0M66.7 960.9h0M83.4 972.2h0M75.9 998.5h0M74.1 1001.3h0M88.9 987.5h0M73.9 1006.1h0M97.2 1015.6h0M109.0 1007.1h0M86.1 1021.3h0M85.1 964.1h0M80.0 953.2h0M90.2 1027.7h0M89.9 1034.2h0M100.5 1000.8h0M95.4 1003.4h0M87.3 966.0h0M94.8 1003.8h0M64.1 983.9h0M105.8 1013.7h0M78.0 977.1h0M93.6 991.8h0M113.3 1004.8h0M93.7 1032.6h0M69.5 960.3h0M106.9 999.1h0M68.3 989.7h0M103.8 1017.6h0M78.5 992.2h0M130.7 1034.4h0M62.6 985.6h0M91.2 982.9h0M117.5 1032.3h0M96.1 994.0h0M90.6 988.0h0M96.7 1026.9h0M128.9 1036.6h0M75.7 962.2h0M103.5 1007.1h0M127.5 1012.9h0M81.0 968.6h0M91.7 986.9h0M90.4 1019.1h0M128.2 1026.5h0M111.5 1017.6h0M91.4 972.5h0M69.3 955.9h0M112.4 1027.4h0M100.3 1023.3h0M84.9 982.8h0M73.1 961.7h0M70.3 984.4h0M88.3 1020.8h0M71.1 981.1h0M90.6 1027.1h0M83.4 1032.1h0M67.7 984.8h0M121.1 1033.2h0M118.9 1023.6h0M86.7 1034.1h0M75.2 994.2h0M58.8 989.3h0M87.1 987.9h0M91.0 1011.0h0M84.7 1010.5h0M90.2 1017.0h0M82.7 1028.3h0M84.4 988.8h0M119.4 1036.6h0M87.0 1035.4h0M97.1 1004.7h0M94.7 1008.1h0M109.0 1019.3h0M59.0 978.3h0M61.6 975.8h0M60.1 977.3h0M77.7 971.9h0M70.6 989.3h0M127.9 1010.7h0M76.1 994.7h0M75.4 992.9h0M82.8 1000.0h0M83.9 1003.3h0M75.6 975.3h0M59.5 960.6h0M103.9 1006.9h0M72.9 1000.2h0M68.8 972.2h0M77.0 994.7h0M88.8 1019.3h0M79.4 997.8h0M84.4 974.7h0M108.6 1037.9h0M103.2 1033.5h0M59.3 977.9h0M110.6 999.9h0M97.3 1035.0h0M97.0 1027.1h0M80.1 998.7h0M76.4 982.6h0M90.4 1016.8h0M84.7 1016.5h0M71.7 966.7h0M121.0 1031.7h0M91.1 1024.5h0M97.9 1034.4h0M89.4 1020.8h0M126.6 1012.9h0M85.7 1020.5h0M84.1 1022.4h0M71.3 972.6h0M96.6 1028.1h0M83.8 972.0h0M93.1 1025.7h0M98.7 1037.3h0M79.3 1017.5h0M68.9 965.0h0M111.1 1009.1h0M80.1 966.0h0M95.9 1027.1h0M80.0 984.3h0M125.3 1030.4h0M113.8 1002.0h0M77.1 988.2h0M118.5 1025.0h0M120.2 1012.8h0M100.2 1001.5h0M88.3 998.6h0M82.7 954.6h0M106.3 1022.6h0M76.7 1020.2h0M69.2 1004.9h0M78.1 1022.7h0M62.8 990.6h0M90.5 1032.4h0M112.9 993.6h0M100.4 1030.2h0M89.7 1027.9h0M107.3 995.8h0M115.1 1032.6h0M74.0 1008.1h0M63.8 961.3h0M101.7 998.5h0M109.3 995.2h0M65.8 977.5h0M116.7 1019.9h0M64.2 963.1h0M101.7 1039.7h0M89.6 1008.5h0M127.8 1031.3h0M74.3 1015.3h0M122.4 1046.4h0M113.6 1003.4h0M125.0 1028.0h0M72.3 1012.3h0M83.0 961.5h0M84.2 991.4h0M125.8 1021.9h0M93.1 996.1h0M130.9 1022.6h0M94.9 1007.8h0M121.0 1001.6h0M71.6 969.9h0M82.1 1024.0h0M85.2 1001.7h0M76.8 962.4h0M86.7 1038.3h0M69.5 985.0h0M99.8 1038.5h0M113.2 1006.6h0M105.5 1008.8h0M93.4 994.1h0M81.9 971.5h0M69.5 990.6h0M68.9 999.2h0M77.5 1000.8h0M118.0 1004.5h0M105.4 1040.8h0M130.3 1032.2h0M122.1 1025.5h0M76.6 975.4h0M108.9 1018.9h0M81.1 980.1h0M127.9 1006.0h0M77.8 1018.6h0M110.2 993.5h0M89.4 1026.8h0M58.2 984.8h0M124.7 1025.7h0M113.7 1007.1h0M104.5 1033.9h0M66.8 1000.6h0M141.6 1038.3h0M136.9 1025.9h0M135.2 1026.6h0M137.4 1037.4h0M138.7 1037.6h0M129.4 1044.2h0M138.7 1054.8h0M144.2 1031.7h0M144.7 1046.0h0M128.6 1028.6h0M135.7 1037.9h0M132.5 1032.4h0M142.4 1037.8h0M144.4 1051.4h0M140.4 1047.6h0M128.8 1030.9h0M141.0 1052.1h0M143.2 1048.9h0M146.1 1040.9h0M138.9 1054.0h0M142.8 1042.4h0M141.9 1040.3h0M123.6 1028.7h0M142.5 1050.7h0M134.8 1045.4h0M142.3 1034.4h0M133.0 1025.8h0M136.2 1040.6h0M137.9 1036.4h0M134.5 1047.5h0M129.6 1027.0h0" stroke="#5b8fc8" stroke-opacity="0.1" stroke-width="3.0" stroke-linecap="round" fill="none"/>
<path d="M70.66,952.90 C71.49,950.83 75.22,951.66 76.88,955.39 C78.53,959.12 80.61,971.56 80.61,975.29 C80.61,979.02 78.33,979.02 76.88,977.78 C75.42,976.53 72.94,971.97 71.90,967.83 C70.86,963.68 69.83,954.97 70.66,952.90Z" fill="#5a8fc6" fill-opacity="0.42" filter="url(#b25)"/>
<path d="M114.19,1020.06 C115.23,1016.75 120.20,1016.75 121.65,1020.06 C123.10,1023.38 123.93,1036.65 122.90,1039.97 C121.86,1043.28 116.88,1043.28 115.43,1039.97 C113.98,1036.65 113.15,1023.38 114.19,1020.06Z" fill="#5a8fc6" fill-opacity="0.42" filter="url(#b25)"/>
<path d="M114.19,1020.06 C115.23,1016.75 120.20,1016.75 121.65,1020.06 C123.10,1023.38 123.93,1036.65 122.90,1039.97 C121.86,1043.28 116.88,1043.28 115.43,1039.97 C113.98,1036.65 113.15,1023.38 114.19,1020.06Z" fill="#5a8fc6" fill-opacity="0.42" filter="url(#b25)"/>
<path d="M65.49,946.49 C67.36,943.87 73.36,947.24 76.73,950.99 C80.10,954.73 84.60,962.23 85.72,968.97 C86.85,975.72 85.35,988.46 83.47,991.45 C81.60,994.45 77.48,991.08 74.48,986.96 C71.48,982.84 66.99,973.47 65.49,966.72 C63.99,959.98 63.62,949.11 65.49,946.49Z" fill="#5a8fc6" fill-opacity="0.42" filter="url(#b25)"/>
<path d="M125.07,1022.93 C125.82,1020.68 129.56,1020.68 130.69,1022.93 C131.81,1025.18 132.56,1034.17 131.81,1036.42 C131.06,1038.67 127.31,1038.67 126.19,1036.42 C125.07,1034.17 124.32,1025.18 125.07,1022.93Z" fill="#5a8fc6" fill-opacity="0.42" filter="url(#b25)"/>
<path d="M120.41,992.70 C121.34,991.04 125.59,991.04 126.63,992.70 C127.66,994.36 127.56,1000.99 126.63,1002.65 C125.69,1004.31 122.07,1004.31 121.03,1002.65 C119.99,1000.99 119.48,994.36 120.41,992.70Z" fill="#5a8fc6" fill-opacity="0.42" filter="url(#b25)"/>
<path d="M126.63,1025.04 C127.52,1023.17 131.08,1023.17 131.98,1025.04 C132.87,1026.91 132.87,1034.37 131.98,1036.23 C131.08,1038.10 127.52,1038.10 126.63,1036.23 C125.74,1034.37 125.74,1026.91 126.63,1025.04Z" fill="#5a8fc6" fill-opacity="0.42" filter="url(#b25)"/>
<path d="M71.9 965.8h0M73.1 965.2h0M76.4 967.6h0M78.4 962.9h0M70.7 963.3h0M72.7 965.9h0M76.9 963.4h0M80.1 973.7h0M75.9 960.0h0M76.4 976.8h0M81.1 970.8h0M80.5 976.3h0M79.2 970.9h0M71.3 964.6h0M76.3 966.7h0M72.0 954.9h0M79.1 969.3h0M75.6 971.7h0M74.0 964.8h0M80.0 972.9h0M75.0 963.1h0M78.8 973.5h0M76.7 962.8h0M116.6 1031.0h0M119.9 1036.3h0M119.2 1037.3h0M112.2 1037.4h0M122.7 1028.2h0M121.3 1039.0h0M121.5 1033.7h0M116.9 1027.3h0M117.6 1021.6h0M119.3 1036.7h0M117.2 1021.5h0M116.6 1026.7h0M119.5 1031.1h0M117.9 1025.5h0M115.8 1025.7h0M120.1 1026.5h0M116.5 1025.9h0M117.7 1033.9h0M118.0 1028.8h0M118.9 1037.0h0M114.7 1027.5h0M114.3 1030.9h0M121.7 1029.9h0M118.1 1025.7h0M120.9 1035.8h0M117.8 1023.3h0M120.9 1033.2h0M122.1 1020.7h0M114.7 1032.2h0M118.5 1033.0h0M120.1 1033.9h0M116.9 1027.9h0M119.9 1025.1h0M119.4 1036.4h0M114.2 1025.3h0M116.3 1026.0h0M115.5 1020.1h0M117.6 1019.9h0M121.0 1029.9h0M119.2 1029.9h0M113.7 1021.7h0M82.3 970.8h0M80.5 963.5h0M72.4 965.1h0M67.2 957.2h0M81.1 991.9h0M80.3 974.0h0M75.1 976.9h0M83.0 975.2h0M83.6 990.1h0M76.5 982.8h0M82.3 967.4h0M76.2 964.4h0M78.8 964.4h0M78.1 983.8h0M68.0 955.9h0M68.7 968.5h0M65.1 952.0h0M71.2 956.6h0M66.5 964.9h0M69.8 950.5h0M74.1 972.5h0M70.1 954.1h0M78.1 985.8h0M71.1 953.0h0M79.5 968.0h0M76.1 970.2h0M81.9 968.4h0M71.2 975.5h0M79.7 977.3h0M77.4 975.9h0M80.9 984.1h0M69.1 962.2h0M86.2 978.2h0M67.8 966.8h0M70.9 956.1h0M72.2 982.5h0M74.5 977.8h0M70.1 965.1h0M72.8 952.6h0M72.2 955.8h0M70.6 965.6h0M69.9 971.9h0M77.5 977.9h0M75.5 984.6h0M74.1 981.3h0M79.9 966.0h0M78.9 988.6h0M71.6 976.9h0M68.0 961.7h0M72.7 949.8h0M79.0 985.5h0M83.1 990.1h0M72.4 970.0h0M69.4 966.5h0M78.6 980.2h0M73.7 960.2h0M79.6 985.4h0M75.7 974.1h0M75.9 978.2h0M70.1 947.8h0M75.0 958.7h0M81.3 965.6h0M74.2 954.7h0M76.3 971.0h0M82.9 969.6h0M82.9 967.7h0M71.3 959.2h0M77.2 973.7h0M77.4 969.9h0M67.0 964.2h0M70.7 962.7h0M69.0 949.9h0M66.4 956.7h0M85.3 969.2h0M83.2 971.2h0M69.6 956.8h0M74.3 958.6h0M83.7 975.3h0M129.1 1023.3h0M129.8 1032.6h0M127.0 1027.6h0M126.7 1031.4h0M127.2 1035.7h0M131.5 1037.2h0M126.4 1026.5h0M125.0 1028.6h0M131.2 1023.3h0M124.4 999.6h0M127.0 998.6h0M123.6 998.9h0M124.7 1000.8h0M122.1 1003.1h0M124.7 1002.6h0M127.9 994.1h0M128.3 999.0h0M120.2 997.2h0M131.8 1027.9h0M131.6 1035.6h0M128.8 1029.9h0M133.1 1026.9h0M131.0 1028.9h0M130.4 1032.7h0M128.2 1037.1h0M125.8 1036.5h0" stroke="#3a75b5" stroke-opacity="0.14" stroke-width="2.8" stroke-linecap="round" fill="none"/>
<path d="M79.36,974.04 C79.99,972.39 82.06,975.91 83.09,975.29 C84.13,974.67 84.75,970.52 85.58,970.31 C86.41,970.11 87.45,970.73 88.07,974.04 C88.69,977.36 88.48,986.28 89.31,990.21 C90.14,994.15 92.01,995.19 93.04,997.68 C94.08,1000.16 94.70,1004.31 95.53,1005.14 C96.36,1005.97 96.98,1003.07 98.02,1002.65 C99.06,1002.24 100.09,1002.86 101.75,1002.65 C103.41,1002.44 106.31,1002.03 107.97,1001.41 C109.63,1000.79 110.67,999.54 111.70,998.92 C112.74,998.30 113.36,997.05 114.19,997.68 C115.02,998.30 116.26,999.75 116.68,1002.65 C117.09,1005.55 117.30,1012.19 116.68,1015.09 C116.05,1017.99 113.98,1017.99 112.95,1020.06 C111.91,1022.14 111.29,1026.70 110.46,1027.53 C109.63,1028.36 109.01,1025.66 107.97,1025.04 C106.93,1024.42 105.69,1023.80 104.24,1023.80 C102.79,1023.80 100.71,1024.21 99.26,1025.04 C97.81,1025.87 96.98,1027.73 95.53,1028.77 C94.08,1029.81 91.80,1031.47 90.56,1031.26 C89.31,1031.05 88.69,1029.39 88.07,1027.53 C87.45,1025.66 87.45,1022.55 86.83,1020.06 C86.20,1017.58 85.17,1014.67 84.34,1012.60 C83.51,1010.53 82.89,1009.29 81.85,1007.63 C80.81,1005.97 78.95,1004.72 78.12,1002.65 C77.29,1000.58 76.67,998.09 76.88,995.19 C77.08,992.29 78.95,988.76 79.36,985.24 C79.78,981.71 78.74,975.70 79.36,974.04Z" fill="#0c4f96" fill-opacity="0.95" filter="url(#b10)"/>
<path d="M84.34,997.68 C84.34,998.51 87.45,1002.65 89.31,1005.14 C91.18,1007.63 93.46,1010.53 95.53,1012.60 C97.61,1014.67 99.68,1016.54 101.75,1017.58 C103.82,1018.61 105.90,1019.24 107.97,1018.82 C110.04,1018.41 113.57,1016.54 114.19,1015.09 C114.81,1013.64 113.77,1010.94 111.70,1010.11 C109.63,1009.29 104.45,1010.53 101.75,1010.11 C99.06,1009.70 97.61,1009.29 95.53,1007.63 C93.46,1005.97 91.18,1001.82 89.31,1000.16 C87.45,998.51 84.34,996.85 84.34,997.68Z" fill="#05397d" fill-opacity="0.9" filter="url(#b20)"/>
<path d="M58.84,936.65 C59.36,938.21 60.81,942.56 61.95,945.98 C63.09,949.40 64.44,953.44 65.68,957.18 C66.93,960.91 68.17,964.64 69.41,968.37 C70.66,972.10 71.90,976.04 73.14,979.56 C74.39,983.09 75.42,986.40 76.88,989.51 C78.33,992.62 80.19,995.53 81.85,998.22 C83.51,1000.92 85.17,1003.61 86.83,1005.68 C88.48,1007.76 89.94,1009.10 91.80,1010.66 C93.67,1012.21 95.95,1013.97 98.02,1015.01 C100.09,1016.05 102.17,1016.40 104.24,1016.88 C106.31,1017.35 108.38,1017.62 110.46,1017.87 C112.53,1018.12 114.60,1018.12 116.68,1018.37 C118.75,1018.62 121.34,1019.08 122.90,1019.36 C124.45,1019.65 123.41,1019.33 126.00,1020.06 C128.59,1020.80 134.29,1021.93 138.44,1023.80 C142.58,1025.66 146.73,1028.36 150.88,1031.26 C155.02,1034.16 159.79,1038.93 163.31,1041.21 C166.84,1043.49 169.53,1044.73 172.02,1044.94 C174.51,1045.15 176.17,1044.11 178.24,1042.45 C180.31,1040.79 182.59,1038.31 184.46,1034.99 C186.32,1031.67 187.98,1027.11 189.43,1022.55 C190.88,1017.99 192.13,1012.60 193.16,1007.63 C194.20,1002.65 194.93,997.88 195.65,992.70 C196.38,987.52 197.00,980.26 197.52,976.53 C198.04,972.80 198.55,971.35 198.76,970.31 L198.76,1073.92 C193.79,1073.92 174.40,1075.02 168.91,1073.92 C163.42,1072.82 167.15,1070.09 165.80,1067.33 C164.45,1064.57 162.69,1060.69 160.83,1057.38 C158.96,1054.06 156.89,1050.74 154.61,1047.43 C152.33,1044.11 149.84,1040.59 147.14,1037.48 C144.45,1034.37 141.96,1031.47 138.44,1028.77 C134.91,1026.08 128.59,1022.64 126.00,1021.31 C123.41,1019.97 124.45,1021.02 122.90,1020.76 C121.34,1020.51 118.75,1020.02 116.68,1019.77 C114.60,1019.52 112.53,1019.52 110.46,1019.27 C108.38,1019.02 106.31,1018.75 104.24,1018.28 C102.17,1017.80 100.09,1017.45 98.02,1016.41 C95.95,1015.37 93.67,1013.61 91.80,1012.06 C89.94,1010.50 88.48,1009.16 86.83,1007.08 C85.17,1005.01 83.51,1002.32 81.85,999.62 C80.19,996.93 78.33,994.02 76.88,990.91 C75.42,987.80 74.39,984.49 73.14,980.96 C71.90,977.44 70.66,973.50 69.41,969.77 C68.17,966.04 66.93,962.31 65.68,958.58 C64.44,954.84 63.09,950.80 61.95,947.38 C60.81,943.96 59.36,939.61 58.84,938.05Z" fill="#fdd7ac" fill-opacity="0.6"/>
<line x1="52.35" y1="1014.50" x2="205.4" y2="1014.50" stroke="#9a9a9a" stroke-width="1"/>
<path d="M58.84,937.35 C59.36,938.91 60.81,943.26 61.95,946.68 C63.09,950.10 64.44,954.14 65.68,957.88 C66.93,961.61 68.17,965.34 69.41,969.07 C70.66,972.80 71.90,976.74 73.14,980.26 C74.39,983.79 75.42,987.10 76.88,990.21 C78.33,993.32 80.19,996.23 81.85,998.92 C83.51,1001.62 85.17,1004.31 86.83,1006.38 C88.48,1008.46 89.94,1009.80 91.80,1011.36 C93.67,1012.91 95.95,1014.67 98.02,1015.71 C100.09,1016.75 102.17,1017.10 104.24,1017.58 C106.31,1018.05 108.38,1018.32 110.46,1018.57 C112.53,1018.82 114.60,1018.82 116.68,1019.07 C118.75,1019.32 121.34,1019.80 122.90,1020.06 C124.45,1020.33 124.45,1020.27 126.00,1020.69 C127.55,1021.10 130.15,1021.62 132.22,1022.55 C134.29,1023.49 136.36,1024.83 138.44,1026.28 C140.51,1027.73 142.58,1029.39 144.66,1031.26 C146.73,1033.12 148.80,1035.20 150.88,1037.48 C152.95,1039.76 155.02,1042.45 157.09,1044.94 C159.17,1047.43 161.24,1049.92 163.31,1052.40 C165.39,1054.89 167.46,1058.00 169.53,1059.87 C171.61,1061.73 173.68,1063.08 175.75,1063.60 C177.82,1064.12 180.10,1063.80 181.97,1062.98 C183.84,1062.15 185.49,1060.59 186.95,1058.62 C188.40,1056.65 189.43,1054.27 190.68,1051.16 C191.92,1048.05 193.37,1043.49 194.41,1039.97 C195.44,1036.44 196.17,1032.92 196.90,1030.01 C197.62,1027.11 198.45,1023.80 198.76,1022.55" fill="none" stroke="#f7901e" stroke-width="1.75" stroke-dasharray="4.2 1.9"/>
</g>
<rect x="99.30" y="936.10" width="103.20" height="40.40" rx="1" fill="#fff" fill-opacity="0.8" stroke="#dcdcdc" stroke-width="0.6"/>
<circle cx="106.50" cy="939.90" r="1.4" fill="#7593d2" stroke="#b5c5ea" stroke-width="0.5"/>
<rect x="100.90" y="945.80" width="10.8" height="3.4" fill="#fdd7ac" fill-opacity="0.8"/>
<line x1="100.90" y1="963.30" x2="111.70" y2="963.30" stroke="#f7901e" stroke-width="1.5" stroke-dasharray="4.2 1.9"/>
<text x="116.00" y="941.70" font-size="5.2" text-anchor="start" fill="#1a1a1a" >Sample</text>
<text x="116.00" y="949.30" font-size="5.2" text-anchor="start" fill="#1a1a1a" >95% Confidence interval</text>
<text x="116.00" y="956.60" font-size="5.2" text-anchor="start" fill="#1a1a1a" >Fitted curve (R-square: 0.66):</text>
<text x="116.00" y="965.10" font-size="5.2" text-anchor="start" fill="#1a1a1a" ><tspan dy="0" dx="0">y&#160;=&#160;8.4e-05X</tspan><tspan font-size="3.4" dy="-2.9" dx="0.2">5</tspan><tspan dy="2.9" dx="0.9">&#160;-8.2e-05X</tspan><tspan font-size="3.4" dy="-2.9" dx="0.2">4</tspan><tspan dy="2.9" dx="0.9">&#160;-0.0084X</tspan><tspan font-size="3.4" dy="-2.9" dx="0.2">3</tspan></text>
<text x="124.80" y="973.20" font-size="5.2" text-anchor="start" fill="#1a1a1a" ><tspan dy="0" dx="0">+0.03X</tspan><tspan font-size="3.4" dy="-2.9" dx="0.2">2</tspan><tspan dy="2.9" dx="0.9">&#160;-0.049X&#160;-0.018</tspan></text>
<path d="M78.35,1109.30V1108.66h1.45V1109.30ZM79.80,1109.30V1108.21h1.45V1109.30ZM81.25,1109.30V1107.76h1.45V1109.30ZM82.70,1109.30V1107.32h1.45V1109.30ZM84.15,1109.30V1106.28h1.45V1109.30ZM85.60,1109.30V1104.76h1.45V1109.30ZM87.05,1109.30V1102.28h1.45V1109.30ZM88.50,1109.30V1099.75h1.45V1109.30ZM89.95,1109.30V1097.11h1.45V1109.30ZM91.40,1109.30V1090.47h1.45V1109.30ZM92.85,1109.30V1082.12h1.45V1109.30ZM94.30,1109.30V1077.63h1.45V1109.30ZM95.75,1109.30V1076.63h1.45V1109.30ZM97.20,1109.30V1080.60h1.45V1109.30ZM98.65,1109.30V1087.37h1.45V1109.30ZM100.10,1109.30V1092.28h1.45V1109.30ZM101.55,1109.30V1096.57h1.45V1109.30ZM103.00,1109.30V1099.42h1.45V1109.30ZM104.45,1109.30V1101.36h1.45V1109.30ZM105.90,1109.30V1102.62h1.45V1109.30ZM107.35,1109.30V1103.81h1.45V1109.30ZM108.80,1109.30V1105.20h1.45V1109.30ZM110.25,1109.30V1106.11h1.45V1109.30ZM111.70,1109.30V1106.79h1.45V1109.30ZM113.15,1109.30V1107.29h1.45V1109.30ZM114.60,1109.30V1107.67h1.45V1109.30ZM116.05,1109.30V1108.04h1.45V1109.30ZM117.50,1109.30V1108.38h1.45V1109.30ZM118.95,1109.30V1108.71h1.45V1109.30Z" fill="#808080" stroke="#2e2e2e" stroke-width="0.35"/>
<text x="48.35" y="945.32" font-size="7.9" text-anchor="end" fill="#1a1a1a" >0.8</text>
<text x="48.35" y="963.44" font-size="7.9" text-anchor="end" fill="#1a1a1a" >0.6</text>
<text x="48.35" y="981.56" font-size="7.9" text-anchor="end" fill="#1a1a1a" >0.4</text>
<text x="48.35" y="999.68" font-size="7.9" text-anchor="end" fill="#1a1a1a" >0.2</text>
<text x="48.35" y="1017.80" font-size="7.9" text-anchor="end" fill="#1a1a1a" >0.0</text>
<text x="48.35" y="1035.92" font-size="7.9" text-anchor="end" fill="#1a1a1a" >-0.2</text>
<text x="48.35" y="1054.04" font-size="7.9" text-anchor="end" fill="#1a1a1a" >-0.4</text>
<text x="48.35" y="1072.16" font-size="7.9" text-anchor="end" fill="#1a1a1a" >-0.6</text>
<text x="70.85" y="1119.30" font-size="7.9" text-anchor="middle" fill="#1a1a1a" >-2.5</text>
<text x="99.75" y="1119.30" font-size="7.9" text-anchor="middle" fill="#1a1a1a" >0.0</text>
<text x="128.65" y="1119.30" font-size="7.9" text-anchor="middle" fill="#1a1a1a" >2.5</text>
<text x="157.55" y="1119.30" font-size="7.9" text-anchor="middle" fill="#1a1a1a" >5.0</text>
<text x="186.45" y="1119.30" font-size="7.9" text-anchor="middle" fill="#1a1a1a" >7.5</text>
<text class="k" x="128.88" y="1130.50" font-size="12.2" text-anchor="middle" fill="#1a1a1a" >HIE (%)</text>
<text class="k" transform="translate(25.75,1021.40) rotate(-90)" font-size="12" text-anchor="middle" fill="#1a1a1a">Effect on Female_Mig_R (%)</text>
<text class="k" transform="translate(45.45,1092.80) rotate(-90)" font-size="11.7" text-anchor="middle" fill="#1a1a1a">Dist.</text>
<rect x="52.35" y="933.5" width="153.05" height="141.00" fill="none" stroke="#7a7a7a" stroke-width="1.2"/>
<rect x="52.35" y="1074.5" width="153.05" height="34.80" fill="none" stroke="#7a7a7a" stroke-width="1.2"/>
<line x1="301.25" y1="933.5" x2="301.25" y2="1109.3" stroke="#f3f3f3" stroke-width="0.7"/>
<line x1="332.50" y1="933.5" x2="332.50" y2="1109.3" stroke="#f3f3f3" stroke-width="0.7"/>
<line x1="363.75" y1="933.5" x2="363.75" y2="1109.3" stroke="#f3f3f3" stroke-width="0.7"/>
<line x1="395.00" y1="933.5" x2="395.00" y2="1109.3" stroke="#f3f3f3" stroke-width="0.7"/>
<line x1="426.25" y1="933.5" x2="426.25" y2="1109.3" stroke="#f3f3f3" stroke-width="0.7"/>
<line x1="280.5" y1="934.92" x2="433.9" y2="934.92" stroke="#f3f3f3" stroke-width="0.7"/>
<line x1="280.5" y1="969.66" x2="433.9" y2="969.66" stroke="#f3f3f3" stroke-width="0.7"/>
<line x1="280.5" y1="1004.40" x2="433.9" y2="1004.40" stroke="#f3f3f3" stroke-width="0.7"/>
<line x1="280.5" y1="1039.14" x2="433.9" y2="1039.14" stroke="#f3f3f3" stroke-width="0.7"/>
<line x1="280.5" y1="1073.88" x2="433.9" y2="1073.88" stroke="#f3f3f3" stroke-width="0.7"/>
<line x1="280.5" y1="1085.70" x2="433.9" y2="1085.70" stroke="#f3f3f3" stroke-width="0.7"/>
<clipPath id="clip_eM"><rect x="280.5" y="933.5" width="153.40" height="141.00"/></clipPath>
<g clip-path="url(#clip_eM)">
<path d="M287.46,985.24 C289.33,980.68 293.68,980.68 298.66,980.26 C303.63,979.85 311.09,982.75 317.31,982.75 C323.53,982.75 328.86,982.34 335.97,980.26 C343.08,978.19 355.97,962.44 359.98,970.31 C363.98,978.19 362.94,1017.99 359.98,1027.53 C357.01,1037.06 348.26,1028.77 342.19,1027.53 C336.12,1026.28 329.75,1022.55 323.53,1020.06 C317.31,1017.58 310.89,1014.67 304.88,1012.60 C298.86,1010.53 290.36,1012.19 287.46,1007.63 C284.56,1003.07 285.60,989.80 287.46,985.24Z" fill="#bcd2ea" fill-opacity="0.26" filter="url(#b35)"/>
<path d="M332.24,964.09 C332.24,961.40 337.57,959.95 342.19,957.88 C346.81,955.80 357.01,949.58 359.98,951.66 C362.94,953.73 362.94,966.58 359.98,970.31 C357.01,974.04 346.81,975.08 342.19,974.04 C337.57,973.01 332.24,966.79 332.24,964.09Z" fill="#bcd2ea" fill-opacity="0.26" filter="url(#b35)"/>
<path d="M354.00,964.09 C357.11,952.49 366.44,961.40 372.66,960.36 C378.88,959.33 385.72,959.33 391.31,957.88 C396.91,956.42 402.51,953.73 406.24,951.66 C409.97,949.58 410.80,942.33 413.70,945.44 C416.60,948.55 422.41,957.88 423.65,970.31 C424.90,982.75 421.58,1007.63 421.16,1020.06 C420.75,1032.50 422.82,1039.76 421.16,1044.94 C419.51,1050.12 416.19,1052.20 411.21,1051.16 C406.24,1050.12 397.74,1040.79 391.31,1038.72 C384.89,1036.65 378.88,1040.17 372.66,1038.72 C366.44,1037.27 357.11,1042.45 354.00,1030.01 C350.89,1017.58 350.89,975.70 354.00,964.09Z" fill="#bcd2ea" fill-opacity="0.26" filter="url(#b35)"/>
<path d="M308.8 987.2h0M322.4 989.9h0M360.6 994.3h0M359.1 1016.6h0M327.6 1017.4h0M344.7 993.4h0M339.0 1025.7h0M323.3 1009.1h0M331.4 988.6h0M347.7 993.9h0M352.2 992.3h0M348.8 995.6h0M321.2 1016.4h0M328.8 1000.4h0M354.2 1025.0h0M362.5 988.4h0M342.4 983.6h0M331.7 990.2h0M349.5 980.1h0M288.9 991.1h0M306.8 994.6h0M347.1 1023.4h0M309.7 999.7h0M317.4 1016.7h0M348.3 974.4h0M332.1 980.5h0M315.4 992.2h0M300.7 985.5h0M322.3 1010.7h0M308.7 1007.6h0M316.7 1004.5h0M305.9 1006.1h0M344.0 985.6h0M344.2 1027.9h0M348.8 1001.1h0M340.5 1010.6h0M344.6 1005.9h0M304.1 1003.2h0M345.6 991.9h0M319.2 1001.3h0M351.3 991.3h0M347.9 1008.8h0M335.3 992.3h0M303.4 986.1h0M330.5 1021.3h0M298.4 1005.1h0M352.2 1009.5h0M357.1 1022.9h0M304.4 998.5h0M290.6 996.9h0M354.5 1020.0h0M291.3 988.8h0M347.0 980.8h0M308.6 1008.0h0M355.8 1013.4h0M316.7 1014.5h0M310.4 995.1h0M337.0 982.1h0M298.5 990.8h0M322.0 1011.0h0M353.5 987.6h0M338.3 1017.9h0M328.1 1010.0h0M292.8 1006.7h0M339.6 1008.2h0M330.3 991.2h0M326.8 985.0h0M352.9 972.6h0M356.3 1011.9h0M345.7 986.7h0M346.0 1021.6h0M293.1 996.0h0M353.0 998.4h0M330.9 1004.8h0M353.5 969.3h0M298.8 990.1h0M313.2 1004.2h0M352.0 973.9h0M314.5 994.6h0M291.0 1000.7h0M318.0 1000.4h0M342.6 1019.9h0M324.2 990.2h0M321.2 989.1h0M354.2 973.6h0M359.0 973.6h0M293.6 992.5h0M345.7 1011.5h0M354.5 1002.6h0M341.8 1022.5h0M331.8 1022.8h0M345.6 1009.8h0M297.1 993.0h0M326.7 987.6h0M322.4 982.7h0M354.6 1019.6h0M324.4 1018.9h0M302.6 994.6h0M310.8 997.8h0M308.8 990.0h0M323.6 1003.0h0M344.6 986.9h0M295.4 986.2h0M329.8 1000.4h0M294.6 992.3h0M294.5 987.1h0M325.1 996.2h0M336.3 1021.0h0M345.8 1012.5h0M358.3 1010.6h0M349.3 1022.9h0M338.7 996.5h0M347.2 1015.9h0M312.4 992.6h0M357.0 996.3h0M315.1 992.0h0M339.7 984.3h0M322.8 1004.0h0M351.1 1011.3h0M294.6 987.0h0M352.2 1016.3h0M347.2 1025.5h0M296.0 1006.8h0M338.1 1017.6h0M327.2 993.9h0M340.2 1029.0h0M355.1 989.2h0M348.7 996.7h0M350.0 981.9h0M343.0 1023.3h0M310.5 1014.7h0M345.8 981.5h0M335.9 999.4h0M315.7 1000.0h0M355.2 984.2h0M354.7 985.1h0M357.7 991.7h0M308.5 998.6h0M304.6 1010.7h0M303.0 1001.3h0M301.8 1002.6h0M299.1 986.7h0M292.2 1011.7h0M324.6 999.7h0M315.6 1015.7h0M293.4 1004.0h0M341.1 980.6h0M307.1 1005.0h0M356.3 974.9h0M295.8 1007.4h0M340.2 1013.9h0M304.4 1013.4h0M304.6 1007.0h0M343.6 1020.2h0M346.1 1013.0h0M334.6 1020.9h0M314.9 1004.2h0M348.8 976.6h0M314.4 1015.7h0M336.7 990.4h0M288.7 1006.6h0M323.5 1003.2h0M344.3 1024.1h0M360.7 996.7h0M347.7 981.1h0M342.0 1016.1h0M308.6 1000.7h0M324.2 1012.9h0M350.1 978.8h0M288.8 1000.0h0M356.6 971.3h0M358.1 1016.2h0M324.1 1012.7h0M356.9 1004.5h0M346.2 992.9h0M343.2 994.5h0M351.0 981.9h0M344.8 998.3h0M338.2 1000.1h0M352.9 1020.8h0M287.4 991.6h0M318.1 995.8h0M338.2 1020.0h0M296.5 985.7h0M338.7 983.6h0M307.5 996.2h0M346.6 1003.8h0M354.4 974.8h0M333.5 1011.3h0M342.3 1008.6h0M347.7 1020.4h0M356.8 955.2h0M344.5 975.1h0M345.2 963.9h0M342.1 967.7h0M352.3 958.8h0M361.0 967.1h0M353.2 962.0h0M357.4 958.3h0M348.8 961.6h0M346.3 960.8h0M351.0 958.0h0M355.6 968.7h0M351.4 971.1h0M340.7 970.0h0M340.0 966.3h0M349.6 972.4h0M362.6 960.5h0M356.8 963.8h0M347.0 969.1h0M353.5 957.3h0M350.0 968.4h0M351.6 956.3h0M354.9 963.7h0M348.0 968.1h0M358.8 966.8h0M357.6 962.8h0M339.5 965.1h0M343.8 965.7h0M373.2 986.4h0M352.1 983.2h0M408.1 967.7h0M381.3 962.9h0M418.1 1022.4h0M411.3 967.3h0M394.4 978.3h0M396.9 1007.3h0M419.6 972.9h0M366.4 1034.1h0M398.5 992.1h0M399.1 975.9h0M372.3 1013.9h0M379.6 994.6h0M375.1 997.7h0M388.0 999.4h0M409.1 992.9h0M400.7 1003.1h0M375.1 989.1h0M411.8 1038.4h0M379.8 981.1h0M416.7 957.2h0M396.7 960.7h0M414.7 991.4h0M418.2 982.1h0M400.9 960.3h0M369.6 1034.6h0M415.3 983.9h0M415.6 998.7h0M402.0 1019.8h0M418.2 1019.8h0M390.5 1012.4h0M415.0 1017.5h0M360.7 992.5h0M372.4 1034.7h0M409.4 959.7h0M373.1 1026.5h0M374.7 1031.0h0M360.4 1016.7h0M413.0 1008.2h0M392.4 1009.2h0M362.9 991.0h0M363.8 1026.4h0M420.4 977.6h0M365.7 1008.4h0M364.5 1020.3h0M398.7 981.0h0M367.3 967.8h0M414.8 967.7h0M416.1 1011.0h0M421.7 1004.6h0M407.4 1005.1h0M390.0 1036.1h0M401.9 1036.6h0M391.0 957.4h0M382.1 1023.0h0M413.7 982.5h0M410.7 991.5h0M407.8 961.2h0M364.1 1003.6h0M400.8 1026.9h0M414.9 1005.0h0M392.4 968.1h0M387.5 1032.7h0M352.2 994.8h0M360.3 1026.6h0M363.4 1023.4h0M416.7 1023.7h0M418.2 985.5h0M421.3 982.9h0M384.0 1030.3h0M394.7 957.3h0M412.7 967.7h0M412.7 1007.4h0M377.1 1021.2h0M410.5 1037.7h0M411.1 1000.1h0M391.3 1027.8h0M405.8 1011.0h0M375.6 985.2h0M371.6 1034.0h0M371.1 993.0h0M414.9 1022.7h0M410.5 1000.7h0M411.9 961.5h0M396.9 1022.6h0M381.0 991.6h0M405.0 1034.7h0M419.0 1030.0h0M416.0 972.8h0M407.2 1003.8h0M377.4 968.1h0M384.8 961.5h0M418.3 1000.1h0M387.7 975.3h0M400.1 1041.8h0M366.6 998.9h0M414.0 983.0h0M393.6 995.9h0M384.9 1021.0h0M413.3 955.4h0M416.8 992.6h0M366.1 995.3h0M360.1 1021.8h0M373.8 965.8h0M356.0 1021.6h0M375.6 1034.7h0M385.6 1030.7h0M371.8 976.8h0M404.3 979.9h0M359.5 1031.0h0M401.1 962.7h0M383.0 975.4h0M376.9 1006.9h0M384.5 970.0h0M365.6 1035.9h0M407.0 1002.9h0M388.9 1016.9h0M370.4 1017.9h0M417.5 1023.5h0M386.0 1010.5h0M396.7 1010.3h0M407.8 1021.3h0M375.8 1011.7h0M413.3 1044.7h0M416.0 1000.5h0M402.7 1028.5h0M391.1 1000.1h0M404.9 985.0h0M413.3 963.0h0M385.5 1019.4h0M419.9 977.2h0M371.4 1009.5h0M363.1 986.1h0M421.2 996.9h0M394.5 998.2h0M355.4 1017.2h0M414.4 1038.3h0M357.6 967.1h0M353.1 1024.6h0M362.8 1013.3h0M388.9 1018.0h0M400.0 1039.2h0M385.4 991.5h0M379.6 1032.3h0M413.3 956.3h0M395.1 983.5h0M403.9 983.1h0M400.5 956.6h0M406.0 996.1h0M371.7 1037.5h0M378.6 1002.2h0M406.1 973.0h0M392.5 958.1h0M402.2 1039.5h0M375.4 1039.2h0M369.4 1019.5h0M377.7 1010.2h0M415.5 1036.1h0M363.0 1031.2h0M411.1 1016.7h0M369.1 1002.0h0M399.5 961.2h0M381.7 986.9h0M357.6 966.9h0M415.1 959.6h0M394.0 999.3h0M401.7 957.7h0M359.0 968.2h0M362.9 1020.5h0M406.4 952.4h0M384.3 1024.1h0M392.8 993.7h0M405.9 999.7h0M393.1 963.9h0M391.4 1003.6h0M422.0 996.4h0M415.2 1003.9h0M415.3 1031.8h0M398.6 989.2h0M416.9 988.8h0M415.8 1003.8h0M402.1 990.6h0M393.4 1030.8h0M377.4 984.2h0M378.9 1024.2h0M373.2 979.5h0M404.0 989.1h0M379.9 1030.3h0M405.9 1015.4h0M379.9 1037.8h0M393.4 1029.5h0M365.3 986.1h0M413.2 1018.5h0M419.3 988.6h0M412.9 1040.7h0M406.3 1030.5h0M418.0 1003.9h0M397.7 960.5h0M361.8 992.1h0M382.6 1004.4h0M397.3 1012.1h0M399.2 955.5h0M392.4 1005.0h0M410.7 979.9h0M368.8 964.3h0M389.1 1035.4h0M357.4 1024.3h0M396.1 1007.5h0M414.8 966.6h0M404.0 952.2h0M405.4 999.0h0M401.0 955.4h0M367.1 1024.8h0M360.0 1027.7h0M382.1 973.8h0M416.3 955.0h0M418.8 1011.6h0M376.3 986.2h0M403.8 951.7h0M416.4 975.0h0M412.2 985.6h0M369.1 997.5h0M388.6 964.4h0M416.0 988.6h0M374.7 1028.8h0M415.5 1042.9h0M387.4 958.4h0M350.1 997.4h0M359.8 1004.3h0M390.4 1006.8h0M411.0 973.6h0M386.5 1025.9h0M409.0 1032.1h0M403.2 963.6h0M358.9 989.5h0M402.6 988.5h0M352.3 1030.1h0M416.7 952.9h0M392.8 1028.6h0M393.9 1026.7h0M406.3 1037.1h0M416.6 1042.8h0M354.8 967.8h0M365.8 979.7h0M355.4 993.8h0M357.7 986.3h0M392.4 979.5h0M377.4 1020.0h0M409.6 982.3h0M376.2 992.6h0M363.5 987.7h0M393.8 978.1h0M362.7 1020.3h0M411.9 1048.8h0M395.0 1021.9h0M415.3 1042.2h0M378.5 1028.0h0M384.6 994.8h0M379.3 1010.3h0M401.4 974.6h0M420.1 991.7h0M398.3 1040.1h0M368.8 1029.6h0M376.8 966.5h0M417.9 998.4h0M413.4 1040.6h0M381.7 1005.8h0M378.6 998.9h0M368.7 1005.1h0M402.8 1018.6h0M418.9 996.7h0M369.4 1034.1h0M412.9 988.3h0M374.1 982.1h0M385.7 1015.9h0M406.9 1039.9h0M402.6 1006.6h0M414.8 1012.0h0M409.2 958.2h0M370.3 994.4h0M364.2 981.2h0M420.2 1013.4h0M415.2 954.9h0M416.7 1040.8h0M390.7 1000.3h0M407.9 982.5h0M369.5 1031.4h0M401.1 1037.6h0M410.0 1008.2h0M378.0 1012.6h0M365.2 1005.3h0M417.6 962.3h0M393.6 1027.7h0M356.5 967.4h0M372.3 1018.1h0M416.6 1027.7h0M368.8 1027.4h0M396.7 978.8h0M422.5 1025.1h0M384.3 1010.8h0M402.8 958.6h0M417.3 1009.8h0M402.2 1010.7h0M380.9 987.9h0M392.2 1007.8h0M398.7 1042.9h0M400.5 974.6h0M369.2 1029.3h0M414.4 1048.1h0M399.4 971.2h0M416.9 1049.6h0M413.1 961.3h0M412.8 991.6h0M362.9 992.0h0M376.3 1031.4h0M384.6 1021.3h0M383.3 982.6h0M391.2 959.5h0M369.6 1000.7h0M400.5 1004.2h0M377.4 961.7h0M380.0 980.3h0M410.9 1023.4h0M375.7 1023.3h0M395.2 1024.4h0M378.8 1029.8h0M412.1 1047.5h0M420.6 964.1h0M358.9 996.1h0M366.9 971.1h0M371.3 1024.0h0M362.0 964.3h0M418.2 1013.6h0M389.8 986.0h0M359.6 975.8h0M403.7 1035.2h0M415.4 963.6h0M368.7 1025.8h0M415.6 970.5h0M405.5 989.8h0M412.5 948.6h0M383.9 1016.9h0M396.8 966.1h0M388.8 1019.7h0M419.4 1001.9h0M370.3 1001.6h0M394.3 1022.7h0M401.8 1010.1h0M393.6 1035.7h0M383.4 1028.8h0M418.7 996.4h0M397.1 989.1h0M411.3 957.1h0M389.0 976.4h0M404.3 990.8h0M373.0 969.9h0M395.7 977.4h0M410.6 955.1h0M419.6 1027.6h0M410.0 1008.4h0M404.2 999.8h0M400.4 1036.5h0M410.3 977.4h0M356.3 1010.3h0M357.4 1027.2h0M385.2 975.8h0" stroke="#5b8fc8" stroke-opacity="0.1" stroke-width="3.0" stroke-linecap="round" fill="none"/>
<path d="M345.92,1010.11 C347.58,1007.21 352.28,1005.55 354.63,1005.14 C356.97,1004.72 359.08,1003.90 359.98,1007.63 C360.87,1011.36 361.70,1023.80 359.98,1027.53 C358.25,1031.26 352.20,1030.84 349.65,1030.01 C347.10,1029.19 345.30,1025.87 344.68,1022.55 C344.05,1019.24 344.26,1013.02 345.92,1010.11Z" fill="#5a8fc6" fill-opacity="0.42" filter="url(#b25)"/>
<path d="M354.63,957.88 C355.31,953.73 359.08,953.32 359.98,957.88 C360.87,962.44 360.66,981.09 359.98,985.24 C359.29,989.38 356.76,987.31 355.87,982.75 C354.98,978.19 353.94,962.02 354.63,957.88Z" fill="#5a8fc6" fill-opacity="0.42" filter="url(#b25)"/>
<path d="M356.49,961.61 C357.32,957.67 361.46,957.67 362.71,961.61 C363.95,965.55 364.78,981.30 363.95,985.24 C363.12,989.18 358.98,989.18 357.73,985.24 C356.49,981.30 355.66,965.55 356.49,961.61Z" fill="#5a8fc6" fill-opacity="0.42" filter="url(#b25)"/>
<path d="M408.73,954.14 C409.56,949.38 412.67,949.38 413.70,954.14 C414.74,958.91 415.77,977.98 414.95,982.75 C414.12,987.52 409.76,987.52 408.73,982.75 C407.69,977.98 407.90,958.91 408.73,954.14Z" fill="#5a8fc6" fill-opacity="0.42" filter="url(#b25)"/>
<path d="M349.2 1011.8h0M357.5 1015.0h0M347.0 1009.5h0M354.4 1015.7h0M349.9 1012.2h0M351.9 1024.5h0M351.6 1016.8h0M346.6 1015.3h0M355.7 1017.7h0M348.6 1020.2h0M354.7 1012.5h0M359.2 1011.5h0M346.2 1016.7h0M352.5 1015.8h0M356.9 1015.2h0M359.3 1009.8h0M344.6 1020.3h0M355.0 1019.1h0M357.5 1028.2h0M351.9 1016.9h0M345.2 1018.8h0M350.5 1009.4h0M356.0 1018.1h0M346.6 1010.7h0M357.3 1020.5h0M353.0 1020.6h0M352.2 1008.9h0M353.1 1021.0h0M355.2 1018.3h0M352.1 1027.0h0M349.9 1027.7h0M358.6 1015.8h0M349.4 1021.5h0M353.0 1015.4h0M353.6 1022.9h0M356.8 1008.2h0M358.1 1017.7h0M359.6 1011.2h0M349.5 1009.1h0M356.4 1016.3h0M355.8 972.4h0M356.2 976.7h0M360.4 960.9h0M356.9 974.1h0M360.8 984.4h0M356.5 968.2h0M356.7 965.5h0M356.2 966.7h0M358.5 979.9h0M357.7 957.4h0M356.6 963.1h0M356.1 963.6h0M359.4 979.3h0M357.7 971.0h0M359.9 960.8h0M357.9 967.7h0M358.2 979.5h0M358.5 968.5h0M355.4 960.4h0M355.3 963.7h0M359.6 978.8h0M357.0 977.2h0M355.4 964.3h0M359.9 980.7h0M357.8 973.2h0M357.9 975.7h0M358.6 966.6h0M358.7 981.0h0M360.0 978.5h0M360.6 969.0h0M356.2 971.3h0M361.1 971.0h0M363.8 976.7h0M357.2 972.6h0M361.3 980.7h0M360.2 970.8h0M360.0 974.4h0M360.5 971.1h0M357.5 969.2h0M358.3 961.3h0M413.5 965.6h0M406.9 972.3h0M411.4 967.2h0M409.0 978.7h0M413.4 971.1h0M407.8 972.8h0M414.1 970.9h0M415.5 969.4h0M409.6 969.8h0M413.6 980.4h0M412.0 966.0h0M414.1 972.6h0M415.0 973.8h0M413.0 972.3h0M412.2 956.3h0M410.3 975.7h0M409.1 954.6h0M408.6 977.3h0M409.3 964.0h0M413.6 979.8h0M408.2 975.8h0" stroke="#3a75b5" stroke-opacity="0.14" stroke-width="2.8" stroke-linecap="round" fill="none"/>
<path d="M366.44,985.24 C367.68,984.00 368.93,982.75 370.17,982.75 C371.41,982.75 372.86,987.31 373.90,985.24 C374.94,983.17 375.56,972.80 376.39,970.31 C377.22,967.83 378.15,967.83 378.88,970.31 C379.60,972.80 380.12,984.82 380.74,985.24 C381.36,985.65 381.88,974.67 382.61,972.80 C383.33,970.94 384.27,971.14 385.09,974.04 C385.92,976.95 386.55,986.69 387.58,990.21 C388.62,993.74 389.86,993.95 391.31,995.19 C392.76,996.43 394.84,997.68 396.29,997.68 C397.74,997.68 398.98,998.09 400.02,995.19 C401.06,992.29 401.47,983.17 402.51,980.26 C403.54,977.36 405.20,980.47 406.24,977.78 C407.28,975.08 407.90,967.83 408.73,964.09 C409.56,960.36 410.38,955.39 411.21,955.39 C412.04,955.39 413.18,959.53 413.70,964.09 C414.22,968.66 414.32,977.57 414.32,982.75 C414.32,987.93 414.01,991.46 413.70,995.19 C413.39,998.92 412.87,1002.03 412.46,1005.14 C412.04,1008.25 411.84,1011.36 411.21,1013.85 C410.59,1016.33 409.97,1018.82 408.73,1020.06 C407.48,1021.31 405.41,1020.69 403.75,1021.31 C402.09,1021.93 400.23,1024.21 398.78,1023.80 C397.33,1023.38 396.29,1020.27 395.04,1018.82 C393.80,1017.37 392.56,1016.13 391.31,1015.09 C390.07,1014.05 388.62,1013.64 387.58,1012.60 C386.55,1011.57 386.13,1008.04 385.09,1008.87 C384.06,1009.70 382.40,1016.75 381.36,1017.58 C380.33,1018.41 379.91,1013.43 378.88,1013.85 C377.84,1014.26 376.18,1017.78 375.14,1020.06 C374.11,1022.34 373.49,1027.73 372.66,1027.53 C371.83,1027.32 371.00,1021.72 370.17,1018.82 C369.34,1015.92 368.51,1012.81 367.68,1010.11 C366.85,1007.42 366.23,1004.72 365.19,1002.65 C364.16,1000.58 361.88,999.75 361.46,997.68 C361.05,995.60 361.88,992.29 362.71,990.21 C363.54,988.14 365.19,986.48 366.44,985.24Z" fill="#0c4f96" fill-opacity="0.95" filter="url(#b10)"/>
<path d="M381.36,997.68 C383.02,996.85 388.00,999.75 391.31,1000.16 C394.63,1000.58 398.15,1000.58 401.26,1000.16 C404.37,999.75 408.31,996.43 409.97,997.68 C411.63,998.92 411.84,1004.72 411.21,1007.63 C410.59,1010.53 408.73,1013.85 406.24,1015.09 C403.75,1016.33 399.40,1016.33 396.29,1015.09 C393.18,1013.85 390.07,1009.29 387.58,1007.63 C385.09,1005.97 382.40,1006.80 381.36,1005.14 C380.33,1003.48 379.70,998.51 381.36,997.68Z" fill="#05397d" fill-opacity="0.9" filter="url(#b20)"/>
<line x1="280.5" y1="1004.50" x2="433.9" y2="1004.50" stroke="#9a9a9a" stroke-width="1"/>
<path d="M287.46,968.45 C288.08,970.21 289.95,975.81 291.19,979.02 C292.44,982.23 293.47,984.82 294.93,987.73 C296.38,990.63 298.24,993.84 299.90,996.43 C301.56,999.02 303.01,1001.51 304.88,1003.27 C306.74,1005.04 309.02,1006.32 311.09,1007.00 C313.17,1007.69 315.24,1007.59 317.31,1007.38 C319.39,1007.17 321.46,1006.38 323.53,1005.76 C325.61,1005.14 327.68,1004.37 329.75,1003.65 C331.82,1002.92 333.90,1002.09 335.97,1001.41 C338.04,1000.72 340.12,1000.00 342.19,999.54 C344.26,999.09 346.33,998.88 348.41,998.67 C350.48,998.46 353.69,998.30 354.63,998.30 C355.56,998.30 353.07,998.46 354.00,998.67 C354.93,998.88 358.15,999.19 360.22,999.54 C362.29,999.89 364.36,1000.37 366.44,1000.79 C368.51,1001.20 370.58,1001.55 372.66,1002.03 C374.73,1002.51 376.80,1003.13 378.88,1003.65 C380.95,1004.17 383.02,1004.77 385.09,1005.14 C387.17,1005.51 389.24,1005.72 391.31,1005.89 C393.39,1006.05 395.46,1006.26 397.53,1006.13 C399.61,1006.01 401.68,1005.72 403.75,1005.14 C405.82,1004.56 407.90,1003.90 409.97,1002.65 C412.04,1001.41 414.12,999.54 416.19,997.68 C418.26,995.81 420.65,993.43 422.41,991.46 C424.17,989.49 426.04,986.79 426.76,985.86" fill="none" stroke="#f7901e" stroke-width="1.75" stroke-dasharray="4.2 1.9"/>
</g>
<rect x="283.10" y="1030.60" width="108.00" height="40.40" rx="1" fill="#fff" fill-opacity="0.8" stroke="#dcdcdc" stroke-width="0.6"/>
<circle cx="290.30" cy="1034.40" r="1.4" fill="#7593d2" stroke="#b5c5ea" stroke-width="0.5"/>
<rect x="284.70" y="1040.30" width="10.8" height="3.4" fill="#fdd7ac" fill-opacity="0.8"/>
<line x1="284.70" y1="1057.80" x2="295.50" y2="1057.80" stroke="#f7901e" stroke-width="1.5" stroke-dasharray="4.2 1.9"/>
<text x="299.80" y="1036.20" font-size="5.2" text-anchor="start" fill="#1a1a1a" >Sample</text>
<text x="299.80" y="1043.80" font-size="5.2" text-anchor="start" fill="#1a1a1a" >95% Confidence interval</text>
<text x="299.80" y="1051.10" font-size="5.2" text-anchor="start" fill="#1a1a1a" >Fitted curve (R-square: 0.2):</text>
<text x="299.80" y="1059.60" font-size="5.2" text-anchor="start" fill="#1a1a1a" ><tspan dy="0" dx="0">y&#160;=&#160;-9.9e-15X</tspan><tspan font-size="3.4" dy="-2.9" dx="0.2">5</tspan><tspan dy="2.9" dx="0.9">&#160;-2.2e-12X</tspan><tspan font-size="3.4" dy="-2.9" dx="0.2">4</tspan><tspan dy="2.9" dx="0.9">&#160;+5.2e-09X</tspan><tspan font-size="3.4" dy="-2.9" dx="0.2">3</tspan></text>
<text x="308.60" y="1067.70" font-size="5.2" text-anchor="start" fill="#1a1a1a" ><tspan dy="0" dx="0">+1.8e-06X</tspan><tspan font-size="3.4" dy="-2.9" dx="0.2">2</tspan><tspan dy="2.9" dx="0.9">&#160;-3e-05X&#160;-0.0082</tspan></text>
<path d="M349.50,1109.30V1108.96h1.95V1109.30ZM351.45,1109.30V1108.88h1.95V1109.30ZM353.40,1109.30V1108.79h1.95V1109.30ZM355.35,1109.30V1108.70h1.95V1109.30ZM357.30,1109.30V1108.61h1.95V1109.30ZM359.25,1109.30V1108.52h1.95V1109.30ZM361.20,1109.30V1108.31h1.95V1109.30ZM363.15,1109.30V1108.05h1.95V1109.30ZM365.10,1109.30V1107.80h1.95V1109.30ZM367.05,1109.30V1107.54h1.95V1109.30ZM369.00,1109.30V1107.28h1.95V1109.30ZM370.95,1109.30V1106.80h1.95V1109.30ZM372.90,1109.30V1106.32h1.95V1109.30ZM374.85,1109.30V1105.84h1.95V1109.30ZM376.80,1109.30V1105.18h1.95V1109.30ZM378.75,1109.30V1104.50h1.95V1109.30ZM380.70,1109.30V1103.21h1.95V1109.30ZM382.65,1109.30V1101.41h1.95V1109.30ZM384.60,1109.30V1099.78h1.95V1109.30ZM386.55,1109.30V1098.51h1.95V1109.30ZM388.50,1109.30V1095.69h1.95V1109.30ZM390.45,1109.30V1093.34h1.95V1109.30ZM392.40,1109.30V1089.98h1.95V1109.30ZM394.35,1109.30V1084.99h1.95V1109.30ZM396.30,1109.30V1081.45h1.95V1109.30ZM398.25,1109.30V1078.30h1.95V1109.30ZM400.20,1109.30V1077.10h1.95V1109.30ZM402.15,1109.30V1077.39h1.95V1109.30ZM404.10,1109.30V1078.86h1.95V1109.30ZM406.05,1109.30V1084.25h1.95V1109.30ZM408.00,1109.30V1090.10h1.95V1109.30ZM409.95,1109.30V1097.76h1.95V1109.30ZM411.90,1109.30V1102.95h1.95V1109.30ZM413.85,1109.30V1106.66h1.95V1109.30ZM415.80,1109.30V1108.56h1.95V1109.30Z" fill="#808080" stroke="#2e2e2e" stroke-width="0.35"/>
<text x="276.50" y="938.32" font-size="7.9" text-anchor="end" fill="#1a1a1a" >0.4</text>
<text x="276.50" y="973.06" font-size="7.9" text-anchor="end" fill="#1a1a1a" >0.2</text>
<text x="276.50" y="1007.80" font-size="7.9" text-anchor="end" fill="#1a1a1a" >0.0</text>
<text x="276.50" y="1042.54" font-size="7.9" text-anchor="end" fill="#1a1a1a" >-0.2</text>
<text x="276.50" y="1077.28" font-size="7.9" text-anchor="end" fill="#1a1a1a" >-0.4</text>
<text x="301.25" y="1119.30" font-size="7.9" text-anchor="middle" fill="#1a1a1a" >-600</text>
<text x="332.50" y="1119.30" font-size="7.9" text-anchor="middle" fill="#1a1a1a" >-400</text>
<text x="363.75" y="1119.30" font-size="7.9" text-anchor="middle" fill="#1a1a1a" >-200</text>
<text x="395.00" y="1119.30" font-size="7.9" text-anchor="middle" fill="#1a1a1a" >0</text>
<text x="426.25" y="1119.30" font-size="7.9" text-anchor="middle" fill="#1a1a1a" >200</text>
<text class="k" x="357.20" y="1130.50" font-size="12.2" text-anchor="middle" fill="#1a1a1a" >HIE_D (%)</text>
<text class="k" transform="translate(253.90,1021.40) rotate(-90)" font-size="12" text-anchor="middle" fill="#1a1a1a">Effect on Female_Mig_R (%)</text>
<text class="k" transform="translate(273.60,1092.80) rotate(-90)" font-size="11.7" text-anchor="middle" fill="#1a1a1a">Dist.</text>
<rect x="280.5" y="933.5" width="153.40" height="141.00" fill="none" stroke="#7a7a7a" stroke-width="1.2"/>
<rect x="280.5" y="1074.5" width="153.40" height="34.80" fill="none" stroke="#7a7a7a" stroke-width="1.2"/>
<line x1="573.40" y1="933.4" x2="573.40" y2="1109.3999999999999" stroke="#f3f3f3" stroke-width="0.7"/>
<line x1="620.70" y1="933.4" x2="620.70" y2="1109.3999999999999" stroke="#f3f3f3" stroke-width="0.7"/>
<line x1="532.6" y1="942.00" x2="662.4" y2="942.00" stroke="#f3f3f3" stroke-width="0.7"/>
<text x="530.40" y="940.20" font-size="8.0" text-anchor="end" fill="#1a1a1a" >GDP_PA</text>
<text x="531.00" y="946.50" font-size="6.0" text-anchor="end" fill="#1a1a1a" >(13.84%)</text>
<line x1="532.6" y1="957.91" x2="662.4" y2="957.91" stroke="#f3f3f3" stroke-width="0.7"/>
<text x="530.40" y="956.11" font-size="8.0" text-anchor="end" fill="#1a1a1a" >TEMP</text>
<text x="531.00" y="962.41" font-size="6.0" text-anchor="end" fill="#1a1a1a" >(13.38%)</text>
<line x1="532.6" y1="973.82" x2="662.4" y2="973.82" stroke="#f3f3f3" stroke-width="0.7"/>
<text x="530.40" y="972.02" font-size="8.0" text-anchor="end" fill="#1a1a1a" >DEM</text>
<text x="531.00" y="978.32" font-size="6.0" text-anchor="end" fill="#1a1a1a" >(10.85%)</text>
<line x1="532.6" y1="989.73" x2="662.4" y2="989.73" stroke="#f3f3f3" stroke-width="0.7"/>
<text x="530.40" y="987.93" font-size="8.0" text-anchor="end" fill="#1a1a1a" >Edu</text>
<text x="531.00" y="994.23" font-size="6.0" text-anchor="end" fill="#1a1a1a" >(10.57%)</text>
<line x1="532.6" y1="1005.64" x2="662.4" y2="1005.64" stroke="#f3f3f3" stroke-width="0.7"/>
<text x="530.40" y="1003.84" font-size="8.0" text-anchor="end" fill="#1a1a1a" >Urban_R</text>
<text x="531.00" y="1010.14" font-size="6.0" text-anchor="end" fill="#1a1a1a" >(10.04%)</text>
<line x1="532.6" y1="1021.55" x2="662.4" y2="1021.55" stroke="#f3f3f3" stroke-width="0.7"/>
<text x="530.40" y="1019.75" font-size="8.0" text-anchor="end" fill="#1a1a1a" >PRCP</text>
<text x="531.00" y="1026.05" font-size="6.0" text-anchor="end" fill="#1a1a1a" >(8.51%)</text>
<line x1="532.6" y1="1037.46" x2="662.4" y2="1037.46" stroke="#f3f3f3" stroke-width="0.7"/>
<text x="530.40" y="1035.66" font-size="8.0" text-anchor="end" fill="#1a1a1a" >HIE</text>
<text x="531.00" y="1041.96" font-size="6.0" text-anchor="end" fill="#1a1a1a" >(8.08%)</text>
<line x1="532.6" y1="1053.37" x2="662.4" y2="1053.37" stroke="#f3f3f3" stroke-width="0.7"/>
<text x="530.40" y="1051.57" font-size="8.0" text-anchor="end" fill="#1a1a1a" >NTL_PA</text>
<text x="531.00" y="1057.87" font-size="6.0" text-anchor="end" fill="#1a1a1a" >(7.73%)</text>
<line x1="532.6" y1="1069.28" x2="662.4" y2="1069.28" stroke="#f3f3f3" stroke-width="0.7"/>
<text x="530.40" y="1067.48" font-size="8.0" text-anchor="end" fill="#1a1a1a" >Rx5day</text>
<text x="531.00" y="1073.78" font-size="6.0" text-anchor="end" fill="#1a1a1a" >(6.24%)</text>
<line x1="532.6" y1="1085.19" x2="662.4" y2="1085.19" stroke="#f3f3f3" stroke-width="0.7"/>
<text x="530.40" y="1083.39" font-size="8.0" text-anchor="end" fill="#1a1a1a" >Water_Dis</text>
<text x="531.00" y="1089.69" font-size="6.0" text-anchor="end" fill="#1a1a1a" >(5.79%)</text>
<line x1="532.6" y1="1101.10" x2="662.4" y2="1101.10" stroke="#f3f3f3" stroke-width="0.7"/>
<text x="530.40" y="1099.30" font-size="8.0" text-anchor="end" fill="#1a1a1a" >HIE_D</text>
<text x="531.00" y="1105.60" font-size="6.0" text-anchor="end" fill="#1a1a1a" >(4.96%)</text>
<line x1="573.50" y1="933.4" x2="573.50" y2="1109.3999999999999" stroke="#9a9a9a" stroke-width="1"/>
<path d="M571.4 957.9h0M576.1 954.6h0M576.8 959.8h0M578.1 957.9h0M576.2 956.1h0M569.8 958.6h0M575.9 958.9h0M574.8 956.2h0M580.2 958.9h0M569.8 958.2h0M575.5 959.5h0M579.2 975.1h0M570.5 971.7h0M575.9 975.0h0M579.5 974.0h0M575.6 975.3h0M579.5 974.2h0M579.8 975.1h0M571.6 974.0h0M577.7 972.0h0M573.8 972.3h0M580.1 976.6h0M577.2 973.5h0M573.8 974.8h0M579.9 975.2h0M571.9 974.2h0M573.7 977.1h0M574.7 989.8h0M565.8 990.6h0M569.1 993.0h0M568.4 991.1h0M582.8 989.9h0M577.3 989.6h0M582.0 987.3h0M569.0 989.0h0M568.0 990.7h0M582.0 991.6h0M573.9 989.6h0M574.5 989.8h0M575.0 990.8h0M567.6 992.1h0M573.0 990.4h0M566.1 990.9h0M555.4 1008.4h0M552.5 1005.5h0M553.5 1006.0h0M552.4 1004.3h0M557.3 1005.3h0M553.2 1006.6h0M559.5 1005.8h0M561.0 1005.7h0M555.6 1006.7h0M553.7 1002.6h0M565.3 1005.4h0M551.9 1004.3h0M567.5 1006.3h0M555.6 1004.1h0M563.1 1022.1h0M569.0 1021.9h0M572.6 1021.3h0M578.5 1023.6h0M575.1 1022.8h0M575.4 1020.7h0M581.5 1023.3h0M562.0 1023.7h0M578.3 1021.2h0M581.7 1021.3h0M562.3 1021.8h0M581.2 1022.6h0M579.6 1021.5h0M577.1 1021.7h0M575.2 1021.6h0M572.4 1021.4h0M575.9 1037.7h0M580.3 1037.7h0M569.4 1038.4h0M572.5 1038.8h0M573.1 1040.2h0M567.7 1037.1h0M566.5 1035.6h0M572.4 1039.7h0M571.7 1037.4h0M565.8 1037.9h0M571.7 1036.6h0M572.0 1037.3h0M565.9 1037.8h0M571.7 1037.9h0M580.5 1037.7h0M566.7 1035.9h0M572.9 1050.1h0M565.6 1052.1h0M558.8 1052.5h0M563.8 1054.8h0M559.1 1052.2h0M558.2 1053.0h0M563.7 1053.2h0M570.9 1055.1h0M560.3 1052.4h0M573.2 1053.4h0M570.4 1054.7h0M555.9 1053.5h0M563.9 1052.6h0M571.2 1055.0h0M567.2 1052.6h0M571.1 1052.7h0" stroke="#dcd6e2" stroke-width="2.3" stroke-linecap="round" stroke-opacity="0.85" fill="none"/>
<path d="M578.2 940.6h0M578.2 944.7h0M584.3 939.6h0M578.5 940.6h0M582.6 942.6h0M584.0 940.5h0M580.6 941.4h0M572.3 941.5h0M589.4 940.7h0M592.7 942.1h0M589.0 941.6h0M588.9 941.7h0M586.5 941.1h0M573.1 942.3h0M585.8 942.0h0M589.4 940.7h0M599.9 943.7h0M601.6 940.9h0M601.7 943.0h0M610.3 942.4h0M598.0 941.9h0M607.0 942.5h0M597.7 942.4h0M606.1 942.0h0M611.8 940.9h0M602.2 942.2h0M611.6 942.9h0M564.7 990.7h0M559.3 987.6h0M559.3 988.8h0M549.8 989.3h0M564.5 992.3h0M547.9 989.9h0M557.5 990.0h0M558.4 987.7h0M559.7 989.9h0M554.5 990.1h0M555.5 989.8h0M546.7 1005.2h0M589.8 1037.0h0M591.4 1036.3h0M582.6 1038.2h0M590.5 1038.1h0M582.5 1036.1h0M584.7 1036.2h0M584.0 1037.6h0M598.8 1038.6h0M593.6 1037.7h0M597.4 1038.0h0M580.3 1037.6h0M581.6 1068.8h0M568.3 1068.9h0M566.3 1068.9h0M567.3 1070.3h0M576.7 1070.2h0M580.8 1069.8h0M567.2 1069.8h0M581.9 1071.3h0M573.3 1068.0h0M573.3 1069.0h0M578.9 1069.9h0M575.7 1068.4h0M571.9 1069.2h0M567.8 1071.1h0M565.5 1066.8h0M577.0 1072.4h0M578.6 1067.6h0M578.0 1068.9h0M578.5 1068.9h0" stroke="#93aef0" stroke-width="2.3" stroke-linecap="round" stroke-opacity="0.85" fill="none"/>
<path d="M593.5 1053.5h0M593.7 1054.6h0M592.4 1052.2h0M580.7 1053.6h0M585.7 1053.8h0M584.6 1052.3h0M578.0 1053.3h0M585.5 1054.8h0M573.9 1052.8h0M587.2 1052.7h0M591.4 1053.1h0M585.7 1054.1h0M587.2 1052.7h0M587.7 1053.9h0M578.7 1052.7h0M589.9 1053.4h0M570.8 1085.3h0M577.1 1084.9h0M571.5 1084.2h0M569.9 1086.8h0M568.3 1084.6h0M576.4 1084.9h0M565.6 1083.8h0M577.8 1087.4h0M566.6 1087.7h0M566.1 1088.5h0M568.6 1086.2h0M579.0 1083.1h0M567.6 1086.1h0M577.8 1081.9h0M577.0 1088.5h0M566.5 1082.1h0" stroke="#f5c887" stroke-width="2.3" stroke-linecap="round" stroke-opacity="0.85" fill="none"/>
<path d="M557.9 943.4h0M566.6 940.5h0M575.2 942.2h0M562.4 940.0h0M574.3 944.2h0M567.6 939.8h0M556.9 940.6h0M569.5 943.5h0M565.4 941.2h0M577.7 939.5h0M558.4 943.5h0M578.6 941.1h0M556.0 941.4h0M559.7 944.9h0M574.3 943.4h0M563.0 941.8h0M571.3 943.0h0M567.2 942.5h0M575.7 941.4h0M566.2 941.0h0M561.8 942.0h0M556.4 941.3h0M570.9 942.6h0M574.4 940.5h0M575.0 942.1h0M575.5 943.8h0M556.4 942.6h0M558.2 959.2h0M562.6 957.1h0M564.5 957.3h0M557.0 956.0h0M561.2 956.8h0M568.2 957.7h0M567.7 958.9h0M550.9 957.5h0M549.6 957.7h0M547.3 957.9h0M551.2 958.8h0M548.0 958.9h0M554.3 956.6h0M550.7 958.1h0M553.7 956.6h0M567.6 957.1h0M551.6 958.8h0M568.3 958.9h0M556.9 957.1h0M557.4 958.4h0M555.0 957.7h0M567.0 958.2h0M540.3 974.4h0M538.9 973.7h0M539.5 973.0h0M538.3 972.7h0M553.6 973.9h0M564.2 976.4h0M563.3 973.2h0M559.0 975.0h0M561.3 974.3h0M567.4 973.6h0M550.2 974.4h0M550.4 974.4h0M567.3 975.7h0M550.8 973.7h0M550.0 972.3h0M559.1 973.5h0M553.7 973.0h0M569.2 974.5h0M560.5 974.5h0M549.4 974.9h0M559.7 972.0h0M563.0 975.4h0M550.3 974.3h0M599.2 988.5h0M603.6 989.9h0M608.5 989.6h0M608.0 989.9h0M610.8 989.7h0M593.6 989.3h0M601.3 989.4h0M597.5 987.9h0M602.9 989.3h0M597.9 990.6h0M610.9 990.1h0M623.3 990.1h0M540.6 1021.8h0M538.3 1021.0h0M538.0 1021.6h0M560.3 1021.5h0M555.9 1021.4h0M556.7 1020.8h0M567.3 1022.7h0M560.8 1022.2h0M564.7 1022.1h0M561.1 1022.1h0M564.0 1023.5h0M608.6 1037.4h0M599.7 1036.8h0M611.6 1037.8h0M614.5 1037.4h0M614.5 1036.4h0M623.6 1037.3h0M544.2 1053.2h0M552.4 1069.8h0M561.3 1068.5h0M563.7 1070.3h0M565.1 1068.4h0M550.5 1068.9h0M556.2 1069.6h0M553.6 1070.1h0M562.9 1068.9h0M559.4 1069.9h0M564.7 1069.1h0M554.1 1069.7h0M585.2 1069.2h0M589.1 1069.4h0M583.3 1071.1h0M581.7 1069.1h0M584.7 1071.1h0M576.3 1100.9h0M582.8 1100.9h0M586.5 1101.2h0M577.7 1101.5h0M575.9 1103.6h0" stroke="#3f65e2" stroke-width="2.3" stroke-linecap="round" stroke-opacity="0.85" fill="none"/>
<path d="M626.4 942.7h0M624.5 943.0h0M621.6 942.3h0M623.7 942.7h0M616.9 942.5h0M624.3 942.5h0M624.1 941.5h0M613.2 940.7h0M617.6 941.8h0M622.3 940.4h0M625.2 944.3h0M581.2 958.7h0M594.4 957.2h0M587.6 957.6h0M598.9 958.5h0M594.8 959.1h0M580.9 957.7h0M596.7 958.5h0M589.3 957.6h0M600.8 958.5h0M582.1 958.8h0M576.1 957.7h0M591.2 957.8h0M578.2 958.7h0M598.0 958.5h0M595.6 958.1h0M592.5 958.8h0M587.1 972.5h0M604.6 974.4h0M607.4 974.1h0M606.0 972.8h0M591.9 972.5h0M606.7 974.7h0M587.6 973.7h0M591.1 971.4h0M595.6 974.0h0M587.2 971.6h0M589.2 975.5h0M603.4 975.2h0M602.5 974.0h0M590.6 973.2h0M607.5 974.9h0M588.8 974.6h0M611.8 974.2h0M587.4 989.2h0M580.0 990.3h0M595.1 990.0h0M588.8 990.1h0M582.1 988.2h0M586.3 990.2h0M583.6 989.2h0M594.0 990.4h0M594.9 989.8h0M596.9 989.1h0M580.0 988.9h0M595.9 986.5h0M591.1 988.5h0M577.9 989.2h0M592.6 989.5h0M593.6 990.1h0M569.2 1004.9h0M576.2 1002.9h0M589.6 1006.2h0M593.0 1006.2h0M568.7 1007.6h0M586.7 1005.7h0M595.8 1003.2h0M589.6 1004.1h0M593.1 1006.4h0M570.1 1006.4h0M575.2 1006.3h0M582.6 1004.6h0M572.3 1006.7h0M572.8 1007.8h0M572.7 1005.3h0M567.9 1006.0h0M576.9 1007.8h0M582.1 1005.5h0M578.1 1005.9h0M566.6 1004.9h0M577.4 1005.8h0M594.0 1005.2h0M577.1 1004.1h0M571.7 1005.3h0M574.6 1006.0h0M583.0 1005.0h0M591.3 1003.8h0M588.6 1004.5h0M585.3 1005.6h0M595.2 1006.2h0M586.5 1005.4h0M572.6 1002.3h0M571.1 1006.8h0M594.7 1004.6h0M566.3 1006.2h0M590.3 1005.4h0M570.6 1003.4h0M566.5 1004.2h0M572.1 1007.2h0M593.9 1004.6h0M602.2 1021.0h0M594.0 1020.4h0M600.4 1021.2h0M580.3 1022.3h0M587.8 1022.2h0M590.9 1023.2h0M589.6 1022.1h0M597.1 1021.2h0M592.8 1021.8h0M604.2 1021.5h0M597.8 1022.4h0M593.6 1023.0h0M604.4 1021.1h0M593.1 1022.7h0M596.0 1020.4h0M593.1 1023.0h0M584.9 1021.2h0M583.8 1022.6h0M597.0 1021.3h0M627.4 1021.7h0M625.7 1020.9h0M609.6 1021.0h0M617.2 1021.5h0M627.7 1022.4h0M622.7 1021.6h0M618.2 1021.0h0M627.1 1022.2h0M539.0 1037.2h0M540.7 1037.3h0M540.1 1038.5h0M568.4 1036.6h0M550.2 1039.6h0M556.6 1036.3h0M551.2 1036.0h0M552.1 1036.4h0M560.0 1037.0h0M554.3 1037.4h0M559.0 1037.9h0M569.4 1037.4h0M561.5 1037.3h0M557.9 1037.5h0M555.1 1038.2h0M550.1 1037.0h0M552.1 1037.3h0M555.3 1038.1h0M553.7 1039.4h0M605.6 1053.5h0M598.8 1053.0h0M603.2 1052.8h0M596.4 1052.7h0M609.0 1054.0h0M608.1 1054.0h0M595.1 1052.7h0M601.5 1052.7h0M554.0 1085.2h0M558.9 1084.4h0M553.7 1085.4h0M557.1 1084.8h0M564.7 1085.5h0M560.4 1086.4h0M559.0 1084.5h0M558.6 1087.3h0M577.7 1083.3h0M578.8 1082.9h0M577.7 1086.5h0M585.9 1085.5h0M592.4 1084.9h0M591.5 1085.7h0M577.9 1086.1h0M578.4 1083.3h0M578.4 1104.4h0M580.7 1101.1h0M564.9 1101.9h0M564.4 1102.7h0M570.7 1099.4h0M573.3 1099.5h0M573.6 1100.5h0M573.3 1102.8h0M576.6 1104.4h0M564.8 1101.2h0M564.2 1097.8h0M574.6 1103.4h0M579.2 1104.4h0M565.7 1103.3h0M564.0 1101.6h0M564.9 1099.9h0M576.4 1099.6h0M573.1 1103.0h0M569.1 1099.5h0M579.9 1102.2h0M577.8 1101.7h0M576.9 1101.6h0M567.7 1100.3h0M565.4 1101.0h0M573.2 1101.6h0M578.7 1100.4h0M570.1 1100.8h0M595.3 1101.4h0M593.7 1101.5h0M595.2 1101.3h0" stroke="#f6981c" stroke-width="2.3" stroke-linecap="round" stroke-opacity="0.85" fill="none"/>
<path d="M622.9 957.3h0M625.9 957.4h0M622.8 958.2h0M626.5 957.8h0M636.7 957.8h0M538.1 989.8h0M538.9 990.7h0M537.7 989.5h0M536.6 990.4h0M604.4 1005.9h0M595.4 1004.4h0M607.6 1005.7h0M603.8 1005.5h0M602.8 1005.5h0M613.1 1005.6h0M596.8 1006.6h0M595.6 1003.5h0M609.9 1021.8h0M541.8 1070.2h0M544.0 1069.9h0M543.0 1069.7h0" stroke="#d2691e" stroke-width="2.3" stroke-linecap="round" stroke-opacity="0.85" fill="none"/>
<path d="M560.5 941.6h0M556.7 940.2h0M558.4 945.3h0M558.6 941.4h0M559.0 943.1h0M556.3 941.0h0M558.6 944.5h0M552.4 942.1h0M553.3 941.5h0M550.7 942.6h0M556.5 943.1h0M541.6 958.8h0M540.0 957.6h0M540.4 957.0h0M561.5 957.1h0M561.4 961.2h0M565.3 958.9h0M560.8 956.4h0M611.1 957.7h0M571.4 973.3h0M566.1 972.4h0M565.9 973.7h0M567.2 990.1h0M566.4 988.3h0M568.9 989.8h0M599.7 1069.3h0M595.9 1084.9h0M600.7 1085.1h0M597.1 1085.1h0M607.1 1085.2h0M602.8 1084.9h0M573.0 1101.0h0M574.7 1097.8h0M585.9 1101.7h0M571.1 1102.2h0M575.8 1104.4h0" stroke="#1c1c9c" stroke-width="2.3" stroke-linecap="round" stroke-opacity="0.85" fill="none"/>
<text x="573.40" y="1118.40" font-size="7.9" text-anchor="middle" fill="#1a1a1a" >0.0</text>
<text x="620.70" y="1118.40" font-size="7.9" text-anchor="middle" fill="#1a1a1a" >0.5</text>
<text class="k" x="597.50" y="1130.20" font-size="12.0" text-anchor="middle" fill="#1a1a1a" >Effect on Female_Mig_R (%)</text>
<text class="k" transform="translate(483.10,1022.20) rotate(-90)" font-size="12" text-anchor="middle" fill="#1a1a1a">Features importance</text>
<rect x="648.8" y="986.00" width="3.8" height="114.70" fill="url(#cbar)"/>
<line x1="647" y1="986.00" x2="648.8" y2="986.00" stroke="#555" stroke-width="0.6"/>
<text x="645.30" y="988.80" font-size="7.7" text-anchor="end" fill="#1a1a1a" >High</text>
<line x1="647" y1="1043.35" x2="648.8" y2="1043.35" stroke="#555" stroke-width="0.6"/>
<text x="645.30" y="1046.15" font-size="7.7" text-anchor="end" fill="#1a1a1a" >Middle</text>
<line x1="647" y1="1100.70" x2="648.8" y2="1100.70" stroke="#555" stroke-width="0.6"/>
<text x="645.30" y="1103.50" font-size="7.7" text-anchor="end" fill="#1a1a1a" >Low</text>
<text class="k" transform="translate(660.0,1043.35) rotate(-90)" font-size="7.9" text-anchor="middle" fill="#1a1a1a">Feature value</text>
<rect x="532.6" y="933.4" width="129.80" height="176.00" fill="none" stroke="#7a7a7a" stroke-width="1.2"/>
<text class="k" x="676.60" y="927.40" font-size="21.9" text-anchor="end" fill="#1a1a1a" >e. Female</text>
<line x1="0" y1="220.6" x2="685" y2="220.6" stroke="#555" stroke-width="1.3"/>
<line x1="0" y1="449.1" x2="685" y2="449.1" stroke="#555" stroke-width="1.3"/>
<line x1="0" y1="676.9" x2="685" y2="676.9" stroke="#555" stroke-width="1.3"/>
<line x1="0" y1="905.9" x2="685" y2="905.9" stroke="#555" stroke-width="1.3"/>
</svg></body></html>
